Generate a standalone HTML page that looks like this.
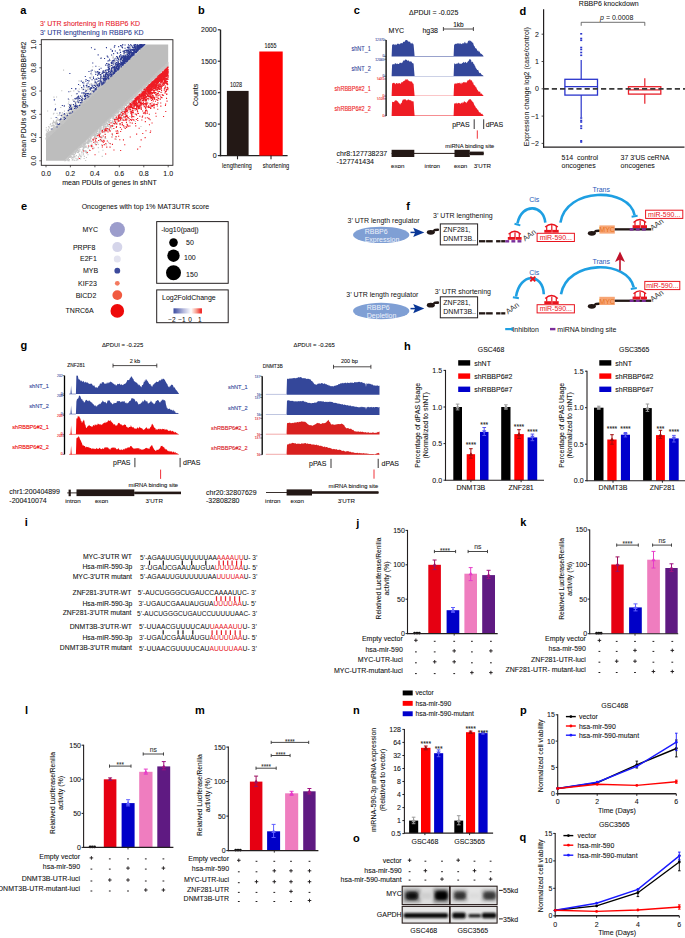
<!DOCTYPE html>
<html><head><meta charset="utf-8"><style>
html,body{margin:0;padding:0;background:#fff;width:685px;height:938px;overflow:hidden}
svg{display:block;font-family:"Liberation Sans", sans-serif}
</style></head><body>
<svg width="685" height="938" viewBox="0 0 685 938" font-family='"Liberation Sans", sans-serif' fill="#111">
<rect width="685" height="938" fill="#fff"/>
<text x="20.2" y="14.0" font-size="11" fill="#000" font-weight="bold">a</text>
<text x="40.0" y="26.3" font-size="7" fill="#e8202a" stroke="#e8202a" stroke-width="0.08">3' UTR shortening in RBBP6 KD</text>
<text x="40.0" y="34.8" font-size="7" fill="#2b3990" stroke="#2b3990" stroke-width="0.08">3' UTR lengthening in RBBP6 KD</text>
<path d="M46.0,160.8 L64.3,160.8 L168.2,65.4 L168.2,44.5 L146.2,44.5 L46.0,135.2Z" fill="#bdbdbd"/>
<path d="M85.0,142.7h1.1v1.1h-1.1zM98.4,128.7h1.1v1.1h-1.1zM112.8,122.8h1.1v1.1h-1.1zM116.7,114.4h1.1v1.1h-1.1zM93.9,131.8h1.1v1.1h-1.1zM111.5,72.1h1.1v1.1h-1.1zM128.8,102.9h1.1v1.1h-1.1zM123.5,64.5h1.1v1.1h-1.1zM132.5,99.9h1.1v1.1h-1.1zM106.1,73.7h1.1v1.1h-1.1zM102.3,82.8h1.1v1.1h-1.1zM75.8,155.1h1.1v1.1h-1.1zM75.3,107.0h1.1v1.1h-1.1zM165.2,67.5h1.1v1.1h-1.1zM65.6,119.3h1.1v1.1h-1.1zM105.2,137.9h1.1v1.1h-1.1zM54.9,128.1h1.1v1.1h-1.1zM88.2,94.1h1.1v1.1h-1.1zM101.2,139.8h1.1v1.1h-1.1zM103.4,122.9h1.1v1.1h-1.1zM131.2,56.0h1.1v1.1h-1.1zM92.6,94.3h1.1v1.1h-1.1zM101.9,128.9h1.1v1.1h-1.1zM105.8,127.9h1.1v1.1h-1.1zM100.3,75.8h1.1v1.1h-1.1zM125.9,104.6h1.1v1.1h-1.1zM117.4,69.1h1.1v1.1h-1.1zM63.3,117.4h1.1v1.1h-1.1zM84.4,146.8h1.1v1.1h-1.1zM108.4,120.9h1.1v1.1h-1.1zM93.6,88.2h1.1v1.1h-1.1zM99.3,128.6h1.1v1.1h-1.1zM111.0,71.9h1.1v1.1h-1.1zM63.6,105.8h1.1v1.1h-1.1zM119.0,68.6h1.1v1.1h-1.1zM83.6,142.0h1.1v1.1h-1.1zM87.3,96.1h1.1v1.1h-1.1zM130.0,98.4h1.1v1.1h-1.1zM111.8,122.0h1.1v1.1h-1.1zM81.9,149.3h1.1v1.1h-1.1zM77.4,96.4h1.1v1.1h-1.1zM88.9,140.3h1.1v1.1h-1.1zM120.4,115.0h1.1v1.1h-1.1zM145.5,83.7h1.1v1.1h-1.1zM105.7,144.3h1.1v1.1h-1.1zM142.0,45.9h1.1v1.1h-1.1zM130.1,55.7h1.1v1.1h-1.1zM90.0,135.9h1.1v1.1h-1.1zM102.9,83.4h1.1v1.1h-1.1zM121.7,108.5h1.1v1.1h-1.1zM125.2,111.2h1.1v1.1h-1.1zM60.1,117.4h1.1v1.1h-1.1zM98.5,88.4h1.1v1.1h-1.1zM136.3,98.0h1.1v1.1h-1.1zM66.2,158.1h1.1v1.1h-1.1zM117.6,62.0h1.1v1.1h-1.1zM63.3,116.7h1.1v1.1h-1.1zM88.3,137.1h1.1v1.1h-1.1zM143.1,88.6h1.1v1.1h-1.1zM69.3,155.2h1.1v1.1h-1.1zM85.3,92.0h1.1v1.1h-1.1zM52.9,120.3h1.1v1.1h-1.1zM126.4,53.1h1.1v1.1h-1.1zM152.8,79.5h1.1v1.1h-1.1zM109.4,127.6h1.1v1.1h-1.1zM140.3,95.2h1.1v1.1h-1.1zM134.1,95.4h1.1v1.1h-1.1zM108.8,71.0h1.1v1.1h-1.1zM79.3,149.2h1.1v1.1h-1.1zM114.1,115.4h1.1v1.1h-1.1zM120.3,112.6h1.1v1.1h-1.1zM100.7,83.0h1.1v1.1h-1.1zM75.7,97.1h1.1v1.1h-1.1zM154.5,83.5h1.1v1.1h-1.1zM84.1,143.9h1.1v1.1h-1.1zM71.4,106.6h1.1v1.1h-1.1zM155.1,88.1h1.1v1.1h-1.1zM124.1,63.7h1.1v1.1h-1.1zM65.3,159.7h1.1v1.1h-1.1zM98.2,87.0h1.1v1.1h-1.1zM69.4,116.0h1.1v1.1h-1.1zM90.2,92.5h1.1v1.1h-1.1zM99.3,129.0h1.1v1.1h-1.1zM108.7,75.4h1.1v1.1h-1.1zM58.3,125.5h1.1v1.1h-1.1zM156.2,74.0h1.1v1.1h-1.1zM61.3,114.3h1.1v1.1h-1.1zM128.1,58.0h1.1v1.1h-1.1zM111.0,70.6h1.1v1.1h-1.1zM67.9,158.0h1.1v1.1h-1.1zM78.2,146.8h1.1v1.1h-1.1zM132.2,113.4h1.1v1.1h-1.1zM77.5,148.4h1.1v1.1h-1.1zM83.6,99.1h1.1v1.1h-1.1zM70.6,111.7h1.1v1.1h-1.1zM67.2,110.1h1.1v1.1h-1.1zM167.0,62.1h1.1v1.1h-1.1zM135.0,96.2h1.1v1.1h-1.1zM75.5,110.2h1.1v1.1h-1.1zM112.2,57.4h1.1v1.1h-1.1zM87.3,140.6h1.1v1.1h-1.1zM87.9,146.8h1.1v1.1h-1.1zM47.2,134.7h1.1v1.1h-1.1zM52.2,122.2h1.1v1.1h-1.1zM127.4,56.6h1.1v1.1h-1.1zM130.1,100.4h1.1v1.1h-1.1zM64.7,121.0h1.1v1.1h-1.1zM89.9,78.1h1.1v1.1h-1.1zM112.3,114.3h1.1v1.1h-1.1zM153.3,77.4h1.1v1.1h-1.1zM45.6,138.7h1.1v1.1h-1.1zM79.5,146.7h1.1v1.1h-1.1zM140.3,89.0h1.1v1.1h-1.1zM56.4,124.3h1.1v1.1h-1.1zM93.6,91.6h1.1v1.1h-1.1zM73.9,156.2h1.1v1.1h-1.1zM132.9,48.5h1.1v1.1h-1.1zM133.5,54.7h1.1v1.1h-1.1zM133.9,93.7h1.1v1.1h-1.1zM144.7,95.8h1.1v1.1h-1.1zM137.5,99.3h1.1v1.1h-1.1zM116.8,110.2h1.1v1.1h-1.1zM50.6,117.7h1.1v1.1h-1.1zM91.5,91.2h1.1v1.1h-1.1zM122.2,108.2h1.1v1.1h-1.1zM106.9,124.8h1.1v1.1h-1.1zM53.5,130.1h1.1v1.1h-1.1zM54.5,129.3h1.1v1.1h-1.1zM137.9,96.8h1.1v1.1h-1.1zM54.8,122.8h1.1v1.1h-1.1zM120.8,106.4h1.1v1.1h-1.1zM63.5,116.7h1.1v1.1h-1.1zM130.1,97.2h1.1v1.1h-1.1zM52.9,113.5h1.1v1.1h-1.1zM81.0,102.2h1.1v1.1h-1.1zM102.4,149.7h1.1v1.1h-1.1zM112.5,55.5h1.1v1.1h-1.1zM159.9,70.6h1.1v1.1h-1.1zM54.8,103.7h1.1v1.1h-1.1zM92.7,133.1h1.1v1.1h-1.1zM56.5,112.8h1.1v1.1h-1.1zM61.7,112.5h1.1v1.1h-1.1zM131.4,99.5h1.1v1.1h-1.1zM45.9,132.9h1.1v1.1h-1.1zM95.0,133.4h1.1v1.1h-1.1zM91.4,143.6h1.1v1.1h-1.1zM45.7,129.6h1.1v1.1h-1.1zM53.4,96.6h1.1v1.1h-1.1zM117.4,57.2h1.1v1.1h-1.1zM137.8,91.5h1.1v1.1h-1.1zM51.8,128.0h1.1v1.1h-1.1zM63.6,119.0h1.1v1.1h-1.1zM84.0,94.6h1.1v1.1h-1.1zM97.7,136.7h1.1v1.1h-1.1zM122.5,111.0h1.1v1.1h-1.1zM51.5,130.4h1.1v1.1h-1.1zM137.4,48.3h1.1v1.1h-1.1zM156.9,72.6h1.1v1.1h-1.1zM96.1,89.2h1.1v1.1h-1.1zM135.8,50.6h1.1v1.1h-1.1zM74.6,107.3h1.1v1.1h-1.1zM93.6,137.2h1.1v1.1h-1.1zM54.6,126.4h1.1v1.1h-1.1zM100.8,57.1h1.1v1.1h-1.1zM100.4,129.5h1.1v1.1h-1.1zM75.3,151.5h1.1v1.1h-1.1zM144.4,95.0h1.1v1.1h-1.1zM137.1,49.6h1.1v1.1h-1.1zM136.6,93.4h1.1v1.1h-1.1zM86.8,142.0h1.1v1.1h-1.1zM115.6,71.8h1.1v1.1h-1.1zM107.0,119.7h1.1v1.1h-1.1zM99.9,77.6h1.1v1.1h-1.1zM152.1,76.9h1.1v1.1h-1.1zM97.4,71.8h1.1v1.1h-1.1zM105.3,123.3h1.1v1.1h-1.1zM75.8,150.1h1.1v1.1h-1.1zM133.6,54.9h1.1v1.1h-1.1zM140.4,95.3h1.1v1.1h-1.1zM73.9,156.1h1.1v1.1h-1.1zM82.6,147.5h1.1v1.1h-1.1zM110.0,71.6h1.1v1.1h-1.1zM160.8,70.5h1.1v1.1h-1.1zM72.8,151.7h1.1v1.1h-1.1zM82.3,102.5h1.1v1.1h-1.1zM84.1,144.3h1.1v1.1h-1.1zM74.1,150.5h1.1v1.1h-1.1zM95.8,91.1h1.1v1.1h-1.1zM69.2,116.3h1.1v1.1h-1.1zM73.3,99.3h1.1v1.1h-1.1zM73.2,157.5h1.1v1.1h-1.1zM133.2,49.8h1.1v1.1h-1.1zM69.7,109.2h1.1v1.1h-1.1zM107.1,122.6h1.1v1.1h-1.1zM69.9,155.8h1.1v1.1h-1.1zM72.5,113.0h1.1v1.1h-1.1zM121.7,117.0h1.1v1.1h-1.1zM104.7,136.8h1.1v1.1h-1.1zM63.3,122.0h1.1v1.1h-1.1zM132.2,97.8h1.1v1.1h-1.1zM167.3,63.8h1.1v1.1h-1.1zM68.1,117.6h1.1v1.1h-1.1zM126.6,52.5h1.1v1.1h-1.1zM45.8,138.5h1.1v1.1h-1.1zM96.8,133.1h1.1v1.1h-1.1zM138.2,48.8h1.1v1.1h-1.1zM131.6,98.1h1.1v1.1h-1.1zM157.8,72.8h1.1v1.1h-1.1zM135.6,53.4h1.1v1.1h-1.1zM95.6,91.3h1.1v1.1h-1.1zM86.4,140.3h1.1v1.1h-1.1zM81.8,143.2h1.1v1.1h-1.1zM74.0,105.5h1.1v1.1h-1.1zM102.4,77.0h1.1v1.1h-1.1zM106.1,128.4h1.1v1.1h-1.1zM135.7,96.7h1.1v1.1h-1.1zM85.5,98.0h1.1v1.1h-1.1zM141.2,90.3h1.1v1.1h-1.1zM93.3,133.6h1.1v1.1h-1.1zM112.0,134.9h1.1v1.1h-1.1zM153.4,76.6h1.1v1.1h-1.1zM61.7,118.8h1.1v1.1h-1.1zM127.8,107.2h1.1v1.1h-1.1zM81.4,100.8h1.1v1.1h-1.1zM91.0,94.8h1.1v1.1h-1.1zM75.7,150.3h1.1v1.1h-1.1zM79.8,147.0h1.1v1.1h-1.1zM93.8,135.3h1.1v1.1h-1.1zM73.7,156.3h1.1v1.1h-1.1zM166.5,62.5h1.1v1.1h-1.1zM153.3,84.6h1.1v1.1h-1.1zM157.2,82.3h1.1v1.1h-1.1zM73.9,151.7h1.1v1.1h-1.1zM164.3,78.5h1.1v1.1h-1.1zM90.9,137.5h1.1v1.1h-1.1zM77.2,148.0h1.1v1.1h-1.1zM118.3,68.7h1.1v1.1h-1.1zM90.5,135.1h1.1v1.1h-1.1zM167.6,66.2h1.1v1.1h-1.1zM125.1,110.7h1.1v1.1h-1.1zM68.1,117.4h1.1v1.1h-1.1zM49.3,131.5h1.1v1.1h-1.1zM126.6,105.8h1.1v1.1h-1.1zM78.6,102.0h1.1v1.1h-1.1zM96.5,131.1h1.1v1.1h-1.1zM114.7,70.6h1.1v1.1h-1.1zM47.7,131.8h1.1v1.1h-1.1zM93.2,92.7h1.1v1.1h-1.1zM90.0,136.0h1.1v1.1h-1.1zM156.6,76.3h1.1v1.1h-1.1zM158.8,70.7h1.1v1.1h-1.1zM80.1,158.3h1.1v1.1h-1.1zM58.7,119.3h1.1v1.1h-1.1zM142.3,87.4h1.1v1.1h-1.1zM147.8,99.7h1.1v1.1h-1.1zM104.4,126.4h1.1v1.1h-1.1zM123.2,116.0h1.1v1.1h-1.1zM121.3,110.9h1.1v1.1h-1.1zM69.4,115.5h1.1v1.1h-1.1zM72.1,99.3h1.1v1.1h-1.1zM64.6,120.4h1.1v1.1h-1.1zM75.6,149.2h1.1v1.1h-1.1zM114.2,118.1h1.1v1.1h-1.1zM85.1,96.8h1.1v1.1h-1.1zM112.7,69.9h1.1v1.1h-1.1zM83.1,144.8h1.1v1.1h-1.1zM126.0,59.0h1.1v1.1h-1.1zM105.3,123.9h1.1v1.1h-1.1zM121.0,57.9h1.1v1.1h-1.1zM144.5,44.5h1.1v1.1h-1.1zM61.1,122.0h1.1v1.1h-1.1zM143.5,84.6h1.1v1.1h-1.1zM61.4,116.3h1.1v1.1h-1.1zM108.0,125.5h1.1v1.1h-1.1zM154.8,73.8h1.1v1.1h-1.1zM144.6,89.4h1.1v1.1h-1.1zM133.6,94.2h1.1v1.1h-1.1zM88.3,97.6h1.1v1.1h-1.1zM101.2,82.6h1.1v1.1h-1.1zM157.9,75.4h1.1v1.1h-1.1zM120.7,108.1h1.1v1.1h-1.1zM123.2,59.3h1.1v1.1h-1.1zM154.9,81.8h1.1v1.1h-1.1zM77.8,152.2h1.1v1.1h-1.1zM89.4,93.2h1.1v1.1h-1.1zM116.3,111.8h1.1v1.1h-1.1zM110.9,70.0h1.1v1.1h-1.1zM90.8,71.7h1.1v1.1h-1.1zM116.0,70.1h1.1v1.1h-1.1zM136.3,93.1h1.1v1.1h-1.1zM108.5,74.0h1.1v1.1h-1.1zM136.7,91.7h1.1v1.1h-1.1zM120.7,64.8h1.1v1.1h-1.1zM89.9,136.1h1.1v1.1h-1.1zM73.2,151.4h1.1v1.1h-1.1zM45.8,137.1h1.1v1.1h-1.1zM109.4,119.6h1.1v1.1h-1.1zM82.3,143.9h1.1v1.1h-1.1zM121.7,65.8h1.1v1.1h-1.1zM100.5,130.6h1.1v1.1h-1.1zM77.7,147.3h1.1v1.1h-1.1zM116.1,70.5h1.1v1.1h-1.1zM155.9,72.9h1.1v1.1h-1.1zM112.8,114.4h1.1v1.1h-1.1zM69.8,107.3h1.1v1.1h-1.1zM66.8,118.7h1.1v1.1h-1.1zM121.9,59.9h1.1v1.1h-1.1zM46.2,131.4h1.1v1.1h-1.1zM102.3,84.2h1.1v1.1h-1.1zM50.2,123.2h1.1v1.1h-1.1zM78.0,102.3h1.1v1.1h-1.1zM158.9,70.2h1.1v1.1h-1.1zM107.5,120.3h1.1v1.1h-1.1zM136.6,51.4h1.1v1.1h-1.1zM93.0,135.0h1.1v1.1h-1.1zM110.3,126.2h1.1v1.1h-1.1zM98.9,131.3h1.1v1.1h-1.1zM83.1,144.5h1.1v1.1h-1.1zM117.0,110.4h1.1v1.1h-1.1zM122.9,111.0h1.1v1.1h-1.1zM53.5,130.5h1.1v1.1h-1.1zM162.1,77.8h1.1v1.1h-1.1zM137.8,50.8h1.1v1.1h-1.1zM70.6,153.9h1.1v1.1h-1.1zM161.4,76.4h1.1v1.1h-1.1zM122.6,62.5h1.1v1.1h-1.1zM86.6,100.1h1.1v1.1h-1.1zM76.8,109.2h1.1v1.1h-1.1zM119.0,59.3h1.1v1.1h-1.1zM121.0,113.9h1.1v1.1h-1.1zM131.6,102.3h1.1v1.1h-1.1zM137.2,90.4h1.1v1.1h-1.1zM105.4,76.0h1.1v1.1h-1.1zM73.7,151.4h1.1v1.1h-1.1zM123.2,107.2h1.1v1.1h-1.1zM166.6,67.6h1.1v1.1h-1.1zM88.9,84.2h1.1v1.1h-1.1zM154.4,76.8h1.1v1.1h-1.1zM124.4,63.0h1.1v1.1h-1.1zM77.6,149.6h1.1v1.1h-1.1zM153.5,90.0h1.1v1.1h-1.1zM85.4,150.3h1.1v1.1h-1.1zM100.5,86.0h1.1v1.1h-1.1zM99.1,83.8h1.1v1.1h-1.1zM60.9,119.3h1.1v1.1h-1.1zM130.6,98.3h1.1v1.1h-1.1zM137.7,96.6h1.1v1.1h-1.1zM88.1,139.2h1.1v1.1h-1.1zM68.6,156.6h1.1v1.1h-1.1zM125.8,103.7h1.1v1.1h-1.1zM98.6,127.7h1.1v1.1h-1.1zM92.9,132.6h1.1v1.1h-1.1zM106.6,77.9h1.1v1.1h-1.1zM62.8,122.8h1.1v1.1h-1.1zM75.1,104.8h1.1v1.1h-1.1zM117.2,61.2h1.1v1.1h-1.1zM127.1,106.0h1.1v1.1h-1.1zM123.8,61.7h1.1v1.1h-1.1zM77.2,159.3h1.1v1.1h-1.1zM75.1,104.6h1.1v1.1h-1.1zM122.4,56.2h1.1v1.1h-1.1zM104.4,126.6h1.1v1.1h-1.1zM95.5,141.9h1.1v1.1h-1.1zM85.5,142.1h1.1v1.1h-1.1zM105.3,120.9h1.1v1.1h-1.1zM111.8,121.1h1.1v1.1h-1.1zM161.7,70.9h1.1v1.1h-1.1zM57.8,123.5h1.1v1.1h-1.1zM133.1,99.6h1.1v1.1h-1.1zM161.3,91.7h1.1v1.1h-1.1zM120.5,107.8h1.1v1.1h-1.1zM92.1,133.4h1.1v1.1h-1.1zM96.6,85.5h1.1v1.1h-1.1zM127.9,60.2h1.1v1.1h-1.1zM82.5,89.3h1.1v1.1h-1.1zM109.9,143.4h1.1v1.1h-1.1zM123.0,60.2h1.1v1.1h-1.1zM133.5,96.2h1.1v1.1h-1.1zM123.5,61.7h1.1v1.1h-1.1zM81.4,151.4h1.1v1.1h-1.1zM102.8,124.7h1.1v1.1h-1.1zM91.4,74.3h1.1v1.1h-1.1zM128.4,60.4h1.1v1.1h-1.1zM133.7,53.1h1.1v1.1h-1.1zM125.4,59.8h1.1v1.1h-1.1zM97.8,133.5h1.1v1.1h-1.1zM89.7,87.1h1.1v1.1h-1.1zM52.4,124.7h1.1v1.1h-1.1zM62.6,117.7h1.1v1.1h-1.1zM54.2,129.4h1.1v1.1h-1.1zM68.1,115.5h1.1v1.1h-1.1zM64.1,113.4h1.1v1.1h-1.1zM130.1,104.2h1.1v1.1h-1.1zM99.0,130.9h1.1v1.1h-1.1zM77.8,156.1h1.1v1.1h-1.1zM103.3,126.1h1.1v1.1h-1.1zM65.6,159.5h1.1v1.1h-1.1zM84.6,96.3h1.1v1.1h-1.1zM167.6,62.4h1.1v1.1h-1.1zM89.5,135.9h1.1v1.1h-1.1zM51.1,125.3h1.1v1.1h-1.1zM56.9,124.9h1.1v1.1h-1.1zM155.1,74.6h1.1v1.1h-1.1zM96.2,131.5h1.1v1.1h-1.1zM140.6,88.9h1.1v1.1h-1.1zM87.2,95.3h1.1v1.1h-1.1zM105.8,78.2h1.1v1.1h-1.1zM78.7,88.4h1.1v1.1h-1.1zM125.4,103.7h1.1v1.1h-1.1zM84.2,101.7h1.1v1.1h-1.1zM164.3,72.6h1.1v1.1h-1.1zM50.3,130.5h1.1v1.1h-1.1zM51.5,132.9h1.1v1.1h-1.1zM51.1,129.0h1.1v1.1h-1.1zM125.9,57.8h1.1v1.1h-1.1zM122.0,106.0h1.1v1.1h-1.1zM127.0,56.6h1.1v1.1h-1.1zM97.0,141.5h1.1v1.1h-1.1zM125.6,52.3h1.1v1.1h-1.1zM62.4,118.9h1.1v1.1h-1.1zM77.0,108.2h1.1v1.1h-1.1zM123.9,106.7h1.1v1.1h-1.1zM109.3,124.7h1.1v1.1h-1.1zM96.9,87.3h1.1v1.1h-1.1zM47.2,133.0h1.1v1.1h-1.1zM166.8,65.6h1.1v1.1h-1.1zM95.8,130.2h1.1v1.1h-1.1zM103.2,127.9h1.1v1.1h-1.1zM97.6,134.1h1.1v1.1h-1.1zM60.3,125.1h1.1v1.1h-1.1zM133.4,97.2h1.1v1.1h-1.1zM136.4,93.5h1.1v1.1h-1.1zM136.8,97.6h1.1v1.1h-1.1zM55.8,126.3h1.1v1.1h-1.1zM83.6,157.9h1.1v1.1h-1.1zM147.5,82.6h1.1v1.1h-1.1zM124.3,60.9h1.1v1.1h-1.1zM141.3,46.3h1.1v1.1h-1.1zM52.9,121.6h1.1v1.1h-1.1zM134.1,102.6h1.1v1.1h-1.1zM118.9,64.8h1.1v1.1h-1.1zM164.8,66.6h1.1v1.1h-1.1zM129.1,106.7h1.1v1.1h-1.1zM80.1,146.8h1.1v1.1h-1.1zM78.2,151.1h1.1v1.1h-1.1zM145.2,84.6h1.1v1.1h-1.1zM55.8,121.1h1.1v1.1h-1.1zM69.9,156.3h1.1v1.1h-1.1zM52.5,129.3h1.1v1.1h-1.1zM70.7,110.7h1.1v1.1h-1.1zM46.6,135.0h1.1v1.1h-1.1zM56.2,121.4h1.1v1.1h-1.1zM73.9,100.9h1.1v1.1h-1.1zM109.2,74.9h1.1v1.1h-1.1zM70.1,155.3h1.1v1.1h-1.1zM67.5,115.9h1.1v1.1h-1.1zM114.4,65.8h1.1v1.1h-1.1zM150.2,78.3h1.1v1.1h-1.1zM90.9,88.0h1.1v1.1h-1.1zM108.9,117.8h1.1v1.1h-1.1zM70.5,110.9h1.1v1.1h-1.1zM71.5,111.6h1.1v1.1h-1.1zM161.1,69.2h1.1v1.1h-1.1zM91.7,134.0h1.1v1.1h-1.1zM113.6,71.0h1.1v1.1h-1.1zM148.8,89.8h1.1v1.1h-1.1zM123.6,109.7h1.1v1.1h-1.1zM56.4,124.5h1.1v1.1h-1.1zM123.7,63.8h1.1v1.1h-1.1zM166.6,63.3h1.1v1.1h-1.1zM113.0,122.9h1.1v1.1h-1.1zM51.2,133.5h1.1v1.1h-1.1zM128.2,55.9h1.1v1.1h-1.1zM99.4,129.7h1.1v1.1h-1.1zM90.9,95.4h1.1v1.1h-1.1zM104.3,124.8h1.1v1.1h-1.1zM144.1,87.1h1.1v1.1h-1.1zM157.0,72.5h1.1v1.1h-1.1zM147.2,95.1h1.1v1.1h-1.1zM151.4,84.8h1.1v1.1h-1.1zM122.2,47.5h1.1v1.1h-1.1zM84.9,143.6h1.1v1.1h-1.1zM122.2,106.7h1.1v1.1h-1.1zM135.4,98.6h1.1v1.1h-1.1zM113.1,116.4h1.1v1.1h-1.1zM63.7,119.2h1.1v1.1h-1.1zM64.5,116.8h1.1v1.1h-1.1zM81.7,144.8h1.1v1.1h-1.1zM58.8,114.4h1.1v1.1h-1.1zM141.7,90.4h1.1v1.1h-1.1zM147.5,82.1h1.1v1.1h-1.1zM70.1,112.9h1.1v1.1h-1.1zM57.4,125.2h1.1v1.1h-1.1zM65.3,119.6h1.1v1.1h-1.1zM123.6,56.3h1.1v1.1h-1.1zM87.1,141.1h1.1v1.1h-1.1zM141.9,46.4h1.1v1.1h-1.1zM98.6,87.4h1.1v1.1h-1.1zM115.3,121.0h1.1v1.1h-1.1zM109.2,123.5h1.1v1.1h-1.1zM131.9,100.0h1.1v1.1h-1.1zM108.9,121.1h1.1v1.1h-1.1zM87.9,89.2h1.1v1.1h-1.1zM95.5,90.9h1.1v1.1h-1.1zM126.8,101.4h1.1v1.1h-1.1zM131.3,98.3h1.1v1.1h-1.1zM159.4,70.0h1.1v1.1h-1.1zM132.8,48.3h1.1v1.1h-1.1zM151.5,78.5h1.1v1.1h-1.1zM58.6,123.7h1.1v1.1h-1.1zM163.7,70.2h1.1v1.1h-1.1zM66.0,118.3h1.1v1.1h-1.1zM145.3,82.8h1.1v1.1h-1.1zM158.6,71.6h1.1v1.1h-1.1zM131.3,98.2h1.1v1.1h-1.1zM60.5,120.4h1.1v1.1h-1.1zM138.5,89.8h1.1v1.1h-1.1zM95.0,134.6h1.1v1.1h-1.1zM73.2,152.1h1.1v1.1h-1.1zM115.5,71.8h1.1v1.1h-1.1zM118.4,110.9h1.1v1.1h-1.1zM74.8,104.8h1.1v1.1h-1.1zM149.0,81.2h1.1v1.1h-1.1zM63.4,120.8h1.1v1.1h-1.1zM97.0,131.0h1.1v1.1h-1.1zM110.3,118.0h1.1v1.1h-1.1zM70.0,155.7h1.1v1.1h-1.1zM96.9,82.5h1.1v1.1h-1.1zM159.9,77.4h1.1v1.1h-1.1zM153.5,75.0h1.1v1.1h-1.1zM123.9,51.6h1.1v1.1h-1.1zM121.6,110.3h1.1v1.1h-1.1zM76.1,151.5h1.1v1.1h-1.1zM87.9,137.9h1.1v1.1h-1.1zM118.1,69.7h1.1v1.1h-1.1zM117.6,112.1h1.1v1.1h-1.1zM108.0,66.9h1.1v1.1h-1.1zM116.0,70.7h1.1v1.1h-1.1zM56.2,119.5h1.1v1.1h-1.1zM120.0,112.3h1.1v1.1h-1.1zM70.0,112.7h1.1v1.1h-1.1zM112.4,72.3h1.1v1.1h-1.1zM83.4,143.7h1.1v1.1h-1.1zM68.5,99.1h1.1v1.1h-1.1zM93.9,92.3h1.1v1.1h-1.1zM105.5,71.1h1.1v1.1h-1.1zM88.0,141.0h1.1v1.1h-1.1zM128.3,101.7h1.1v1.1h-1.1zM127.1,105.9h1.1v1.1h-1.1zM120.8,58.6h1.1v1.1h-1.1zM108.7,77.5h1.1v1.1h-1.1zM122.5,107.1h1.1v1.1h-1.1zM58.1,119.7h1.1v1.1h-1.1zM117.0,68.5h1.1v1.1h-1.1zM166.8,65.0h1.1v1.1h-1.1zM141.2,89.1h1.1v1.1h-1.1zM100.7,84.9h1.1v1.1h-1.1zM88.5,95.7h1.1v1.1h-1.1zM113.3,69.3h1.1v1.1h-1.1zM46.3,136.0h1.1v1.1h-1.1zM82.1,95.9h1.1v1.1h-1.1zM98.7,84.1h1.1v1.1h-1.1zM56.2,127.0h1.1v1.1h-1.1zM148.5,96.3h1.1v1.1h-1.1zM70.4,103.9h1.1v1.1h-1.1zM162.3,66.8h1.1v1.1h-1.1zM114.5,71.7h1.1v1.1h-1.1zM111.0,72.9h1.1v1.1h-1.1zM89.2,94.6h1.1v1.1h-1.1zM57.5,124.2h1.1v1.1h-1.1zM124.7,113.4h1.1v1.1h-1.1zM136.7,91.9h1.1v1.1h-1.1zM84.3,149.9h1.1v1.1h-1.1zM108.1,123.7h1.1v1.1h-1.1zM81.5,96.0h1.1v1.1h-1.1zM109.5,120.4h1.1v1.1h-1.1zM68.4,156.1h1.1v1.1h-1.1zM114.5,114.3h1.1v1.1h-1.1zM166.9,68.3h1.1v1.1h-1.1zM129.9,110.4h1.1v1.1h-1.1zM94.0,136.1h1.1v1.1h-1.1zM127.1,101.0h1.1v1.1h-1.1zM154.9,78.0h1.1v1.1h-1.1zM95.7,130.7h1.1v1.1h-1.1zM108.8,117.6h1.1v1.1h-1.1zM54.8,121.4h1.1v1.1h-1.1zM120.4,111.9h1.1v1.1h-1.1zM129.1,58.9h1.1v1.1h-1.1zM74.6,110.6h1.1v1.1h-1.1zM78.0,157.0h1.1v1.1h-1.1zM161.3,69.7h1.1v1.1h-1.1zM100.4,86.9h1.1v1.1h-1.1zM72.3,109.2h1.1v1.1h-1.1zM74.6,150.2h1.1v1.1h-1.1zM159.2,71.4h1.1v1.1h-1.1zM119.1,48.9h1.1v1.1h-1.1zM53.7,125.6h1.1v1.1h-1.1zM116.9,69.4h1.1v1.1h-1.1zM151.5,77.7h1.1v1.1h-1.1zM89.2,136.1h1.1v1.1h-1.1zM59.5,123.8h1.1v1.1h-1.1zM125.0,104.8h1.1v1.1h-1.1zM157.0,74.1h1.1v1.1h-1.1zM102.5,83.6h1.1v1.1h-1.1zM64.5,160.1h1.1v1.1h-1.1zM78.4,150.6h1.1v1.1h-1.1zM102.5,124.3h1.1v1.1h-1.1zM88.6,95.8h1.1v1.1h-1.1zM162.6,68.1h1.1v1.1h-1.1zM103.6,123.7h1.1v1.1h-1.1zM100.8,140.0h1.1v1.1h-1.1zM90.4,137.6h1.1v1.1h-1.1zM107.8,129.1h1.1v1.1h-1.1zM78.5,107.7h1.1v1.1h-1.1zM133.2,96.1h1.1v1.1h-1.1zM93.1,138.6h1.1v1.1h-1.1zM140.3,89.5h1.1v1.1h-1.1zM126.4,101.0h1.1v1.1h-1.1zM133.3,95.5h1.1v1.1h-1.1zM60.9,122.9h1.1v1.1h-1.1zM94.7,84.6h1.1v1.1h-1.1zM153.3,89.5h1.1v1.1h-1.1zM67.0,112.8h1.1v1.1h-1.1zM126.5,50.2h1.1v1.1h-1.1zM48.5,134.9h1.1v1.1h-1.1zM57.4,127.3h1.1v1.1h-1.1zM157.0,78.1h1.1v1.1h-1.1zM98.1,88.3h1.1v1.1h-1.1zM135.7,48.3h1.1v1.1h-1.1zM160.5,72.6h1.1v1.1h-1.1zM127.3,47.0h1.1v1.1h-1.1zM59.1,114.2h1.1v1.1h-1.1zM152.4,95.0h1.1v1.1h-1.1zM128.7,106.7h1.1v1.1h-1.1zM71.1,107.6h1.1v1.1h-1.1zM56.0,96.5h1.1v1.1h-1.1zM120.6,107.9h1.1v1.1h-1.1zM56.4,125.8h1.1v1.1h-1.1zM87.0,96.0h1.1v1.1h-1.1zM128.1,101.9h1.1v1.1h-1.1zM108.0,121.7h1.1v1.1h-1.1zM68.6,116.3h1.1v1.1h-1.1zM76.0,149.6h1.1v1.1h-1.1zM87.9,138.5h1.1v1.1h-1.1zM83.4,147.6h1.1v1.1h-1.1zM104.9,81.3h1.1v1.1h-1.1zM75.0,110.5h1.1v1.1h-1.1zM123.8,64.0h1.1v1.1h-1.1zM131.9,97.5h1.1v1.1h-1.1zM101.8,76.4h1.1v1.1h-1.1zM59.4,125.9h1.1v1.1h-1.1zM104.9,121.4h1.1v1.1h-1.1zM79.8,145.6h1.1v1.1h-1.1zM83.2,142.7h1.1v1.1h-1.1zM99.8,85.8h1.1v1.1h-1.1zM113.6,112.9h1.1v1.1h-1.1zM133.1,55.3h1.1v1.1h-1.1zM105.2,79.0h1.1v1.1h-1.1zM141.2,48.1h1.1v1.1h-1.1zM93.8,133.6h1.1v1.1h-1.1zM68.1,156.7h1.1v1.1h-1.1zM133.3,48.6h1.1v1.1h-1.1zM85.4,145.2h1.1v1.1h-1.1zM89.0,138.7h1.1v1.1h-1.1zM112.8,65.7h1.1v1.1h-1.1zM76.4,148.4h1.1v1.1h-1.1zM114.7,61.1h1.1v1.1h-1.1zM134.7,49.5h1.1v1.1h-1.1zM122.0,110.9h1.1v1.1h-1.1zM65.4,115.0h1.1v1.1h-1.1zM94.5,141.0h1.1v1.1h-1.1zM104.0,128.7h1.1v1.1h-1.1zM45.8,138.2h1.1v1.1h-1.1zM96.9,90.0h1.1v1.1h-1.1zM65.5,120.2h1.1v1.1h-1.1zM102.7,81.0h1.1v1.1h-1.1zM97.8,147.1h1.1v1.1h-1.1zM163.0,74.6h1.1v1.1h-1.1zM52.8,127.4h1.1v1.1h-1.1zM81.7,88.8h1.1v1.1h-1.1zM104.2,123.6h1.1v1.1h-1.1zM87.4,147.6h1.1v1.1h-1.1zM72.6,107.3h1.1v1.1h-1.1zM63.4,118.0h1.1v1.1h-1.1zM114.5,72.0h1.1v1.1h-1.1zM73.2,155.4h1.1v1.1h-1.1zM59.2,120.8h1.1v1.1h-1.1zM68.4,111.0h1.1v1.1h-1.1zM73.2,111.6h1.1v1.1h-1.1zM115.4,118.1h1.1v1.1h-1.1zM156.6,81.9h1.1v1.1h-1.1zM128.5,59.5h1.1v1.1h-1.1zM106.9,124.3h1.1v1.1h-1.1zM162.8,69.2h1.1v1.1h-1.1zM129.3,115.9h1.1v1.1h-1.1zM68.9,109.2h1.1v1.1h-1.1zM118.1,111.8h1.1v1.1h-1.1zM154.0,78.7h1.1v1.1h-1.1zM136.5,44.1h1.1v1.1h-1.1zM135.4,101.2h1.1v1.1h-1.1zM60.4,121.3h1.1v1.1h-1.1zM109.6,71.6h1.1v1.1h-1.1zM50.8,133.7h1.1v1.1h-1.1zM112.5,114.0h1.1v1.1h-1.1zM156.7,73.4h1.1v1.1h-1.1zM69.1,116.7h1.1v1.1h-1.1zM77.0,151.9h1.1v1.1h-1.1zM80.9,96.1h1.1v1.1h-1.1zM117.3,66.8h1.1v1.1h-1.1zM47.1,110.5h1.1v1.1h-1.1zM105.0,71.9h1.1v1.1h-1.1zM143.3,85.0h1.1v1.1h-1.1zM121.3,57.5h1.1v1.1h-1.1zM152.1,78.5h1.1v1.1h-1.1zM110.0,66.1h1.1v1.1h-1.1zM117.5,110.4h1.1v1.1h-1.1zM102.7,82.9h1.1v1.1h-1.1zM86.4,98.2h1.1v1.1h-1.1zM48.0,126.0h1.1v1.1h-1.1zM119.8,113.7h1.1v1.1h-1.1zM63.0,120.9h1.1v1.1h-1.1zM106.6,78.9h1.1v1.1h-1.1zM115.5,136.4h1.1v1.1h-1.1zM140.1,90.0h1.1v1.1h-1.1zM79.9,155.7h1.1v1.1h-1.1zM160.2,70.4h1.1v1.1h-1.1zM138.7,46.8h1.1v1.1h-1.1zM123.1,54.6h1.1v1.1h-1.1zM132.9,55.8h1.1v1.1h-1.1zM86.7,88.8h1.1v1.1h-1.1zM144.3,44.3h1.1v1.1h-1.1zM70.5,112.7h1.1v1.1h-1.1zM93.9,79.4h1.1v1.1h-1.1zM117.2,111.3h1.1v1.1h-1.1zM83.1,103.0h1.1v1.1h-1.1zM68.7,160.2h1.1v1.1h-1.1zM82.6,81.0h1.1v1.1h-1.1zM89.1,91.1h1.1v1.1h-1.1zM66.9,114.8h1.1v1.1h-1.1zM138.1,49.7h1.1v1.1h-1.1zM69.9,105.6h1.1v1.1h-1.1zM124.6,103.8h1.1v1.1h-1.1zM55.1,123.4h1.1v1.1h-1.1zM46.1,134.7h1.1v1.1h-1.1zM71.4,104.0h1.1v1.1h-1.1zM48.8,133.4h1.1v1.1h-1.1zM128.4,59.3h1.1v1.1h-1.1zM150.9,77.8h1.1v1.1h-1.1zM120.3,45.0h1.1v1.1h-1.1zM94.3,82.0h1.1v1.1h-1.1zM48.6,132.0h1.1v1.1h-1.1zM166.1,65.7h1.1v1.1h-1.1zM132.2,55.8h1.1v1.1h-1.1zM139.2,90.8h1.1v1.1h-1.1zM89.7,93.2h1.1v1.1h-1.1zM117.4,114.9h1.1v1.1h-1.1zM119.0,68.0h1.1v1.1h-1.1zM121.1,59.8h1.1v1.1h-1.1zM112.6,71.1h1.1v1.1h-1.1zM89.6,96.6h1.1v1.1h-1.1zM46.6,137.7h1.1v1.1h-1.1zM144.3,44.4h1.1v1.1h-1.1zM122.3,58.8h1.1v1.1h-1.1zM67.7,111.2h1.1v1.1h-1.1zM155.8,76.6h1.1v1.1h-1.1zM88.3,139.9h1.1v1.1h-1.1zM150.5,83.0h1.1v1.1h-1.1zM87.5,96.1h1.1v1.1h-1.1zM85.0,140.6h1.1v1.1h-1.1zM135.1,101.0h1.1v1.1h-1.1zM114.4,61.3h1.1v1.1h-1.1zM91.3,134.2h1.1v1.1h-1.1zM48.0,135.5h1.1v1.1h-1.1zM88.7,90.7h1.1v1.1h-1.1zM124.0,53.5h1.1v1.1h-1.1zM106.4,123.1h1.1v1.1h-1.1zM62.1,121.7h1.1v1.1h-1.1zM86.0,90.0h1.1v1.1h-1.1zM76.0,104.3h1.1v1.1h-1.1zM118.5,68.6h1.1v1.1h-1.1zM135.3,100.1h1.1v1.1h-1.1zM151.0,80.3h1.1v1.1h-1.1zM62.5,117.0h1.1v1.1h-1.1zM143.8,103.2h1.1v1.1h-1.1zM46.6,137.4h1.1v1.1h-1.1zM135.4,99.4h1.1v1.1h-1.1zM102.2,84.8h1.1v1.1h-1.1zM86.9,88.6h1.1v1.1h-1.1zM165.2,68.4h1.1v1.1h-1.1zM70.1,154.5h1.1v1.1h-1.1zM107.1,123.5h1.1v1.1h-1.1zM130.8,96.7h1.1v1.1h-1.1zM154.7,84.8h1.1v1.1h-1.1zM60.2,106.9h1.1v1.1h-1.1zM109.7,117.6h1.1v1.1h-1.1zM129.2,103.2h1.1v1.1h-1.1zM112.1,118.2h1.1v1.1h-1.1zM148.0,82.3h1.1v1.1h-1.1zM71.7,159.6h1.1v1.1h-1.1zM78.8,146.0h1.1v1.1h-1.1zM78.3,147.6h1.1v1.1h-1.1zM51.3,132.1h1.1v1.1h-1.1zM85.3,145.4h1.1v1.1h-1.1zM111.9,69.9h1.1v1.1h-1.1zM84.3,99.8h1.1v1.1h-1.1zM63.9,110.6h1.1v1.1h-1.1zM143.7,85.6h1.1v1.1h-1.1zM106.7,74.9h1.1v1.1h-1.1zM134.7,101.9h1.1v1.1h-1.1zM126.5,110.2h1.1v1.1h-1.1zM141.3,89.2h1.1v1.1h-1.1zM113.7,70.2h1.1v1.1h-1.1zM84.0,144.3h1.1v1.1h-1.1zM124.6,60.3h1.1v1.1h-1.1zM117.8,69.0h1.1v1.1h-1.1zM122.4,63.8h1.1v1.1h-1.1zM53.3,126.9h1.1v1.1h-1.1zM128.2,60.2h1.1v1.1h-1.1zM142.9,98.5h1.1v1.1h-1.1zM103.3,80.4h1.1v1.1h-1.1zM53.5,127.8h1.1v1.1h-1.1zM109.9,76.5h1.1v1.1h-1.1zM66.5,118.2h1.1v1.1h-1.1zM161.2,69.6h1.1v1.1h-1.1zM89.7,96.6h1.1v1.1h-1.1zM64.2,119.0h1.1v1.1h-1.1zM90.0,93.7h1.1v1.1h-1.1zM56.2,127.3h1.1v1.1h-1.1zM100.0,128.9h1.1v1.1h-1.1zM103.9,129.5h1.1v1.1h-1.1zM109.1,122.2h1.1v1.1h-1.1zM109.4,76.9h1.1v1.1h-1.1zM113.4,117.4h1.1v1.1h-1.1zM112.0,74.4h1.1v1.1h-1.1zM77.9,107.9h1.1v1.1h-1.1zM123.2,104.9h1.1v1.1h-1.1zM97.2,85.1h1.1v1.1h-1.1zM90.9,141.1h1.1v1.1h-1.1zM91.4,140.5h1.1v1.1h-1.1zM81.5,102.0h1.1v1.1h-1.1zM119.7,66.4h1.1v1.1h-1.1zM92.5,146.4h1.1v1.1h-1.1zM68.9,116.7h1.1v1.1h-1.1zM70.3,154.5h1.1v1.1h-1.1zM99.9,83.6h1.1v1.1h-1.1zM106.1,120.5h1.1v1.1h-1.1zM114.3,67.5h1.1v1.1h-1.1zM98.7,87.6h1.1v1.1h-1.1zM53.4,128.2h1.1v1.1h-1.1zM108.0,124.0h1.1v1.1h-1.1zM135.9,49.1h1.1v1.1h-1.1zM139.4,49.2h1.1v1.1h-1.1zM72.4,156.5h1.1v1.1h-1.1zM47.3,137.0h1.1v1.1h-1.1zM137.5,51.4h1.1v1.1h-1.1zM128.7,56.7h1.1v1.1h-1.1zM52.1,123.2h1.1v1.1h-1.1zM62.6,114.1h1.1v1.1h-1.1zM152.0,78.3h1.1v1.1h-1.1zM68.7,156.6h1.1v1.1h-1.1zM111.3,76.2h1.1v1.1h-1.1zM92.3,90.4h1.1v1.1h-1.1zM107.9,73.9h1.1v1.1h-1.1zM82.9,152.6h1.1v1.1h-1.1zM143.5,44.1h1.1v1.1h-1.1zM91.1,90.3h1.1v1.1h-1.1zM132.2,97.5h1.1v1.1h-1.1zM143.4,87.7h1.1v1.1h-1.1zM131.8,102.3h1.1v1.1h-1.1zM114.5,73.4h1.1v1.1h-1.1zM72.3,112.0h1.1v1.1h-1.1zM132.3,54.0h1.1v1.1h-1.1zM134.4,104.1h1.1v1.1h-1.1zM52.5,122.4h1.1v1.1h-1.1zM54.2,129.9h1.1v1.1h-1.1zM158.2,74.0h1.1v1.1h-1.1zM127.8,52.5h1.1v1.1h-1.1zM110.8,116.4h1.1v1.1h-1.1zM157.6,74.7h1.1v1.1h-1.1zM102.4,131.6h1.1v1.1h-1.1zM81.3,154.4h1.1v1.1h-1.1zM142.9,86.9h1.1v1.1h-1.1zM77.0,148.5h1.1v1.1h-1.1zM143.1,87.3h1.1v1.1h-1.1zM49.5,134.6h1.1v1.1h-1.1zM81.0,145.0h1.1v1.1h-1.1zM128.4,98.9h1.1v1.1h-1.1zM160.2,70.2h1.1v1.1h-1.1zM88.0,87.3h1.1v1.1h-1.1zM157.0,75.0h1.1v1.1h-1.1zM151.0,78.4h1.1v1.1h-1.1zM102.9,127.5h1.1v1.1h-1.1zM87.5,143.2h1.1v1.1h-1.1zM51.6,131.2h1.1v1.1h-1.1zM104.2,76.3h1.1v1.1h-1.1zM67.3,109.9h1.1v1.1h-1.1zM133.9,54.6h1.1v1.1h-1.1zM112.9,118.3h1.1v1.1h-1.1zM101.8,124.2h1.1v1.1h-1.1zM116.2,66.5h1.1v1.1h-1.1zM61.6,123.6h1.1v1.1h-1.1zM134.4,95.4h1.1v1.1h-1.1zM126.4,102.7h1.1v1.1h-1.1zM77.4,158.4h1.1v1.1h-1.1zM59.8,124.1h1.1v1.1h-1.1zM111.6,73.1h1.1v1.1h-1.1zM90.3,136.8h1.1v1.1h-1.1zM113.3,125.6h1.1v1.1h-1.1zM134.2,104.8h1.1v1.1h-1.1zM142.1,91.8h1.1v1.1h-1.1zM73.5,151.9h1.1v1.1h-1.1zM77.7,149.9h1.1v1.1h-1.1zM121.7,106.9h1.1v1.1h-1.1zM154.3,79.8h1.1v1.1h-1.1zM72.0,157.1h1.1v1.1h-1.1zM141.3,95.5h1.1v1.1h-1.1zM54.4,109.5h1.1v1.1h-1.1zM87.3,94.8h1.1v1.1h-1.1zM67.8,103.3h1.1v1.1h-1.1zM95.8,91.2h1.1v1.1h-1.1zM141.8,92.9h1.1v1.1h-1.1zM128.4,107.1h1.1v1.1h-1.1zM139.6,89.3h1.1v1.1h-1.1zM72.3,107.3h1.1v1.1h-1.1zM104.1,79.6h1.1v1.1h-1.1zM85.8,146.6h1.1v1.1h-1.1zM123.2,114.2h1.1v1.1h-1.1zM51.6,125.4h1.1v1.1h-1.1zM56.7,124.0h1.1v1.1h-1.1zM136.6,92.6h1.1v1.1h-1.1zM130.2,46.3h1.1v1.1h-1.1zM136.5,94.0h1.1v1.1h-1.1zM118.0,109.0h1.1v1.1h-1.1zM149.0,80.3h1.1v1.1h-1.1zM101.4,135.4h1.1v1.1h-1.1zM115.7,113.4h1.1v1.1h-1.1zM95.1,131.8h1.1v1.1h-1.1zM127.6,55.5h1.1v1.1h-1.1zM46.0,133.9h1.1v1.1h-1.1zM119.4,68.2h1.1v1.1h-1.1zM112.1,116.5h1.1v1.1h-1.1zM148.7,81.3h1.1v1.1h-1.1zM56.2,128.0h1.1v1.1h-1.1zM144.1,85.1h1.1v1.1h-1.1zM122.1,57.3h1.1v1.1h-1.1zM67.9,115.8h1.1v1.1h-1.1zM84.4,150.8h1.1v1.1h-1.1zM75.5,103.7h1.1v1.1h-1.1zM128.1,59.9h1.1v1.1h-1.1zM137.5,46.0h1.1v1.1h-1.1zM54.7,127.4h1.1v1.1h-1.1zM144.3,96.1h1.1v1.1h-1.1zM106.3,75.2h1.1v1.1h-1.1zM100.2,132.5h1.1v1.1h-1.1zM137.1,106.0h1.1v1.1h-1.1zM104.4,137.6h1.1v1.1h-1.1zM154.4,75.1h1.1v1.1h-1.1zM157.6,102.7h1.1v1.1h-1.1zM66.7,114.0h1.1v1.1h-1.1zM75.0,152.4h1.1v1.1h-1.1zM165.0,72.5h1.1v1.1h-1.1zM128.1,57.1h1.1v1.1h-1.1zM79.4,154.8h1.1v1.1h-1.1zM106.0,128.3h1.1v1.1h-1.1zM87.9,138.5h1.1v1.1h-1.1zM144.1,84.7h1.1v1.1h-1.1zM135.7,97.8h1.1v1.1h-1.1zM68.3,105.9h1.1v1.1h-1.1zM103.5,70.3h1.1v1.1h-1.1zM94.7,90.1h1.1v1.1h-1.1zM84.5,100.5h1.1v1.1h-1.1zM70.4,112.0h1.1v1.1h-1.1zM95.3,138.1h1.1v1.1h-1.1zM83.9,142.8h1.1v1.1h-1.1zM110.9,69.7h1.1v1.1h-1.1zM79.1,100.7h1.1v1.1h-1.1zM93.8,83.3h1.1v1.1h-1.1zM60.2,117.5h1.1v1.1h-1.1zM50.5,132.2h1.1v1.1h-1.1zM153.7,82.0h1.1v1.1h-1.1zM128.3,51.0h1.1v1.1h-1.1zM132.4,55.6h1.1v1.1h-1.1zM93.7,90.8h1.1v1.1h-1.1zM106.5,78.9h1.1v1.1h-1.1zM68.1,160.1h1.1v1.1h-1.1zM109.1,78.0h1.1v1.1h-1.1zM86.8,151.8h1.1v1.1h-1.1zM127.1,58.9h1.1v1.1h-1.1zM115.6,64.5h1.1v1.1h-1.1zM128.5,99.5h1.1v1.1h-1.1zM127.5,103.2h1.1v1.1h-1.1zM155.2,80.3h1.1v1.1h-1.1zM61.5,119.1h1.1v1.1h-1.1zM79.1,153.4h1.1v1.1h-1.1zM119.4,64.1h1.1v1.1h-1.1zM128.1,101.4h1.1v1.1h-1.1zM130.9,97.0h1.1v1.1h-1.1zM162.0,66.8h1.1v1.1h-1.1zM122.3,107.6h1.1v1.1h-1.1zM107.0,76.1h1.1v1.1h-1.1zM118.2,108.6h1.1v1.1h-1.1zM146.6,84.9h1.1v1.1h-1.1zM81.4,87.6h1.1v1.1h-1.1zM110.3,117.3h1.1v1.1h-1.1zM142.4,87.1h1.1v1.1h-1.1zM164.5,65.8h1.1v1.1h-1.1zM66.6,116.3h1.1v1.1h-1.1zM53.2,125.2h1.1v1.1h-1.1zM116.9,68.7h1.1v1.1h-1.1zM151.5,85.3h1.1v1.1h-1.1zM76.2,105.6h1.1v1.1h-1.1zM98.2,88.0h1.1v1.1h-1.1zM120.7,108.8h1.1v1.1h-1.1zM80.0,145.2h1.1v1.1h-1.1zM155.1,76.3h1.1v1.1h-1.1zM70.0,108.7h1.1v1.1h-1.1zM161.3,67.7h1.1v1.1h-1.1zM123.9,60.4h1.1v1.1h-1.1zM82.8,149.2h1.1v1.1h-1.1zM129.9,46.9h1.1v1.1h-1.1zM87.4,140.2h1.1v1.1h-1.1zM145.9,92.0h1.1v1.1h-1.1zM110.0,74.2h1.1v1.1h-1.1zM71.0,109.4h1.1v1.1h-1.1zM160.0,75.1h1.1v1.1h-1.1zM134.1,102.0h1.1v1.1h-1.1zM148.3,80.6h1.1v1.1h-1.1zM59.0,126.2h1.1v1.1h-1.1zM144.8,86.4h1.1v1.1h-1.1zM86.8,96.5h1.1v1.1h-1.1zM123.6,103.4h1.1v1.1h-1.1zM70.4,113.0h1.1v1.1h-1.1zM99.2,80.6h1.1v1.1h-1.1zM115.1,121.7h1.1v1.1h-1.1zM102.8,79.8h1.1v1.1h-1.1zM59.9,120.8h1.1v1.1h-1.1zM154.1,76.9h1.1v1.1h-1.1zM141.8,91.3h1.1v1.1h-1.1zM136.1,92.9h1.1v1.1h-1.1zM156.4,80.6h1.1v1.1h-1.1zM160.5,76.1h1.1v1.1h-1.1zM50.9,132.6h1.1v1.1h-1.1zM162.3,67.5h1.1v1.1h-1.1zM144.1,88.8h1.1v1.1h-1.1zM85.0,88.7h1.1v1.1h-1.1zM145.8,88.6h1.1v1.1h-1.1zM126.3,59.2h1.1v1.1h-1.1zM127.4,99.8h1.1v1.1h-1.1zM132.0,101.2h1.1v1.1h-1.1zM165.6,67.5h1.1v1.1h-1.1zM88.5,137.2h1.1v1.1h-1.1zM74.6,150.4h1.1v1.1h-1.1zM78.9,99.9h1.1v1.1h-1.1zM63.5,114.5h1.1v1.1h-1.1zM128.9,102.1h1.1v1.1h-1.1zM101.1,72.9h1.1v1.1h-1.1zM115.7,123.9h1.1v1.1h-1.1zM135.0,105.3h1.1v1.1h-1.1zM147.8,86.1h1.1v1.1h-1.1zM62.0,115.2h1.1v1.1h-1.1zM52.1,129.9h1.1v1.1h-1.1zM131.8,49.0h1.1v1.1h-1.1zM148.9,81.3h1.1v1.1h-1.1zM57.0,127.4h1.1v1.1h-1.1zM76.0,106.2h1.1v1.1h-1.1zM87.1,86.4h1.1v1.1h-1.1zM85.6,151.0h1.1v1.1h-1.1zM142.6,85.9h1.1v1.1h-1.1zM86.6,142.5h1.1v1.1h-1.1zM163.5,66.6h1.1v1.1h-1.1zM95.2,135.8h1.1v1.1h-1.1zM72.1,158.9h1.1v1.1h-1.1zM98.2,151.5h1.1v1.1h-1.1zM67.0,113.8h1.1v1.1h-1.1zM65.8,112.6h1.1v1.1h-1.1zM75.8,93.5h1.1v1.1h-1.1zM121.0,111.4h1.1v1.1h-1.1zM118.5,67.9h1.1v1.1h-1.1zM59.2,120.7h1.1v1.1h-1.1zM107.8,66.7h1.1v1.1h-1.1zM100.4,126.9h1.1v1.1h-1.1zM93.7,134.9h1.1v1.1h-1.1zM134.4,103.3h1.1v1.1h-1.1zM101.7,76.4h1.1v1.1h-1.1zM71.0,109.2h1.1v1.1h-1.1zM79.4,155.2h1.1v1.1h-1.1zM126.0,57.0h1.1v1.1h-1.1zM67.5,160.1h1.1v1.1h-1.1zM147.7,82.9h1.1v1.1h-1.1zM125.2,102.2h1.1v1.1h-1.1zM81.6,94.9h1.1v1.1h-1.1zM61.3,121.8h1.1v1.1h-1.1zM133.8,96.1h1.1v1.1h-1.1zM135.5,51.2h1.1v1.1h-1.1zM109.4,127.6h1.1v1.1h-1.1zM156.6,73.7h1.1v1.1h-1.1zM92.0,134.7h1.1v1.1h-1.1zM149.7,83.8h1.1v1.1h-1.1zM103.1,123.1h1.1v1.1h-1.1zM126.5,60.7h1.1v1.1h-1.1zM49.0,132.4h1.1v1.1h-1.1zM58.9,126.0h1.1v1.1h-1.1zM59.8,112.2h1.1v1.1h-1.1zM99.7,140.5h1.1v1.1h-1.1zM113.2,116.9h1.1v1.1h-1.1zM104.6,125.7h1.1v1.1h-1.1zM160.8,69.4h1.1v1.1h-1.1zM66.3,118.2h1.1v1.1h-1.1zM55.6,126.3h1.1v1.1h-1.1zM161.1,68.1h1.1v1.1h-1.1zM100.8,86.1h1.1v1.1h-1.1zM79.7,106.3h1.1v1.1h-1.1zM131.4,54.1h1.1v1.1h-1.1zM144.6,88.7h1.1v1.1h-1.1zM129.4,101.8h1.1v1.1h-1.1zM74.1,106.4h1.1v1.1h-1.1zM62.5,122.3h1.1v1.1h-1.1zM125.0,102.1h1.1v1.1h-1.1zM101.5,127.5h1.1v1.1h-1.1zM83.8,155.8h1.1v1.1h-1.1zM94.6,131.0h1.1v1.1h-1.1zM161.3,67.8h1.1v1.1h-1.1zM91.1,90.0h1.1v1.1h-1.1zM71.4,154.1h1.1v1.1h-1.1zM101.2,143.9h1.1v1.1h-1.1zM137.8,92.5h1.1v1.1h-1.1zM87.4,142.2h1.1v1.1h-1.1zM139.5,97.4h1.1v1.1h-1.1zM45.5,134.4h1.1v1.1h-1.1zM103.5,83.3h1.1v1.1h-1.1zM74.8,151.4h1.1v1.1h-1.1zM62.0,112.2h1.1v1.1h-1.1zM55.3,121.8h1.1v1.1h-1.1zM76.4,158.5h1.1v1.1h-1.1zM132.5,95.2h1.1v1.1h-1.1zM157.2,89.2h1.1v1.1h-1.1zM155.9,74.3h1.1v1.1h-1.1zM163.6,68.1h1.1v1.1h-1.1zM110.1,69.1h1.1v1.1h-1.1zM125.3,104.8h1.1v1.1h-1.1zM106.5,69.2h1.1v1.1h-1.1zM163.1,68.8h1.1v1.1h-1.1zM117.8,66.0h1.1v1.1h-1.1zM67.6,112.8h1.1v1.1h-1.1zM95.8,85.5h1.1v1.1h-1.1zM103.1,76.0h1.1v1.1h-1.1zM46.6,136.0h1.1v1.1h-1.1zM138.4,92.5h1.1v1.1h-1.1zM85.1,160.0h1.1v1.1h-1.1zM94.5,143.1h1.1v1.1h-1.1zM73.9,109.8h1.1v1.1h-1.1zM105.9,81.1h1.1v1.1h-1.1zM120.7,109.4h1.1v1.1h-1.1zM100.9,82.0h1.1v1.1h-1.1zM88.9,96.0h1.1v1.1h-1.1zM144.6,89.2h1.1v1.1h-1.1zM140.9,46.1h1.1v1.1h-1.1zM123.9,109.4h1.1v1.1h-1.1zM163.5,67.7h1.1v1.1h-1.1zM53.4,121.9h1.1v1.1h-1.1zM152.4,77.1h1.1v1.1h-1.1zM47.3,130.8h1.1v1.1h-1.1zM78.7,154.4h1.1v1.1h-1.1zM147.7,86.6h1.1v1.1h-1.1zM155.5,73.1h1.1v1.1h-1.1zM63.6,121.6h1.1v1.1h-1.1zM88.1,95.9h1.1v1.1h-1.1zM104.0,81.5h1.1v1.1h-1.1zM77.6,106.5h1.1v1.1h-1.1zM105.5,125.4h1.1v1.1h-1.1zM166.4,69.9h1.1v1.1h-1.1zM133.1,96.3h1.1v1.1h-1.1zM54.3,130.4h1.1v1.1h-1.1zM117.1,117.8h1.1v1.1h-1.1zM100.7,78.5h1.1v1.1h-1.1zM73.7,159.9h1.1v1.1h-1.1zM103.1,83.7h1.1v1.1h-1.1zM69.0,155.9h1.1v1.1h-1.1zM122.9,111.2h1.1v1.1h-1.1zM106.7,74.3h1.1v1.1h-1.1zM81.0,100.5h1.1v1.1h-1.1zM155.7,95.2h1.1v1.1h-1.1zM53.0,124.4h1.1v1.1h-1.1zM109.3,78.2h1.1v1.1h-1.1zM119.9,108.7h1.1v1.1h-1.1zM85.2,140.8h1.1v1.1h-1.1zM159.3,72.6h1.1v1.1h-1.1zM133.2,49.7h1.1v1.1h-1.1zM103.7,76.1h1.1v1.1h-1.1zM98.9,128.4h1.1v1.1h-1.1zM127.1,103.1h1.1v1.1h-1.1zM90.9,88.2h1.1v1.1h-1.1zM134.0,50.0h1.1v1.1h-1.1zM58.3,126.6h1.1v1.1h-1.1zM158.2,70.6h1.1v1.1h-1.1zM165.3,63.9h1.1v1.1h-1.1zM129.0,100.0h1.1v1.1h-1.1zM53.8,128.3h1.1v1.1h-1.1zM55.9,123.1h1.1v1.1h-1.1zM132.9,94.6h1.1v1.1h-1.1zM156.6,75.8h1.1v1.1h-1.1zM131.0,57.0h1.1v1.1h-1.1zM110.4,76.5h1.1v1.1h-1.1zM66.7,112.7h1.1v1.1h-1.1zM89.7,138.8h1.1v1.1h-1.1zM112.9,115.1h1.1v1.1h-1.1zM136.0,49.8h1.1v1.1h-1.1zM93.5,138.9h1.1v1.1h-1.1zM105.5,73.7h1.1v1.1h-1.1zM48.8,127.3h1.1v1.1h-1.1zM130.4,56.5h1.1v1.1h-1.1zM134.6,48.5h1.1v1.1h-1.1zM126.1,110.0h1.1v1.1h-1.1zM138.7,100.9h1.1v1.1h-1.1zM84.3,86.7h1.1v1.1h-1.1zM82.3,101.6h1.1v1.1h-1.1zM80.1,144.7h1.1v1.1h-1.1zM128.0,108.0h1.1v1.1h-1.1zM124.2,127.2h1.1v1.1h-1.1zM134.4,101.8h1.1v1.1h-1.1zM76.4,107.4h1.1v1.1h-1.1zM148.1,81.5h1.1v1.1h-1.1zM132.6,97.0h1.1v1.1h-1.1zM102.9,76.7h1.1v1.1h-1.1zM151.7,83.4h1.1v1.1h-1.1zM89.6,136.3h1.1v1.1h-1.1zM85.4,151.9h1.1v1.1h-1.1zM48.6,136.0h1.1v1.1h-1.1zM101.9,83.6h1.1v1.1h-1.1zM103.7,81.9h1.1v1.1h-1.1zM122.7,63.8h1.1v1.1h-1.1zM87.6,92.2h1.1v1.1h-1.1zM88.5,141.5h1.1v1.1h-1.1zM167.4,65.1h1.1v1.1h-1.1zM96.3,130.5h1.1v1.1h-1.1zM89.7,83.4h1.1v1.1h-1.1zM126.0,106.6h1.1v1.1h-1.1zM114.9,68.5h1.1v1.1h-1.1zM98.3,130.3h1.1v1.1h-1.1zM56.7,119.6h1.1v1.1h-1.1zM141.8,47.0h1.1v1.1h-1.1zM142.5,86.7h1.1v1.1h-1.1zM123.3,117.5h1.1v1.1h-1.1zM70.1,90.8h1.1v1.1h-1.1zM108.4,121.3h1.1v1.1h-1.1zM137.4,96.0h1.1v1.1h-1.1zM63.0,69.6h1.1v1.1h-1.1zM114.0,113.5h1.1v1.1h-1.1zM156.7,82.5h1.1v1.1h-1.1zM89.7,136.8h1.1v1.1h-1.1zM159.4,70.0h1.1v1.1h-1.1zM122.6,107.2h1.1v1.1h-1.1zM119.0,64.4h1.1v1.1h-1.1zM74.0,154.3h1.1v1.1h-1.1zM102.7,131.0h1.1v1.1h-1.1zM143.5,91.6h1.1v1.1h-1.1zM74.4,110.4h1.1v1.1h-1.1zM145.9,86.9h1.1v1.1h-1.1zM155.9,92.1h1.1v1.1h-1.1zM133.6,101.0h1.1v1.1h-1.1zM132.5,96.5h1.1v1.1h-1.1zM147.9,83.7h1.1v1.1h-1.1zM101.7,155.8h1.1v1.1h-1.1zM73.3,110.5h1.1v1.1h-1.1zM98.7,87.7h1.1v1.1h-1.1zM72.2,153.1h1.1v1.1h-1.1zM117.5,112.8h1.1v1.1h-1.1zM67.9,108.4h1.1v1.1h-1.1zM139.4,46.6h1.1v1.1h-1.1zM79.3,148.8h1.1v1.1h-1.1zM107.6,119.9h1.1v1.1h-1.1zM88.4,80.6h1.1v1.1h-1.1zM94.7,85.5h1.1v1.1h-1.1zM86.5,94.9h1.1v1.1h-1.1zM102.3,123.8h1.1v1.1h-1.1zM141.3,45.8h1.1v1.1h-1.1zM122.4,50.2h1.1v1.1h-1.1zM121.2,109.8h1.1v1.1h-1.1zM126.4,116.2h1.1v1.1h-1.1zM63.2,116.5h1.1v1.1h-1.1zM94.2,88.3h1.1v1.1h-1.1zM128.2,52.1h1.1v1.1h-1.1zM64.6,115.6h1.1v1.1h-1.1zM80.4,156.4h1.1v1.1h-1.1zM143.3,89.6h1.1v1.1h-1.1zM89.9,137.7h1.1v1.1h-1.1zM110.5,72.1h1.1v1.1h-1.1zM103.7,82.3h1.1v1.1h-1.1zM120.0,68.3h1.1v1.1h-1.1zM143.2,87.0h1.1v1.1h-1.1zM157.0,73.2h1.1v1.1h-1.1zM86.1,99.7h1.1v1.1h-1.1zM129.8,97.9h1.1v1.1h-1.1zM71.1,154.1h1.1v1.1h-1.1zM73.3,154.2h1.1v1.1h-1.1zM112.8,121.4h1.1v1.1h-1.1zM106.2,78.7h1.1v1.1h-1.1zM122.4,109.2h1.1v1.1h-1.1zM164.8,64.6h1.1v1.1h-1.1zM65.1,159.2h1.1v1.1h-1.1zM132.0,95.9h1.1v1.1h-1.1zM65.2,160.0h1.1v1.1h-1.1zM89.2,138.4h1.1v1.1h-1.1zM95.4,90.4h1.1v1.1h-1.1zM164.5,65.3h1.1v1.1h-1.1zM125.5,59.2h1.1v1.1h-1.1zM128.6,106.5h1.1v1.1h-1.1zM112.3,117.2h1.1v1.1h-1.1zM107.9,128.5h1.1v1.1h-1.1zM157.2,74.9h1.1v1.1h-1.1zM129.6,103.8h1.1v1.1h-1.1zM89.7,140.0h1.1v1.1h-1.1zM134.5,52.5h1.1v1.1h-1.1zM104.1,123.9h1.1v1.1h-1.1zM91.5,69.2h1.1v1.1h-1.1zM129.5,53.9h1.1v1.1h-1.1zM113.9,73.3h1.1v1.1h-1.1zM150.4,81.4h1.1v1.1h-1.1zM146.7,82.2h1.1v1.1h-1.1zM117.1,64.7h1.1v1.1h-1.1zM79.3,150.4h1.1v1.1h-1.1zM98.7,88.2h1.1v1.1h-1.1zM100.3,86.6h1.1v1.1h-1.1zM105.8,80.6h1.1v1.1h-1.1zM125.4,55.2h1.1v1.1h-1.1zM70.6,107.7h1.1v1.1h-1.1zM130.1,55.6h1.1v1.1h-1.1zM130.7,96.8h1.1v1.1h-1.1zM166.2,65.0h1.1v1.1h-1.1zM149.5,80.3h1.1v1.1h-1.1zM107.3,77.0h1.1v1.1h-1.1zM118.9,114.7h1.1v1.1h-1.1zM87.4,154.2h1.1v1.1h-1.1zM124.3,108.1h1.1v1.1h-1.1zM141.5,46.3h1.1v1.1h-1.1zM120.3,111.6h1.1v1.1h-1.1zM110.6,76.1h1.1v1.1h-1.1zM96.3,82.3h1.1v1.1h-1.1zM128.8,58.6h1.1v1.1h-1.1zM102.1,137.2h1.1v1.1h-1.1zM95.0,143.5h1.1v1.1h-1.1zM78.2,107.6h1.1v1.1h-1.1zM106.2,80.5h1.1v1.1h-1.1zM80.0,103.9h1.1v1.1h-1.1zM112.4,67.9h1.1v1.1h-1.1zM84.3,101.7h1.1v1.1h-1.1zM80.2,101.9h1.1v1.1h-1.1zM159.0,73.7h1.1v1.1h-1.1zM150.9,79.7h1.1v1.1h-1.1zM119.4,67.2h1.1v1.1h-1.1zM132.2,98.0h1.1v1.1h-1.1zM71.1,154.5h1.1v1.1h-1.1zM107.5,126.0h1.1v1.1h-1.1zM74.4,156.1h1.1v1.1h-1.1zM158.7,75.9h1.1v1.1h-1.1zM132.6,96.4h1.1v1.1h-1.1zM164.6,82.5h1.1v1.1h-1.1zM83.7,145.1h1.1v1.1h-1.1zM88.2,137.1h1.1v1.1h-1.1zM78.1,102.3h1.1v1.1h-1.1zM92.4,133.4h1.1v1.1h-1.1zM136.6,48.7h1.1v1.1h-1.1zM97.7,144.0h1.1v1.1h-1.1zM125.3,104.1h1.1v1.1h-1.1zM90.1,137.5h1.1v1.1h-1.1zM65.3,159.6h1.1v1.1h-1.1zM117.4,110.2h1.1v1.1h-1.1zM106.9,123.5h1.1v1.1h-1.1zM95.9,136.5h1.1v1.1h-1.1zM74.3,151.6h1.1v1.1h-1.1zM137.9,101.5h1.1v1.1h-1.1zM89.1,145.6h1.1v1.1h-1.1zM117.4,68.7h1.1v1.1h-1.1zM138.9,108.1h1.1v1.1h-1.1zM166.7,65.4h1.1v1.1h-1.1zM106.9,124.0h1.1v1.1h-1.1zM67.6,158.2h1.1v1.1h-1.1zM140.0,89.8h1.1v1.1h-1.1zM55.1,129.7h1.1v1.1h-1.1zM140.6,47.3h1.1v1.1h-1.1zM64.4,118.4h1.1v1.1h-1.1zM159.3,75.8h1.1v1.1h-1.1zM97.9,132.4h1.1v1.1h-1.1zM106.3,128.7h1.1v1.1h-1.1zM86.4,142.5h1.1v1.1h-1.1zM136.9,94.4h1.1v1.1h-1.1zM126.3,102.2h1.1v1.1h-1.1zM102.5,129.0h1.1v1.1h-1.1zM57.8,127.1h1.1v1.1h-1.1zM129.5,57.2h1.1v1.1h-1.1zM78.0,107.0h1.1v1.1h-1.1zM94.4,92.3h1.1v1.1h-1.1zM166.5,65.0h1.1v1.1h-1.1zM128.6,59.1h1.1v1.1h-1.1zM127.3,57.1h1.1v1.1h-1.1zM100.2,139.8h1.1v1.1h-1.1zM53.7,130.8h1.1v1.1h-1.1zM129.2,102.5h1.1v1.1h-1.1zM164.8,72.3h1.1v1.1h-1.1zM142.0,86.4h1.1v1.1h-1.1zM84.8,141.5h1.1v1.1h-1.1zM130.4,55.7h1.1v1.1h-1.1zM146.6,101.5h1.1v1.1h-1.1zM99.0,127.5h1.1v1.1h-1.1zM111.9,65.6h1.1v1.1h-1.1zM123.3,109.3h1.1v1.1h-1.1zM77.3,148.0h1.1v1.1h-1.1zM92.0,133.5h1.1v1.1h-1.1zM50.6,133.9h1.1v1.1h-1.1zM82.8,93.9h1.1v1.1h-1.1zM124.2,104.7h1.1v1.1h-1.1zM70.4,114.9h1.1v1.1h-1.1zM88.8,141.5h1.1v1.1h-1.1zM126.0,104.7h1.1v1.1h-1.1zM96.6,129.2h1.1v1.1h-1.1zM81.3,151.3h1.1v1.1h-1.1zM131.4,53.7h1.1v1.1h-1.1zM75.9,106.3h1.1v1.1h-1.1zM81.3,152.5h1.1v1.1h-1.1zM104.4,128.4h1.1v1.1h-1.1zM56.0,122.4h1.1v1.1h-1.1zM98.3,83.8h1.1v1.1h-1.1zM130.2,54.5h1.1v1.1h-1.1zM87.2,99.4h1.1v1.1h-1.1zM73.5,109.3h1.1v1.1h-1.1zM133.4,97.5h1.1v1.1h-1.1zM90.6,84.5h1.1v1.1h-1.1zM67.9,158.6h1.1v1.1h-1.1zM149.5,81.6h1.1v1.1h-1.1zM68.9,113.2h1.1v1.1h-1.1zM59.1,123.3h1.1v1.1h-1.1zM94.0,70.4h1.1v1.1h-1.1zM93.3,134.6h1.1v1.1h-1.1zM46.8,137.4h1.1v1.1h-1.1zM84.7,146.3h1.1v1.1h-1.1zM121.8,106.3h1.1v1.1h-1.1zM116.3,112.1h1.1v1.1h-1.1zM69.9,155.8h1.1v1.1h-1.1zM117.1,70.5h1.1v1.1h-1.1zM115.3,114.9h1.1v1.1h-1.1zM73.3,90.3h1.1v1.1h-1.1zM74.8,109.9h1.1v1.1h-1.1zM117.2,65.8h1.1v1.1h-1.1zM109.0,77.2h1.1v1.1h-1.1zM140.3,45.7h1.1v1.1h-1.1zM47.1,134.5h1.1v1.1h-1.1zM118.7,115.9h1.1v1.1h-1.1zM136.8,92.7h1.1v1.1h-1.1zM151.9,76.7h1.1v1.1h-1.1zM156.0,74.9h1.1v1.1h-1.1zM98.3,87.2h1.1v1.1h-1.1zM66.1,119.0h1.1v1.1h-1.1zM80.9,145.2h1.1v1.1h-1.1zM92.8,89.4h1.1v1.1h-1.1zM113.8,72.5h1.1v1.1h-1.1zM55.8,119.8h1.1v1.1h-1.1zM90.2,96.0h1.1v1.1h-1.1zM127.8,101.5h1.1v1.1h-1.1zM96.5,89.5h1.1v1.1h-1.1zM100.0,85.8h1.1v1.1h-1.1zM66.5,118.3h1.1v1.1h-1.1zM157.5,71.2h1.1v1.1h-1.1zM72.3,107.8h1.1v1.1h-1.1zM128.0,56.6h1.1v1.1h-1.1zM143.3,84.9h1.1v1.1h-1.1zM66.8,159.0h1.1v1.1h-1.1zM124.2,109.1h1.1v1.1h-1.1zM139.6,47.9h1.1v1.1h-1.1zM110.7,70.3h1.1v1.1h-1.1zM59.0,124.4h1.1v1.1h-1.1zM128.4,104.6h1.1v1.1h-1.1zM136.2,48.5h1.1v1.1h-1.1zM137.5,48.2h1.1v1.1h-1.1zM112.6,122.8h1.1v1.1h-1.1zM125.2,102.2h1.1v1.1h-1.1zM121.8,106.7h1.1v1.1h-1.1zM148.8,91.7h1.1v1.1h-1.1zM161.5,67.3h1.1v1.1h-1.1zM150.8,79.4h1.1v1.1h-1.1zM123.0,104.7h1.1v1.1h-1.1zM91.0,134.5h1.1v1.1h-1.1zM133.4,94.9h1.1v1.1h-1.1zM81.2,103.4h1.1v1.1h-1.1zM135.2,103.0h1.1v1.1h-1.1zM164.1,73.5h1.1v1.1h-1.1zM134.9,94.5h1.1v1.1h-1.1zM150.8,80.0h1.1v1.1h-1.1zM111.8,68.1h1.1v1.1h-1.1zM101.2,139.3h1.1v1.1h-1.1zM72.4,106.5h1.1v1.1h-1.1zM147.0,81.8h1.1v1.1h-1.1zM82.8,143.5h1.1v1.1h-1.1zM72.0,110.8h1.1v1.1h-1.1zM88.0,98.7h1.1v1.1h-1.1zM137.5,49.0h1.1v1.1h-1.1zM65.0,113.8h1.1v1.1h-1.1zM125.9,61.9h1.1v1.1h-1.1zM103.1,130.9h1.1v1.1h-1.1zM69.6,157.0h1.1v1.1h-1.1zM144.7,84.8h1.1v1.1h-1.1zM88.0,140.6h1.1v1.1h-1.1zM91.5,135.8h1.1v1.1h-1.1zM147.0,87.4h1.1v1.1h-1.1zM128.3,57.4h1.1v1.1h-1.1zM127.7,59.9h1.1v1.1h-1.1zM57.8,126.6h1.1v1.1h-1.1zM117.1,112.5h1.1v1.1h-1.1zM107.0,119.2h1.1v1.1h-1.1zM159.1,72.6h1.1v1.1h-1.1zM154.2,78.3h1.1v1.1h-1.1zM72.0,108.8h1.1v1.1h-1.1zM118.1,114.0h1.1v1.1h-1.1zM90.9,87.5h1.1v1.1h-1.1zM165.3,69.8h1.1v1.1h-1.1zM64.2,160.2h1.1v1.1h-1.1zM115.4,112.3h1.1v1.1h-1.1zM70.6,113.9h1.1v1.1h-1.1zM56.0,128.2h1.1v1.1h-1.1zM45.5,138.0h1.1v1.1h-1.1zM75.1,110.5h1.1v1.1h-1.1zM72.8,152.3h1.1v1.1h-1.1zM137.1,45.9h1.1v1.1h-1.1zM140.8,88.2h1.1v1.1h-1.1zM49.9,132.3h1.1v1.1h-1.1zM96.5,84.8h1.1v1.1h-1.1zM116.9,69.6h1.1v1.1h-1.1zM115.7,138.8h1.1v1.1h-1.1zM107.6,119.0h1.1v1.1h-1.1zM90.5,76.4h1.1v1.1h-1.1zM47.1,132.5h1.1v1.1h-1.1zM134.5,93.8h1.1v1.1h-1.1zM93.5,137.6h1.1v1.1h-1.1zM48.1,130.1h1.1v1.1h-1.1zM109.0,119.4h1.1v1.1h-1.1zM129.6,98.3h1.1v1.1h-1.1zM134.8,121.0h1.1v1.1h-1.1zM82.0,98.2h1.1v1.1h-1.1zM120.7,55.9h1.1v1.1h-1.1zM59.8,123.7h1.1v1.1h-1.1zM84.8,99.3h1.1v1.1h-1.1zM117.1,69.5h1.1v1.1h-1.1zM158.4,73.2h1.1v1.1h-1.1zM138.7,48.3h1.1v1.1h-1.1zM119.2,110.4h1.1v1.1h-1.1zM160.1,69.2h1.1v1.1h-1.1zM99.7,75.0h1.1v1.1h-1.1zM99.2,127.1h1.1v1.1h-1.1zM143.2,44.4h1.1v1.1h-1.1zM132.9,103.1h1.1v1.1h-1.1zM89.9,96.5h1.1v1.1h-1.1zM145.1,87.8h1.1v1.1h-1.1zM54.1,122.1h1.1v1.1h-1.1zM96.4,86.2h1.1v1.1h-1.1zM83.7,145.7h1.1v1.1h-1.1zM133.6,49.5h1.1v1.1h-1.1zM80.8,105.5h1.1v1.1h-1.1zM101.2,84.4h1.1v1.1h-1.1zM79.0,146.3h1.1v1.1h-1.1zM108.5,77.9h1.1v1.1h-1.1zM59.5,119.3h1.1v1.1h-1.1zM91.1,83.0h1.1v1.1h-1.1zM108.1,142.2h1.1v1.1h-1.1zM150.1,78.9h1.1v1.1h-1.1zM112.4,122.7h1.1v1.1h-1.1zM113.6,114.4h1.1v1.1h-1.1zM131.4,55.9h1.1v1.1h-1.1zM120.8,108.7h1.1v1.1h-1.1zM66.7,159.3h1.1v1.1h-1.1zM143.3,87.9h1.1v1.1h-1.1zM124.8,63.6h1.1v1.1h-1.1zM68.8,114.5h1.1v1.1h-1.1zM97.4,84.2h1.1v1.1h-1.1zM114.1,71.3h1.1v1.1h-1.1zM115.0,72.0h1.1v1.1h-1.1zM102.3,125.0h1.1v1.1h-1.1zM136.2,100.7h1.1v1.1h-1.1zM101.6,83.9h1.1v1.1h-1.1zM90.5,144.6h1.1v1.1h-1.1zM127.3,100.3h1.1v1.1h-1.1zM154.5,77.3h1.1v1.1h-1.1zM151.1,77.9h1.1v1.1h-1.1zM112.8,56.8h1.1v1.1h-1.1zM80.7,145.8h1.1v1.1h-1.1zM93.7,147.4h1.1v1.1h-1.1zM72.3,113.7h1.1v1.1h-1.1zM74.8,153.0h1.1v1.1h-1.1zM96.7,130.4h1.1v1.1h-1.1zM80.5,146.8h1.1v1.1h-1.1zM166.4,70.2h1.1v1.1h-1.1zM117.7,66.4h1.1v1.1h-1.1zM144.8,95.0h1.1v1.1h-1.1zM102.0,82.8h1.1v1.1h-1.1zM68.8,112.3h1.1v1.1h-1.1zM85.3,97.7h1.1v1.1h-1.1zM50.1,128.5h1.1v1.1h-1.1zM102.5,71.8h1.1v1.1h-1.1zM129.6,106.3h1.1v1.1h-1.1zM75.8,150.1h1.1v1.1h-1.1zM71.0,113.9h1.1v1.1h-1.1zM86.2,97.1h1.1v1.1h-1.1zM52.5,132.2h1.1v1.1h-1.1zM100.8,136.3h1.1v1.1h-1.1zM136.3,94.0h1.1v1.1h-1.1zM149.3,83.5h1.1v1.1h-1.1zM74.5,106.5h1.1v1.1h-1.1zM96.3,134.8h1.1v1.1h-1.1zM107.2,80.3h1.1v1.1h-1.1zM141.7,46.5h1.1v1.1h-1.1zM86.5,138.8h1.1v1.1h-1.1zM105.3,64.6h1.1v1.1h-1.1zM47.0,132.7h1.1v1.1h-1.1zM95.5,133.7h1.1v1.1h-1.1zM109.8,119.9h1.1v1.1h-1.1zM94.9,134.3h1.1v1.1h-1.1zM98.3,128.1h1.1v1.1h-1.1zM118.7,69.4h1.1v1.1h-1.1zM45.8,127.2h1.1v1.1h-1.1zM75.7,108.0h1.1v1.1h-1.1zM81.6,145.4h1.1v1.1h-1.1zM111.8,63.4h1.1v1.1h-1.1zM114.6,114.8h1.1v1.1h-1.1zM153.3,80.1h1.1v1.1h-1.1zM103.9,128.5h1.1v1.1h-1.1zM161.2,68.4h1.1v1.1h-1.1zM132.2,102.7h1.1v1.1h-1.1zM75.3,157.7h1.1v1.1h-1.1zM74.5,102.1h1.1v1.1h-1.1zM136.6,47.6h1.1v1.1h-1.1zM108.5,63.4h1.1v1.1h-1.1zM64.2,120.5h1.1v1.1h-1.1zM113.7,60.0h1.1v1.1h-1.1zM47.7,128.8h1.1v1.1h-1.1zM128.7,100.5h1.1v1.1h-1.1zM54.1,130.3h1.1v1.1h-1.1zM82.6,146.9h1.1v1.1h-1.1zM60.3,121.4h1.1v1.1h-1.1zM45.6,138.7h1.1v1.1h-1.1zM139.1,44.9h1.1v1.1h-1.1zM129.0,108.1h1.1v1.1h-1.1zM114.7,64.8h1.1v1.1h-1.1zM119.4,108.1h1.1v1.1h-1.1zM150.5,79.2h1.1v1.1h-1.1zM130.7,97.8h1.1v1.1h-1.1zM82.9,144.0h1.1v1.1h-1.1zM57.4,114.7h1.1v1.1h-1.1zM128.3,101.9h1.1v1.1h-1.1zM56.8,117.4h1.1v1.1h-1.1zM46.3,138.1h1.1v1.1h-1.1zM75.6,159.8h1.1v1.1h-1.1zM95.5,91.1h1.1v1.1h-1.1zM93.9,133.0h1.1v1.1h-1.1zM110.4,126.8h1.1v1.1h-1.1zM53.6,129.8h1.1v1.1h-1.1zM135.8,94.7h1.1v1.1h-1.1zM99.7,136.5h1.1v1.1h-1.1zM123.5,63.2h1.1v1.1h-1.1zM121.5,120.0h1.1v1.1h-1.1zM100.4,76.6h1.1v1.1h-1.1zM76.8,106.9h1.1v1.1h-1.1zM73.8,154.5h1.1v1.1h-1.1zM68.8,158.9h1.1v1.1h-1.1zM92.2,92.4h1.1v1.1h-1.1zM126.1,59.8h1.1v1.1h-1.1zM61.1,121.3h1.1v1.1h-1.1zM102.7,79.9h1.1v1.1h-1.1zM121.4,118.7h1.1v1.1h-1.1zM123.7,106.0h1.1v1.1h-1.1zM166.5,64.1h1.1v1.1h-1.1zM111.0,74.5h1.1v1.1h-1.1zM146.7,84.2h1.1v1.1h-1.1zM47.9,130.1h1.1v1.1h-1.1zM130.7,97.0h1.1v1.1h-1.1zM165.0,65.9h1.1v1.1h-1.1zM70.2,111.2h1.1v1.1h-1.1zM90.1,136.5h1.1v1.1h-1.1zM83.1,146.4h1.1v1.1h-1.1zM100.1,81.6h1.1v1.1h-1.1zM115.2,112.8h1.1v1.1h-1.1zM122.0,64.3h1.1v1.1h-1.1zM92.6,87.6h1.1v1.1h-1.1zM50.0,130.7h1.1v1.1h-1.1zM52.3,124.8h1.1v1.1h-1.1zM154.1,77.9h1.1v1.1h-1.1zM81.9,100.6h1.1v1.1h-1.1zM70.8,156.1h1.1v1.1h-1.1zM62.8,117.3h1.1v1.1h-1.1zM72.9,152.0h1.1v1.1h-1.1zM85.2,96.4h1.1v1.1h-1.1zM79.6,85.0h1.1v1.1h-1.1zM78.1,107.2h1.1v1.1h-1.1zM155.5,77.7h1.1v1.1h-1.1zM125.4,55.7h1.1v1.1h-1.1zM53.4,112.7h1.1v1.1h-1.1zM127.6,104.8h1.1v1.1h-1.1zM57.7,125.1h1.1v1.1h-1.1zM121.1,67.2h1.1v1.1h-1.1zM99.8,79.6h1.1v1.1h-1.1zM133.3,52.1h1.1v1.1h-1.1zM115.4,112.9h1.1v1.1h-1.1zM133.8,50.9h1.1v1.1h-1.1zM103.8,74.9h1.1v1.1h-1.1zM151.2,81.7h1.1v1.1h-1.1zM130.1,55.2h1.1v1.1h-1.1zM98.6,130.6h1.1v1.1h-1.1zM140.5,47.1h1.1v1.1h-1.1zM129.6,102.9h1.1v1.1h-1.1zM99.6,127.9h1.1v1.1h-1.1zM105.5,127.3h1.1v1.1h-1.1zM69.6,113.7h1.1v1.1h-1.1zM48.2,134.5h1.1v1.1h-1.1zM134.6,93.8h1.1v1.1h-1.1zM134.9,95.1h1.1v1.1h-1.1zM117.4,111.1h1.1v1.1h-1.1zM138.3,49.3h1.1v1.1h-1.1zM128.4,58.8h1.1v1.1h-1.1zM161.5,68.6h1.1v1.1h-1.1zM73.5,159.4h1.1v1.1h-1.1zM77.6,108.6h1.1v1.1h-1.1zM108.1,78.9h1.1v1.1h-1.1zM90.1,94.6h1.1v1.1h-1.1zM107.5,78.7h1.1v1.1h-1.1zM116.1,68.4h1.1v1.1h-1.1zM90.2,137.3h1.1v1.1h-1.1zM103.6,71.3h1.1v1.1h-1.1zM75.3,106.0h1.1v1.1h-1.1zM128.6,57.9h1.1v1.1h-1.1zM106.3,120.9h1.1v1.1h-1.1zM122.0,62.6h1.1v1.1h-1.1zM103.6,128.8h1.1v1.1h-1.1zM50.5,132.3h1.1v1.1h-1.1zM104.8,137.3h1.1v1.1h-1.1zM122.6,114.6h1.1v1.1h-1.1zM86.3,152.9h1.1v1.1h-1.1zM86.7,98.8h1.1v1.1h-1.1zM140.0,105.5h1.1v1.1h-1.1zM154.3,75.2h1.1v1.1h-1.1zM106.9,125.4h1.1v1.1h-1.1zM101.7,129.0h1.1v1.1h-1.1zM141.2,45.8h1.1v1.1h-1.1zM50.7,125.7h1.1v1.1h-1.1zM102.0,76.7h1.1v1.1h-1.1zM82.3,143.8h1.1v1.1h-1.1zM128.2,59.5h1.1v1.1h-1.1zM134.3,109.6h1.1v1.1h-1.1zM47.4,134.5h1.1v1.1h-1.1zM118.2,68.4h1.1v1.1h-1.1zM49.0,132.0h1.1v1.1h-1.1zM78.5,80.3h1.1v1.1h-1.1zM135.8,93.1h1.1v1.1h-1.1zM48.9,135.3h1.1v1.1h-1.1zM96.0,132.6h1.1v1.1h-1.1zM130.7,100.2h1.1v1.1h-1.1zM116.9,112.4h1.1v1.1h-1.1zM62.1,122.5h1.1v1.1h-1.1zM61.5,122.3h1.1v1.1h-1.1zM124.6,113.9h1.1v1.1h-1.1zM108.0,141.8h1.1v1.1h-1.1zM71.7,153.2h1.1v1.1h-1.1zM73.7,151.5h1.1v1.1h-1.1zM96.5,129.6h1.1v1.1h-1.1zM103.8,129.6h1.1v1.1h-1.1zM82.3,143.4h1.1v1.1h-1.1zM128.7,52.3h1.1v1.1h-1.1zM66.0,115.6h1.1v1.1h-1.1zM71.0,95.1h1.1v1.1h-1.1zM59.8,120.2h1.1v1.1h-1.1zM140.7,100.3h1.1v1.1h-1.1zM124.7,59.3h1.1v1.1h-1.1zM105.8,77.4h1.1v1.1h-1.1zM61.2,119.1h1.1v1.1h-1.1zM89.7,96.4h1.1v1.1h-1.1zM77.4,90.2h1.1v1.1h-1.1zM59.4,122.9h1.1v1.1h-1.1zM117.8,70.3h1.1v1.1h-1.1zM114.5,122.8h1.1v1.1h-1.1zM127.8,111.9h1.1v1.1h-1.1zM74.2,153.5h1.1v1.1h-1.1zM118.0,57.4h1.1v1.1h-1.1zM53.8,125.6h1.1v1.1h-1.1zM103.3,123.2h1.1v1.1h-1.1zM117.4,68.1h1.1v1.1h-1.1zM107.0,123.8h1.1v1.1h-1.1zM99.2,131.0h1.1v1.1h-1.1zM85.1,96.6h1.1v1.1h-1.1zM134.2,95.3h1.1v1.1h-1.1zM119.5,108.7h1.1v1.1h-1.1zM159.9,74.1h1.1v1.1h-1.1zM87.3,141.0h1.1v1.1h-1.1zM84.8,141.2h1.1v1.1h-1.1zM82.9,154.2h1.1v1.1h-1.1zM108.4,66.7h1.1v1.1h-1.1zM129.0,51.8h1.1v1.1h-1.1zM64.5,114.8h1.1v1.1h-1.1zM71.4,157.6h1.1v1.1h-1.1zM99.7,132.8h1.1v1.1h-1.1zM66.6,116.4h1.1v1.1h-1.1zM103.5,83.2h1.1v1.1h-1.1zM90.1,138.1h1.1v1.1h-1.1zM92.0,85.8h1.1v1.1h-1.1zM61.2,90.2h1.1v1.1h-1.1zM145.5,83.2h1.1v1.1h-1.1zM124.1,64.4h1.1v1.1h-1.1zM132.3,55.6h1.1v1.1h-1.1zM163.0,67.1h1.1v1.1h-1.1zM75.8,101.3h1.1v1.1h-1.1zM141.7,92.4h1.1v1.1h-1.1zM153.6,79.2h1.1v1.1h-1.1zM48.2,126.1h1.1v1.1h-1.1zM55.0,129.1h1.1v1.1h-1.1zM105.2,79.3h1.1v1.1h-1.1zM149.0,81.8h1.1v1.1h-1.1zM136.7,50.8h1.1v1.1h-1.1zM78.7,147.4h1.1v1.1h-1.1zM140.6,92.1h1.1v1.1h-1.1zM88.2,142.6h1.1v1.1h-1.1zM87.0,98.3h1.1v1.1h-1.1zM65.6,119.1h1.1v1.1h-1.1zM152.3,80.2h1.1v1.1h-1.1zM49.2,132.0h1.1v1.1h-1.1zM103.7,72.2h1.1v1.1h-1.1zM102.7,125.7h1.1v1.1h-1.1zM56.0,119.8h1.1v1.1h-1.1zM61.2,115.4h1.1v1.1h-1.1zM151.4,80.5h1.1v1.1h-1.1zM64.7,115.5h1.1v1.1h-1.1zM111.7,74.2h1.1v1.1h-1.1zM67.5,115.8h1.1v1.1h-1.1zM112.8,116.3h1.1v1.1h-1.1zM143.2,88.6h1.1v1.1h-1.1zM119.5,58.4h1.1v1.1h-1.1zM158.0,75.0h1.1v1.1h-1.1zM119.9,117.7h1.1v1.1h-1.1zM84.8,101.8h1.1v1.1h-1.1zM142.7,44.8h1.1v1.1h-1.1zM63.2,116.2h1.1v1.1h-1.1zM90.9,90.6h1.1v1.1h-1.1zM132.1,102.4h1.1v1.1h-1.1zM110.3,70.1h1.1v1.1h-1.1zM113.3,71.6h1.1v1.1h-1.1zM82.7,148.4h1.1v1.1h-1.1zM125.7,62.7h1.1v1.1h-1.1zM111.4,63.8h1.1v1.1h-1.1zM111.3,128.3h1.1v1.1h-1.1zM99.5,140.2h1.1v1.1h-1.1zM137.6,92.5h1.1v1.1h-1.1zM153.0,76.2h1.1v1.1h-1.1zM109.9,59.9h1.1v1.1h-1.1zM144.3,100.5h1.1v1.1h-1.1zM141.1,46.4h1.1v1.1h-1.1zM49.7,124.1h1.1v1.1h-1.1zM129.1,59.0h1.1v1.1h-1.1zM118.7,52.7h1.1v1.1h-1.1zM46.3,134.3h1.1v1.1h-1.1zM112.7,115.9h1.1v1.1h-1.1zM132.7,53.8h1.1v1.1h-1.1zM94.4,132.7h1.1v1.1h-1.1zM100.1,128.7h1.1v1.1h-1.1zM111.3,72.1h1.1v1.1h-1.1zM110.3,74.2h1.1v1.1h-1.1zM149.1,88.2h1.1v1.1h-1.1zM126.9,116.9h1.1v1.1h-1.1zM72.5,154.1h1.1v1.1h-1.1zM94.5,92.3h1.1v1.1h-1.1zM110.0,64.7h1.1v1.1h-1.1zM82.1,146.2h1.1v1.1h-1.1zM102.1,82.7h1.1v1.1h-1.1zM57.4,126.9h1.1v1.1h-1.1zM150.5,87.7h1.1v1.1h-1.1zM73.7,105.5h1.1v1.1h-1.1zM165.8,65.3h1.1v1.1h-1.1zM116.6,69.1h1.1v1.1h-1.1zM137.3,49.8h1.1v1.1h-1.1zM133.1,55.1h1.1v1.1h-1.1zM142.1,90.4h1.1v1.1h-1.1zM146.3,84.9h1.1v1.1h-1.1zM159.9,68.8h1.1v1.1h-1.1zM71.8,110.2h1.1v1.1h-1.1zM54.6,124.4h1.1v1.1h-1.1zM123.8,107.7h1.1v1.1h-1.1zM76.8,150.1h1.1v1.1h-1.1zM48.4,134.9h1.1v1.1h-1.1zM90.3,136.4h1.1v1.1h-1.1zM132.0,56.4h1.1v1.1h-1.1zM157.9,74.7h1.1v1.1h-1.1zM76.6,148.9h1.1v1.1h-1.1zM55.0,127.1h1.1v1.1h-1.1zM110.5,63.0h1.1v1.1h-1.1zM87.0,94.0h1.1v1.1h-1.1zM115.6,111.4h1.1v1.1h-1.1zM165.1,64.6h1.1v1.1h-1.1zM95.3,88.9h1.1v1.1h-1.1zM112.0,115.9h1.1v1.1h-1.1zM144.1,90.3h1.1v1.1h-1.1zM165.8,68.0h1.1v1.1h-1.1zM90.0,135.6h1.1v1.1h-1.1zM77.6,151.7h1.1v1.1h-1.1zM165.3,77.7h1.1v1.1h-1.1zM123.6,103.9h1.1v1.1h-1.1zM72.7,108.8h1.1v1.1h-1.1zM59.3,124.2h1.1v1.1h-1.1zM103.5,130.7h1.1v1.1h-1.1zM103.0,125.0h1.1v1.1h-1.1zM142.8,89.1h1.1v1.1h-1.1zM128.5,101.8h1.1v1.1h-1.1zM157.6,71.3h1.1v1.1h-1.1zM74.8,101.3h1.1v1.1h-1.1zM55.7,126.2h1.1v1.1h-1.1zM103.2,127.7h1.1v1.1h-1.1zM97.2,142.4h1.1v1.1h-1.1zM80.6,156.1h1.1v1.1h-1.1zM167.0,64.1h1.1v1.1h-1.1zM72.7,153.3h1.1v1.1h-1.1zM129.8,55.4h1.1v1.1h-1.1zM105.9,121.4h1.1v1.1h-1.1zM87.7,98.8h1.1v1.1h-1.1zM82.9,102.7h1.1v1.1h-1.1zM101.9,85.5h1.1v1.1h-1.1zM68.4,157.0h1.1v1.1h-1.1zM71.0,157.4h1.1v1.1h-1.1zM162.2,66.7h1.1v1.1h-1.1zM82.0,143.0h1.1v1.1h-1.1zM89.0,149.3h1.1v1.1h-1.1zM135.4,53.0h1.1v1.1h-1.1zM49.8,133.3h1.1v1.1h-1.1zM78.1,108.1h1.1v1.1h-1.1zM87.1,99.6h1.1v1.1h-1.1zM139.7,100.2h1.1v1.1h-1.1zM145.0,86.8h1.1v1.1h-1.1zM141.9,87.5h1.1v1.1h-1.1zM93.0,135.0h1.1v1.1h-1.1zM72.5,108.6h1.1v1.1h-1.1zM129.6,53.1h1.1v1.1h-1.1zM163.6,88.0h1.1v1.1h-1.1zM140.1,88.1h1.1v1.1h-1.1zM137.2,91.4h1.1v1.1h-1.1zM52.8,126.6h1.1v1.1h-1.1zM106.6,80.0h1.1v1.1h-1.1zM82.6,150.0h1.1v1.1h-1.1zM86.6,99.0h1.1v1.1h-1.1zM100.5,127.2h1.1v1.1h-1.1zM95.3,91.4h1.1v1.1h-1.1zM57.3,123.9h1.1v1.1h-1.1zM104.9,128.0h1.1v1.1h-1.1zM120.7,106.3h1.1v1.1h-1.1zM96.9,130.4h1.1v1.1h-1.1zM63.6,116.8h1.1v1.1h-1.1zM159.4,72.3h1.1v1.1h-1.1zM82.4,146.0h1.1v1.1h-1.1zM135.1,92.8h1.1v1.1h-1.1zM166.7,72.0h1.1v1.1h-1.1zM65.1,159.0h1.1v1.1h-1.1zM77.1,100.3h1.1v1.1h-1.1zM104.6,77.0h1.1v1.1h-1.1zM150.1,80.9h1.1v1.1h-1.1zM89.4,96.6h1.1v1.1h-1.1zM107.2,73.5h1.1v1.1h-1.1zM105.7,125.9h1.1v1.1h-1.1zM55.3,126.8h1.1v1.1h-1.1zM70.5,103.8h1.1v1.1h-1.1zM60.4,120.8h1.1v1.1h-1.1zM59.8,124.6h1.1v1.1h-1.1zM111.6,119.9h1.1v1.1h-1.1zM121.2,63.2h1.1v1.1h-1.1zM125.8,110.7h1.1v1.1h-1.1zM139.5,91.3h1.1v1.1h-1.1zM59.6,124.1h1.1v1.1h-1.1zM69.6,111.9h1.1v1.1h-1.1zM127.7,100.9h1.1v1.1h-1.1zM95.7,83.2h1.1v1.1h-1.1zM149.8,82.0h1.1v1.1h-1.1zM161.9,68.3h1.1v1.1h-1.1zM130.3,53.0h1.1v1.1h-1.1zM159.0,69.8h1.1v1.1h-1.1zM90.7,92.3h1.1v1.1h-1.1zM87.0,95.4h1.1v1.1h-1.1zM113.9,120.2h1.1v1.1h-1.1zM111.3,133.5h1.1v1.1h-1.1zM138.3,90.2h1.1v1.1h-1.1zM94.1,134.3h1.1v1.1h-1.1zM102.8,126.6h1.1v1.1h-1.1zM97.6,82.9h1.1v1.1h-1.1zM77.7,102.4h1.1v1.1h-1.1zM50.7,132.0h1.1v1.1h-1.1zM48.6,135.4h1.1v1.1h-1.1zM104.6,132.6h1.1v1.1h-1.1zM99.1,84.8h1.1v1.1h-1.1zM79.3,104.5h1.1v1.1h-1.1zM56.0,127.6h1.1v1.1h-1.1zM88.4,96.4h1.1v1.1h-1.1zM95.8,130.6h1.1v1.1h-1.1zM85.9,156.9h1.1v1.1h-1.1zM99.1,132.0h1.1v1.1h-1.1zM118.1,110.7h1.1v1.1h-1.1zM116.6,122.0h1.1v1.1h-1.1zM83.1,98.1h1.1v1.1h-1.1zM80.1,105.1h1.1v1.1h-1.1zM108.6,118.9h1.1v1.1h-1.1zM78.6,100.7h1.1v1.1h-1.1zM112.4,117.3h1.1v1.1h-1.1zM129.8,50.8h1.1v1.1h-1.1zM144.9,44.2h1.1v1.1h-1.1zM63.9,121.1h1.1v1.1h-1.1zM146.9,85.6h1.1v1.1h-1.1zM150.9,78.6h1.1v1.1h-1.1zM78.0,147.3h1.1v1.1h-1.1zM77.6,150.8h1.1v1.1h-1.1zM119.9,122.9h1.1v1.1h-1.1zM118.1,110.0h1.1v1.1h-1.1zM123.2,109.1h1.1v1.1h-1.1zM120.7,66.9h1.1v1.1h-1.1zM111.1,75.0h1.1v1.1h-1.1zM159.2,82.8h1.1v1.1h-1.1zM165.8,64.5h1.1v1.1h-1.1zM76.5,149.7h1.1v1.1h-1.1zM136.3,92.0h1.1v1.1h-1.1zM107.3,130.3h1.1v1.1h-1.1zM100.5,127.2h1.1v1.1h-1.1zM85.0,93.6h1.1v1.1h-1.1zM68.2,101.5h1.1v1.1h-1.1zM94.7,91.9h1.1v1.1h-1.1zM139.8,48.9h1.1v1.1h-1.1zM130.7,100.6h1.1v1.1h-1.1zM57.4,118.4h1.1v1.1h-1.1zM56.9,122.3h1.1v1.1h-1.1zM151.1,82.3h1.1v1.1h-1.1zM75.2,110.4h1.1v1.1h-1.1zM71.8,152.6h1.1v1.1h-1.1zM77.7,147.5h1.1v1.1h-1.1zM86.5,142.9h1.1v1.1h-1.1zM119.8,108.0h1.1v1.1h-1.1zM69.3,108.9h1.1v1.1h-1.1zM108.7,118.1h1.1v1.1h-1.1zM67.3,157.4h1.1v1.1h-1.1zM58.5,120.0h1.1v1.1h-1.1zM91.7,93.0h1.1v1.1h-1.1zM163.2,66.0h1.1v1.1h-1.1zM100.6,127.6h1.1v1.1h-1.1zM98.5,66.0h1.1v1.1h-1.1zM123.5,103.7h1.1v1.1h-1.1zM63.8,119.9h1.1v1.1h-1.1zM118.7,56.9h1.1v1.1h-1.1zM107.8,120.9h1.1v1.1h-1.1zM144.8,85.4h1.1v1.1h-1.1zM76.4,97.7h1.1v1.1h-1.1zM160.1,70.5h1.1v1.1h-1.1zM117.1,109.6h1.1v1.1h-1.1zM99.4,87.1h1.1v1.1h-1.1zM90.1,141.2h1.1v1.1h-1.1zM117.0,110.3h1.1v1.1h-1.1zM108.5,119.6h1.1v1.1h-1.1zM124.4,50.6h1.1v1.1h-1.1zM113.2,71.5h1.1v1.1h-1.1zM108.7,79.0h1.1v1.1h-1.1zM52.0,130.5h1.1v1.1h-1.1zM84.8,140.8h1.1v1.1h-1.1zM47.8,134.7h1.1v1.1h-1.1zM76.0,149.1h1.1v1.1h-1.1zM49.2,131.0h1.1v1.1h-1.1zM125.2,102.0h1.1v1.1h-1.1zM100.6,130.0h1.1v1.1h-1.1zM148.1,81.7h1.1v1.1h-1.1zM63.0,122.5h1.1v1.1h-1.1zM53.2,121.0h1.1v1.1h-1.1zM58.3,126.0h1.1v1.1h-1.1zM86.0,151.1h1.1v1.1h-1.1zM132.3,107.3h1.1v1.1h-1.1zM139.3,96.4h1.1v1.1h-1.1zM116.5,57.3h1.1v1.1h-1.1zM105.6,122.5h1.1v1.1h-1.1zM156.2,75.8h1.1v1.1h-1.1zM85.3,94.9h1.1v1.1h-1.1zM101.7,72.7h1.1v1.1h-1.1zM83.0,142.9h1.1v1.1h-1.1zM81.7,99.2h1.1v1.1h-1.1zM53.6,128.2h1.1v1.1h-1.1zM52.7,131.8h1.1v1.1h-1.1zM140.4,125.9h1.1v1.1h-1.1zM126.7,100.8h1.1v1.1h-1.1zM103.0,82.7h1.1v1.1h-1.1zM59.5,122.4h1.1v1.1h-1.1zM92.4,138.9h1.1v1.1h-1.1zM92.2,66.2h1.1v1.1h-1.1zM136.1,51.3h1.1v1.1h-1.1zM144.7,84.7h1.1v1.1h-1.1zM95.6,87.3h1.1v1.1h-1.1zM138.8,47.0h1.1v1.1h-1.1zM112.1,75.5h1.1v1.1h-1.1zM89.2,140.1h1.1v1.1h-1.1zM106.2,71.9h1.1v1.1h-1.1zM143.6,86.5h1.1v1.1h-1.1zM108.3,118.4h1.1v1.1h-1.1z" fill="#c4c4c4"/>
<path d="M105.0,73.5h1.1v1.1h-1.1zM85.8,93.2h1.1v1.1h-1.1zM100.4,57.8h1.1v1.1h-1.1zM100.6,74.5h1.1v1.1h-1.1zM133.5,51.1h1.1v1.1h-1.1zM111.8,60.3h1.1v1.1h-1.1zM111.4,67.3h1.1v1.1h-1.1zM97.1,74.4h1.1v1.1h-1.1zM125.3,49.7h1.1v1.1h-1.1zM126.8,53.6h1.1v1.1h-1.1zM94.5,79.2h1.1v1.1h-1.1zM60.7,115.0h1.1v1.1h-1.1zM96.6,84.9h1.1v1.1h-1.1zM122.4,57.4h1.1v1.1h-1.1zM87.0,79.9h1.1v1.1h-1.1zM111.8,50.9h1.1v1.1h-1.1zM87.7,93.0h1.1v1.1h-1.1zM94.4,84.9h1.1v1.1h-1.1zM120.2,54.0h1.1v1.1h-1.1zM95.8,83.4h1.1v1.1h-1.1zM124.1,61.7h1.1v1.1h-1.1zM118.9,55.7h1.1v1.1h-1.1zM126.6,58.0h1.1v1.1h-1.1zM76.7,105.2h1.1v1.1h-1.1zM131.2,45.1h1.1v1.1h-1.1zM123.5,61.9h1.1v1.1h-1.1zM114.7,70.7h1.1v1.1h-1.1zM114.8,50.4h1.1v1.1h-1.1zM83.7,95.2h1.1v1.1h-1.1zM134.6,48.7h1.1v1.1h-1.1zM75.0,102.6h1.1v1.1h-1.1zM110.0,71.9h1.1v1.1h-1.1zM140.8,44.5h1.1v1.1h-1.1zM97.4,80.8h1.1v1.1h-1.1zM85.5,79.1h1.1v1.1h-1.1zM120.9,56.3h1.1v1.1h-1.1zM108.5,74.7h1.1v1.1h-1.1zM127.0,55.6h1.1v1.1h-1.1zM115.9,66.9h1.1v1.1h-1.1zM120.2,62.1h1.1v1.1h-1.1zM136.9,47.6h1.1v1.1h-1.1zM137.0,49.1h1.1v1.1h-1.1zM77.5,100.6h1.1v1.1h-1.1zM124.4,50.1h1.1v1.1h-1.1zM77.7,101.9h1.1v1.1h-1.1zM75.3,88.1h1.1v1.1h-1.1zM118.4,66.0h1.1v1.1h-1.1zM116.7,52.2h1.1v1.1h-1.1zM94.9,85.9h1.1v1.1h-1.1zM104.6,77.9h1.1v1.1h-1.1zM107.1,77.0h1.1v1.1h-1.1zM126.8,50.0h1.1v1.1h-1.1zM121.0,63.1h1.1v1.1h-1.1zM104.1,76.3h1.1v1.1h-1.1zM126.9,46.8h1.1v1.1h-1.1zM70.3,112.7h1.1v1.1h-1.1zM141.1,44.4h1.1v1.1h-1.1zM137.8,48.6h1.1v1.1h-1.1zM90.5,70.4h1.1v1.1h-1.1zM112.4,67.0h1.1v1.1h-1.1zM95.1,89.3h1.1v1.1h-1.1zM97.7,86.0h1.1v1.1h-1.1zM124.3,58.0h1.1v1.1h-1.1zM122.5,60.3h1.1v1.1h-1.1zM69.1,104.2h1.1v1.1h-1.1zM124.9,57.1h1.1v1.1h-1.1zM71.1,88.0h1.1v1.1h-1.1zM73.4,100.8h1.1v1.1h-1.1zM124.2,60.8h1.1v1.1h-1.1zM121.8,60.0h1.1v1.1h-1.1zM125.5,55.8h1.1v1.1h-1.1zM93.0,87.1h1.1v1.1h-1.1zM85.8,84.9h1.1v1.1h-1.1zM127.1,53.8h1.1v1.1h-1.1zM70.5,107.8h1.1v1.1h-1.1zM113.5,66.5h1.1v1.1h-1.1zM79.3,99.9h1.1v1.1h-1.1zM126.4,54.4h1.1v1.1h-1.1zM70.9,108.8h1.1v1.1h-1.1zM121.5,56.9h1.1v1.1h-1.1zM125.2,58.8h1.1v1.1h-1.1zM121.0,64.5h1.1v1.1h-1.1zM85.0,97.9h1.1v1.1h-1.1zM123.6,62.5h1.1v1.1h-1.1zM120.5,57.1h1.1v1.1h-1.1zM105.1,75.3h1.1v1.1h-1.1zM97.6,54.3h1.1v1.1h-1.1zM100.2,76.8h1.1v1.1h-1.1zM123.5,61.5h1.1v1.1h-1.1zM69.0,106.8h1.1v1.1h-1.1zM81.0,99.1h1.1v1.1h-1.1zM138.8,47.9h1.1v1.1h-1.1zM111.0,63.0h1.1v1.1h-1.1zM84.0,95.6h1.1v1.1h-1.1zM94.3,88.7h1.1v1.1h-1.1zM117.4,59.9h1.1v1.1h-1.1zM81.2,97.2h1.1v1.1h-1.1zM112.1,65.4h1.1v1.1h-1.1zM123.3,50.6h1.1v1.1h-1.1zM133.5,45.1h1.1v1.1h-1.1zM111.2,68.9h1.1v1.1h-1.1zM96.0,87.5h1.1v1.1h-1.1zM119.4,64.6h1.1v1.1h-1.1zM100.3,80.1h1.1v1.1h-1.1zM60.5,118.3h1.1v1.1h-1.1zM119.4,49.6h1.1v1.1h-1.1zM97.3,83.9h1.1v1.1h-1.1zM138.7,45.3h1.1v1.1h-1.1zM91.7,69.7h1.1v1.1h-1.1zM80.9,99.4h1.1v1.1h-1.1zM88.8,86.2h1.1v1.1h-1.1zM131.8,52.9h1.1v1.1h-1.1zM141.2,44.8h1.1v1.1h-1.1zM131.7,54.9h1.1v1.1h-1.1zM127.9,44.3h1.1v1.1h-1.1zM117.6,61.3h1.1v1.1h-1.1zM115.1,69.9h1.1v1.1h-1.1zM136.4,49.0h1.1v1.1h-1.1zM123.5,62.4h1.1v1.1h-1.1zM122.2,44.1h1.1v1.1h-1.1zM63.8,113.0h1.1v1.1h-1.1zM76.5,93.1h1.1v1.1h-1.1zM102.5,82.0h1.1v1.1h-1.1zM134.4,50.9h1.1v1.1h-1.1zM119.9,52.0h1.1v1.1h-1.1zM59.2,112.5h1.1v1.1h-1.1zM139.7,46.1h1.1v1.1h-1.1zM77.5,96.0h1.1v1.1h-1.1zM74.0,108.0h1.1v1.1h-1.1zM102.5,72.3h1.1v1.1h-1.1zM97.2,84.5h1.1v1.1h-1.1zM121.9,63.1h1.1v1.1h-1.1zM117.5,67.4h1.1v1.1h-1.1zM77.3,100.7h1.1v1.1h-1.1zM75.8,105.8h1.1v1.1h-1.1zM132.0,53.2h1.1v1.1h-1.1zM97.7,86.1h1.1v1.1h-1.1zM135.1,48.1h1.1v1.1h-1.1zM64.9,117.8h1.1v1.1h-1.1zM111.8,49.9h1.1v1.1h-1.1zM111.2,70.5h1.1v1.1h-1.1zM104.6,76.9h1.1v1.1h-1.1zM98.5,71.7h1.1v1.1h-1.1zM141.0,44.7h1.1v1.1h-1.1zM140.2,44.1h1.1v1.1h-1.1zM79.2,104.8h1.1v1.1h-1.1zM122.5,56.6h1.1v1.1h-1.1zM90.4,73.2h1.1v1.1h-1.1zM133.9,47.0h1.1v1.1h-1.1zM91.2,88.0h1.1v1.1h-1.1zM129.2,45.3h1.1v1.1h-1.1zM53.8,99.3h1.1v1.1h-1.1zM102.7,70.3h1.1v1.1h-1.1zM125.2,55.9h1.1v1.1h-1.1zM92.3,86.4h1.1v1.1h-1.1zM87.0,94.8h1.1v1.1h-1.1zM84.1,95.8h1.1v1.1h-1.1zM63.8,105.3h1.1v1.1h-1.1zM101.7,83.2h1.1v1.1h-1.1zM124.2,60.2h1.1v1.1h-1.1zM113.8,46.6h1.1v1.1h-1.1zM108.0,75.9h1.1v1.1h-1.1zM129.1,51.0h1.1v1.1h-1.1zM121.2,63.4h1.1v1.1h-1.1zM109.3,73.4h1.1v1.1h-1.1zM78.3,96.9h1.1v1.1h-1.1zM93.5,84.8h1.1v1.1h-1.1zM117.0,65.1h1.1v1.1h-1.1zM75.0,105.9h1.1v1.1h-1.1zM118.3,66.2h1.1v1.1h-1.1zM105.7,71.7h1.1v1.1h-1.1zM115.1,69.5h1.1v1.1h-1.1zM122.5,58.7h1.1v1.1h-1.1zM123.5,53.2h1.1v1.1h-1.1zM59.0,123.3h1.1v1.1h-1.1zM135.3,46.8h1.1v1.1h-1.1zM78.4,91.2h1.1v1.1h-1.1zM125.4,51.9h1.1v1.1h-1.1zM70.3,112.6h1.1v1.1h-1.1zM100.5,67.7h1.1v1.1h-1.1zM98.8,68.8h1.1v1.1h-1.1zM93.1,90.8h1.1v1.1h-1.1zM125.3,59.9h1.1v1.1h-1.1zM132.0,51.9h1.1v1.1h-1.1zM136.7,46.5h1.1v1.1h-1.1zM73.0,104.1h1.1v1.1h-1.1zM122.3,55.8h1.1v1.1h-1.1zM137.2,48.5h1.1v1.1h-1.1zM111.8,62.6h1.1v1.1h-1.1zM110.7,62.0h1.1v1.1h-1.1zM83.3,82.5h1.1v1.1h-1.1zM108.2,76.1h1.1v1.1h-1.1zM117.6,65.5h1.1v1.1h-1.1zM124.1,61.9h1.1v1.1h-1.1zM100.2,74.3h1.1v1.1h-1.1zM61.8,104.9h1.1v1.1h-1.1zM123.9,59.0h1.1v1.1h-1.1zM104.8,74.5h1.1v1.1h-1.1zM88.0,86.1h1.1v1.1h-1.1zM127.7,50.8h1.1v1.1h-1.1zM121.0,62.8h1.1v1.1h-1.1zM128.7,56.7h1.1v1.1h-1.1zM114.3,65.9h1.1v1.1h-1.1zM85.6,94.8h1.1v1.1h-1.1zM86.4,83.5h1.1v1.1h-1.1zM134.1,45.0h1.1v1.1h-1.1zM116.1,56.0h1.1v1.1h-1.1zM136.7,47.0h1.1v1.1h-1.1zM120.4,61.2h1.1v1.1h-1.1zM140.4,45.0h1.1v1.1h-1.1zM109.0,68.0h1.1v1.1h-1.1zM127.7,46.8h1.1v1.1h-1.1zM124.9,58.7h1.1v1.1h-1.1zM97.7,73.0h1.1v1.1h-1.1zM118.5,63.1h1.1v1.1h-1.1zM89.7,88.3h1.1v1.1h-1.1zM75.1,88.3h1.1v1.1h-1.1zM56.5,126.4h1.1v1.1h-1.1zM70.8,108.0h1.1v1.1h-1.1zM136.4,45.8h1.1v1.1h-1.1zM104.6,78.6h1.1v1.1h-1.1zM100.6,81.2h1.1v1.1h-1.1zM123.8,56.3h1.1v1.1h-1.1zM107.4,65.2h1.1v1.1h-1.1zM105.2,64.6h1.1v1.1h-1.1zM123.0,62.2h1.1v1.1h-1.1zM119.7,58.4h1.1v1.1h-1.1zM117.1,64.8h1.1v1.1h-1.1zM137.3,44.9h1.1v1.1h-1.1zM113.5,66.1h1.1v1.1h-1.1zM111.0,54.5h1.1v1.1h-1.1zM88.3,95.7h1.1v1.1h-1.1zM107.4,56.6h1.1v1.1h-1.1zM131.9,48.8h1.1v1.1h-1.1zM98.6,83.1h1.1v1.1h-1.1zM56.8,123.4h1.1v1.1h-1.1zM141.1,44.0h1.1v1.1h-1.1zM114.6,71.1h1.1v1.1h-1.1zM99.0,85.3h1.1v1.1h-1.1zM98.9,72.7h1.1v1.1h-1.1zM101.1,83.4h1.1v1.1h-1.1zM97.2,71.1h1.1v1.1h-1.1zM69.3,73.0h1.1v1.1h-1.1zM80.2,102.5h1.1v1.1h-1.1zM76.2,98.1h1.1v1.1h-1.1zM80.0,95.6h1.1v1.1h-1.1zM106.0,63.0h1.1v1.1h-1.1zM51.3,128.5h1.1v1.1h-1.1zM69.2,107.4h1.1v1.1h-1.1zM86.4,86.4h1.1v1.1h-1.1zM134.1,51.6h1.1v1.1h-1.1zM86.3,85.1h1.1v1.1h-1.1zM127.5,47.5h1.1v1.1h-1.1zM90.8,87.1h1.1v1.1h-1.1zM101.5,78.0h1.1v1.1h-1.1zM111.2,69.2h1.1v1.1h-1.1zM91.5,79.2h1.1v1.1h-1.1zM86.8,92.9h1.1v1.1h-1.1zM121.2,62.8h1.1v1.1h-1.1zM139.8,47.0h1.1v1.1h-1.1zM97.5,77.5h1.1v1.1h-1.1zM98.5,80.2h1.1v1.1h-1.1zM79.8,102.1h1.1v1.1h-1.1zM82.1,82.1h1.1v1.1h-1.1zM118.1,46.1h1.1v1.1h-1.1zM134.2,46.5h1.1v1.1h-1.1zM81.1,86.9h1.1v1.1h-1.1zM67.0,114.7h1.1v1.1h-1.1zM89.1,88.4h1.1v1.1h-1.1zM126.9,51.6h1.1v1.1h-1.1zM140.0,45.7h1.1v1.1h-1.1zM126.2,58.9h1.1v1.1h-1.1zM105.7,79.1h1.1v1.1h-1.1zM135.2,50.8h1.1v1.1h-1.1zM130.2,44.1h1.1v1.1h-1.1zM124.5,55.2h1.1v1.1h-1.1zM139.7,45.6h1.1v1.1h-1.1zM93.6,87.0h1.1v1.1h-1.1zM78.6,104.9h1.1v1.1h-1.1zM84.8,75.9h1.1v1.1h-1.1zM94.3,48.8h1.1v1.1h-1.1zM126.4,56.6h1.1v1.1h-1.1zM100.1,78.6h1.1v1.1h-1.1zM94.8,88.1h1.1v1.1h-1.1zM70.1,106.0h1.1v1.1h-1.1zM78.5,97.8h1.1v1.1h-1.1zM124.9,61.1h1.1v1.1h-1.1zM113.7,69.7h1.1v1.1h-1.1zM101.3,83.6h1.1v1.1h-1.1zM119.3,56.0h1.1v1.1h-1.1zM105.8,72.5h1.1v1.1h-1.1zM73.8,105.7h1.1v1.1h-1.1zM140.8,45.1h1.1v1.1h-1.1zM83.2,86.2h1.1v1.1h-1.1zM126.5,57.0h1.1v1.1h-1.1zM114.0,71.6h1.1v1.1h-1.1zM74.4,98.0h1.1v1.1h-1.1zM100.5,82.3h1.1v1.1h-1.1zM106.7,55.6h1.1v1.1h-1.1zM85.3,80.7h1.1v1.1h-1.1zM110.3,48.7h1.1v1.1h-1.1zM66.4,115.2h1.1v1.1h-1.1zM131.1,52.1h1.1v1.1h-1.1zM107.6,77.7h1.1v1.1h-1.1zM59.6,119.1h1.1v1.1h-1.1zM123.1,58.3h1.1v1.1h-1.1zM97.6,85.6h1.1v1.1h-1.1zM108.8,64.4h1.1v1.1h-1.1zM99.5,78.2h1.1v1.1h-1.1zM120.0,59.1h1.1v1.1h-1.1zM120.4,54.9h1.1v1.1h-1.1zM55.0,108.3h1.1v1.1h-1.1zM96.4,71.6h1.1v1.1h-1.1zM114.3,45.1h1.1v1.1h-1.1zM102.3,71.3h1.1v1.1h-1.1zM89.4,77.2h1.1v1.1h-1.1zM123.3,58.1h1.1v1.1h-1.1zM123.4,61.4h1.1v1.1h-1.1zM108.9,64.3h1.1v1.1h-1.1zM115.2,66.9h1.1v1.1h-1.1zM68.8,112.7h1.1v1.1h-1.1zM127.2,49.6h1.1v1.1h-1.1zM80.7,80.6h1.1v1.1h-1.1zM140.5,44.0h1.1v1.1h-1.1zM127.4,56.6h1.1v1.1h-1.1zM108.1,63.6h1.1v1.1h-1.1zM124.5,47.7h1.1v1.1h-1.1zM83.1,88.8h1.1v1.1h-1.1zM108.8,66.3h1.1v1.1h-1.1zM114.7,65.2h1.1v1.1h-1.1zM94.9,71.5h1.1v1.1h-1.1zM133.4,51.5h1.1v1.1h-1.1zM99.0,82.7h1.1v1.1h-1.1zM84.9,90.6h1.1v1.1h-1.1zM127.9,46.5h1.1v1.1h-1.1zM125.2,60.4h1.1v1.1h-1.1zM133.7,49.1h1.1v1.1h-1.1zM128.5,49.6h1.1v1.1h-1.1zM103.4,77.9h1.1v1.1h-1.1zM93.0,78.0h1.1v1.1h-1.1zM138.4,45.2h1.1v1.1h-1.1zM127.9,55.0h1.1v1.1h-1.1zM132.7,50.5h1.1v1.1h-1.1zM95.3,82.2h1.1v1.1h-1.1zM137.7,46.8h1.1v1.1h-1.1zM115.8,68.2h1.1v1.1h-1.1zM117.5,63.7h1.1v1.1h-1.1zM81.3,101.6h1.1v1.1h-1.1zM139.8,47.0h1.1v1.1h-1.1zM89.9,89.5h1.1v1.1h-1.1zM106.2,73.7h1.1v1.1h-1.1zM95.6,88.8h1.1v1.1h-1.1zM54.7,109.4h1.1v1.1h-1.1zM83.3,92.6h1.1v1.1h-1.1zM93.1,91.4h1.1v1.1h-1.1zM74.8,106.5h1.1v1.1h-1.1zM95.3,65.7h1.1v1.1h-1.1zM103.5,78.1h1.1v1.1h-1.1zM124.0,51.5h1.1v1.1h-1.1zM74.8,98.3h1.1v1.1h-1.1zM122.3,61.5h1.1v1.1h-1.1zM74.8,105.2h1.1v1.1h-1.1zM89.9,87.4h1.1v1.1h-1.1zM104.9,74.8h1.1v1.1h-1.1zM58.1,123.9h1.1v1.1h-1.1zM118.0,64.3h1.1v1.1h-1.1zM110.9,65.0h1.1v1.1h-1.1zM101.6,72.8h1.1v1.1h-1.1zM99.0,82.4h1.1v1.1h-1.1zM75.1,104.5h1.1v1.1h-1.1zM95.9,87.3h1.1v1.1h-1.1zM103.6,80.2h1.1v1.1h-1.1zM118.7,66.7h1.1v1.1h-1.1zM120.8,64.1h1.1v1.1h-1.1zM131.4,53.7h1.1v1.1h-1.1zM122.8,62.4h1.1v1.1h-1.1zM88.4,70.9h1.1v1.1h-1.1zM101.1,81.3h1.1v1.1h-1.1zM92.2,62.4h1.1v1.1h-1.1zM119.7,60.5h1.1v1.1h-1.1zM120.5,57.3h1.1v1.1h-1.1zM125.1,57.7h1.1v1.1h-1.1zM99.2,71.9h1.1v1.1h-1.1zM138.7,46.9h1.1v1.1h-1.1zM90.2,93.3h1.1v1.1h-1.1zM102.9,77.7h1.1v1.1h-1.1zM135.2,51.0h1.1v1.1h-1.1zM98.2,78.0h1.1v1.1h-1.1zM107.7,66.4h1.1v1.1h-1.1zM67.8,98.5h1.1v1.1h-1.1zM126.2,49.4h1.1v1.1h-1.1zM107.4,74.9h1.1v1.1h-1.1zM133.3,53.3h1.1v1.1h-1.1zM91.4,84.4h1.1v1.1h-1.1zM112.8,60.1h1.1v1.1h-1.1zM136.8,45.6h1.1v1.1h-1.1zM129.0,51.9h1.1v1.1h-1.1zM109.6,73.6h1.1v1.1h-1.1zM81.3,101.4h1.1v1.1h-1.1zM105.1,78.3h1.1v1.1h-1.1zM76.7,97.1h1.1v1.1h-1.1zM98.8,84.9h1.1v1.1h-1.1zM107.6,76.5h1.1v1.1h-1.1zM103.7,71.9h1.1v1.1h-1.1zM115.6,59.6h1.1v1.1h-1.1zM124.0,59.0h1.1v1.1h-1.1zM113.1,63.6h1.1v1.1h-1.1zM63.7,113.7h1.1v1.1h-1.1zM128.8,51.6h1.1v1.1h-1.1zM91.6,85.4h1.1v1.1h-1.1zM84.0,94.9h1.1v1.1h-1.1zM97.3,84.1h1.1v1.1h-1.1zM105.3,75.7h1.1v1.1h-1.1zM129.2,51.6h1.1v1.1h-1.1zM76.9,106.6h1.1v1.1h-1.1zM127.3,57.6h1.1v1.1h-1.1zM113.8,67.9h1.1v1.1h-1.1zM112.5,67.1h1.1v1.1h-1.1zM132.6,53.8h1.1v1.1h-1.1zM116.9,63.2h1.1v1.1h-1.1zM88.6,93.6h1.1v1.1h-1.1zM118.9,56.4h1.1v1.1h-1.1zM132.9,53.1h1.1v1.1h-1.1zM119.5,65.1h1.1v1.1h-1.1zM63.7,116.8h1.1v1.1h-1.1zM105.4,78.9h1.1v1.1h-1.1zM105.9,47.1h1.1v1.1h-1.1zM107.4,75.0h1.1v1.1h-1.1zM81.2,92.4h1.1v1.1h-1.1zM105.5,72.2h1.1v1.1h-1.1zM98.3,72.3h1.1v1.1h-1.1zM113.7,58.4h1.1v1.1h-1.1zM95.7,78.2h1.1v1.1h-1.1zM127.5,53.4h1.1v1.1h-1.1zM139.8,45.8h1.1v1.1h-1.1zM81.5,100.0h1.1v1.1h-1.1zM111.0,70.5h1.1v1.1h-1.1zM141.0,44.8h1.1v1.1h-1.1zM109.6,72.7h1.1v1.1h-1.1zM138.2,47.3h1.1v1.1h-1.1zM69.1,109.2h1.1v1.1h-1.1zM104.9,69.7h1.1v1.1h-1.1zM138.9,48.0h1.1v1.1h-1.1zM139.1,44.3h1.1v1.1h-1.1zM139.5,46.0h1.1v1.1h-1.1zM126.0,50.2h1.1v1.1h-1.1zM137.0,48.4h1.1v1.1h-1.1zM116.1,66.5h1.1v1.1h-1.1zM126.1,50.3h1.1v1.1h-1.1zM127.0,57.3h1.1v1.1h-1.1zM55.6,116.9h1.1v1.1h-1.1zM136.4,49.5h1.1v1.1h-1.1zM137.0,46.9h1.1v1.1h-1.1zM139.1,45.8h1.1v1.1h-1.1zM111.2,69.9h1.1v1.1h-1.1zM70.9,107.5h1.1v1.1h-1.1zM129.1,55.5h1.1v1.1h-1.1zM124.5,60.3h1.1v1.1h-1.1zM116.4,63.6h1.1v1.1h-1.1zM99.9,74.1h1.1v1.1h-1.1zM70.2,105.1h1.1v1.1h-1.1zM108.2,69.3h1.1v1.1h-1.1zM95.2,73.8h1.1v1.1h-1.1zM136.4,49.5h1.1v1.1h-1.1zM99.1,82.7h1.1v1.1h-1.1zM63.8,118.8h1.1v1.1h-1.1zM98.4,73.9h1.1v1.1h-1.1zM131.8,48.9h1.1v1.1h-1.1zM113.4,67.1h1.1v1.1h-1.1zM139.7,44.3h1.1v1.1h-1.1zM96.3,79.0h1.1v1.1h-1.1zM93.8,90.3h1.1v1.1h-1.1zM87.6,82.4h1.1v1.1h-1.1zM137.5,48.3h1.1v1.1h-1.1zM123.5,56.6h1.1v1.1h-1.1zM134.1,49.7h1.1v1.1h-1.1zM72.0,111.3h1.1v1.1h-1.1zM94.7,81.2h1.1v1.1h-1.1zM95.4,81.8h1.1v1.1h-1.1zM78.1,95.5h1.1v1.1h-1.1zM115.3,57.7h1.1v1.1h-1.1zM132.5,49.4h1.1v1.1h-1.1zM123.3,58.1h1.1v1.1h-1.1zM126.3,56.2h1.1v1.1h-1.1zM99.8,80.7h1.1v1.1h-1.1zM92.9,76.6h1.1v1.1h-1.1zM90.9,47.2h1.1v1.1h-1.1zM120.1,63.8h1.1v1.1h-1.1zM95.2,88.6h1.1v1.1h-1.1zM139.1,44.7h1.1v1.1h-1.1zM107.4,60.5h1.1v1.1h-1.1zM133.2,48.2h1.1v1.1h-1.1zM75.5,107.7h1.1v1.1h-1.1zM107.4,64.6h1.1v1.1h-1.1zM123.8,59.4h1.1v1.1h-1.1zM116.1,63.8h1.1v1.1h-1.1zM83.1,84.8h1.1v1.1h-1.1zM107.7,74.2h1.1v1.1h-1.1zM103.5,80.3h1.1v1.1h-1.1zM82.0,97.7h1.1v1.1h-1.1zM68.3,91.2h1.1v1.1h-1.1zM107.3,72.0h1.1v1.1h-1.1zM123.8,58.7h1.1v1.1h-1.1zM109.0,58.7h1.1v1.1h-1.1zM131.0,53.4h1.1v1.1h-1.1zM83.9,92.5h1.1v1.1h-1.1zM100.5,76.1h1.1v1.1h-1.1zM130.6,53.6h1.1v1.1h-1.1zM120.3,58.6h1.1v1.1h-1.1zM104.0,57.9h1.1v1.1h-1.1zM129.5,51.1h1.1v1.1h-1.1zM123.1,55.5h1.1v1.1h-1.1zM94.5,81.5h1.1v1.1h-1.1zM121.4,45.2h1.1v1.1h-1.1zM121.2,62.0h1.1v1.1h-1.1zM77.5,98.6h1.1v1.1h-1.1zM136.8,44.7h1.1v1.1h-1.1zM128.6,55.8h1.1v1.1h-1.1zM82.6,92.3h1.1v1.1h-1.1zM117.8,67.7h1.1v1.1h-1.1zM99.1,84.1h1.1v1.1h-1.1zM140.1,46.0h1.1v1.1h-1.1zM86.1,90.3h1.1v1.1h-1.1zM84.7,97.5h1.1v1.1h-1.1zM134.8,44.1h1.1v1.1h-1.1zM78.0,84.0h1.1v1.1h-1.1zM133.1,49.3h1.1v1.1h-1.1zM137.0,48.9h1.1v1.1h-1.1zM107.3,74.5h1.1v1.1h-1.1zM121.9,47.1h1.1v1.1h-1.1zM137.0,45.9h1.1v1.1h-1.1zM140.5,46.4h1.1v1.1h-1.1zM84.7,93.3h1.1v1.1h-1.1zM88.4,80.3h1.1v1.1h-1.1zM125.1,60.2h1.1v1.1h-1.1zM108.6,60.1h1.1v1.1h-1.1zM67.9,109.8h1.1v1.1h-1.1zM87.3,96.7h1.1v1.1h-1.1zM82.2,99.4h1.1v1.1h-1.1zM92.2,90.5h1.1v1.1h-1.1zM131.5,52.8h1.1v1.1h-1.1zM79.6,98.2h1.1v1.1h-1.1zM136.4,47.6h1.1v1.1h-1.1zM137.1,48.4h1.1v1.1h-1.1zM127.8,50.0h1.1v1.1h-1.1zM105.5,69.7h1.1v1.1h-1.1zM87.4,96.6h1.1v1.1h-1.1zM111.4,61.4h1.1v1.1h-1.1zM85.2,95.8h1.1v1.1h-1.1zM104.2,80.1h1.1v1.1h-1.1zM84.9,94.2h1.1v1.1h-1.1zM114.0,70.1h1.1v1.1h-1.1zM106.4,63.0h1.1v1.1h-1.1zM107.2,74.0h1.1v1.1h-1.1zM97.1,74.9h1.1v1.1h-1.1zM142.7,44.3h1.1v1.1h-1.1zM125.2,57.4h1.1v1.1h-1.1zM128.2,57.8h1.1v1.1h-1.1zM69.6,104.8h1.1v1.1h-1.1zM123.4,52.2h1.1v1.1h-1.1zM139.7,44.0h1.1v1.1h-1.1zM114.8,63.1h1.1v1.1h-1.1zM118.4,67.1h1.1v1.1h-1.1zM120.0,45.1h1.1v1.1h-1.1zM105.7,77.6h1.1v1.1h-1.1zM124.5,44.5h1.1v1.1h-1.1zM116.2,68.3h1.1v1.1h-1.1zM60.1,118.6h1.1v1.1h-1.1zM141.0,45.3h1.1v1.1h-1.1zM121.9,63.2h1.1v1.1h-1.1zM134.9,47.9h1.1v1.1h-1.1zM136.9,44.6h1.1v1.1h-1.1zM84.2,98.8h1.1v1.1h-1.1zM104.7,70.5h1.1v1.1h-1.1zM123.9,57.5h1.1v1.1h-1.1zM131.1,49.3h1.1v1.1h-1.1zM114.9,69.7h1.1v1.1h-1.1zM78.2,96.5h1.1v1.1h-1.1zM124.4,58.3h1.1v1.1h-1.1zM69.6,109.0h1.1v1.1h-1.1zM135.5,49.9h1.1v1.1h-1.1zM123.3,61.0h1.1v1.1h-1.1zM113.5,59.8h1.1v1.1h-1.1zM129.2,52.9h1.1v1.1h-1.1z" fill="#2b3990"/>
<path d="M161.3,77.3h1.1v1.1h-1.1zM163.1,78.8h1.1v1.1h-1.1zM149.4,103.5h1.1v1.1h-1.1zM167.3,89.2h1.1v1.1h-1.1zM153.8,92.8h1.1v1.1h-1.1zM157.6,80.9h1.1v1.1h-1.1zM147.8,90.5h1.1v1.1h-1.1zM164.1,74.7h1.1v1.1h-1.1zM137.9,108.2h1.1v1.1h-1.1zM122.2,112.9h1.1v1.1h-1.1zM139.6,146.2h1.1v1.1h-1.1zM149.4,86.4h1.1v1.1h-1.1zM137.9,105.9h1.1v1.1h-1.1zM160.7,81.1h1.1v1.1h-1.1zM157.2,82.6h1.1v1.1h-1.1zM142.3,102.8h1.1v1.1h-1.1zM153.3,92.4h1.1v1.1h-1.1zM134.6,100.3h1.1v1.1h-1.1zM148.6,88.3h1.1v1.1h-1.1zM94.5,137.4h1.1v1.1h-1.1zM143.8,93.2h1.1v1.1h-1.1zM138.6,95.7h1.1v1.1h-1.1zM165.0,82.6h1.1v1.1h-1.1zM133.1,101.4h1.1v1.1h-1.1zM166.7,88.6h1.1v1.1h-1.1zM157.4,80.7h1.1v1.1h-1.1zM152.3,82.9h1.1v1.1h-1.1zM165.1,103.5h1.1v1.1h-1.1zM163.5,75.7h1.1v1.1h-1.1zM144.0,96.7h1.1v1.1h-1.1zM146.4,103.7h1.1v1.1h-1.1zM159.5,94.5h1.1v1.1h-1.1zM156.4,79.4h1.1v1.1h-1.1zM153.1,81.5h1.1v1.1h-1.1zM158.4,77.3h1.1v1.1h-1.1zM163.8,81.7h1.1v1.1h-1.1zM159.8,83.9h1.1v1.1h-1.1zM163.0,72.4h1.1v1.1h-1.1zM158.5,84.3h1.1v1.1h-1.1zM155.7,81.0h1.1v1.1h-1.1zM138.4,97.5h1.1v1.1h-1.1zM164.8,71.1h1.1v1.1h-1.1zM126.6,110.8h1.1v1.1h-1.1zM163.0,116.0h1.1v1.1h-1.1zM126.0,107.0h1.1v1.1h-1.1zM161.0,88.3h1.1v1.1h-1.1zM147.5,94.8h1.1v1.1h-1.1zM155.9,87.7h1.1v1.1h-1.1zM163.3,76.5h1.1v1.1h-1.1zM165.8,81.1h1.1v1.1h-1.1zM150.8,86.8h1.1v1.1h-1.1zM117.8,115.9h1.1v1.1h-1.1zM139.4,99.5h1.1v1.1h-1.1zM164.2,71.2h1.1v1.1h-1.1zM151.4,84.5h1.1v1.1h-1.1zM139.9,99.0h1.1v1.1h-1.1zM141.5,104.2h1.1v1.1h-1.1zM166.6,74.5h1.1v1.1h-1.1zM137.1,98.7h1.1v1.1h-1.1zM152.8,82.3h1.1v1.1h-1.1zM92.3,148.1h1.1v1.1h-1.1zM153.6,107.3h1.1v1.1h-1.1zM145.3,89.3h1.1v1.1h-1.1zM161.9,79.7h1.1v1.1h-1.1zM166.1,72.1h1.1v1.1h-1.1zM136.6,98.1h1.1v1.1h-1.1zM110.5,122.3h1.1v1.1h-1.1zM161.6,75.1h1.1v1.1h-1.1zM129.7,136.5h1.1v1.1h-1.1zM123.2,116.4h1.1v1.1h-1.1zM129.6,122.2h1.1v1.1h-1.1zM160.0,79.7h1.1v1.1h-1.1zM125.6,114.4h1.1v1.1h-1.1zM126.5,114.9h1.1v1.1h-1.1zM144.9,99.0h1.1v1.1h-1.1zM159.4,77.5h1.1v1.1h-1.1zM157.4,78.6h1.1v1.1h-1.1zM126.1,126.8h1.1v1.1h-1.1zM106.8,140.5h1.1v1.1h-1.1zM146.6,87.5h1.1v1.1h-1.1zM119.4,123.1h1.1v1.1h-1.1zM123.8,111.4h1.1v1.1h-1.1zM131.3,115.2h1.1v1.1h-1.1zM166.3,70.3h1.1v1.1h-1.1zM161.4,75.0h1.1v1.1h-1.1zM158.9,88.8h1.1v1.1h-1.1zM137.5,96.6h1.1v1.1h-1.1zM167.5,76.1h1.1v1.1h-1.1zM139.7,98.9h1.1v1.1h-1.1zM151.3,93.3h1.1v1.1h-1.1zM131.7,104.4h1.1v1.1h-1.1zM142.8,100.0h1.1v1.1h-1.1zM158.2,84.9h1.1v1.1h-1.1zM148.6,90.3h1.1v1.1h-1.1zM161.8,83.6h1.1v1.1h-1.1zM146.9,87.5h1.1v1.1h-1.1zM147.8,90.5h1.1v1.1h-1.1zM149.4,88.7h1.1v1.1h-1.1zM147.2,91.2h1.1v1.1h-1.1zM156.3,81.4h1.1v1.1h-1.1zM126.0,115.9h1.1v1.1h-1.1zM145.0,93.6h1.1v1.1h-1.1zM163.0,94.7h1.1v1.1h-1.1zM99.5,136.3h1.1v1.1h-1.1zM137.1,148.6h1.1v1.1h-1.1zM163.3,77.0h1.1v1.1h-1.1zM151.1,85.9h1.1v1.1h-1.1zM151.4,87.3h1.1v1.1h-1.1zM104.7,128.5h1.1v1.1h-1.1zM117.3,132.9h1.1v1.1h-1.1zM149.1,96.0h1.1v1.1h-1.1zM162.6,76.7h1.1v1.1h-1.1zM145.1,103.1h1.1v1.1h-1.1zM159.5,75.1h1.1v1.1h-1.1zM144.1,112.5h1.1v1.1h-1.1zM92.5,138.8h1.1v1.1h-1.1zM158.8,94.5h1.1v1.1h-1.1zM139.4,95.0h1.1v1.1h-1.1zM115.6,130.6h1.1v1.1h-1.1zM150.2,84.4h1.1v1.1h-1.1zM141.4,103.0h1.1v1.1h-1.1zM116.6,118.3h1.1v1.1h-1.1zM129.2,105.9h1.1v1.1h-1.1zM135.2,109.5h1.1v1.1h-1.1zM158.3,76.9h1.1v1.1h-1.1zM161.9,73.8h1.1v1.1h-1.1zM157.8,78.5h1.1v1.1h-1.1zM155.8,81.7h1.1v1.1h-1.1zM105.3,130.0h1.1v1.1h-1.1zM156.2,82.4h1.1v1.1h-1.1zM140.9,94.9h1.1v1.1h-1.1zM153.8,97.0h1.1v1.1h-1.1zM145.2,90.0h1.1v1.1h-1.1zM148.4,91.6h1.1v1.1h-1.1zM158.3,85.2h1.1v1.1h-1.1zM155.4,83.5h1.1v1.1h-1.1zM145.4,130.2h1.1v1.1h-1.1zM159.8,80.5h1.1v1.1h-1.1zM124.8,111.8h1.1v1.1h-1.1zM128.4,105.3h1.1v1.1h-1.1zM161.7,75.0h1.1v1.1h-1.1zM130.3,106.8h1.1v1.1h-1.1zM121.2,112.2h1.1v1.1h-1.1zM154.9,87.8h1.1v1.1h-1.1zM106.2,130.3h1.1v1.1h-1.1zM131.2,111.9h1.1v1.1h-1.1zM141.0,98.3h1.1v1.1h-1.1zM164.7,71.0h1.1v1.1h-1.1zM160.0,74.9h1.1v1.1h-1.1zM138.4,95.2h1.1v1.1h-1.1zM143.2,99.7h1.1v1.1h-1.1zM152.8,84.2h1.1v1.1h-1.1zM140.9,94.5h1.1v1.1h-1.1zM139.5,102.1h1.1v1.1h-1.1zM144.2,90.7h1.1v1.1h-1.1zM146.8,117.2h1.1v1.1h-1.1zM144.7,96.9h1.1v1.1h-1.1zM136.1,106.3h1.1v1.1h-1.1zM143.0,90.7h1.1v1.1h-1.1zM120.5,116.9h1.1v1.1h-1.1zM147.0,94.9h1.1v1.1h-1.1zM135.8,118.9h1.1v1.1h-1.1zM157.8,81.9h1.1v1.1h-1.1zM159.3,80.6h1.1v1.1h-1.1zM157.2,77.6h1.1v1.1h-1.1zM149.0,96.0h1.1v1.1h-1.1zM136.3,99.3h1.1v1.1h-1.1zM144.6,137.1h1.1v1.1h-1.1zM158.8,80.3h1.1v1.1h-1.1zM131.2,116.4h1.1v1.1h-1.1zM156.1,80.9h1.1v1.1h-1.1zM167.6,72.5h1.1v1.1h-1.1zM125.1,119.2h1.1v1.1h-1.1zM155.8,79.0h1.1v1.1h-1.1zM146.3,110.1h1.1v1.1h-1.1zM149.0,85.8h1.1v1.1h-1.1zM113.9,119.0h1.1v1.1h-1.1zM138.2,107.3h1.1v1.1h-1.1zM152.8,100.5h1.1v1.1h-1.1zM114.1,123.3h1.1v1.1h-1.1zM101.7,131.6h1.1v1.1h-1.1zM143.5,95.2h1.1v1.1h-1.1zM162.2,77.4h1.1v1.1h-1.1zM161.6,77.6h1.1v1.1h-1.1zM123.1,125.1h1.1v1.1h-1.1zM126.5,123.7h1.1v1.1h-1.1zM105.5,129.2h1.1v1.1h-1.1zM154.2,85.7h1.1v1.1h-1.1zM103.5,131.5h1.1v1.1h-1.1zM166.8,84.0h1.1v1.1h-1.1zM150.3,85.2h1.1v1.1h-1.1zM115.8,118.7h1.1v1.1h-1.1zM161.8,85.6h1.1v1.1h-1.1zM119.0,114.4h1.1v1.1h-1.1zM161.6,83.6h1.1v1.1h-1.1zM140.5,103.3h1.1v1.1h-1.1zM130.2,105.3h1.1v1.1h-1.1zM160.2,79.0h1.1v1.1h-1.1zM127.4,106.5h1.1v1.1h-1.1zM157.1,86.9h1.1v1.1h-1.1zM159.5,75.6h1.1v1.1h-1.1zM130.2,103.9h1.1v1.1h-1.1zM154.3,81.2h1.1v1.1h-1.1zM134.0,103.8h1.1v1.1h-1.1zM109.6,126.5h1.1v1.1h-1.1zM165.7,90.3h1.1v1.1h-1.1zM132.1,107.8h1.1v1.1h-1.1zM145.8,99.5h1.1v1.1h-1.1zM159.1,84.7h1.1v1.1h-1.1zM118.1,117.8h1.1v1.1h-1.1zM166.7,68.5h1.1v1.1h-1.1zM160.3,105.6h1.1v1.1h-1.1zM157.8,79.5h1.1v1.1h-1.1zM150.4,89.5h1.1v1.1h-1.1zM155.0,80.8h1.1v1.1h-1.1zM160.7,96.9h1.1v1.1h-1.1zM135.5,102.5h1.1v1.1h-1.1zM164.3,72.3h1.1v1.1h-1.1zM144.0,97.8h1.1v1.1h-1.1zM137.0,117.9h1.1v1.1h-1.1zM148.6,89.0h1.1v1.1h-1.1zM166.8,71.2h1.1v1.1h-1.1zM156.7,81.4h1.1v1.1h-1.1zM135.9,102.1h1.1v1.1h-1.1zM155.8,84.5h1.1v1.1h-1.1zM165.8,82.5h1.1v1.1h-1.1zM149.6,86.7h1.1v1.1h-1.1zM164.5,76.6h1.1v1.1h-1.1zM131.7,122.6h1.1v1.1h-1.1zM143.5,93.7h1.1v1.1h-1.1zM165.2,110.9h1.1v1.1h-1.1zM146.6,113.0h1.1v1.1h-1.1zM167.2,75.2h1.1v1.1h-1.1zM133.9,100.7h1.1v1.1h-1.1zM148.4,91.4h1.1v1.1h-1.1zM159.4,76.2h1.1v1.1h-1.1zM166.5,100.6h1.1v1.1h-1.1zM117.7,120.8h1.1v1.1h-1.1zM103.2,139.8h1.1v1.1h-1.1zM121.2,115.0h1.1v1.1h-1.1zM138.7,105.1h1.1v1.1h-1.1zM141.7,102.9h1.1v1.1h-1.1zM151.9,98.7h1.1v1.1h-1.1zM127.6,108.4h1.1v1.1h-1.1zM145.4,98.4h1.1v1.1h-1.1zM146.1,92.8h1.1v1.1h-1.1zM166.3,70.3h1.1v1.1h-1.1zM98.1,140.0h1.1v1.1h-1.1zM151.4,88.9h1.1v1.1h-1.1zM158.3,80.9h1.1v1.1h-1.1zM144.4,92.4h1.1v1.1h-1.1zM127.2,110.2h1.1v1.1h-1.1zM149.7,88.0h1.1v1.1h-1.1zM129.8,111.2h1.1v1.1h-1.1zM149.0,85.1h1.1v1.1h-1.1zM140.6,96.6h1.1v1.1h-1.1zM150.0,107.9h1.1v1.1h-1.1zM131.1,107.0h1.1v1.1h-1.1zM166.1,83.1h1.1v1.1h-1.1zM155.3,85.0h1.1v1.1h-1.1zM158.1,85.5h1.1v1.1h-1.1zM163.8,82.5h1.1v1.1h-1.1zM131.3,110.5h1.1v1.1h-1.1zM163.5,73.8h1.1v1.1h-1.1zM149.6,95.9h1.1v1.1h-1.1zM98.9,134.9h1.1v1.1h-1.1zM152.9,84.3h1.1v1.1h-1.1zM161.8,74.5h1.1v1.1h-1.1zM148.5,89.7h1.1v1.1h-1.1zM125.9,121.8h1.1v1.1h-1.1zM139.7,94.6h1.1v1.1h-1.1zM136.0,108.6h1.1v1.1h-1.1zM156.6,79.3h1.1v1.1h-1.1zM144.3,91.5h1.1v1.1h-1.1zM136.4,108.9h1.1v1.1h-1.1zM131.8,101.5h1.1v1.1h-1.1zM150.8,84.7h1.1v1.1h-1.1zM148.3,91.0h1.1v1.1h-1.1zM131.0,104.0h1.1v1.1h-1.1zM163.1,72.4h1.1v1.1h-1.1zM163.4,77.9h1.1v1.1h-1.1zM155.5,89.0h1.1v1.1h-1.1zM160.5,77.2h1.1v1.1h-1.1zM117.7,116.9h1.1v1.1h-1.1zM149.3,90.2h1.1v1.1h-1.1zM149.7,85.9h1.1v1.1h-1.1zM145.2,91.4h1.1v1.1h-1.1zM101.2,140.3h1.1v1.1h-1.1zM144.6,91.1h1.1v1.1h-1.1zM167.2,71.8h1.1v1.1h-1.1zM142.8,96.2h1.1v1.1h-1.1zM122.3,111.2h1.1v1.1h-1.1zM138.0,107.2h1.1v1.1h-1.1zM166.5,72.8h1.1v1.1h-1.1zM142.8,92.9h1.1v1.1h-1.1zM111.8,133.6h1.1v1.1h-1.1zM156.8,80.2h1.1v1.1h-1.1zM143.8,112.2h1.1v1.1h-1.1zM127.6,107.4h1.1v1.1h-1.1zM142.8,102.0h1.1v1.1h-1.1zM149.7,86.4h1.1v1.1h-1.1zM100.7,137.2h1.1v1.1h-1.1zM145.6,88.6h1.1v1.1h-1.1zM154.5,81.2h1.1v1.1h-1.1zM155.4,80.4h1.1v1.1h-1.1zM150.4,104.4h1.1v1.1h-1.1zM109.3,130.1h1.1v1.1h-1.1zM137.8,100.6h1.1v1.1h-1.1zM101.5,130.5h1.1v1.1h-1.1zM162.8,76.2h1.1v1.1h-1.1zM119.5,117.5h1.1v1.1h-1.1zM154.9,79.6h1.1v1.1h-1.1zM162.2,75.9h1.1v1.1h-1.1zM132.3,116.0h1.1v1.1h-1.1zM146.5,88.4h1.1v1.1h-1.1zM127.0,116.2h1.1v1.1h-1.1zM150.6,88.1h1.1v1.1h-1.1zM158.7,79.0h1.1v1.1h-1.1zM125.3,115.8h1.1v1.1h-1.1zM129.8,105.9h1.1v1.1h-1.1zM109.6,130.6h1.1v1.1h-1.1zM156.2,94.4h1.1v1.1h-1.1zM126.3,118.2h1.1v1.1h-1.1zM134.0,104.9h1.1v1.1h-1.1zM148.9,95.6h1.1v1.1h-1.1zM117.3,119.5h1.1v1.1h-1.1zM160.9,76.0h1.1v1.1h-1.1zM108.7,128.5h1.1v1.1h-1.1zM138.7,107.3h1.1v1.1h-1.1zM147.7,96.1h1.1v1.1h-1.1zM156.8,78.3h1.1v1.1h-1.1zM155.8,82.6h1.1v1.1h-1.1zM146.2,96.1h1.1v1.1h-1.1zM143.7,90.7h1.1v1.1h-1.1zM153.3,89.5h1.1v1.1h-1.1zM166.3,93.6h1.1v1.1h-1.1zM104.8,136.3h1.1v1.1h-1.1zM115.8,126.8h1.1v1.1h-1.1zM167.2,71.5h1.1v1.1h-1.1zM162.7,82.2h1.1v1.1h-1.1zM148.0,105.5h1.1v1.1h-1.1zM135.8,100.7h1.1v1.1h-1.1zM160.8,78.0h1.1v1.1h-1.1zM119.1,120.4h1.1v1.1h-1.1zM153.1,85.2h1.1v1.1h-1.1zM133.6,102.6h1.1v1.1h-1.1zM160.2,81.8h1.1v1.1h-1.1zM118.1,135.7h1.1v1.1h-1.1zM143.9,96.9h1.1v1.1h-1.1zM166.8,71.5h1.1v1.1h-1.1zM156.7,84.4h1.1v1.1h-1.1zM153.7,84.9h1.1v1.1h-1.1zM161.3,79.0h1.1v1.1h-1.1zM144.6,96.9h1.1v1.1h-1.1zM156.4,79.6h1.1v1.1h-1.1zM138.3,98.3h1.1v1.1h-1.1zM150.1,130.5h1.1v1.1h-1.1zM163.8,75.2h1.1v1.1h-1.1zM143.9,92.1h1.1v1.1h-1.1zM159.2,79.2h1.1v1.1h-1.1zM126.3,119.2h1.1v1.1h-1.1zM157.8,80.0h1.1v1.1h-1.1zM160.4,82.5h1.1v1.1h-1.1zM152.5,104.7h1.1v1.1h-1.1zM140.2,100.4h1.1v1.1h-1.1zM152.4,85.4h1.1v1.1h-1.1zM164.9,75.3h1.1v1.1h-1.1zM146.7,87.4h1.1v1.1h-1.1zM145.2,108.2h1.1v1.1h-1.1zM95.6,144.1h1.1v1.1h-1.1zM115.6,122.9h1.1v1.1h-1.1zM158.4,76.5h1.1v1.1h-1.1zM158.7,76.7h1.1v1.1h-1.1zM138.8,97.3h1.1v1.1h-1.1zM148.4,95.6h1.1v1.1h-1.1zM154.4,85.1h1.1v1.1h-1.1zM111.4,136.4h1.1v1.1h-1.1zM146.6,106.3h1.1v1.1h-1.1zM156.2,83.0h1.1v1.1h-1.1zM149.5,88.3h1.1v1.1h-1.1zM132.6,107.9h1.1v1.1h-1.1zM119.0,114.7h1.1v1.1h-1.1zM153.6,105.0h1.1v1.1h-1.1zM167.3,72.5h1.1v1.1h-1.1zM160.6,77.4h1.1v1.1h-1.1zM167.4,70.8h1.1v1.1h-1.1zM134.2,102.8h1.1v1.1h-1.1zM152.6,84.2h1.1v1.1h-1.1zM125.9,122.0h1.1v1.1h-1.1zM112.1,124.7h1.1v1.1h-1.1zM137.8,101.9h1.1v1.1h-1.1zM152.9,86.2h1.1v1.1h-1.1zM135.6,97.9h1.1v1.1h-1.1zM152.1,99.2h1.1v1.1h-1.1zM149.2,93.9h1.1v1.1h-1.1zM135.8,109.0h1.1v1.1h-1.1zM136.2,107.2h1.1v1.1h-1.1zM139.0,95.3h1.1v1.1h-1.1zM157.3,102.2h1.1v1.1h-1.1zM142.9,112.6h1.1v1.1h-1.1zM164.8,85.6h1.1v1.1h-1.1zM150.3,97.0h1.1v1.1h-1.1zM153.5,98.4h1.1v1.1h-1.1zM126.6,110.7h1.1v1.1h-1.1zM127.6,108.6h1.1v1.1h-1.1zM95.4,141.2h1.1v1.1h-1.1zM147.8,91.1h1.1v1.1h-1.1zM124.7,108.5h1.1v1.1h-1.1zM167.3,72.7h1.1v1.1h-1.1zM113.9,120.4h1.1v1.1h-1.1zM159.3,75.9h1.1v1.1h-1.1zM156.4,81.0h1.1v1.1h-1.1zM165.2,71.2h1.1v1.1h-1.1zM163.2,74.7h1.1v1.1h-1.1zM166.7,80.9h1.1v1.1h-1.1zM157.1,89.3h1.1v1.1h-1.1zM129.4,125.5h1.1v1.1h-1.1zM134.0,105.5h1.1v1.1h-1.1zM141.5,93.4h1.1v1.1h-1.1zM165.9,73.2h1.1v1.1h-1.1zM161.0,76.7h1.1v1.1h-1.1zM140.4,97.7h1.1v1.1h-1.1zM127.4,106.1h1.1v1.1h-1.1zM144.1,93.4h1.1v1.1h-1.1zM149.0,85.5h1.1v1.1h-1.1zM104.8,130.3h1.1v1.1h-1.1zM134.8,99.0h1.1v1.1h-1.1zM149.8,96.3h1.1v1.1h-1.1zM148.2,117.8h1.1v1.1h-1.1zM151.3,82.9h1.1v1.1h-1.1zM147.3,95.4h1.1v1.1h-1.1zM155.1,86.7h1.1v1.1h-1.1zM116.0,126.0h1.1v1.1h-1.1zM121.1,112.1h1.1v1.1h-1.1zM102.7,135.4h1.1v1.1h-1.1zM114.6,138.5h1.1v1.1h-1.1zM131.9,106.9h1.1v1.1h-1.1zM135.7,97.8h1.1v1.1h-1.1zM166.0,71.7h1.1v1.1h-1.1zM153.9,97.8h1.1v1.1h-1.1zM160.0,75.7h1.1v1.1h-1.1zM142.1,110.5h1.1v1.1h-1.1zM140.7,101.8h1.1v1.1h-1.1zM145.5,99.7h1.1v1.1h-1.1zM155.7,82.5h1.1v1.1h-1.1zM162.7,74.9h1.1v1.1h-1.1zM137.6,105.5h1.1v1.1h-1.1zM132.6,106.0h1.1v1.1h-1.1zM159.1,77.4h1.1v1.1h-1.1zM138.3,101.3h1.1v1.1h-1.1zM153.9,81.6h1.1v1.1h-1.1zM124.2,110.9h1.1v1.1h-1.1zM139.4,107.4h1.1v1.1h-1.1zM143.6,96.8h1.1v1.1h-1.1zM124.8,118.4h1.1v1.1h-1.1zM161.4,80.4h1.1v1.1h-1.1zM161.2,80.6h1.1v1.1h-1.1zM153.3,83.6h1.1v1.1h-1.1zM99.8,139.0h1.1v1.1h-1.1zM139.3,106.1h1.1v1.1h-1.1zM147.5,88.4h1.1v1.1h-1.1zM115.3,119.4h1.1v1.1h-1.1zM154.5,86.3h1.1v1.1h-1.1zM111.7,125.8h1.1v1.1h-1.1zM140.6,139.3h1.1v1.1h-1.1zM162.8,84.8h1.1v1.1h-1.1zM131.4,119.2h1.1v1.1h-1.1zM140.3,101.8h1.1v1.1h-1.1zM161.7,75.0h1.1v1.1h-1.1zM165.8,71.8h1.1v1.1h-1.1zM154.9,100.7h1.1v1.1h-1.1zM125.6,108.3h1.1v1.1h-1.1zM160.6,80.6h1.1v1.1h-1.1zM160.5,85.9h1.1v1.1h-1.1zM159.6,75.3h1.1v1.1h-1.1zM125.4,107.8h1.1v1.1h-1.1zM148.3,85.8h1.1v1.1h-1.1zM111.9,143.8h1.1v1.1h-1.1zM121.7,124.3h1.1v1.1h-1.1zM151.3,86.3h1.1v1.1h-1.1zM151.6,92.2h1.1v1.1h-1.1zM139.0,100.5h1.1v1.1h-1.1zM156.7,85.0h1.1v1.1h-1.1zM138.8,98.0h1.1v1.1h-1.1zM130.5,107.1h1.1v1.1h-1.1zM87.9,145.4h1.1v1.1h-1.1zM133.6,101.1h1.1v1.1h-1.1zM113.3,123.0h1.1v1.1h-1.1zM149.8,86.4h1.1v1.1h-1.1zM143.0,104.5h1.1v1.1h-1.1zM164.1,74.0h1.1v1.1h-1.1zM105.6,127.8h1.1v1.1h-1.1zM141.3,93.9h1.1v1.1h-1.1zM130.4,111.2h1.1v1.1h-1.1zM162.5,83.8h1.1v1.1h-1.1zM150.0,89.9h1.1v1.1h-1.1zM155.7,80.2h1.1v1.1h-1.1zM131.4,111.6h1.1v1.1h-1.1zM153.7,84.0h1.1v1.1h-1.1zM124.2,111.9h1.1v1.1h-1.1zM154.9,81.7h1.1v1.1h-1.1zM156.8,105.5h1.1v1.1h-1.1zM92.7,139.6h1.1v1.1h-1.1zM157.9,88.5h1.1v1.1h-1.1zM118.5,117.0h1.1v1.1h-1.1zM162.9,73.5h1.1v1.1h-1.1zM142.1,115.5h1.1v1.1h-1.1zM144.9,107.2h1.1v1.1h-1.1zM148.7,91.9h1.1v1.1h-1.1zM148.5,91.1h1.1v1.1h-1.1zM160.6,75.0h1.1v1.1h-1.1zM134.7,113.5h1.1v1.1h-1.1zM148.7,107.0h1.1v1.1h-1.1zM167.5,69.3h1.1v1.1h-1.1zM160.0,75.0h1.1v1.1h-1.1zM155.0,82.0h1.1v1.1h-1.1zM148.8,88.2h1.1v1.1h-1.1zM125.5,115.6h1.1v1.1h-1.1zM162.5,77.7h1.1v1.1h-1.1zM148.8,88.8h1.1v1.1h-1.1zM166.6,69.3h1.1v1.1h-1.1zM163.7,74.0h1.1v1.1h-1.1zM124.7,112.7h1.1v1.1h-1.1zM152.2,82.6h1.1v1.1h-1.1zM126.4,112.5h1.1v1.1h-1.1zM129.9,119.0h1.1v1.1h-1.1zM118.3,114.7h1.1v1.1h-1.1zM166.8,78.7h1.1v1.1h-1.1zM164.2,76.3h1.1v1.1h-1.1zM143.0,98.7h1.1v1.1h-1.1zM150.4,86.2h1.1v1.1h-1.1zM126.8,125.5h1.1v1.1h-1.1zM130.2,103.2h1.1v1.1h-1.1zM143.9,92.7h1.1v1.1h-1.1zM149.0,86.0h1.1v1.1h-1.1zM146.9,90.0h1.1v1.1h-1.1zM130.8,119.8h1.1v1.1h-1.1zM128.5,118.1h1.1v1.1h-1.1zM165.6,76.1h1.1v1.1h-1.1zM157.1,93.1h1.1v1.1h-1.1zM164.7,81.3h1.1v1.1h-1.1zM138.4,97.3h1.1v1.1h-1.1zM144.7,100.1h1.1v1.1h-1.1zM156.4,81.5h1.1v1.1h-1.1zM144.2,103.0h1.1v1.1h-1.1zM160.8,79.9h1.1v1.1h-1.1zM119.0,116.4h1.1v1.1h-1.1zM135.1,103.1h1.1v1.1h-1.1zM149.2,89.5h1.1v1.1h-1.1zM167.2,83.7h1.1v1.1h-1.1zM121.6,122.1h1.1v1.1h-1.1zM149.1,85.7h1.1v1.1h-1.1zM135.4,104.0h1.1v1.1h-1.1zM142.7,103.4h1.1v1.1h-1.1zM160.0,76.7h1.1v1.1h-1.1zM83.0,150.5h1.1v1.1h-1.1zM154.2,98.5h1.1v1.1h-1.1zM164.9,73.1h1.1v1.1h-1.1zM99.3,133.6h1.1v1.1h-1.1zM149.6,106.6h1.1v1.1h-1.1zM97.2,135.1h1.1v1.1h-1.1zM137.3,112.7h1.1v1.1h-1.1zM141.3,93.7h1.1v1.1h-1.1zM121.0,128.7h1.1v1.1h-1.1zM150.4,96.0h1.1v1.1h-1.1zM146.6,89.2h1.1v1.1h-1.1zM118.6,114.7h1.1v1.1h-1.1zM119.7,117.2h1.1v1.1h-1.1zM117.0,130.2h1.1v1.1h-1.1zM164.9,78.4h1.1v1.1h-1.1zM167.6,75.4h1.1v1.1h-1.1zM163.5,82.9h1.1v1.1h-1.1zM143.8,106.1h1.1v1.1h-1.1zM155.2,86.2h1.1v1.1h-1.1zM146.4,90.2h1.1v1.1h-1.1zM126.2,108.8h1.1v1.1h-1.1zM153.2,90.4h1.1v1.1h-1.1zM132.8,104.5h1.1v1.1h-1.1zM153.1,89.8h1.1v1.1h-1.1zM144.8,92.3h1.1v1.1h-1.1zM163.7,73.0h1.1v1.1h-1.1zM156.0,83.3h1.1v1.1h-1.1zM130.1,108.8h1.1v1.1h-1.1zM167.3,68.5h1.1v1.1h-1.1zM150.7,89.1h1.1v1.1h-1.1zM133.4,100.6h1.1v1.1h-1.1zM153.6,83.8h1.1v1.1h-1.1zM153.5,85.5h1.1v1.1h-1.1zM165.3,72.9h1.1v1.1h-1.1zM154.2,87.3h1.1v1.1h-1.1zM143.3,95.1h1.1v1.1h-1.1zM144.2,98.4h1.1v1.1h-1.1zM150.3,92.7h1.1v1.1h-1.1zM166.3,73.6h1.1v1.1h-1.1zM153.4,85.0h1.1v1.1h-1.1zM145.4,88.5h1.1v1.1h-1.1zM142.6,97.9h1.1v1.1h-1.1zM113.3,128.0h1.1v1.1h-1.1zM148.9,124.2h1.1v1.1h-1.1zM147.0,94.6h1.1v1.1h-1.1zM160.2,102.5h1.1v1.1h-1.1zM130.7,112.8h1.1v1.1h-1.1zM166.5,74.6h1.1v1.1h-1.1zM140.4,98.2h1.1v1.1h-1.1zM132.2,101.5h1.1v1.1h-1.1zM139.2,94.7h1.1v1.1h-1.1zM142.8,95.5h1.1v1.1h-1.1zM91.3,146.2h1.1v1.1h-1.1zM154.0,82.9h1.1v1.1h-1.1zM137.8,99.5h1.1v1.1h-1.1zM165.4,72.8h1.1v1.1h-1.1zM138.2,96.0h1.1v1.1h-1.1zM161.0,80.0h1.1v1.1h-1.1zM142.4,94.1h1.1v1.1h-1.1zM148.5,86.2h1.1v1.1h-1.1zM136.6,98.7h1.1v1.1h-1.1zM158.8,88.2h1.1v1.1h-1.1zM152.9,82.4h1.1v1.1h-1.1zM119.6,113.7h1.1v1.1h-1.1zM149.2,96.5h1.1v1.1h-1.1zM140.9,96.2h1.1v1.1h-1.1zM165.4,72.3h1.1v1.1h-1.1zM136.0,105.5h1.1v1.1h-1.1zM106.2,146.6h1.1v1.1h-1.1zM153.4,106.5h1.1v1.1h-1.1zM149.2,92.6h1.1v1.1h-1.1zM145.3,96.2h1.1v1.1h-1.1zM123.5,119.8h1.1v1.1h-1.1zM89.4,149.9h1.1v1.1h-1.1zM122.5,119.3h1.1v1.1h-1.1zM161.4,73.7h1.1v1.1h-1.1zM110.5,125.1h1.1v1.1h-1.1zM138.9,101.9h1.1v1.1h-1.1zM163.5,72.4h1.1v1.1h-1.1zM120.1,149.9h1.1v1.1h-1.1zM155.6,115.7h1.1v1.1h-1.1zM144.9,93.4h1.1v1.1h-1.1zM107.5,131.5h1.1v1.1h-1.1zM166.6,72.5h1.1v1.1h-1.1zM157.9,78.7h1.1v1.1h-1.1zM166.2,69.8h1.1v1.1h-1.1zM135.9,105.0h1.1v1.1h-1.1zM155.5,83.6h1.1v1.1h-1.1zM136.6,103.0h1.1v1.1h-1.1zM155.5,94.7h1.1v1.1h-1.1zM158.2,80.6h1.1v1.1h-1.1zM167.1,73.4h1.1v1.1h-1.1zM155.6,81.4h1.1v1.1h-1.1zM125.3,109.8h1.1v1.1h-1.1zM163.1,78.4h1.1v1.1h-1.1zM134.3,101.7h1.1v1.1h-1.1zM161.5,76.2h1.1v1.1h-1.1zM129.0,108.5h1.1v1.1h-1.1zM164.4,92.5h1.1v1.1h-1.1zM161.0,89.9h1.1v1.1h-1.1zM141.9,94.2h1.1v1.1h-1.1zM149.1,84.9h1.1v1.1h-1.1zM165.2,71.7h1.1v1.1h-1.1zM120.0,119.5h1.1v1.1h-1.1zM119.8,126.9h1.1v1.1h-1.1zM144.6,95.0h1.1v1.1h-1.1zM163.9,75.2h1.1v1.1h-1.1zM165.7,75.0h1.1v1.1h-1.1zM142.1,92.7h1.1v1.1h-1.1zM145.5,98.5h1.1v1.1h-1.1zM113.4,149.5h1.1v1.1h-1.1zM131.9,109.8h1.1v1.1h-1.1zM162.8,72.6h1.1v1.1h-1.1zM131.5,118.8h1.1v1.1h-1.1zM165.4,69.8h1.1v1.1h-1.1zM152.7,91.8h1.1v1.1h-1.1zM139.2,107.8h1.1v1.1h-1.1zM153.2,85.4h1.1v1.1h-1.1zM125.5,126.2h1.1v1.1h-1.1zM167.1,70.8h1.1v1.1h-1.1zM157.3,84.3h1.1v1.1h-1.1zM157.6,78.3h1.1v1.1h-1.1zM131.2,114.4h1.1v1.1h-1.1zM108.8,124.0h1.1v1.1h-1.1zM164.8,70.7h1.1v1.1h-1.1zM139.7,102.9h1.1v1.1h-1.1zM120.1,130.9h1.1v1.1h-1.1zM157.0,87.6h1.1v1.1h-1.1zM134.5,103.9h1.1v1.1h-1.1zM165.9,69.7h1.1v1.1h-1.1zM143.1,97.2h1.1v1.1h-1.1zM156.3,86.3h1.1v1.1h-1.1zM155.6,80.1h1.1v1.1h-1.1zM151.7,95.2h1.1v1.1h-1.1zM159.3,75.6h1.1v1.1h-1.1zM157.9,81.6h1.1v1.1h-1.1zM130.6,104.8h1.1v1.1h-1.1zM139.4,94.9h1.1v1.1h-1.1zM122.0,114.3h1.1v1.1h-1.1zM122.9,113.2h1.1v1.1h-1.1zM155.3,82.0h1.1v1.1h-1.1zM120.7,116.5h1.1v1.1h-1.1zM132.3,103.0h1.1v1.1h-1.1zM165.5,71.4h1.1v1.1h-1.1zM144.3,97.3h1.1v1.1h-1.1zM153.8,82.4h1.1v1.1h-1.1zM125.7,110.9h1.1v1.1h-1.1zM129.6,109.5h1.1v1.1h-1.1zM158.3,78.2h1.1v1.1h-1.1zM152.7,84.3h1.1v1.1h-1.1zM126.9,116.4h1.1v1.1h-1.1zM159.7,75.8h1.1v1.1h-1.1zM105.3,143.1h1.1v1.1h-1.1zM152.2,88.9h1.1v1.1h-1.1zM151.8,83.9h1.1v1.1h-1.1zM93.3,141.8h1.1v1.1h-1.1zM163.7,79.3h1.1v1.1h-1.1zM166.3,69.2h1.1v1.1h-1.1zM160.5,91.8h1.1v1.1h-1.1zM167.0,87.0h1.1v1.1h-1.1zM156.7,103.8h1.1v1.1h-1.1zM135.9,103.8h1.1v1.1h-1.1zM166.7,86.8h1.1v1.1h-1.1zM147.5,89.3h1.1v1.1h-1.1zM146.9,88.7h1.1v1.1h-1.1zM146.4,102.7h1.1v1.1h-1.1zM119.5,124.1h1.1v1.1h-1.1zM146.1,95.8h1.1v1.1h-1.1zM162.0,78.9h1.1v1.1h-1.1zM161.0,75.7h1.1v1.1h-1.1zM154.8,80.0h1.1v1.1h-1.1zM160.4,79.6h1.1v1.1h-1.1zM142.5,93.2h1.1v1.1h-1.1zM95.8,137.9h1.1v1.1h-1.1zM144.8,121.1h1.1v1.1h-1.1zM163.9,80.6h1.1v1.1h-1.1zM132.9,111.7h1.1v1.1h-1.1zM167.6,75.1h1.1v1.1h-1.1zM140.6,97.7h1.1v1.1h-1.1zM156.9,82.7h1.1v1.1h-1.1zM138.5,97.0h1.1v1.1h-1.1zM146.0,93.5h1.1v1.1h-1.1zM154.4,81.3h1.1v1.1h-1.1zM146.4,90.4h1.1v1.1h-1.1zM138.8,101.6h1.1v1.1h-1.1zM130.0,103.1h1.1v1.1h-1.1zM141.4,96.1h1.1v1.1h-1.1zM156.7,85.1h1.1v1.1h-1.1zM148.0,86.6h1.1v1.1h-1.1zM165.1,72.7h1.1v1.1h-1.1zM143.5,93.8h1.1v1.1h-1.1zM154.4,103.9h1.1v1.1h-1.1zM127.6,107.4h1.1v1.1h-1.1zM124.7,128.0h1.1v1.1h-1.1zM132.2,101.5h1.1v1.1h-1.1zM117.5,118.4h1.1v1.1h-1.1zM158.9,76.3h1.1v1.1h-1.1zM155.6,96.6h1.1v1.1h-1.1zM137.9,106.8h1.1v1.1h-1.1zM149.3,93.1h1.1v1.1h-1.1zM161.4,74.0h1.1v1.1h-1.1zM109.5,146.6h1.1v1.1h-1.1zM134.9,123.0h1.1v1.1h-1.1zM142.3,92.7h1.1v1.1h-1.1zM161.9,74.4h1.1v1.1h-1.1zM118.3,119.7h1.1v1.1h-1.1zM158.3,77.9h1.1v1.1h-1.1zM155.9,103.9h1.1v1.1h-1.1zM148.6,118.3h1.1v1.1h-1.1zM157.3,98.5h1.1v1.1h-1.1zM78.8,157.9h1.1v1.1h-1.1zM150.2,89.6h1.1v1.1h-1.1zM159.5,86.9h1.1v1.1h-1.1zM167.0,68.9h1.1v1.1h-1.1zM124.7,115.9h1.1v1.1h-1.1zM101.9,129.9h1.1v1.1h-1.1zM137.2,120.0h1.1v1.1h-1.1zM166.0,69.1h1.1v1.1h-1.1zM160.8,74.7h1.1v1.1h-1.1zM164.8,70.7h1.1v1.1h-1.1zM150.7,105.4h1.1v1.1h-1.1zM105.1,153.4h1.1v1.1h-1.1zM131.1,105.8h1.1v1.1h-1.1zM133.8,100.1h1.1v1.1h-1.1zM154.8,84.2h1.1v1.1h-1.1zM145.6,104.0h1.1v1.1h-1.1zM119.6,116.5h1.1v1.1h-1.1zM152.3,86.4h1.1v1.1h-1.1zM143.6,97.4h1.1v1.1h-1.1zM150.9,84.1h1.1v1.1h-1.1zM145.6,106.3h1.1v1.1h-1.1zM151.9,92.8h1.1v1.1h-1.1zM134.6,98.8h1.1v1.1h-1.1zM161.1,75.5h1.1v1.1h-1.1zM149.2,86.1h1.1v1.1h-1.1zM158.9,91.0h1.1v1.1h-1.1zM94.5,154.2h1.1v1.1h-1.1zM153.0,91.7h1.1v1.1h-1.1zM128.7,120.2h1.1v1.1h-1.1zM127.7,116.9h1.1v1.1h-1.1zM147.3,92.2h1.1v1.1h-1.1zM139.3,115.7h1.1v1.1h-1.1zM124.4,112.3h1.1v1.1h-1.1zM150.4,84.9h1.1v1.1h-1.1zM126.4,114.8h1.1v1.1h-1.1zM138.2,96.1h1.1v1.1h-1.1zM109.5,143.0h1.1v1.1h-1.1zM162.5,84.8h1.1v1.1h-1.1zM159.5,78.2h1.1v1.1h-1.1zM133.4,103.4h1.1v1.1h-1.1zM140.8,93.3h1.1v1.1h-1.1zM157.6,95.0h1.1v1.1h-1.1zM147.1,90.9h1.1v1.1h-1.1zM157.0,89.0h1.1v1.1h-1.1zM138.9,105.9h1.1v1.1h-1.1zM163.9,72.9h1.1v1.1h-1.1zM144.5,91.4h1.1v1.1h-1.1zM164.7,92.4h1.1v1.1h-1.1zM165.4,75.9h1.1v1.1h-1.1zM159.9,76.7h1.1v1.1h-1.1zM151.3,85.4h1.1v1.1h-1.1zM163.4,80.0h1.1v1.1h-1.1zM149.0,89.8h1.1v1.1h-1.1zM156.9,77.7h1.1v1.1h-1.1zM164.9,69.9h1.1v1.1h-1.1zM126.8,124.3h1.1v1.1h-1.1zM143.7,106.2h1.1v1.1h-1.1zM135.2,125.3h1.1v1.1h-1.1zM121.3,117.9h1.1v1.1h-1.1zM124.7,110.4h1.1v1.1h-1.1zM139.9,102.4h1.1v1.1h-1.1zM124.6,113.7h1.1v1.1h-1.1zM140.6,108.7h1.1v1.1h-1.1zM149.8,91.0h1.1v1.1h-1.1zM152.8,83.8h1.1v1.1h-1.1zM130.8,113.2h1.1v1.1h-1.1zM104.6,133.9h1.1v1.1h-1.1zM164.9,104.8h1.1v1.1h-1.1zM158.0,86.7h1.1v1.1h-1.1zM139.2,99.4h1.1v1.1h-1.1zM143.6,94.2h1.1v1.1h-1.1zM156.7,82.2h1.1v1.1h-1.1zM147.8,87.0h1.1v1.1h-1.1zM163.8,71.3h1.1v1.1h-1.1zM166.0,75.3h1.1v1.1h-1.1zM138.6,127.7h1.1v1.1h-1.1zM164.7,70.3h1.1v1.1h-1.1zM157.7,81.0h1.1v1.1h-1.1zM147.9,106.8h1.1v1.1h-1.1zM155.3,80.1h1.1v1.1h-1.1zM162.8,78.2h1.1v1.1h-1.1zM160.6,74.4h1.1v1.1h-1.1zM167.3,74.1h1.1v1.1h-1.1zM124.2,144.2h1.1v1.1h-1.1zM147.2,88.0h1.1v1.1h-1.1zM164.0,71.3h1.1v1.1h-1.1zM159.0,77.0h1.1v1.1h-1.1zM98.4,134.3h1.1v1.1h-1.1zM160.3,81.8h1.1v1.1h-1.1zM117.4,131.4h1.1v1.1h-1.1zM157.3,96.6h1.1v1.1h-1.1zM151.8,89.6h1.1v1.1h-1.1zM152.2,97.8h1.1v1.1h-1.1zM115.5,136.1h1.1v1.1h-1.1zM158.8,86.2h1.1v1.1h-1.1zM151.4,102.5h1.1v1.1h-1.1zM156.1,81.5h1.1v1.1h-1.1zM145.0,91.7h1.1v1.1h-1.1zM86.7,152.0h1.1v1.1h-1.1zM152.0,95.3h1.1v1.1h-1.1zM160.3,75.5h1.1v1.1h-1.1zM119.2,114.4h1.1v1.1h-1.1zM159.3,75.8h1.1v1.1h-1.1zM167.2,70.3h1.1v1.1h-1.1zM152.6,97.0h1.1v1.1h-1.1zM165.8,72.2h1.1v1.1h-1.1zM153.1,87.7h1.1v1.1h-1.1zM151.2,89.7h1.1v1.1h-1.1zM167.4,72.1h1.1v1.1h-1.1zM136.9,110.3h1.1v1.1h-1.1zM154.4,82.5h1.1v1.1h-1.1zM164.3,70.4h1.1v1.1h-1.1zM146.6,89.9h1.1v1.1h-1.1zM161.4,81.7h1.1v1.1h-1.1zM148.1,93.0h1.1v1.1h-1.1zM140.2,104.8h1.1v1.1h-1.1zM154.2,80.5h1.1v1.1h-1.1zM104.3,129.4h1.1v1.1h-1.1zM159.4,75.7h1.1v1.1h-1.1zM129.6,104.2h1.1v1.1h-1.1zM104.5,130.3h1.1v1.1h-1.1zM167.3,69.8h1.1v1.1h-1.1zM165.9,70.5h1.1v1.1h-1.1zM153.7,83.8h1.1v1.1h-1.1zM107.0,128.1h1.1v1.1h-1.1zM145.7,96.9h1.1v1.1h-1.1zM156.9,79.1h1.1v1.1h-1.1zM167.1,74.2h1.1v1.1h-1.1zM149.8,103.0h1.1v1.1h-1.1zM158.3,76.4h1.1v1.1h-1.1zM135.2,103.8h1.1v1.1h-1.1zM132.9,119.2h1.1v1.1h-1.1zM149.0,91.1h1.1v1.1h-1.1zM137.5,103.4h1.1v1.1h-1.1zM162.6,74.1h1.1v1.1h-1.1zM148.3,90.6h1.1v1.1h-1.1zM145.1,111.4h1.1v1.1h-1.1zM157.8,86.4h1.1v1.1h-1.1zM142.3,94.3h1.1v1.1h-1.1zM141.7,116.6h1.1v1.1h-1.1zM125.7,116.0h1.1v1.1h-1.1zM120.0,118.6h1.1v1.1h-1.1zM122.9,139.3h1.1v1.1h-1.1zM160.2,74.5h1.1v1.1h-1.1zM161.7,79.8h1.1v1.1h-1.1zM149.5,98.4h1.1v1.1h-1.1zM136.5,97.4h1.1v1.1h-1.1zM165.6,70.9h1.1v1.1h-1.1zM152.7,83.5h1.1v1.1h-1.1zM158.4,77.0h1.1v1.1h-1.1zM166.3,70.0h1.1v1.1h-1.1zM115.6,116.8h1.1v1.1h-1.1zM161.9,74.9h1.1v1.1h-1.1zM95.0,139.6h1.1v1.1h-1.1zM164.4,80.4h1.1v1.1h-1.1zM167.1,72.6h1.1v1.1h-1.1zM123.5,126.5h1.1v1.1h-1.1zM133.7,101.0h1.1v1.1h-1.1zM162.6,82.7h1.1v1.1h-1.1zM132.8,102.7h1.1v1.1h-1.1zM99.0,135.8h1.1v1.1h-1.1zM153.7,84.7h1.1v1.1h-1.1zM115.9,116.5h1.1v1.1h-1.1zM162.4,73.4h1.1v1.1h-1.1zM126.6,109.9h1.1v1.1h-1.1zM136.0,99.2h1.1v1.1h-1.1zM165.5,79.5h1.1v1.1h-1.1zM134.4,102.1h1.1v1.1h-1.1zM132.9,107.9h1.1v1.1h-1.1zM133.3,116.2h1.1v1.1h-1.1zM146.6,88.9h1.1v1.1h-1.1zM164.8,91.1h1.1v1.1h-1.1zM165.0,87.2h1.1v1.1h-1.1zM150.5,107.4h1.1v1.1h-1.1zM101.7,144.9h1.1v1.1h-1.1zM155.3,85.7h1.1v1.1h-1.1zM118.0,115.6h1.1v1.1h-1.1zM167.5,87.7h1.1v1.1h-1.1zM144.6,90.6h1.1v1.1h-1.1zM164.3,77.1h1.1v1.1h-1.1zM145.2,88.6h1.1v1.1h-1.1zM157.6,76.8h1.1v1.1h-1.1zM91.2,145.1h1.1v1.1h-1.1zM102.1,141.2h1.1v1.1h-1.1zM142.2,92.2h1.1v1.1h-1.1zM163.9,70.8h1.1v1.1h-1.1zM154.3,98.9h1.1v1.1h-1.1zM149.7,94.4h1.1v1.1h-1.1zM121.4,122.0h1.1v1.1h-1.1zM151.8,104.8h1.1v1.1h-1.1zM114.8,121.6h1.1v1.1h-1.1zM132.2,109.8h1.1v1.1h-1.1zM103.7,144.1h1.1v1.1h-1.1zM146.9,90.2h1.1v1.1h-1.1zM167.0,68.5h1.1v1.1h-1.1zM132.4,112.4h1.1v1.1h-1.1zM162.3,73.5h1.1v1.1h-1.1zM132.6,103.0h1.1v1.1h-1.1zM143.6,96.6h1.1v1.1h-1.1zM161.4,97.1h1.1v1.1h-1.1zM161.7,76.0h1.1v1.1h-1.1zM119.3,117.9h1.1v1.1h-1.1zM156.2,82.8h1.1v1.1h-1.1zM165.5,91.0h1.1v1.1h-1.1zM147.2,94.1h1.1v1.1h-1.1zM167.4,76.8h1.1v1.1h-1.1zM140.6,105.5h1.1v1.1h-1.1zM135.1,103.1h1.1v1.1h-1.1zM156.4,80.3h1.1v1.1h-1.1zM160.3,81.8h1.1v1.1h-1.1zM124.6,116.8h1.1v1.1h-1.1zM108.8,129.1h1.1v1.1h-1.1zM147.6,98.5h1.1v1.1h-1.1zM162.6,84.9h1.1v1.1h-1.1zM164.0,73.3h1.1v1.1h-1.1zM145.8,100.0h1.1v1.1h-1.1zM114.5,119.0h1.1v1.1h-1.1zM149.6,91.2h1.1v1.1h-1.1zM116.0,132.8h1.1v1.1h-1.1zM161.7,94.1h1.1v1.1h-1.1zM167.0,70.9h1.1v1.1h-1.1zM155.2,79.3h1.1v1.1h-1.1zM139.2,103.7h1.1v1.1h-1.1zM160.7,74.9h1.1v1.1h-1.1zM164.2,76.7h1.1v1.1h-1.1zM160.7,75.7h1.1v1.1h-1.1zM142.5,94.8h1.1v1.1h-1.1zM160.1,76.7h1.1v1.1h-1.1zM164.0,72.6h1.1v1.1h-1.1zM166.5,77.9h1.1v1.1h-1.1zM149.7,132.0h1.1v1.1h-1.1zM166.3,74.9h1.1v1.1h-1.1zM154.4,82.1h1.1v1.1h-1.1zM164.5,70.5h1.1v1.1h-1.1zM145.2,90.0h1.1v1.1h-1.1zM147.1,91.3h1.1v1.1h-1.1zM130.0,106.5h1.1v1.1h-1.1zM137.9,100.8h1.1v1.1h-1.1zM129.4,106.0h1.1v1.1h-1.1zM137.0,98.2h1.1v1.1h-1.1zM159.4,86.1h1.1v1.1h-1.1zM160.8,80.1h1.1v1.1h-1.1zM152.6,87.6h1.1v1.1h-1.1zM139.5,95.6h1.1v1.1h-1.1zM149.3,89.0h1.1v1.1h-1.1zM142.2,132.9h1.1v1.1h-1.1zM124.9,108.7h1.1v1.1h-1.1zM147.2,98.0h1.1v1.1h-1.1zM156.2,85.2h1.1v1.1h-1.1zM134.4,102.0h1.1v1.1h-1.1zM134.2,100.5h1.1v1.1h-1.1zM140.5,103.1h1.1v1.1h-1.1zM133.4,101.6h1.1v1.1h-1.1zM152.8,83.6h1.1v1.1h-1.1zM131.3,102.2h1.1v1.1h-1.1zM145.1,90.3h1.1v1.1h-1.1zM125.4,120.0h1.1v1.1h-1.1zM103.0,141.7h1.1v1.1h-1.1zM165.5,71.8h1.1v1.1h-1.1zM115.0,121.8h1.1v1.1h-1.1zM165.4,78.0h1.1v1.1h-1.1zM135.0,107.9h1.1v1.1h-1.1zM142.0,93.5h1.1v1.1h-1.1zM150.0,91.7h1.1v1.1h-1.1zM121.9,123.7h1.1v1.1h-1.1zM156.1,82.5h1.1v1.1h-1.1zM160.8,81.2h1.1v1.1h-1.1zM132.2,111.9h1.1v1.1h-1.1zM166.6,82.5h1.1v1.1h-1.1zM145.1,90.4h1.1v1.1h-1.1zM147.4,92.9h1.1v1.1h-1.1zM159.3,86.3h1.1v1.1h-1.1zM150.4,85.2h1.1v1.1h-1.1zM146.1,98.4h1.1v1.1h-1.1zM158.2,78.2h1.1v1.1h-1.1zM130.5,106.2h1.1v1.1h-1.1zM141.2,95.3h1.1v1.1h-1.1zM157.8,80.5h1.1v1.1h-1.1zM147.6,92.0h1.1v1.1h-1.1zM153.9,90.3h1.1v1.1h-1.1zM141.5,94.4h1.1v1.1h-1.1zM157.5,91.0h1.1v1.1h-1.1zM164.5,79.7h1.1v1.1h-1.1zM142.1,95.4h1.1v1.1h-1.1zM128.8,106.8h1.1v1.1h-1.1zM150.3,86.2h1.1v1.1h-1.1zM159.8,88.6h1.1v1.1h-1.1zM133.4,119.6h1.1v1.1h-1.1zM130.0,106.9h1.1v1.1h-1.1zM143.0,91.3h1.1v1.1h-1.1zM145.3,106.4h1.1v1.1h-1.1zM136.6,107.4h1.1v1.1h-1.1zM156.3,82.2h1.1v1.1h-1.1zM151.1,105.6h1.1v1.1h-1.1zM136.1,133.6h1.1v1.1h-1.1zM90.6,145.4h1.1v1.1h-1.1zM151.3,94.3h1.1v1.1h-1.1zM135.9,98.7h1.1v1.1h-1.1zM165.4,74.8h1.1v1.1h-1.1zM151.5,122.5h1.1v1.1h-1.1zM162.3,94.9h1.1v1.1h-1.1zM103.7,140.6h1.1v1.1h-1.1zM167.3,76.5h1.1v1.1h-1.1zM156.1,93.4h1.1v1.1h-1.1zM167.6,71.1h1.1v1.1h-1.1zM165.9,69.8h1.1v1.1h-1.1zM138.8,97.1h1.1v1.1h-1.1zM136.0,114.4h1.1v1.1h-1.1zM130.3,112.6h1.1v1.1h-1.1zM158.4,76.2h1.1v1.1h-1.1zM165.6,76.5h1.1v1.1h-1.1zM160.7,76.5h1.1v1.1h-1.1zM164.3,74.6h1.1v1.1h-1.1zM155.9,89.5h1.1v1.1h-1.1zM151.4,89.0h1.1v1.1h-1.1zM149.8,95.7h1.1v1.1h-1.1zM125.8,115.0h1.1v1.1h-1.1zM161.1,75.7h1.1v1.1h-1.1zM119.2,139.2h1.1v1.1h-1.1zM150.3,85.7h1.1v1.1h-1.1zM136.9,96.7h1.1v1.1h-1.1zM158.8,77.2h1.1v1.1h-1.1zM116.5,123.5h1.1v1.1h-1.1zM128.1,125.6h1.1v1.1h-1.1zM149.3,87.6h1.1v1.1h-1.1zM159.6,78.2h1.1v1.1h-1.1zM165.8,89.1h1.1v1.1h-1.1zM164.3,77.5h1.1v1.1h-1.1zM152.6,83.0h1.1v1.1h-1.1zM135.4,98.7h1.1v1.1h-1.1zM101.8,146.5h1.1v1.1h-1.1zM153.0,87.8h1.1v1.1h-1.1z" fill="#ee1c24"/>
<path d="M130.4,56.2h1.1v1.1h-1.1zM130.1,49.9h1.1v1.1h-1.1zM120.0,51.8h1.1v1.1h-1.1zM115.2,70.9h1.1v1.1h-1.1zM140.7,46.9h1.1v1.1h-1.1zM127.4,56.9h1.1v1.1h-1.1zM132.2,52.9h1.1v1.1h-1.1zM136.0,49.0h1.1v1.1h-1.1zM121.6,65.0h1.1v1.1h-1.1zM123.5,62.5h1.1v1.1h-1.1zM131.4,54.9h1.1v1.1h-1.1zM141.6,44.1h1.1v1.1h-1.1zM111.4,70.7h1.1v1.1h-1.1zM126.2,50.3h1.1v1.1h-1.1zM130.4,51.5h1.1v1.1h-1.1zM121.3,46.3h1.1v1.1h-1.1zM137.0,50.6h1.1v1.1h-1.1zM135.9,51.9h1.1v1.1h-1.1zM122.2,61.5h1.1v1.1h-1.1zM129.1,58.1h1.1v1.1h-1.1zM140.5,46.1h1.1v1.1h-1.1zM102.7,79.4h1.1v1.1h-1.1zM131.2,55.6h1.1v1.1h-1.1zM120.4,66.4h1.1v1.1h-1.1zM121.7,64.7h1.1v1.1h-1.1zM142.6,44.8h1.1v1.1h-1.1zM128.3,51.4h1.1v1.1h-1.1zM128.5,58.7h1.1v1.1h-1.1zM139.4,48.3h1.1v1.1h-1.1zM117.1,68.4h1.1v1.1h-1.1zM127.4,59.3h1.1v1.1h-1.1zM139.3,48.2h1.1v1.1h-1.1zM117.7,61.5h1.1v1.1h-1.1zM139.5,47.5h1.1v1.1h-1.1zM123.7,58.2h1.1v1.1h-1.1zM119.4,63.0h1.1v1.1h-1.1zM108.4,78.2h1.1v1.1h-1.1zM137.1,45.9h1.1v1.1h-1.1zM130.4,48.8h1.1v1.1h-1.1zM134.8,51.1h1.1v1.1h-1.1zM114.4,70.4h1.1v1.1h-1.1zM142.9,45.3h1.1v1.1h-1.1zM124.4,55.4h1.1v1.1h-1.1zM123.1,60.5h1.1v1.1h-1.1zM130.7,53.9h1.1v1.1h-1.1zM133.3,46.8h1.1v1.1h-1.1zM115.7,70.6h1.1v1.1h-1.1zM137.6,46.1h1.1v1.1h-1.1zM105.2,74.2h1.1v1.1h-1.1zM108.9,69.2h1.1v1.1h-1.1zM111.2,75.0h1.1v1.1h-1.1zM114.8,70.9h1.1v1.1h-1.1zM108.1,71.7h1.1v1.1h-1.1zM122.9,55.4h1.1v1.1h-1.1zM124.3,56.1h1.1v1.1h-1.1zM117.0,57.6h1.1v1.1h-1.1zM132.8,52.5h1.1v1.1h-1.1zM117.8,62.5h1.1v1.1h-1.1zM115.7,66.6h1.1v1.1h-1.1zM141.8,46.2h1.1v1.1h-1.1zM133.3,54.2h1.1v1.1h-1.1zM131.5,53.8h1.1v1.1h-1.1zM132.1,46.8h1.1v1.1h-1.1zM119.1,65.3h1.1v1.1h-1.1zM110.9,68.4h1.1v1.1h-1.1zM136.0,49.9h1.1v1.1h-1.1zM128.9,53.1h1.1v1.1h-1.1zM132.6,54.2h1.1v1.1h-1.1zM126.8,60.5h1.1v1.1h-1.1zM131.5,49.7h1.1v1.1h-1.1zM117.4,67.9h1.1v1.1h-1.1zM131.4,53.5h1.1v1.1h-1.1zM124.7,61.0h1.1v1.1h-1.1zM127.8,53.4h1.1v1.1h-1.1zM128.6,55.3h1.1v1.1h-1.1zM117.5,58.1h1.1v1.1h-1.1zM136.6,49.6h1.1v1.1h-1.1zM122.5,64.7h1.1v1.1h-1.1zM140.6,45.3h1.1v1.1h-1.1zM111.0,67.6h1.1v1.1h-1.1zM138.0,48.8h1.1v1.1h-1.1zM124.5,62.9h1.1v1.1h-1.1zM128.3,57.2h1.1v1.1h-1.1zM120.8,66.1h1.1v1.1h-1.1zM116.3,65.9h1.1v1.1h-1.1zM108.0,68.6h1.1v1.1h-1.1zM134.7,46.6h1.1v1.1h-1.1zM117.8,67.7h1.1v1.1h-1.1zM124.1,60.8h1.1v1.1h-1.1zM119.2,65.4h1.1v1.1h-1.1zM137.6,48.4h1.1v1.1h-1.1zM104.8,78.0h1.1v1.1h-1.1zM131.3,53.9h1.1v1.1h-1.1zM138.4,45.6h1.1v1.1h-1.1zM116.4,69.6h1.1v1.1h-1.1zM139.9,46.6h1.1v1.1h-1.1zM130.1,48.5h1.1v1.1h-1.1zM137.9,45.2h1.1v1.1h-1.1zM138.2,48.6h1.1v1.1h-1.1zM142.0,46.2h1.1v1.1h-1.1zM140.8,46.7h1.1v1.1h-1.1zM128.8,56.6h1.1v1.1h-1.1zM118.3,63.0h1.1v1.1h-1.1zM112.6,74.0h1.1v1.1h-1.1zM136.7,47.8h1.1v1.1h-1.1zM102.5,83.3h1.1v1.1h-1.1zM141.3,46.3h1.1v1.1h-1.1zM136.7,50.4h1.1v1.1h-1.1zM114.7,68.9h1.1v1.1h-1.1zM135.4,52.0h1.1v1.1h-1.1zM116.9,56.5h1.1v1.1h-1.1zM132.0,49.4h1.1v1.1h-1.1zM133.8,44.3h1.1v1.1h-1.1zM126.2,59.7h1.1v1.1h-1.1zM125.5,59.0h1.1v1.1h-1.1zM113.6,69.0h1.1v1.1h-1.1zM124.3,61.0h1.1v1.1h-1.1zM129.1,55.7h1.1v1.1h-1.1zM117.9,58.8h1.1v1.1h-1.1zM106.6,75.5h1.1v1.1h-1.1zM115.5,68.0h1.1v1.1h-1.1zM117.9,66.2h1.1v1.1h-1.1zM110.2,76.2h1.1v1.1h-1.1zM126.2,59.3h1.1v1.1h-1.1zM131.9,55.2h1.1v1.1h-1.1zM122.5,62.8h1.1v1.1h-1.1zM110.7,73.2h1.1v1.1h-1.1zM120.6,57.9h1.1v1.1h-1.1zM125.5,61.7h1.1v1.1h-1.1zM124.5,62.9h1.1v1.1h-1.1zM126.3,60.6h1.1v1.1h-1.1zM116.1,65.3h1.1v1.1h-1.1zM133.6,50.1h1.1v1.1h-1.1zM133.9,45.9h1.1v1.1h-1.1zM125.3,59.0h1.1v1.1h-1.1zM140.1,45.8h1.1v1.1h-1.1zM134.7,51.3h1.1v1.1h-1.1zM119.6,63.9h1.1v1.1h-1.1zM144.1,44.0h1.1v1.1h-1.1zM109.8,73.9h1.1v1.1h-1.1zM111.3,74.1h1.1v1.1h-1.1zM110.9,67.5h1.1v1.1h-1.1zM107.4,69.7h1.1v1.1h-1.1zM136.9,49.9h1.1v1.1h-1.1zM105.1,78.7h1.1v1.1h-1.1zM110.4,75.2h1.1v1.1h-1.1zM116.7,68.0h1.1v1.1h-1.1zM123.3,60.1h1.1v1.1h-1.1zM128.6,47.1h1.1v1.1h-1.1zM138.6,47.6h1.1v1.1h-1.1zM136.6,48.8h1.1v1.1h-1.1zM132.2,53.4h1.1v1.1h-1.1zM126.0,60.7h1.1v1.1h-1.1zM138.1,48.4h1.1v1.1h-1.1zM103.5,78.8h1.1v1.1h-1.1zM128.3,58.9h1.1v1.1h-1.1zM104.5,81.4h1.1v1.1h-1.1zM115.2,63.7h1.1v1.1h-1.1zM122.3,55.2h1.1v1.1h-1.1zM133.5,54.3h1.1v1.1h-1.1zM102.7,81.6h1.1v1.1h-1.1zM127.1,58.0h1.1v1.1h-1.1zM102.0,83.6h1.1v1.1h-1.1zM135.5,45.3h1.1v1.1h-1.1zM128.9,58.5h1.1v1.1h-1.1zM125.0,61.1h1.1v1.1h-1.1zM137.2,49.8h1.1v1.1h-1.1zM139.1,45.1h1.1v1.1h-1.1zM137.4,46.5h1.1v1.1h-1.1zM135.7,51.0h1.1v1.1h-1.1zM129.3,53.2h1.1v1.1h-1.1zM102.9,75.6h1.1v1.1h-1.1zM107.7,78.4h1.1v1.1h-1.1zM128.7,58.3h1.1v1.1h-1.1zM136.1,48.5h1.1v1.1h-1.1zM129.8,52.0h1.1v1.1h-1.1zM129.2,58.4h1.1v1.1h-1.1zM125.0,58.7h1.1v1.1h-1.1zM109.0,71.2h1.1v1.1h-1.1zM130.2,51.5h1.1v1.1h-1.1zM103.3,74.3h1.1v1.1h-1.1zM138.5,48.7h1.1v1.1h-1.1zM117.3,66.2h1.1v1.1h-1.1zM134.2,52.4h1.1v1.1h-1.1zM119.8,63.6h1.1v1.1h-1.1zM117.6,66.6h1.1v1.1h-1.1zM116.2,61.9h1.1v1.1h-1.1zM137.0,49.4h1.1v1.1h-1.1zM137.7,49.7h1.1v1.1h-1.1zM140.3,45.6h1.1v1.1h-1.1zM140.1,45.7h1.1v1.1h-1.1zM139.5,46.4h1.1v1.1h-1.1zM108.0,70.7h1.1v1.1h-1.1zM125.1,56.2h1.1v1.1h-1.1zM110.7,71.2h1.1v1.1h-1.1zM114.0,67.3h1.1v1.1h-1.1zM111.3,75.3h1.1v1.1h-1.1zM131.8,46.3h1.1v1.1h-1.1zM119.0,55.4h1.1v1.1h-1.1zM116.0,62.2h1.1v1.1h-1.1zM110.8,74.1h1.1v1.1h-1.1zM123.2,59.1h1.1v1.1h-1.1zM129.0,54.0h1.1v1.1h-1.1zM134.3,49.6h1.1v1.1h-1.1zM110.2,75.6h1.1v1.1h-1.1zM139.5,48.5h1.1v1.1h-1.1zM129.0,55.8h1.1v1.1h-1.1zM117.9,69.1h1.1v1.1h-1.1zM128.0,58.3h1.1v1.1h-1.1zM128.6,49.3h1.1v1.1h-1.1zM137.5,48.4h1.1v1.1h-1.1zM121.7,64.6h1.1v1.1h-1.1zM112.7,71.4h1.1v1.1h-1.1zM140.6,45.7h1.1v1.1h-1.1zM137.0,48.7h1.1v1.1h-1.1zM113.5,67.5h1.1v1.1h-1.1zM114.9,69.2h1.1v1.1h-1.1zM102.6,82.4h1.1v1.1h-1.1zM122.9,59.3h1.1v1.1h-1.1zM114.3,71.4h1.1v1.1h-1.1zM137.4,48.1h1.1v1.1h-1.1zM138.4,44.4h1.1v1.1h-1.1zM129.9,49.7h1.1v1.1h-1.1zM117.0,52.7h1.1v1.1h-1.1zM111.5,71.5h1.1v1.1h-1.1zM137.0,46.0h1.1v1.1h-1.1zM112.8,72.5h1.1v1.1h-1.1zM134.5,48.7h1.1v1.1h-1.1zM103.8,82.4h1.1v1.1h-1.1zM117.0,63.9h1.1v1.1h-1.1zM139.0,47.5h1.1v1.1h-1.1zM134.4,50.8h1.1v1.1h-1.1zM106.5,73.3h1.1v1.1h-1.1zM115.1,67.7h1.1v1.1h-1.1zM113.2,62.2h1.1v1.1h-1.1zM130.7,52.0h1.1v1.1h-1.1zM135.8,49.1h1.1v1.1h-1.1zM110.6,73.6h1.1v1.1h-1.1zM110.5,70.9h1.1v1.1h-1.1zM126.6,58.0h1.1v1.1h-1.1zM141.6,44.2h1.1v1.1h-1.1zM133.2,51.9h1.1v1.1h-1.1zM125.2,58.2h1.1v1.1h-1.1zM131.7,54.6h1.1v1.1h-1.1zM102.8,82.7h1.1v1.1h-1.1zM118.4,68.3h1.1v1.1h-1.1zM114.1,72.1h1.1v1.1h-1.1zM126.5,60.8h1.1v1.1h-1.1zM134.3,52.5h1.1v1.1h-1.1zM134.9,46.2h1.1v1.1h-1.1zM134.7,51.6h1.1v1.1h-1.1zM130.4,55.7h1.1v1.1h-1.1zM133.2,53.5h1.1v1.1h-1.1zM143.0,44.6h1.1v1.1h-1.1zM122.6,50.9h1.1v1.1h-1.1zM121.5,62.6h1.1v1.1h-1.1zM107.8,67.1h1.1v1.1h-1.1zM124.9,60.7h1.1v1.1h-1.1zM138.0,46.0h1.1v1.1h-1.1zM108.6,74.7h1.1v1.1h-1.1zM138.7,47.5h1.1v1.1h-1.1zM128.7,56.1h1.1v1.1h-1.1zM110.4,70.3h1.1v1.1h-1.1zM125.3,54.5h1.1v1.1h-1.1zM130.7,51.0h1.1v1.1h-1.1zM132.9,53.4h1.1v1.1h-1.1zM120.5,63.7h1.1v1.1h-1.1zM143.6,44.6h1.1v1.1h-1.1zM105.9,73.0h1.1v1.1h-1.1zM115.8,65.6h1.1v1.1h-1.1zM136.6,44.3h1.1v1.1h-1.1zM101.2,84.4h1.1v1.1h-1.1zM116.2,66.0h1.1v1.1h-1.1zM120.7,66.3h1.1v1.1h-1.1zM113.1,53.1h1.1v1.1h-1.1zM106.6,69.2h1.1v1.1h-1.1zM142.1,45.0h1.1v1.1h-1.1zM137.9,47.4h1.1v1.1h-1.1zM121.5,63.4h1.1v1.1h-1.1zM103.1,71.6h1.1v1.1h-1.1zM134.1,50.9h1.1v1.1h-1.1zM112.7,73.0h1.1v1.1h-1.1zM106.2,76.3h1.1v1.1h-1.1zM131.2,54.8h1.1v1.1h-1.1zM130.2,55.9h1.1v1.1h-1.1zM120.9,58.7h1.1v1.1h-1.1zM134.7,44.2h1.1v1.1h-1.1zM115.0,63.7h1.1v1.1h-1.1zM122.1,63.7h1.1v1.1h-1.1zM124.7,56.2h1.1v1.1h-1.1zM125.6,57.3h1.1v1.1h-1.1zM128.4,48.2h1.1v1.1h-1.1zM139.5,46.4h1.1v1.1h-1.1zM140.7,47.2h1.1v1.1h-1.1zM128.5,47.2h1.1v1.1h-1.1zM113.8,72.9h1.1v1.1h-1.1zM108.1,78.0h1.1v1.1h-1.1zM125.1,58.3h1.1v1.1h-1.1zM134.5,47.9h1.1v1.1h-1.1zM130.2,56.8h1.1v1.1h-1.1zM127.4,59.6h1.1v1.1h-1.1zM138.3,47.6h1.1v1.1h-1.1zM126.8,60.6h1.1v1.1h-1.1zM128.1,57.6h1.1v1.1h-1.1zM128.2,52.6h1.1v1.1h-1.1zM118.4,66.2h1.1v1.1h-1.1zM106.3,78.1h1.1v1.1h-1.1zM136.6,46.3h1.1v1.1h-1.1zM121.8,62.8h1.1v1.1h-1.1zM121.5,64.3h1.1v1.1h-1.1zM113.8,72.6h1.1v1.1h-1.1zM141.8,46.0h1.1v1.1h-1.1zM115.7,61.9h1.1v1.1h-1.1zM129.8,57.5h1.1v1.1h-1.1zM122.5,63.2h1.1v1.1h-1.1zM136.2,50.1h1.1v1.1h-1.1zM123.2,63.0h1.1v1.1h-1.1zM113.9,66.9h1.1v1.1h-1.1zM132.4,54.8h1.1v1.1h-1.1zM128.7,55.6h1.1v1.1h-1.1zM136.2,50.0h1.1v1.1h-1.1zM124.8,55.8h1.1v1.1h-1.1zM113.4,60.6h1.1v1.1h-1.1zM121.1,58.0h1.1v1.1h-1.1zM141.4,44.8h1.1v1.1h-1.1zM102.9,78.3h1.1v1.1h-1.1zM123.0,63.6h1.1v1.1h-1.1zM127.9,52.6h1.1v1.1h-1.1zM115.6,70.8h1.1v1.1h-1.1zM123.1,62.3h1.1v1.1h-1.1zM141.8,45.2h1.1v1.1h-1.1zM120.0,64.1h1.1v1.1h-1.1zM126.8,60.3h1.1v1.1h-1.1zM130.1,55.1h1.1v1.1h-1.1zM140.1,45.4h1.1v1.1h-1.1zM118.5,66.5h1.1v1.1h-1.1zM128.4,56.9h1.1v1.1h-1.1zM103.3,75.8h1.1v1.1h-1.1zM143.6,44.3h1.1v1.1h-1.1zM121.7,64.6h1.1v1.1h-1.1zM130.3,51.5h1.1v1.1h-1.1zM136.0,51.2h1.1v1.1h-1.1zM112.4,72.9h1.1v1.1h-1.1zM127.1,58.7h1.1v1.1h-1.1zM118.4,68.4h1.1v1.1h-1.1zM131.4,52.1h1.1v1.1h-1.1zM117.5,69.4h1.1v1.1h-1.1zM140.7,46.6h1.1v1.1h-1.1zM117.9,64.1h1.1v1.1h-1.1zM118.6,67.7h1.1v1.1h-1.1zM124.3,59.4h1.1v1.1h-1.1zM131.5,55.0h1.1v1.1h-1.1zM122.1,62.5h1.1v1.1h-1.1zM104.6,78.4h1.1v1.1h-1.1zM132.8,50.0h1.1v1.1h-1.1zM104.8,80.2h1.1v1.1h-1.1zM118.0,69.0h1.1v1.1h-1.1zM133.3,53.0h1.1v1.1h-1.1zM133.4,44.4h1.1v1.1h-1.1zM126.4,59.6h1.1v1.1h-1.1zM127.2,58.5h1.1v1.1h-1.1zM130.0,56.7h1.1v1.1h-1.1zM127.7,55.6h1.1v1.1h-1.1zM107.9,78.2h1.1v1.1h-1.1zM126.1,60.9h1.1v1.1h-1.1zM125.4,58.4h1.1v1.1h-1.1zM104.9,76.0h1.1v1.1h-1.1zM108.0,77.5h1.1v1.1h-1.1zM132.6,49.5h1.1v1.1h-1.1zM122.7,62.3h1.1v1.1h-1.1zM134.3,52.4h1.1v1.1h-1.1zM133.0,52.1h1.1v1.1h-1.1zM108.4,73.0h1.1v1.1h-1.1zM138.3,46.8h1.1v1.1h-1.1z" fill="#2b3990"/>
<path d="M157.2,108.7h1.1v1.1h-1.1zM161.8,73.9h1.1v1.1h-1.1zM148.2,84.9h1.1v1.1h-1.1zM144.9,99.6h1.1v1.1h-1.1zM155.8,86.0h1.1v1.1h-1.1zM151.0,90.0h1.1v1.1h-1.1zM149.3,87.6h1.1v1.1h-1.1zM150.0,90.4h1.1v1.1h-1.1zM133.6,106.6h1.1v1.1h-1.1zM144.3,95.4h1.1v1.1h-1.1zM143.0,103.6h1.1v1.1h-1.1zM145.4,98.7h1.1v1.1h-1.1zM135.3,101.2h1.1v1.1h-1.1zM159.6,98.4h1.1v1.1h-1.1zM160.9,73.2h1.1v1.1h-1.1zM158.6,80.4h1.1v1.1h-1.1zM157.2,81.0h1.1v1.1h-1.1zM159.1,74.2h1.1v1.1h-1.1zM154.3,79.2h1.1v1.1h-1.1zM163.4,70.4h1.1v1.1h-1.1zM166.6,68.2h1.1v1.1h-1.1zM157.5,75.9h1.1v1.1h-1.1zM149.8,90.2h1.1v1.1h-1.1zM135.4,105.0h1.1v1.1h-1.1zM160.5,77.4h1.1v1.1h-1.1zM167.5,67.0h1.1v1.1h-1.1zM132.3,108.1h1.1v1.1h-1.1zM159.7,82.4h1.1v1.1h-1.1zM161.2,75.5h1.1v1.1h-1.1zM167.0,69.6h1.1v1.1h-1.1zM165.3,70.3h1.1v1.1h-1.1zM164.0,71.9h1.1v1.1h-1.1zM161.1,79.4h1.1v1.1h-1.1zM132.5,104.6h1.1v1.1h-1.1zM154.2,80.0h1.1v1.1h-1.1zM160.1,76.8h1.1v1.1h-1.1zM153.5,103.3h1.1v1.1h-1.1zM160.3,79.7h1.1v1.1h-1.1zM135.7,97.5h1.1v1.1h-1.1zM136.5,97.6h1.1v1.1h-1.1zM163.9,77.2h1.1v1.1h-1.1zM138.7,93.9h1.1v1.1h-1.1zM162.0,75.6h1.1v1.1h-1.1zM142.8,93.7h1.1v1.1h-1.1zM143.3,94.1h1.1v1.1h-1.1zM165.6,82.2h1.1v1.1h-1.1zM145.1,92.6h1.1v1.1h-1.1zM152.0,81.6h1.1v1.1h-1.1zM151.3,92.0h1.1v1.1h-1.1zM166.7,83.0h1.1v1.1h-1.1zM165.1,68.6h1.1v1.1h-1.1zM160.2,85.1h1.1v1.1h-1.1zM156.6,80.7h1.1v1.1h-1.1zM150.1,92.7h1.1v1.1h-1.1zM144.1,103.5h1.1v1.1h-1.1zM143.5,93.0h1.1v1.1h-1.1zM158.4,78.2h1.1v1.1h-1.1zM165.9,68.9h1.1v1.1h-1.1zM157.8,92.6h1.1v1.1h-1.1zM167.1,72.4h1.1v1.1h-1.1zM148.2,85.2h1.1v1.1h-1.1zM153.4,80.9h1.1v1.1h-1.1zM163.7,78.5h1.1v1.1h-1.1zM134.5,103.9h1.1v1.1h-1.1zM156.9,79.4h1.1v1.1h-1.1zM158.6,76.8h1.1v1.1h-1.1zM144.2,94.0h1.1v1.1h-1.1zM159.9,75.8h1.1v1.1h-1.1zM165.4,68.6h1.1v1.1h-1.1zM141.7,98.4h1.1v1.1h-1.1zM148.7,86.9h1.1v1.1h-1.1zM152.2,84.4h1.1v1.1h-1.1zM165.0,70.2h1.1v1.1h-1.1zM153.7,86.7h1.1v1.1h-1.1zM146.2,87.6h1.1v1.1h-1.1zM163.0,71.5h1.1v1.1h-1.1zM160.7,84.7h1.1v1.1h-1.1zM165.7,72.2h1.1v1.1h-1.1zM151.1,84.4h1.1v1.1h-1.1zM162.1,72.2h1.1v1.1h-1.1zM145.0,91.3h1.1v1.1h-1.1zM164.0,73.0h1.1v1.1h-1.1zM145.9,93.3h1.1v1.1h-1.1zM165.7,69.2h1.1v1.1h-1.1zM136.4,106.3h1.1v1.1h-1.1zM156.6,79.8h1.1v1.1h-1.1zM149.9,83.2h1.1v1.1h-1.1zM132.4,110.3h1.1v1.1h-1.1zM152.1,96.7h1.1v1.1h-1.1zM134.9,100.9h1.1v1.1h-1.1zM146.3,90.8h1.1v1.1h-1.1zM157.2,100.0h1.1v1.1h-1.1zM154.8,81.6h1.1v1.1h-1.1zM162.5,72.6h1.1v1.1h-1.1zM159.9,75.2h1.1v1.1h-1.1zM154.0,88.1h1.1v1.1h-1.1zM153.4,81.0h1.1v1.1h-1.1zM147.4,86.6h1.1v1.1h-1.1zM137.9,96.2h1.1v1.1h-1.1zM154.1,85.1h1.1v1.1h-1.1zM147.2,102.5h1.1v1.1h-1.1zM141.5,93.4h1.1v1.1h-1.1zM147.8,98.2h1.1v1.1h-1.1zM166.2,67.7h1.1v1.1h-1.1zM157.3,93.5h1.1v1.1h-1.1zM165.4,70.0h1.1v1.1h-1.1zM160.7,80.1h1.1v1.1h-1.1zM164.9,74.2h1.1v1.1h-1.1zM154.9,92.0h1.1v1.1h-1.1zM162.3,71.3h1.1v1.1h-1.1zM145.7,92.4h1.1v1.1h-1.1zM163.7,89.6h1.1v1.1h-1.1zM130.7,103.9h1.1v1.1h-1.1zM142.9,100.5h1.1v1.1h-1.1zM143.5,92.6h1.1v1.1h-1.1zM163.8,70.7h1.1v1.1h-1.1zM138.5,97.5h1.1v1.1h-1.1zM141.9,94.7h1.1v1.1h-1.1zM140.6,107.1h1.1v1.1h-1.1zM156.8,86.9h1.1v1.1h-1.1zM157.3,76.6h1.1v1.1h-1.1zM151.7,81.4h1.1v1.1h-1.1zM129.3,103.5h1.1v1.1h-1.1zM144.7,113.1h1.1v1.1h-1.1zM154.7,79.5h1.1v1.1h-1.1zM162.2,71.9h1.1v1.1h-1.1zM148.3,84.6h1.1v1.1h-1.1zM164.5,71.1h1.1v1.1h-1.1zM167.3,77.7h1.1v1.1h-1.1zM165.2,69.6h1.1v1.1h-1.1zM149.9,92.2h1.1v1.1h-1.1zM159.8,75.7h1.1v1.1h-1.1zM151.1,83.2h1.1v1.1h-1.1zM160.1,74.9h1.1v1.1h-1.1zM160.6,85.8h1.1v1.1h-1.1zM137.5,102.5h1.1v1.1h-1.1zM159.3,88.1h1.1v1.1h-1.1zM151.8,88.3h1.1v1.1h-1.1zM160.6,77.4h1.1v1.1h-1.1zM146.4,87.1h1.1v1.1h-1.1zM167.1,71.9h1.1v1.1h-1.1zM166.7,75.1h1.1v1.1h-1.1zM132.9,107.4h1.1v1.1h-1.1zM161.6,81.2h1.1v1.1h-1.1zM158.6,78.5h1.1v1.1h-1.1zM150.9,100.0h1.1v1.1h-1.1zM164.8,69.1h1.1v1.1h-1.1zM165.3,68.4h1.1v1.1h-1.1zM135.6,97.8h1.1v1.1h-1.1zM156.0,79.1h1.1v1.1h-1.1zM150.2,88.7h1.1v1.1h-1.1zM158.1,78.1h1.1v1.1h-1.1zM164.5,73.6h1.1v1.1h-1.1zM143.2,98.4h1.1v1.1h-1.1zM152.5,96.7h1.1v1.1h-1.1zM156.4,77.9h1.1v1.1h-1.1zM135.4,100.0h1.1v1.1h-1.1zM148.8,113.7h1.1v1.1h-1.1zM151.9,86.5h1.1v1.1h-1.1zM164.9,72.1h1.1v1.1h-1.1zM153.8,91.8h1.1v1.1h-1.1zM155.4,89.5h1.1v1.1h-1.1zM153.1,84.8h1.1v1.1h-1.1zM144.3,95.7h1.1v1.1h-1.1zM165.6,75.4h1.1v1.1h-1.1zM149.9,83.4h1.1v1.1h-1.1zM161.9,76.2h1.1v1.1h-1.1zM165.9,69.1h1.1v1.1h-1.1zM163.2,71.4h1.1v1.1h-1.1zM165.4,74.6h1.1v1.1h-1.1zM163.6,74.9h1.1v1.1h-1.1zM144.9,90.6h1.1v1.1h-1.1zM145.0,110.0h1.1v1.1h-1.1zM150.9,91.9h1.1v1.1h-1.1zM148.4,86.7h1.1v1.1h-1.1zM164.6,75.1h1.1v1.1h-1.1zM158.0,98.0h1.1v1.1h-1.1zM165.2,72.2h1.1v1.1h-1.1zM150.2,83.9h1.1v1.1h-1.1zM151.9,105.6h1.1v1.1h-1.1zM136.9,105.0h1.1v1.1h-1.1zM166.0,70.5h1.1v1.1h-1.1zM166.3,67.6h1.1v1.1h-1.1zM152.9,81.2h1.1v1.1h-1.1zM166.1,76.1h1.1v1.1h-1.1zM166.3,70.1h1.1v1.1h-1.1zM158.2,75.1h1.1v1.1h-1.1zM159.0,79.6h1.1v1.1h-1.1zM160.4,75.6h1.1v1.1h-1.1zM153.9,80.0h1.1v1.1h-1.1zM139.3,94.2h1.1v1.1h-1.1zM158.7,78.3h1.1v1.1h-1.1zM164.6,70.9h1.1v1.1h-1.1zM148.2,105.6h1.1v1.1h-1.1zM158.5,84.1h1.1v1.1h-1.1zM153.3,87.0h1.1v1.1h-1.1zM135.7,98.0h1.1v1.1h-1.1zM151.1,88.5h1.1v1.1h-1.1zM157.9,86.8h1.1v1.1h-1.1zM155.4,78.1h1.1v1.1h-1.1zM141.8,98.5h1.1v1.1h-1.1zM141.7,93.0h1.1v1.1h-1.1zM135.7,113.8h1.1v1.1h-1.1zM161.2,77.5h1.1v1.1h-1.1zM167.3,66.6h1.1v1.1h-1.1zM151.2,83.3h1.1v1.1h-1.1zM135.6,99.7h1.1v1.1h-1.1zM159.0,78.5h1.1v1.1h-1.1zM164.8,75.8h1.1v1.1h-1.1zM166.8,67.5h1.1v1.1h-1.1zM158.3,75.2h1.1v1.1h-1.1zM148.4,88.8h1.1v1.1h-1.1zM144.1,88.5h1.1v1.1h-1.1zM139.4,102.2h1.1v1.1h-1.1zM153.9,82.8h1.1v1.1h-1.1zM163.2,71.4h1.1v1.1h-1.1zM151.4,83.8h1.1v1.1h-1.1zM161.2,72.7h1.1v1.1h-1.1zM157.8,88.0h1.1v1.1h-1.1zM161.7,80.2h1.1v1.1h-1.1zM166.9,72.1h1.1v1.1h-1.1zM157.6,76.8h1.1v1.1h-1.1zM139.2,102.2h1.1v1.1h-1.1zM157.4,82.4h1.1v1.1h-1.1zM160.1,79.2h1.1v1.1h-1.1zM163.4,74.5h1.1v1.1h-1.1zM154.4,85.9h1.1v1.1h-1.1zM159.8,98.6h1.1v1.1h-1.1zM134.8,98.1h1.1v1.1h-1.1zM153.1,85.2h1.1v1.1h-1.1zM155.4,79.9h1.1v1.1h-1.1zM160.6,73.3h1.1v1.1h-1.1zM164.0,83.4h1.1v1.1h-1.1zM153.0,81.2h1.1v1.1h-1.1zM161.2,76.6h1.1v1.1h-1.1zM166.2,71.3h1.1v1.1h-1.1zM138.5,94.3h1.1v1.1h-1.1zM164.0,73.1h1.1v1.1h-1.1zM152.0,82.7h1.1v1.1h-1.1zM147.8,91.3h1.1v1.1h-1.1zM157.3,81.2h1.1v1.1h-1.1zM146.6,88.3h1.1v1.1h-1.1zM153.1,104.3h1.1v1.1h-1.1zM148.3,84.6h1.1v1.1h-1.1zM155.5,85.4h1.1v1.1h-1.1zM143.0,96.2h1.1v1.1h-1.1zM144.8,94.9h1.1v1.1h-1.1zM163.6,73.7h1.1v1.1h-1.1zM142.0,92.0h1.1v1.1h-1.1zM148.3,84.9h1.1v1.1h-1.1zM138.6,95.9h1.1v1.1h-1.1zM149.7,94.6h1.1v1.1h-1.1zM157.3,79.7h1.1v1.1h-1.1zM153.8,84.6h1.1v1.1h-1.1zM160.8,73.1h1.1v1.1h-1.1zM155.4,84.1h1.1v1.1h-1.1zM165.7,73.4h1.1v1.1h-1.1zM163.6,70.7h1.1v1.1h-1.1zM165.2,69.9h1.1v1.1h-1.1zM160.2,96.2h1.1v1.1h-1.1zM152.8,82.0h1.1v1.1h-1.1zM166.4,69.4h1.1v1.1h-1.1zM152.7,83.3h1.1v1.1h-1.1zM135.8,97.2h1.1v1.1h-1.1zM147.8,94.3h1.1v1.1h-1.1zM141.3,119.5h1.1v1.1h-1.1zM141.5,97.4h1.1v1.1h-1.1zM159.7,74.0h1.1v1.1h-1.1zM159.1,78.4h1.1v1.1h-1.1zM149.1,86.8h1.1v1.1h-1.1zM163.3,71.4h1.1v1.1h-1.1zM166.1,68.7h1.1v1.1h-1.1zM150.2,83.7h1.1v1.1h-1.1zM156.7,83.1h1.1v1.1h-1.1zM165.5,69.9h1.1v1.1h-1.1zM145.1,95.6h1.1v1.1h-1.1zM166.9,81.1h1.1v1.1h-1.1zM163.9,78.7h1.1v1.1h-1.1zM160.0,76.5h1.1v1.1h-1.1zM162.4,74.5h1.1v1.1h-1.1zM152.4,95.1h1.1v1.1h-1.1zM166.8,84.2h1.1v1.1h-1.1zM158.1,77.7h1.1v1.1h-1.1zM142.7,95.1h1.1v1.1h-1.1zM164.1,69.9h1.1v1.1h-1.1zM164.2,77.6h1.1v1.1h-1.1zM151.0,82.5h1.1v1.1h-1.1zM142.7,94.7h1.1v1.1h-1.1zM157.2,79.9h1.1v1.1h-1.1zM149.6,119.2h1.1v1.1h-1.1zM164.5,69.2h1.1v1.1h-1.1zM140.9,95.4h1.1v1.1h-1.1zM146.4,90.4h1.1v1.1h-1.1zM152.1,82.7h1.1v1.1h-1.1zM150.1,83.5h1.1v1.1h-1.1zM134.3,99.9h1.1v1.1h-1.1zM158.3,75.0h1.1v1.1h-1.1zM133.6,100.6h1.1v1.1h-1.1zM164.3,69.3h1.1v1.1h-1.1zM153.3,80.3h1.1v1.1h-1.1zM157.8,80.1h1.1v1.1h-1.1zM157.8,77.2h1.1v1.1h-1.1zM146.0,99.2h1.1v1.1h-1.1zM163.5,84.4h1.1v1.1h-1.1zM157.8,81.9h1.1v1.1h-1.1zM150.6,89.9h1.1v1.1h-1.1zM156.9,76.4h1.1v1.1h-1.1zM150.8,98.1h1.1v1.1h-1.1zM165.8,70.4h1.1v1.1h-1.1zM141.1,95.1h1.1v1.1h-1.1zM155.4,77.9h1.1v1.1h-1.1zM156.6,80.5h1.1v1.1h-1.1zM141.9,100.1h1.1v1.1h-1.1zM150.0,84.2h1.1v1.1h-1.1zM147.1,87.5h1.1v1.1h-1.1zM161.6,81.0h1.1v1.1h-1.1zM135.1,105.0h1.1v1.1h-1.1zM130.3,104.8h1.1v1.1h-1.1zM163.5,72.4h1.1v1.1h-1.1zM160.1,75.6h1.1v1.1h-1.1zM153.2,96.2h1.1v1.1h-1.1zM159.6,77.0h1.1v1.1h-1.1zM151.0,97.1h1.1v1.1h-1.1zM154.4,84.0h1.1v1.1h-1.1zM162.0,71.5h1.1v1.1h-1.1zM136.1,97.3h1.1v1.1h-1.1zM150.0,97.2h1.1v1.1h-1.1zM142.5,96.5h1.1v1.1h-1.1zM136.2,99.6h1.1v1.1h-1.1zM147.8,91.2h1.1v1.1h-1.1zM158.2,80.7h1.1v1.1h-1.1zM162.5,73.6h1.1v1.1h-1.1zM163.0,71.4h1.1v1.1h-1.1zM154.6,81.2h1.1v1.1h-1.1zM166.0,68.5h1.1v1.1h-1.1zM148.4,88.8h1.1v1.1h-1.1zM138.9,98.5h1.1v1.1h-1.1zM135.4,97.5h1.1v1.1h-1.1zM155.2,78.9h1.1v1.1h-1.1zM147.6,85.4h1.1v1.1h-1.1zM136.9,97.2h1.1v1.1h-1.1zM166.6,73.4h1.1v1.1h-1.1zM144.6,94.5h1.1v1.1h-1.1zM165.6,74.1h1.1v1.1h-1.1zM149.4,93.1h1.1v1.1h-1.1zM162.4,73.3h1.1v1.1h-1.1zM134.8,98.8h1.1v1.1h-1.1zM150.9,88.7h1.1v1.1h-1.1zM161.7,73.0h1.1v1.1h-1.1zM149.1,86.2h1.1v1.1h-1.1zM157.2,80.5h1.1v1.1h-1.1zM137.3,103.9h1.1v1.1h-1.1zM159.2,77.4h1.1v1.1h-1.1zM149.0,89.0h1.1v1.1h-1.1zM154.1,87.7h1.1v1.1h-1.1zM155.3,88.4h1.1v1.1h-1.1zM155.8,84.5h1.1v1.1h-1.1zM150.2,85.5h1.1v1.1h-1.1zM142.8,91.6h1.1v1.1h-1.1zM156.6,78.6h1.1v1.1h-1.1zM140.9,93.8h1.1v1.1h-1.1zM166.1,73.4h1.1v1.1h-1.1zM145.7,104.9h1.1v1.1h-1.1zM150.1,83.2h1.1v1.1h-1.1zM140.0,96.0h1.1v1.1h-1.1zM149.8,84.2h1.1v1.1h-1.1zM143.1,94.0h1.1v1.1h-1.1zM145.0,103.7h1.1v1.1h-1.1zM158.5,83.5h1.1v1.1h-1.1zM152.2,81.1h1.1v1.1h-1.1zM163.2,75.9h1.1v1.1h-1.1zM161.8,78.2h1.1v1.1h-1.1zM161.9,75.0h1.1v1.1h-1.1zM160.1,73.7h1.1v1.1h-1.1zM162.7,81.4h1.1v1.1h-1.1zM166.9,67.1h1.1v1.1h-1.1zM131.1,114.2h1.1v1.1h-1.1zM154.2,83.5h1.1v1.1h-1.1zM145.4,102.3h1.1v1.1h-1.1zM133.2,101.7h1.1v1.1h-1.1zM162.8,72.7h1.1v1.1h-1.1zM158.1,78.1h1.1v1.1h-1.1zM138.9,94.6h1.1v1.1h-1.1zM140.6,104.0h1.1v1.1h-1.1zM134.5,97.9h1.1v1.1h-1.1zM147.5,87.9h1.1v1.1h-1.1zM164.7,69.3h1.1v1.1h-1.1zM148.6,85.7h1.1v1.1h-1.1zM150.8,87.5h1.1v1.1h-1.1zM159.1,76.5h1.1v1.1h-1.1zM152.2,85.5h1.1v1.1h-1.1zM144.7,89.6h1.1v1.1h-1.1zM138.2,105.3h1.1v1.1h-1.1zM156.1,79.2h1.1v1.1h-1.1zM163.3,73.5h1.1v1.1h-1.1zM150.7,90.1h1.1v1.1h-1.1zM151.4,81.7h1.1v1.1h-1.1zM147.1,90.5h1.1v1.1h-1.1zM159.3,76.4h1.1v1.1h-1.1zM161.0,74.1h1.1v1.1h-1.1zM151.8,81.5h1.1v1.1h-1.1zM160.9,75.3h1.1v1.1h-1.1zM165.1,71.7h1.1v1.1h-1.1zM156.0,80.4h1.1v1.1h-1.1zM137.9,112.9h1.1v1.1h-1.1zM138.3,98.2h1.1v1.1h-1.1zM161.0,72.7h1.1v1.1h-1.1zM145.4,103.3h1.1v1.1h-1.1zM137.1,111.1h1.1v1.1h-1.1zM133.6,105.5h1.1v1.1h-1.1zM158.7,78.0h1.1v1.1h-1.1zM157.6,80.8h1.1v1.1h-1.1zM157.4,77.2h1.1v1.1h-1.1zM151.1,84.0h1.1v1.1h-1.1zM151.7,86.2h1.1v1.1h-1.1zM143.8,90.9h1.1v1.1h-1.1zM143.4,91.0h1.1v1.1h-1.1zM161.5,73.1h1.1v1.1h-1.1zM136.2,108.2h1.1v1.1h-1.1zM148.6,87.2h1.1v1.1h-1.1zM150.2,89.7h1.1v1.1h-1.1zM145.9,87.3h1.1v1.1h-1.1zM133.5,102.2h1.1v1.1h-1.1zM166.9,70.1h1.1v1.1h-1.1zM145.8,109.6h1.1v1.1h-1.1zM153.3,89.9h1.1v1.1h-1.1zM136.9,106.1h1.1v1.1h-1.1zM162.7,75.9h1.1v1.1h-1.1zM155.2,112.7h1.1v1.1h-1.1zM149.0,84.1h1.1v1.1h-1.1zM148.2,84.6h1.1v1.1h-1.1zM141.3,94.1h1.1v1.1h-1.1zM167.0,71.0h1.1v1.1h-1.1zM151.2,96.2h1.1v1.1h-1.1zM157.5,75.8h1.1v1.1h-1.1zM137.1,97.4h1.1v1.1h-1.1zM149.2,86.5h1.1v1.1h-1.1zM161.1,73.3h1.1v1.1h-1.1zM159.8,74.4h1.1v1.1h-1.1zM150.0,83.5h1.1v1.1h-1.1zM146.9,111.5h1.1v1.1h-1.1zM166.0,93.7h1.1v1.1h-1.1zM150.5,84.4h1.1v1.1h-1.1zM167.2,69.0h1.1v1.1h-1.1zM156.2,99.1h1.1v1.1h-1.1zM160.7,74.8h1.1v1.1h-1.1zM155.1,82.2h1.1v1.1h-1.1zM143.4,97.8h1.1v1.1h-1.1zM139.6,93.6h1.1v1.1h-1.1zM146.7,86.2h1.1v1.1h-1.1zM144.6,89.4h1.1v1.1h-1.1zM154.2,89.9h1.1v1.1h-1.1zM166.2,80.4h1.1v1.1h-1.1zM157.9,88.0h1.1v1.1h-1.1zM145.8,102.5h1.1v1.1h-1.1zM135.1,104.0h1.1v1.1h-1.1zM142.9,99.4h1.1v1.1h-1.1zM165.9,68.6h1.1v1.1h-1.1zM165.1,69.3h1.1v1.1h-1.1zM139.2,95.1h1.1v1.1h-1.1zM165.2,78.3h1.1v1.1h-1.1zM151.5,88.6h1.1v1.1h-1.1zM150.9,87.0h1.1v1.1h-1.1zM163.8,83.3h1.1v1.1h-1.1zM142.1,97.4h1.1v1.1h-1.1zM150.4,91.4h1.1v1.1h-1.1zM140.5,95.5h1.1v1.1h-1.1zM160.8,87.1h1.1v1.1h-1.1zM166.3,71.8h1.1v1.1h-1.1zM160.4,80.2h1.1v1.1h-1.1zM158.8,75.2h1.1v1.1h-1.1zM164.7,69.8h1.1v1.1h-1.1zM159.0,75.8h1.1v1.1h-1.1zM137.3,98.1h1.1v1.1h-1.1zM164.9,80.1h1.1v1.1h-1.1zM146.8,89.3h1.1v1.1h-1.1zM140.2,96.6h1.1v1.1h-1.1zM150.1,91.5h1.1v1.1h-1.1zM151.0,86.5h1.1v1.1h-1.1zM162.0,72.7h1.1v1.1h-1.1zM156.2,86.7h1.1v1.1h-1.1zM153.6,82.9h1.1v1.1h-1.1zM152.0,81.4h1.1v1.1h-1.1zM160.8,76.4h1.1v1.1h-1.1zM167.4,79.0h1.1v1.1h-1.1zM142.8,92.2h1.1v1.1h-1.1zM140.9,108.6h1.1v1.1h-1.1zM147.9,89.9h1.1v1.1h-1.1zM143.5,89.2h1.1v1.1h-1.1zM164.2,79.8h1.1v1.1h-1.1zM157.4,77.2h1.1v1.1h-1.1zM164.2,87.2h1.1v1.1h-1.1zM156.9,89.2h1.1v1.1h-1.1zM135.8,99.5h1.1v1.1h-1.1zM166.1,78.8h1.1v1.1h-1.1zM151.8,82.9h1.1v1.1h-1.1zM152.8,82.9h1.1v1.1h-1.1zM160.7,78.7h1.1v1.1h-1.1zM139.4,104.7h1.1v1.1h-1.1zM161.0,76.8h1.1v1.1h-1.1zM164.1,88.2h1.1v1.1h-1.1zM132.9,101.0h1.1v1.1h-1.1zM158.1,79.5h1.1v1.1h-1.1zM165.0,73.7h1.1v1.1h-1.1zM133.8,108.1h1.1v1.1h-1.1zM136.5,102.7h1.1v1.1h-1.1zM144.3,105.4h1.1v1.1h-1.1zM144.7,111.3h1.1v1.1h-1.1zM136.7,95.8h1.1v1.1h-1.1zM155.7,80.4h1.1v1.1h-1.1zM162.8,78.8h1.1v1.1h-1.1zM159.7,77.3h1.1v1.1h-1.1zM161.4,75.4h1.1v1.1h-1.1zM131.3,103.6h1.1v1.1h-1.1zM156.5,79.1h1.1v1.1h-1.1zM150.9,82.7h1.1v1.1h-1.1zM136.2,96.8h1.1v1.1h-1.1zM163.9,72.2h1.1v1.1h-1.1zM165.1,73.7h1.1v1.1h-1.1zM144.1,91.4h1.1v1.1h-1.1zM160.1,75.2h1.1v1.1h-1.1zM155.9,77.7h1.1v1.1h-1.1zM151.2,86.6h1.1v1.1h-1.1zM164.9,80.8h1.1v1.1h-1.1zM139.9,98.7h1.1v1.1h-1.1zM159.5,74.2h1.1v1.1h-1.1zM149.9,84.1h1.1v1.1h-1.1zM166.9,69.8h1.1v1.1h-1.1zM131.2,116.5h1.1v1.1h-1.1zM157.0,79.6h1.1v1.1h-1.1zM163.6,73.5h1.1v1.1h-1.1zM158.8,80.8h1.1v1.1h-1.1zM164.8,71.1h1.1v1.1h-1.1zM144.4,98.5h1.1v1.1h-1.1zM159.4,74.5h1.1v1.1h-1.1zM166.0,97.8h1.1v1.1h-1.1zM154.2,80.2h1.1v1.1h-1.1zM147.0,94.8h1.1v1.1h-1.1zM159.7,74.0h1.1v1.1h-1.1zM155.0,93.6h1.1v1.1h-1.1zM164.2,70.1h1.1v1.1h-1.1zM141.5,91.3h1.1v1.1h-1.1zM148.0,87.4h1.1v1.1h-1.1zM145.5,100.7h1.1v1.1h-1.1zM157.4,82.3h1.1v1.1h-1.1zM155.0,81.2h1.1v1.1h-1.1zM156.8,83.2h1.1v1.1h-1.1zM156.2,83.3h1.1v1.1h-1.1zM144.8,117.4h1.1v1.1h-1.1zM157.7,78.3h1.1v1.1h-1.1z" fill="#ee1c24"/>
<rect x="41.3" y="39.7" width="131.6" height="125.6" fill="none" stroke="#231f20" stroke-width="0.9"/>
<line x1="46.0" y1="165.3" x2="46.0" y2="167.3" stroke="#231f20" stroke-width="0.7"/>
<text x="46.0" y="176.3" font-size="7" text-anchor="middle" stroke="#111" stroke-width="0.08">0.0</text>
<line x1="39.3" y1="160.8" x2="41.3" y2="160.8" stroke="#231f20" stroke-width="0.7"/>
<text x="36.0" y="160.8" font-size="7" text-anchor="middle" stroke="#111" stroke-width="0.08" transform="rotate(-90 36.0 160.8)">0.0</text>
<line x1="70.4" y1="165.3" x2="70.4" y2="167.3" stroke="#231f20" stroke-width="0.7"/>
<text x="70.4" y="176.3" font-size="7" text-anchor="middle" stroke="#111" stroke-width="0.08">0.2</text>
<line x1="39.3" y1="137.5" x2="41.3" y2="137.5" stroke="#231f20" stroke-width="0.7"/>
<text x="36.0" y="137.5" font-size="7" text-anchor="middle" stroke="#111" stroke-width="0.08" transform="rotate(-90 36.0 137.5)">0.2</text>
<line x1="94.9" y1="165.3" x2="94.9" y2="167.3" stroke="#231f20" stroke-width="0.7"/>
<text x="94.9" y="176.3" font-size="7" text-anchor="middle" stroke="#111" stroke-width="0.08">0.4</text>
<line x1="39.3" y1="114.3" x2="41.3" y2="114.3" stroke="#231f20" stroke-width="0.7"/>
<text x="36.0" y="114.3" font-size="7" text-anchor="middle" stroke="#111" stroke-width="0.08" transform="rotate(-90 36.0 114.3)">0.4</text>
<line x1="119.3" y1="165.3" x2="119.3" y2="167.3" stroke="#231f20" stroke-width="0.7"/>
<text x="119.3" y="176.3" font-size="7" text-anchor="middle" stroke="#111" stroke-width="0.08">0.6</text>
<line x1="39.3" y1="91.0" x2="41.3" y2="91.0" stroke="#231f20" stroke-width="0.7"/>
<text x="36.0" y="91.0" font-size="7" text-anchor="middle" stroke="#111" stroke-width="0.08" transform="rotate(-90 36.0 91.0)">0.6</text>
<line x1="143.8" y1="165.3" x2="143.8" y2="167.3" stroke="#231f20" stroke-width="0.7"/>
<text x="143.8" y="176.3" font-size="7" text-anchor="middle" stroke="#111" stroke-width="0.08">0.8</text>
<line x1="39.3" y1="67.8" x2="41.3" y2="67.8" stroke="#231f20" stroke-width="0.7"/>
<text x="36.0" y="67.8" font-size="7" text-anchor="middle" stroke="#111" stroke-width="0.08" transform="rotate(-90 36.0 67.8)">0.8</text>
<line x1="168.2" y1="165.3" x2="168.2" y2="167.3" stroke="#231f20" stroke-width="0.7"/>
<text x="168.2" y="176.3" font-size="7" text-anchor="middle" stroke="#111" stroke-width="0.08">1.0</text>
<line x1="39.3" y1="44.5" x2="41.3" y2="44.5" stroke="#231f20" stroke-width="0.7"/>
<text x="36.0" y="44.5" font-size="7" text-anchor="middle" stroke="#111" stroke-width="0.08" transform="rotate(-90 36.0 44.5)">1.0</text>
<text x="109.5" y="184.8" font-size="7" text-anchor="middle" stroke="#111" stroke-width="0.08">mean PDUIs of genes in shNT</text>
<text x="25.6" y="99.5" font-size="7" text-anchor="middle" stroke="#111" stroke-width="0.08" transform="rotate(-90 25.6 99.5)">mean PDUIs of genes in shRBBP6#2</text>
<text x="197.9" y="14.0" font-size="11" fill="#000" font-weight="bold">b</text>
<line x1="220.5" y1="29.8" x2="220.5" y2="156.2" stroke="#222" stroke-width="1.4"/>
<line x1="219.8" y1="155.6" x2="287.6" y2="155.6" stroke="#222" stroke-width="1.3"/>
<line x1="217.8" y1="29.8" x2="220.5" y2="29.8" stroke="#231f20" stroke-width="1.1"/>
<text x="216.6" y="32.3" font-size="7" text-anchor="end" stroke="#111" stroke-width="0.08">2000</text>
<line x1="217.8" y1="61.2" x2="220.5" y2="61.2" stroke="#231f20" stroke-width="1.1"/>
<text x="216.6" y="63.8" font-size="7" text-anchor="end" stroke="#111" stroke-width="0.08">1500</text>
<line x1="217.8" y1="92.7" x2="220.5" y2="92.7" stroke="#231f20" stroke-width="1.1"/>
<text x="216.6" y="95.2" font-size="7" text-anchor="end" stroke="#111" stroke-width="0.08">1000</text>
<line x1="217.8" y1="124.1" x2="220.5" y2="124.1" stroke="#231f20" stroke-width="1.1"/>
<text x="216.6" y="126.6" font-size="7" text-anchor="end" stroke="#111" stroke-width="0.08">500</text>
<line x1="217.8" y1="155.6" x2="220.5" y2="155.6" stroke="#231f20" stroke-width="1.1"/>
<text x="216.6" y="158.1" font-size="7" text-anchor="end" stroke="#111" stroke-width="0.08">0</text>
<rect x="226.9" y="90.9" width="21.7" height="64.7" fill="#231815"/>
<rect x="259.3" y="51.5" width="23.4" height="104.1" fill="#ff0000"/>
<line x1="237.5" y1="155.6" x2="237.5" y2="159.3" stroke="#231f20" stroke-width="1.1"/>
<line x1="271.0" y1="155.6" x2="271.0" y2="159.3" stroke="#231f20" stroke-width="1.1"/>
<text x="236.0" y="86.9" font-size="7.3" text-anchor="middle" stroke="#111" stroke-width="0.08" textLength="12.1" lengthAdjust="spacingAndGlyphs">1028</text>
<text x="270.5" y="47.5" font-size="7.3" text-anchor="middle" stroke="#111" stroke-width="0.08" textLength="12.1" lengthAdjust="spacingAndGlyphs">1655</text>
<text x="236.9" y="168.2" font-size="7.2" text-anchor="middle" stroke="#111" stroke-width="0.08" textLength="29.8" lengthAdjust="spacingAndGlyphs">lengthening</text>
<text x="276.0" y="168.2" font-size="7.2" text-anchor="middle" stroke="#111" stroke-width="0.08" textLength="26.5" lengthAdjust="spacingAndGlyphs">shortening</text>
<text x="197.8" y="94.9" font-size="7" text-anchor="middle" stroke="#111" stroke-width="0.08" transform="rotate(-90 197.8 94.9)">Counts</text>
<text x="353.8" y="14.4" font-size="11" fill="#000" font-weight="bold">c</text>
<text x="433.7" y="15.0" font-size="7" text-anchor="middle" stroke="#111" stroke-width="0.08">ΔPDUI = -0.025</text>
<text x="388.6" y="32.5" font-size="7" stroke="#111" stroke-width="0.08">MYC</text>
<text x="422.4" y="32.5" font-size="7" stroke="#111" stroke-width="0.08">hg38</text>
<line x1="443.4" y1="29.0" x2="473.4" y2="29.0" stroke="#231f20" stroke-width="0.8"/>
<line x1="443.4" y1="27.0" x2="443.4" y2="31.0" stroke="#231f20" stroke-width="0.8"/>
<line x1="473.4" y1="27.0" x2="473.4" y2="31.0" stroke="#231f20" stroke-width="0.8"/>
<text x="458.4" y="27.0" font-size="6.5" text-anchor="middle" stroke="#111" stroke-width="0.08">1kb</text>
<path d="M391.6,56.4 L391.6,56.4 L392.1,45.0 L392.6,44.4 L393.1,44.6 L393.6,44.2 L394.1,44.1 L394.6,45.1 L395.1,45.2 L395.6,44.0 L396.1,45.0 L396.6,44.8 L397.1,43.4 L397.6,44.1 L398.1,43.4 L398.6,44.0 L399.1,43.8 L399.6,44.6 L400.1,43.8 L400.6,43.3 L401.1,43.6 L401.6,43.0 L402.1,42.9 L402.6,43.5 L403.1,41.9 L403.6,41.7 L404.1,41.8 L404.6,41.9 L405.1,40.2 L405.6,40.5 L406.1,40.0 L406.6,40.0 L407.1,40.3 L407.6,40.5 L408.1,41.8 L408.6,41.3 L409.1,42.1 L409.6,41.5 L410.1,41.7 L410.6,43.3 L411.1,43.4 L411.6,43.5 L412.1,42.6 L412.6,43.8 L413.1,43.8 L413.6,44.7 L414.1,50.3 L414.6,56.0 L415.1,56.0 L415.6,56.0 L416.1,56.0 L416.6,56.0 L417.1,56.0 L417.6,56.0 L418.1,56.0 L418.6,56.0 L419.1,56.0 L419.6,56.0 L420.1,56.0 L420.6,56.0 L421.1,56.0 L421.6,56.0 L422.1,56.0 L422.6,56.0 L423.1,56.0 L423.6,56.0 L424.1,56.0 L424.6,56.0 L425.1,56.0 L425.6,56.0 L426.1,56.0 L426.6,56.0 L427.1,56.0 L427.6,56.0 L428.1,56.0 L428.6,56.0 L429.1,56.0 L429.6,56.0 L430.1,56.0 L430.6,56.0 L431.1,56.0 L431.6,56.0 L432.1,56.0 L432.6,56.0 L433.1,56.0 L433.6,56.0 L434.1,56.0 L434.6,56.0 L435.1,56.0 L435.6,56.0 L436.1,56.0 L436.6,56.0 L437.1,56.0 L437.6,56.0 L438.1,56.0 L438.6,56.0 L439.1,56.0 L439.6,56.0 L440.1,56.0 L440.6,56.0 L441.1,56.0 L441.6,56.0 L442.1,56.0 L442.6,56.0 L443.1,56.0 L443.6,56.0 L444.1,56.0 L444.6,56.0 L445.1,56.0 L445.6,56.0 L446.1,56.0 L446.6,56.0 L447.1,56.0 L447.6,56.0 L448.1,56.0 L448.6,56.0 L449.1,56.0 L449.6,56.0 L450.1,56.0 L450.6,56.0 L451.1,56.0 L451.6,56.0 L452.1,56.0 L452.6,56.0 L453.1,56.0 L453.6,56.0 L454.1,44.9 L454.6,44.5 L455.1,43.8 L455.6,43.9 L456.1,43.5 L456.6,43.9 L457.1,43.5 L457.6,43.5 L458.1,43.1 L458.6,43.5 L459.1,44.2 L459.6,43.3 L460.1,43.3 L460.6,43.6 L461.1,44.3 L461.6,43.7 L462.1,44.3 L462.6,43.0 L463.1,43.1 L463.6,43.4 L464.1,43.5 L464.6,42.0 L465.1,41.7 L465.6,43.6 L466.1,42.8 L466.6,43.6 L467.1,43.4 L467.6,42.5 L468.1,41.1 L468.6,40.5 L469.1,41.5 L469.6,40.1 L470.1,40.9 L470.6,40.4 L471.1,41.7 L471.6,41.4 L472.1,41.7 L472.6,42.9 L473.1,42.7 L473.6,44.8 L474.1,46.1 L474.6,46.2 L475.1,47.8 L475.6,48.2 L476.1,48.5 L476.6,48.8 L477.1,50.2 L477.6,51.0 L478.1,50.2 L478.6,51.7 L479.1,51.2 L479.6,51.7 L480.1,53.1 L480.6,53.4 L481.1,53.8 L481.6,54.0 L482.1,54.5 L482.6,55.1 L483.1,55.6 L483.6,56.4 L483.6,56.4Z" fill="#34479a"/>
<line x1="384.2" y1="40.0" x2="386.1" y2="40.0" stroke="#231f20" stroke-width="0.6"/>
<line x1="384.2" y1="56.4" x2="386.1" y2="56.4" stroke="#231f20" stroke-width="0.6"/>
<text x="384.4" y="41.3" font-size="3.3" text-anchor="end" fill="#34479a" stroke="#34479a" stroke-width="0.08">12370</text>
<text x="384.4" y="57.4" font-size="3.3" text-anchor="end" fill="#34479a" stroke="#34479a" stroke-width="0.08">0</text>
<text x="370.8" y="51.4" font-size="6.4" text-anchor="end" fill="#34479a" stroke="#34479a" textLength="19.3" lengthAdjust="spacingAndGlyphs" stroke-width="0.12">shNT_1</text>
<path d="M391.6,76.3 L391.6,76.3 L392.1,64.4 L392.6,64.6 L393.1,64.0 L393.6,64.3 L394.1,64.4 L394.6,63.9 L395.1,63.1 L395.6,63.4 L396.1,63.5 L396.6,64.3 L397.1,63.5 L397.6,63.8 L398.1,63.9 L398.6,64.0 L399.1,63.9 L399.6,62.7 L400.1,62.9 L400.6,62.7 L401.1,62.5 L401.6,63.3 L402.1,62.9 L402.6,61.9 L403.1,61.2 L403.6,60.6 L404.1,60.1 L404.6,61.1 L405.1,59.8 L405.6,59.4 L406.1,59.4 L406.6,59.9 L407.1,59.9 L407.6,61.2 L408.1,60.2 L408.6,60.5 L409.1,61.2 L409.6,61.8 L410.1,60.9 L410.6,61.8 L411.1,61.5 L411.6,61.8 L412.1,62.7 L412.6,63.2 L413.1,63.2 L413.6,63.8 L414.1,70.5 L414.6,75.9 L415.1,75.9 L415.6,75.9 L416.1,75.9 L416.6,75.9 L417.1,75.9 L417.6,75.9 L418.1,75.9 L418.6,75.9 L419.1,75.9 L419.6,75.9 L420.1,75.9 L420.6,75.9 L421.1,75.9 L421.6,75.9 L422.1,75.9 L422.6,75.9 L423.1,75.9 L423.6,75.9 L424.1,75.9 L424.6,75.9 L425.1,75.9 L425.6,75.9 L426.1,75.9 L426.6,75.9 L427.1,75.9 L427.6,75.9 L428.1,75.9 L428.6,75.9 L429.1,75.9 L429.6,75.9 L430.1,75.9 L430.6,75.9 L431.1,75.9 L431.6,75.9 L432.1,75.9 L432.6,75.9 L433.1,75.9 L433.6,75.9 L434.1,75.9 L434.6,75.9 L435.1,75.9 L435.6,75.9 L436.1,75.9 L436.6,75.9 L437.1,75.9 L437.6,75.9 L438.1,75.9 L438.6,75.9 L439.1,75.9 L439.6,75.9 L440.1,75.9 L440.6,75.9 L441.1,75.9 L441.6,75.9 L442.1,75.9 L442.6,75.9 L443.1,75.9 L443.6,75.9 L444.1,75.9 L444.6,75.9 L445.1,75.9 L445.6,75.9 L446.1,75.9 L446.6,75.9 L447.1,75.9 L447.6,75.9 L448.1,75.9 L448.6,75.9 L449.1,75.9 L449.6,75.9 L450.1,75.9 L450.6,75.9 L451.1,75.9 L451.6,75.9 L452.1,75.9 L452.6,75.9 L453.1,75.9 L453.6,75.9 L454.1,64.4 L454.6,63.1 L455.1,64.1 L455.6,64.2 L456.1,63.3 L456.6,64.0 L457.1,63.6 L457.6,63.5 L458.1,63.5 L458.6,62.2 L459.1,63.5 L459.6,63.4 L460.1,63.9 L460.6,63.4 L461.1,64.1 L461.6,63.7 L462.1,62.7 L462.6,63.2 L463.1,62.5 L463.6,61.7 L464.1,62.8 L464.6,62.7 L465.1,62.3 L465.6,61.8 L466.1,62.4 L466.6,63.3 L467.1,62.4 L467.6,62.0 L468.1,60.9 L468.6,61.2 L469.1,59.6 L469.6,59.2 L470.1,59.2 L470.6,59.6 L471.1,59.9 L471.6,62.2 L472.1,62.2 L472.6,61.5 L473.1,62.4 L473.6,64.0 L474.1,64.1 L474.6,65.6 L475.1,66.0 L475.6,67.6 L476.1,68.4 L476.6,68.7 L477.1,69.9 L477.6,70.1 L478.1,69.7 L478.6,71.3 L479.1,72.5 L479.6,72.9 L480.1,73.2 L480.6,72.7 L481.1,73.9 L481.6,74.4 L482.1,75.2 L482.6,74.9 L483.1,75.4 L483.6,76.3 L483.6,76.3Z" fill="#34479a"/>
<line x1="384.2" y1="59.2" x2="386.1" y2="59.2" stroke="#231f20" stroke-width="0.6"/>
<line x1="384.2" y1="76.3" x2="386.1" y2="76.3" stroke="#231f20" stroke-width="0.6"/>
<text x="384.4" y="60.5" font-size="3.3" text-anchor="end" fill="#34479a" stroke="#34479a" stroke-width="0.08">12065</text>
<text x="384.4" y="77.3" font-size="3.3" text-anchor="end" fill="#34479a" stroke="#34479a" stroke-width="0.08">0</text>
<text x="370.8" y="71.0" font-size="6.4" text-anchor="end" fill="#34479a" stroke="#34479a" textLength="19.3" lengthAdjust="spacingAndGlyphs" stroke-width="0.12">shNT_2</text>
<path d="M391.6,96.1 L391.6,96.1 L392.1,83.6 L392.6,83.3 L393.1,83.1 L393.6,82.8 L394.1,83.1 L394.6,82.8 L395.1,84.4 L395.6,83.8 L396.1,83.0 L396.6,83.3 L397.1,82.7 L397.6,83.9 L398.1,83.2 L398.6,83.6 L399.1,83.1 L399.6,83.1 L400.1,84.1 L400.6,83.5 L401.1,83.2 L401.6,81.9 L402.1,81.9 L402.6,82.5 L403.1,80.9 L403.6,81.6 L404.1,80.4 L404.6,80.8 L405.1,80.6 L405.6,79.0 L406.1,79.7 L406.6,79.6 L407.1,79.0 L407.6,79.6 L408.1,81.1 L408.6,80.1 L409.1,81.0 L409.6,81.0 L410.1,82.0 L410.6,80.9 L411.1,81.6 L411.6,81.4 L412.1,81.8 L412.6,83.2 L413.1,83.4 L413.6,84.1 L414.1,90.3 L414.6,95.7 L415.1,95.7 L415.6,95.7 L416.1,95.7 L416.6,95.7 L417.1,95.7 L417.6,95.7 L418.1,95.7 L418.6,95.7 L419.1,95.7 L419.6,95.7 L420.1,95.7 L420.6,95.7 L421.1,95.7 L421.6,95.7 L422.1,95.7 L422.6,95.7 L423.1,95.7 L423.6,95.7 L424.1,95.7 L424.6,95.7 L425.1,95.7 L425.6,95.7 L426.1,95.7 L426.6,95.7 L427.1,95.7 L427.6,95.7 L428.1,95.7 L428.6,95.7 L429.1,95.7 L429.6,95.7 L430.1,95.7 L430.6,95.7 L431.1,95.7 L431.6,95.7 L432.1,95.7 L432.6,95.7 L433.1,95.7 L433.6,95.7 L434.1,95.7 L434.6,95.7 L435.1,95.7 L435.6,95.7 L436.1,95.7 L436.6,95.7 L437.1,95.7 L437.6,95.7 L438.1,95.7 L438.6,95.7 L439.1,95.7 L439.6,95.7 L440.1,95.7 L440.6,95.7 L441.1,95.7 L441.6,95.7 L442.1,95.7 L442.6,95.7 L443.1,95.7 L443.6,95.7 L444.1,95.7 L444.6,95.7 L445.1,95.7 L445.6,95.7 L446.1,95.7 L446.6,95.7 L447.1,95.7 L447.6,95.7 L448.1,95.7 L448.6,95.7 L449.1,95.7 L449.6,95.7 L450.1,95.7 L450.6,95.7 L451.1,95.7 L451.6,95.7 L452.1,95.7 L452.6,95.7 L453.1,95.7 L453.6,95.7 L454.1,84.6 L454.6,83.8 L455.1,82.9 L455.6,84.1 L456.1,83.0 L456.6,83.7 L457.1,83.7 L457.6,82.7 L458.1,83.1 L458.6,83.2 L459.1,82.8 L459.6,82.7 L460.1,84.0 L460.6,82.6 L461.1,84.4 L461.6,82.8 L462.1,82.4 L462.6,83.5 L463.1,81.9 L463.6,82.4 L464.1,81.8 L464.6,82.6 L465.1,82.4 L465.6,82.6 L466.1,81.7 L466.6,83.1 L467.1,81.5 L467.6,80.5 L468.1,79.9 L468.6,80.5 L469.1,80.0 L469.6,79.3 L470.1,79.0 L470.6,80.5 L471.1,80.1 L471.6,80.6 L472.1,81.0 L472.6,82.8 L473.1,81.9 L473.6,84.4 L474.1,84.9 L474.6,85.4 L475.1,85.6 L475.6,87.3 L476.1,87.0 L476.6,88.3 L477.1,89.4 L477.6,90.0 L478.1,90.8 L478.6,91.6 L479.1,92.0 L479.6,91.6 L480.1,91.6 L480.6,93.5 L481.1,94.2 L481.6,93.0 L482.1,94.2 L482.6,94.7 L483.1,95.2 L483.6,96.1 L483.6,96.1Z" fill="#ee1c24"/>
<line x1="384.2" y1="79.0" x2="386.1" y2="79.0" stroke="#231f20" stroke-width="0.6"/>
<line x1="384.2" y1="96.1" x2="386.1" y2="96.1" stroke="#231f20" stroke-width="0.6"/>
<text x="384.4" y="80.3" font-size="3.3" text-anchor="end" fill="#ee1c24" stroke="#ee1c24" stroke-width="0.08">5431</text>
<text x="384.4" y="97.1" font-size="3.3" text-anchor="end" fill="#ee1c24" stroke="#ee1c24" stroke-width="0.08">0</text>
<text x="370.8" y="90.8" font-size="6.4" text-anchor="end" fill="#ee1c24" stroke="#ee1c24" textLength="36.2" lengthAdjust="spacingAndGlyphs" stroke-width="0.12">shRBBP6#2_1</text>
<path d="M391.6,116.0 L391.6,116.0 L392.1,102.1 L392.6,101.8 L393.1,102.0 L393.6,102.1 L394.1,102.3 L394.6,100.8 L395.1,100.9 L395.6,100.1 L396.1,100.6 L396.6,100.3 L397.1,101.6 L397.6,101.1 L398.1,101.7 L398.6,102.8 L399.1,103.2 L399.6,103.6 L400.1,104.8 L400.6,103.8 L401.1,103.0 L401.6,103.3 L402.1,101.3 L402.6,100.3 L403.1,99.1 L403.6,99.8 L404.1,100.0 L404.6,98.9 L405.1,98.9 L405.6,99.4 L406.1,100.3 L406.6,100.4 L407.1,99.8 L407.6,100.4 L408.1,99.1 L408.6,99.7 L409.1,100.3 L409.6,99.8 L410.1,100.7 L410.6,100.0 L411.1,100.3 L411.6,101.2 L412.1,101.2 L412.6,101.3 L413.1,101.4 L413.6,101.3 L414.1,109.8 L414.6,115.6 L415.1,115.6 L415.6,115.6 L416.1,115.6 L416.6,115.6 L417.1,115.6 L417.6,115.6 L418.1,115.6 L418.6,115.6 L419.1,115.6 L419.6,115.6 L420.1,115.6 L420.6,115.6 L421.1,115.6 L421.6,115.6 L422.1,115.6 L422.6,115.6 L423.1,115.6 L423.6,115.6 L424.1,115.6 L424.6,115.6 L425.1,115.6 L425.6,115.6 L426.1,115.6 L426.6,115.6 L427.1,115.6 L427.6,115.6 L428.1,115.6 L428.6,115.6 L429.1,115.6 L429.6,115.6 L430.1,115.6 L430.6,115.6 L431.1,115.6 L431.6,115.6 L432.1,115.6 L432.6,115.6 L433.1,115.6 L433.6,115.6 L434.1,115.6 L434.6,115.6 L435.1,115.6 L435.6,115.6 L436.1,115.6 L436.6,115.6 L437.1,115.6 L437.6,115.6 L438.1,115.6 L438.6,115.6 L439.1,115.6 L439.6,115.6 L440.1,115.6 L440.6,115.6 L441.1,115.6 L441.6,115.6 L442.1,115.6 L442.6,115.6 L443.1,115.6 L443.6,115.6 L444.1,115.6 L444.6,115.6 L445.1,115.6 L445.6,115.6 L446.1,115.6 L446.6,115.6 L447.1,115.6 L447.6,115.6 L448.1,115.6 L448.6,115.6 L449.1,115.6 L449.6,115.6 L450.1,115.6 L450.6,115.6 L451.1,115.6 L451.6,115.6 L452.1,115.6 L452.6,115.6 L453.1,115.6 L453.6,115.6 L454.1,104.0 L454.6,103.2 L455.1,103.4 L455.6,103.0 L456.1,103.9 L456.6,102.6 L457.1,103.3 L457.6,103.8 L458.1,102.7 L458.6,103.1 L459.1,103.2 L459.6,102.9 L460.1,103.8 L460.6,103.8 L461.1,102.8 L461.6,102.8 L462.1,103.7 L462.6,102.1 L463.1,103.1 L463.6,102.3 L464.1,101.2 L464.6,101.4 L465.1,101.9 L465.6,102.2 L466.1,102.5 L466.6,103.2 L467.1,101.0 L467.6,101.9 L468.1,100.7 L468.6,99.7 L469.1,99.8 L469.6,98.9 L470.1,99.5 L470.6,98.9 L471.1,99.7 L471.6,100.8 L472.1,100.8 L472.6,102.0 L473.1,102.0 L473.6,103.0 L474.1,104.5 L474.6,105.6 L475.1,105.9 L475.6,107.1 L476.1,108.3 L476.6,107.8 L477.1,109.4 L477.6,109.6 L478.1,109.7 L478.6,111.3 L479.1,112.1 L479.6,112.5 L480.1,112.2 L480.6,113.1 L481.1,113.8 L481.6,113.9 L482.1,113.5 L482.6,114.6 L483.1,115.1 L483.6,116.0 L483.6,116.0Z" fill="#ee1c24"/>
<line x1="384.2" y1="98.9" x2="386.1" y2="98.9" stroke="#231f20" stroke-width="0.6"/>
<line x1="384.2" y1="116.0" x2="386.1" y2="116.0" stroke="#231f20" stroke-width="0.6"/>
<text x="384.4" y="100.2" font-size="3.3" text-anchor="end" fill="#ee1c24" stroke="#ee1c24" stroke-width="0.08">5109</text>
<text x="384.4" y="117.0" font-size="3.3" text-anchor="end" fill="#ee1c24" stroke="#ee1c24" stroke-width="0.08">0</text>
<text x="370.8" y="110.7" font-size="6.4" text-anchor="end" fill="#ee1c24" stroke="#ee1c24" textLength="36.2" lengthAdjust="spacingAndGlyphs" stroke-width="0.12">shRBBP6#2_2</text>
<line x1="386.1" y1="40.0" x2="386.1" y2="116.0" stroke="#000" stroke-width="1.3"/>
<text x="469.6" y="127.0" font-size="7" text-anchor="end" stroke="#111" stroke-width="0.08">pPAS</text>
<line x1="474.2" y1="119.3" x2="474.2" y2="129.0" stroke="#231f20" stroke-width="0.9"/>
<line x1="483.7" y1="119.3" x2="483.7" y2="129.0" stroke="#231f20" stroke-width="0.9"/>
<text x="485.7" y="127.0" font-size="7" stroke="#111" stroke-width="0.08">dPAS</text>
<line x1="477.3" y1="130.4" x2="477.3" y2="138.7" stroke="#ee1c24" stroke-width="0.9"/>
<text x="469.8" y="148.0" font-size="6.2" text-anchor="middle" stroke="#111" stroke-width="0.08" textLength="49" lengthAdjust="spacingAndGlyphs">miRNA binding site</text>
<line x1="391.6" y1="153.4" x2="483.7" y2="153.4" stroke="#231815" stroke-width="1"/>
<rect x="391.6" y="149.8" width="22.7" height="7.2" fill="#231815"/>
<rect x="454.5" y="149.8" width="15.3" height="7.2" fill="#231815"/>
<rect x="469.8" y="151.6" width="13.9" height="3.6" fill="#231815"/>
<text x="336.6" y="156.0" font-size="7" stroke="#111" stroke-width="0.08">chr8:127738237</text>
<text x="336.6" y="163.5" font-size="7" stroke="#111" stroke-width="0.08">-127741434</text>
<text x="397.7" y="167.5" font-size="6.2" text-anchor="middle" stroke="#111" stroke-width="0.08">exon</text>
<text x="432.3" y="167.5" font-size="6.2" text-anchor="middle" stroke="#111" stroke-width="0.08">intron</text>
<text x="460.6" y="167.5" font-size="6.2" text-anchor="middle" stroke="#111" stroke-width="0.08">exon</text>
<text x="482.3" y="167.5" font-size="6.2" text-anchor="middle" stroke="#111" stroke-width="0.08">3'UTR</text>
<text x="519.5" y="14.5" font-size="11" fill="#000" font-weight="bold">d</text>
<text x="608.8" y="5.9" font-size="7" text-anchor="middle" stroke="#111" stroke-width="0.05">RBBP6 knockdown</text>
<line x1="543.6" y1="9.2" x2="543.6" y2="147.7" stroke="#231f20" stroke-width="1.2"/>
<line x1="543.0" y1="147.1" x2="684.5" y2="147.1" stroke="#231f20" stroke-width="1.2"/>
<line x1="541.6" y1="34.2" x2="543.6" y2="34.2" stroke="#231f20" stroke-width="0.8"/>
<text x="538.8" y="36.7" font-size="7" text-anchor="end" stroke="#111" stroke-width="0.05">2</text>
<line x1="541.6" y1="61.5" x2="543.6" y2="61.5" stroke="#231f20" stroke-width="0.8"/>
<text x="538.8" y="64.0" font-size="7" text-anchor="end" stroke="#111" stroke-width="0.05">1</text>
<line x1="541.6" y1="88.8" x2="543.6" y2="88.8" stroke="#231f20" stroke-width="0.8"/>
<text x="538.8" y="91.3" font-size="7" text-anchor="end" stroke="#111" stroke-width="0.05">0</text>
<line x1="541.6" y1="116.1" x2="543.6" y2="116.1" stroke="#231f20" stroke-width="0.8"/>
<text x="538.8" y="118.6" font-size="7" text-anchor="end" stroke="#111" stroke-width="0.05">−1</text>
<line x1="541.6" y1="143.4" x2="543.6" y2="143.4" stroke="#231f20" stroke-width="0.8"/>
<text x="538.8" y="145.9" font-size="7" text-anchor="end" stroke="#111" stroke-width="0.05">−2</text>
<text x="528.6" y="86.7" font-size="7" text-anchor="middle" stroke="#111" stroke-width="0.05" transform="rotate(-90 528.6 86.7)">Expression change log2 (case/control)</text>
<line x1="581.2" y1="60.0" x2="581.2" y2="79.3" stroke="#2a35cc" stroke-width="1.2"/>
<line x1="581.2" y1="95.1" x2="581.2" y2="117.0" stroke="#2a35cc" stroke-width="1.2"/>
<rect x="564.9" y="79.3" width="32.6" height="15.8" fill="none" stroke="#2a35cc" stroke-width="1.3"/>
<line x1="564.9" y1="86.7" x2="597.5" y2="86.7" stroke="#2a35cc" stroke-width="1.3"/>
<rect x="580.2" y="33.0" width="2.0" height="1.6" fill="#2a35cc"/>
<rect x="580.2" y="37.7" width="2.0" height="1.6" fill="#2a35cc"/>
<rect x="580.2" y="39.5" width="2.0" height="1.6" fill="#2a35cc"/>
<rect x="580.2" y="46.7" width="2.0" height="1.6" fill="#2a35cc"/>
<rect x="580.2" y="48.7" width="2.0" height="1.6" fill="#2a35cc"/>
<rect x="580.2" y="51.7" width="2.0" height="1.6" fill="#2a35cc"/>
<rect x="580.2" y="54.5" width="2.0" height="1.6" fill="#2a35cc"/>
<rect x="580.2" y="117.2" width="2.0" height="1.6" fill="#2a35cc"/>
<rect x="580.2" y="119.7" width="2.0" height="1.6" fill="#2a35cc"/>
<rect x="580.2" y="121.2" width="2.0" height="1.6" fill="#2a35cc"/>
<rect x="580.2" y="125.2" width="2.0" height="1.6" fill="#2a35cc"/>
<rect x="580.2" y="127.5" width="2.0" height="1.6" fill="#2a35cc"/>
<rect x="580.2" y="140.0" width="2.0" height="1.6" fill="#2a35cc"/>
<rect x="580.2" y="141.2" width="2.0" height="1.6" fill="#2a35cc"/>
<line x1="644.8" y1="78.3" x2="644.8" y2="86.7" stroke="#e8202a" stroke-width="1.2"/>
<line x1="644.8" y1="94.1" x2="644.8" y2="103.8" stroke="#e8202a" stroke-width="1.2"/>
<rect x="628.5" y="86.7" width="32.3" height="7.4" fill="none" stroke="#e8202a" stroke-width="1.3"/>
<line x1="628.5" y1="89.9" x2="660.8" y2="89.9" stroke="#e8202a" stroke-width="1.3"/>
<line x1="543.6" y1="88.8" x2="685.0" y2="88.8" stroke="#3a3a3a" stroke-width="1.7" stroke-dasharray="5.2,3"/>
<path d="M581.2,25.8 V22.3 H644.8 V25.8" fill="none" stroke="#4d4d4d" stroke-width="0.8"/>
<text x="616.7" y="20.3" font-size="7" text-anchor="middle"><tspan font-style="italic">p</tspan> = 0.0008</text>
<text x="561.5" y="159.6" font-size="7" stroke="#111" stroke-width="0.05">514  control</text>
<text x="561.5" y="168.0" font-size="7" stroke="#111" stroke-width="0.05">oncogenes</text>
<text x="620.6" y="159.6" font-size="7" stroke="#111" stroke-width="0.05">37 3'US ceRNA</text>
<text x="620.6" y="168.0" font-size="7" stroke="#111" stroke-width="0.05">oncogenes</text>
<text x="21.0" y="210.2" font-size="11" fill="#000" font-weight="bold">e</text>
<text x="145.4" y="209.0" font-size="7" text-anchor="middle" stroke="#111" stroke-width="0.05">Oncogenes with top 1% MAT3UTR score</text>
<circle cx="117.3" cy="229.5" r="7.6" fill="#9c9dcc"/>
<text x="98.1" y="232.0" font-size="7" text-anchor="end" stroke="#111" stroke-width="0.05">MYC</text>
<circle cx="117.3" cy="247.1" r="5.0" fill="#d5d5ea"/>
<text x="95.5" y="249.6" font-size="7" text-anchor="end" stroke="#111" stroke-width="0.05">PRPF8</text>
<circle cx="117.3" cy="258.9" r="3.5" fill="#e3e3f0"/>
<text x="96.8" y="261.4" font-size="7" text-anchor="end" stroke="#111" stroke-width="0.05">E2F1</text>
<circle cx="117.3" cy="270.7" r="2.9" fill="#3c4a9c"/>
<text x="98.1" y="273.2" font-size="7" text-anchor="end" stroke="#111" stroke-width="0.05">MYB</text>
<circle cx="117.3" cy="283.3" r="2.4" fill="#f47a5f"/>
<text x="96.8" y="285.8" font-size="7" text-anchor="end" stroke="#111" stroke-width="0.05">KIF23</text>
<circle cx="117.3" cy="295.1" r="4.9" fill="#f15a40"/>
<text x="96.3" y="297.6" font-size="7" text-anchor="end" stroke="#111" stroke-width="0.05">BICD2</text>
<circle cx="117.3" cy="310.9" r="6.8" fill="#ee0a0a"/>
<text x="93.6" y="313.4" font-size="7" text-anchor="end" stroke="#111" stroke-width="0.05">TNRC6A</text>
<rect x="156.7" y="221.6" width="71.5" height="61.7" fill="none" stroke="#231f20" stroke-width="1"/>
<text x="161.2" y="231.5" font-size="7" stroke="#111" stroke-width="0.05">-log10(padj)</text>
<circle cx="173.5" cy="242.6" r="4.3" fill="#000"/>
<circle cx="173.5" cy="255.7" r="6.2" fill="#000"/>
<circle cx="173.5" cy="272.8" r="7.5" fill="#000"/>
<text x="186.1" y="245.1" font-size="7" stroke="#111" stroke-width="0.05">50</text>
<text x="184.0" y="259.5" font-size="7" stroke="#111" stroke-width="0.05">100</text>
<text x="186.1" y="277.4" font-size="7" stroke="#111" stroke-width="0.05">150</text>
<rect x="156.7" y="289.9" width="71.5" height="32.8" fill="none" stroke="#231f20" stroke-width="1"/>
<text x="162.0" y="299.5" font-size="7" stroke="#111" stroke-width="0.05">Log2FoldChange</text>
<defs><linearGradient id="lfc" x1="0" x2="1" y1="0" y2="0"><stop offset="0" stop-color="#3b4ba0"/><stop offset="0.35" stop-color="#b4b8dc"/><stop offset="0.62" stop-color="#ffffff"/><stop offset="0.8" stop-color="#f7a090"/><stop offset="1" stop-color="#ee1111"/></linearGradient></defs>
<rect x="173.5" y="308.3" width="28.4" height="5.2" fill="url(#lfc)"/>
<text x="171.9" y="321.6" font-size="6.5" text-anchor="middle" stroke="#111" stroke-width="0.05">−2</text>
<text x="181.9" y="321.6" font-size="6.5" text-anchor="middle" stroke="#111" stroke-width="0.05">−1</text>
<text x="190.0" y="321.6" font-size="6.5" text-anchor="middle" stroke="#111" stroke-width="0.05">0</text>
<text x="199.9" y="321.6" font-size="6.5" text-anchor="middle" stroke="#111" stroke-width="0.05">1</text>
<text x="406.2" y="210.0" font-size="11" fill="#000" font-weight="bold">f</text>
<text x="347.6" y="222.9" font-size="7">3’ UTR length regulator</text>
<ellipse cx="381.2" cy="234.9" rx="28.2" ry="8.2" fill="#7f9fd4"/>
<text x="364.7" y="234.1" font-size="7" fill="#eef2fb">RBBP6</text>
<text x="364.7" y="242.0" font-size="7" fill="#eef2fb">Expression</text>
<path d="M413.2,227.8 L424.3,232.4 L413.2,237.0 L415.2,232.4Z" fill="#0a3796"/>
<line x1="410.5" y1="232.4" x2="416.0" y2="232.4" stroke="#0a3796" stroke-width="1.5"/>
<ellipse cx="430.8" cy="232.3" rx="4" ry="2.4" fill="#231815"/>
<path d="M431.6,231.9 C433.1,230.5 433.6,228.8 435.1,228.7 L437.8,228.4 A1.35,1.35 0 0 1 437.8,231.1 L435.1,231.2 C434.1,231.3 433.6,232.8 432.6,233.3Z" fill="#231815"/>
<rect x="440.3" y="223.9" width="37.3" height="21.0" fill="#fff" stroke="#231f20" stroke-width="1"/>
<text x="443.3" y="232.2" font-size="7">ZNF281,</text>
<text x="443.3" y="241.2" font-size="7">DNMT3B..</text>
<text x="433.0" y="217.6" font-size="7">3’ UTR lengthening</text>
<text x="346.3" y="296.8" font-size="7">3’ UTR length regulator</text>
<ellipse cx="381.2" cy="311.0" rx="28.2" ry="8.2" fill="#7f9fd4"/>
<text x="366.8" y="310.2" font-size="7" fill="#eef2fb">RBBP6</text>
<text x="366.8" y="318.1" font-size="7" fill="#eef2fb">Depletion</text>
<path d="M413.2,304.0 L424.3,308.6 L413.2,313.2 L415.2,308.6Z" fill="#0a3796"/>
<line x1="410.5" y1="308.6" x2="416.0" y2="308.6" stroke="#0a3796" stroke-width="1.5"/>
<ellipse cx="430.8" cy="305.2" rx="4" ry="2.4" fill="#231815"/>
<path d="M431.6,304.8 C433.1,303.4 433.6,301.7 435.1,301.6 L437.8,301.3 A1.35,1.35 0 0 1 437.8,304.0 L435.1,304.1 C434.1,304.2 433.6,305.7 432.6,306.2Z" fill="#231815"/>
<rect x="440.3" y="296.8" width="37.3" height="21.0" fill="#fff" stroke="#231f20" stroke-width="1"/>
<text x="443.3" y="305.1" font-size="7">ZNF281,</text>
<text x="443.3" y="314.1" font-size="7">DNMT3B..</text>
<text x="434.8" y="293.6" font-size="7">3’ UTR shortening</text>
<rect x="479.0" y="240.1" width="6.3" height="2.3" fill="#231815"/>
<rect x="486.1" y="240.1" width="6.6" height="2.3" fill="#231815"/>
<rect x="496.1" y="240.1" width="4.4" height="2.3" fill="#231815"/>
<rect x="501.2" y="240.1" width="4.1" height="2.3" fill="#231815"/>
<rect x="505.3" y="240.1" width="3.9" height="2.4" fill="#7b2d9a"/>
<rect x="511.4" y="240.1" width="3.9" height="2.4" fill="#7b2d9a"/>
<rect x="517.5" y="240.1" width="3.9" height="2.4" fill="#7b2d9a"/>
<rect x="507.8" y="237.0" width="7.2" height="2.8" fill="#e8141e"/>
<rect x="515.4" y="237.0" width="6.2" height="2.8" fill="#e8141e"/>
<path d="M508.6,234.2 Q514.7,228.4 520.8,234.2" fill="none" stroke="#e8141e" stroke-width="1.3"/>
<line x1="510.1" y1="233.2" x2="510.1" y2="237.3" stroke="#e8141e" stroke-width="1.2"/>
<line x1="515.0" y1="232.2" x2="515.0" y2="237.3" stroke="#e8141e" stroke-width="1.2"/>
<line x1="519.3" y1="233.2" x2="519.3" y2="237.3" stroke="#e8141e" stroke-width="1.2"/>
<text x="525.0" y="241.5" font-size="7.6" fill="#3a3a3a" transform="rotate(-36 525.0 241.5)">AAn</text>
<rect x="537.1" y="233.3" width="37.3" height="8.2" fill="#fff" stroke="#e8141e" stroke-width="1"/>
<text x="555.8" y="239.9" font-size="7" text-anchor="middle" fill="#e8141e">miR-590...</text>
<rect x="544.3" y="229.9" width="7.5" height="2.8" fill="#e8141e"/>
<rect x="552.2" y="229.9" width="6.5" height="2.8" fill="#e8141e"/>
<path d="M545.2,227.1 Q551.5,221.3 557.8,227.1" fill="none" stroke="#e8141e" stroke-width="1.3"/>
<line x1="546.7" y1="226.1" x2="546.7" y2="230.2" stroke="#e8141e" stroke-width="1.2"/>
<line x1="551.8" y1="225.1" x2="551.8" y2="230.2" stroke="#e8141e" stroke-width="1.2"/>
<line x1="556.3" y1="226.1" x2="556.3" y2="230.2" stroke="#e8141e" stroke-width="1.2"/>
<rect x="479.0" y="312.2" width="6.3" height="2.3" fill="#231815"/>
<rect x="486.1" y="312.2" width="6.6" height="2.3" fill="#231815"/>
<rect x="496.1" y="312.2" width="4.4" height="2.3" fill="#231815"/>
<rect x="501.2" y="312.2" width="4.1" height="2.3" fill="#231815"/>
<text x="508.0" y="314.5" font-size="7.6" fill="#3a3a3a" transform="rotate(-36 508.0 314.5)">AAn</text>
<rect x="537.1" y="304.7" width="37.3" height="8.2" fill="#fff" stroke="#e8141e" stroke-width="1"/>
<text x="555.8" y="311.3" font-size="7" text-anchor="middle" fill="#e8141e">miR-590...</text>
<rect x="544.3" y="301.2" width="7.5" height="2.8" fill="#e8141e"/>
<rect x="552.2" y="301.2" width="6.5" height="2.8" fill="#e8141e"/>
<path d="M545.2,298.4 Q551.5,292.6 557.8,298.4" fill="none" stroke="#e8141e" stroke-width="1.3"/>
<line x1="546.7" y1="297.4" x2="546.7" y2="301.5" stroke="#e8141e" stroke-width="1.2"/>
<line x1="551.8" y1="296.4" x2="551.8" y2="301.5" stroke="#e8141e" stroke-width="1.2"/>
<line x1="556.3" y1="297.4" x2="556.3" y2="301.5" stroke="#e8141e" stroke-width="1.2"/>
<ellipse cx="591.8" cy="233.3" rx="4" ry="2.4" fill="#231815"/>
<path d="M592.6,232.9 C594.1,231.5 594.6,229.8 596.1,229.7 L598.8,229.4 A1.35,1.35 0 0 1 598.8,232.1 L596.1,232.2 C595.1,232.3 594.6,233.8 593.6,234.3Z" fill="#231815"/>
<rect x="599.4" y="225.4" width="15.4" height="8.2" fill="#f7a574"/>
<text x="607.1" y="232.2" font-size="7" text-anchor="middle" fill="#e8731e">MYC</text>
<rect x="614.8" y="228.2" width="36.5" height="2.3" fill="#231815"/>
<rect x="629.7" y="228.2" width="3.9" height="2.4" fill="#7b2d9a"/>
<rect x="635.8" y="228.2" width="3.9" height="2.4" fill="#7b2d9a"/>
<rect x="641.9" y="228.2" width="3.9" height="2.4" fill="#7b2d9a"/>
<rect x="632.6" y="225.2" width="7.5" height="2.8" fill="#e8141e"/>
<rect x="640.5" y="225.2" width="6.5" height="2.8" fill="#e8141e"/>
<path d="M633.5,222.4 Q639.8,216.6 646.1,222.4" fill="none" stroke="#e8141e" stroke-width="1.3"/>
<line x1="635.0" y1="221.4" x2="635.0" y2="225.5" stroke="#e8141e" stroke-width="1.2"/>
<line x1="640.1" y1="220.4" x2="640.1" y2="225.5" stroke="#e8141e" stroke-width="1.2"/>
<line x1="644.6" y1="221.4" x2="644.6" y2="225.5" stroke="#e8141e" stroke-width="1.2"/>
<text x="652.5" y="230.7" font-size="7.6" fill="#3a3a3a" transform="rotate(-36 652.5 230.7)">AAn</text>
<rect x="645.6" y="210.2" width="37.2" height="8.2" fill="#fff" stroke="#e8141e" stroke-width="1"/>
<text x="664.2" y="216.8" font-size="7" text-anchor="middle" fill="#e8141e">miR-590...</text>
<ellipse cx="591.8" cy="306.3" rx="4" ry="2.4" fill="#231815"/>
<path d="M592.6,305.9 C594.1,304.5 594.6,302.8 596.1,302.7 L598.8,302.4 A1.35,1.35 0 0 1 598.8,305.1 L596.1,305.2 C595.1,305.3 594.6,306.8 593.6,307.3Z" fill="#231815"/>
<rect x="599.4" y="296.8" width="15.4" height="8.2" fill="#f7a574"/>
<text x="607.1" y="303.6" font-size="7" text-anchor="middle" fill="#e8731e">MYC</text>
<rect x="614.8" y="299.6" width="36.5" height="2.3" fill="#231815"/>
<rect x="629.7" y="299.6" width="3.9" height="2.4" fill="#7b2d9a"/>
<rect x="635.8" y="299.6" width="3.9" height="2.4" fill="#7b2d9a"/>
<rect x="641.9" y="299.6" width="3.9" height="2.4" fill="#7b2d9a"/>
<rect x="632.6" y="296.6" width="7.5" height="2.8" fill="#e8141e"/>
<rect x="640.5" y="296.6" width="6.5" height="2.8" fill="#e8141e"/>
<path d="M633.5,293.8 Q639.8,288.0 646.1,293.8" fill="none" stroke="#e8141e" stroke-width="1.3"/>
<line x1="635.0" y1="292.8" x2="635.0" y2="296.9" stroke="#e8141e" stroke-width="1.2"/>
<line x1="640.1" y1="291.8" x2="640.1" y2="296.9" stroke="#e8141e" stroke-width="1.2"/>
<line x1="644.6" y1="292.8" x2="644.6" y2="296.9" stroke="#e8141e" stroke-width="1.2"/>
<text x="652.5" y="302.1" font-size="7.6" fill="#3a3a3a" transform="rotate(-36 652.5 302.1)">AAn</text>
<rect x="644.8" y="281.4" width="35.0" height="8.2" fill="#fff" stroke="#e8141e" stroke-width="1"/>
<text x="662.3" y="288.0" font-size="7" text-anchor="middle" fill="#e8141e">miR-590...</text>
<path d="M545.3,222.6 C544,205 522,202 517.4,223.5" fill="none" stroke="#1e9fe2" stroke-width="2.6"/>
<line x1="520.3" y1="225.4" x2="514.5" y2="223.8" stroke="#1e9fe2" stroke-width="2"/>
<text x="534.3" y="202.4" font-size="7" text-anchor="middle" fill="#2b59b8">Cis</text>
<path d="M560.4,222.6 C566,187 629,187 634.6,215.2" fill="none" stroke="#1e9fe2" stroke-width="2.6"/>
<line x1="637.6" y1="215.7" x2="631.6" y2="216.7" stroke="#1e9fe2" stroke-width="2"/>
<text x="601.2" y="192.0" font-size="7" text-anchor="middle" fill="#2b59b8">Trans</text>
<path d="M543.8,294.3 C543,273 520,272 516,296.6" fill="none" stroke="#1e9fe2" stroke-width="2.6"/>
<line x1="518.9" y1="298.2" x2="512.9" y2="297.2" stroke="#1e9fe2" stroke-width="2"/>
<text x="534.3" y="274.8" font-size="7" text-anchor="middle" fill="#2b59b8">Cis</text>
<line x1="530.3" y1="276.6" x2="535.3" y2="281.4" stroke="#e8141e" stroke-width="2"/>
<line x1="535.3" y1="276.6" x2="530.3" y2="281.4" stroke="#e8141e" stroke-width="2"/>
<path d="M561,294.3 C567,259.5 628,259.5 633.8,287.6" fill="none" stroke="#1e9fe2" stroke-width="2.6"/>
<line x1="636.8" y1="288.1" x2="630.8" y2="289.1" stroke="#1e9fe2" stroke-width="2"/>
<text x="601.2" y="264.4" font-size="7" text-anchor="middle" fill="#2b59b8">Trans</text>
<line x1="620.0" y1="270.5" x2="620.0" y2="258.0" stroke="#c0122a" stroke-width="1.6"/>
<path d="M615,262 L620,251.6 L625,262 L620,259.5Z" fill="#c0122a"/>
<line x1="505.2" y1="329.1" x2="512.4" y2="329.1" stroke="#1e9fe2" stroke-width="2.2"/>
<line x1="512.2" y1="327.3" x2="512.2" y2="330.9" stroke="#1e9fe2" stroke-width="1.4"/>
<text x="512.4" y="331.5" font-size="7">Inhibiton</text>
<rect x="550.0" y="327.9" width="5.4" height="2.4" fill="#7b2d9a"/>
<text x="557.3" y="331.5" font-size="7">miRNA binding site</text>
<text x="20.4" y="349.3" font-size="11" fill="#000" font-weight="bold">g</text>
<text x="122.6" y="346.7" font-size="5.9" text-anchor="middle" stroke="#111" stroke-width="0.08">ΔPDUI = -0.225</text>
<text x="67.2" y="367.4" font-size="4.9" stroke="#111" stroke-width="0.08">ZNF281</text>
<line x1="113.0" y1="365.6" x2="156.8" y2="365.6" stroke="#231f20" stroke-width="0.8"/>
<line x1="113.0" y1="363.6" x2="113.0" y2="367.6" stroke="#231f20" stroke-width="0.8"/>
<line x1="156.8" y1="363.6" x2="156.8" y2="367.6" stroke="#231f20" stroke-width="0.8"/>
<text x="134.9" y="363.2" font-size="5.5" text-anchor="middle" stroke="#111" stroke-width="0.08">2 kb</text>
<path d="M75.9,394.0 L75.9,394.0 L76.4,375.6 L76.9,375.7 L77.4,375.6 L77.9,376.1 L78.4,378.8 L78.9,379.6 L79.4,379.6 L79.9,379.8 L80.4,380.5 L80.9,381.4 L81.4,381.1 L81.9,380.2 L82.4,382.0 L82.9,381.8 L83.4,380.8 L83.9,381.8 L84.4,382.4 L84.9,382.4 L85.4,381.4 L85.9,382.6 L86.4,382.6 L86.9,382.4 L87.4,382.2 L87.9,382.9 L88.4,383.8 L88.9,383.0 L89.4,384.1 L89.9,384.1 L90.4,384.1 L90.9,383.3 L91.4,384.1 L91.9,383.5 L92.4,384.9 L92.9,385.4 L93.4,386.0 L93.9,385.2 L94.4,385.4 L94.9,387.1 L95.4,387.3 L95.9,387.8 L96.4,386.9 L96.9,387.7 L97.4,388.1 L97.9,387.0 L98.4,386.3 L98.9,385.7 L99.4,385.5 L99.9,383.8 L100.4,383.6 L100.9,383.6 L101.4,383.9 L101.9,382.3 L102.4,382.2 L102.9,382.3 L103.4,381.9 L103.9,382.8 L104.4,383.5 L104.9,384.1 L105.4,383.4 L105.9,383.8 L106.4,383.8 L106.9,382.6 L107.4,382.6 L107.9,383.7 L108.4,382.1 L108.9,383.5 L109.4,382.0 L109.9,382.4 L110.4,381.7 L110.9,381.5 L111.4,382.4 L111.9,382.1 L112.4,383.6 L112.9,382.6 L113.4,384.0 L113.9,383.7 L114.4,384.3 L114.9,385.1 L115.4,384.3 L115.9,385.8 L116.4,385.3 L116.9,385.3 L117.4,383.8 L117.9,384.1 L118.4,384.2 L118.9,383.9 L119.4,383.7 L119.9,383.5 L120.4,384.7 L120.9,385.0 L121.4,384.1 L121.9,384.7 L122.4,385.3 L122.9,384.7 L123.4,384.8 L123.9,384.3 L124.4,383.8 L124.9,383.9 L125.4,383.5 L125.9,382.9 L126.4,382.2 L126.9,381.2 L127.4,380.1 L127.9,380.0 L128.4,379.9 L128.9,380.3 L129.4,379.5 L129.9,378.2 L130.4,378.1 L130.9,376.8 L131.4,376.2 L131.9,376.9 L132.4,377.7 L132.9,378.7 L133.4,378.9 L133.9,380.8 L134.4,381.4 L134.9,381.2 L135.4,382.5 L135.9,381.7 L136.4,383.1 L136.9,382.6 L137.4,383.6 L137.9,384.6 L138.4,384.2 L138.9,385.4 L139.4,384.6 L139.9,385.6 L140.4,386.4 L140.9,386.2 L141.4,387.5 L141.9,385.6 L142.4,385.0 L142.9,385.0 L143.4,383.7 L143.9,381.6 L144.4,382.2 L144.9,379.9 L145.4,381.0 L145.9,379.0 L146.4,379.6 L146.9,380.6 L147.4,380.8 L147.9,381.5 L148.4,382.5 L148.9,383.2 L149.4,384.3 L149.9,383.9 L150.4,384.1 L150.9,385.7 L151.4,385.5 L151.9,386.7 L152.4,386.4 L152.9,384.8 L153.4,384.0 L153.9,385.0 L154.4,383.0 L154.9,383.4 L155.4,382.2 L155.9,382.8 L156.4,381.2 L156.9,382.1 L157.4,382.0 L157.9,382.0 L158.4,381.5 L158.9,381.3 L159.4,379.7 L159.9,380.8 L160.4,380.4 L160.9,379.8 L161.4,379.8 L161.9,378.5 L162.4,379.8 L162.9,378.4 L163.4,378.8 L163.9,379.1 L164.4,379.4 L164.9,379.9 L165.4,381.3 L165.9,382.0 L166.4,383.0 L166.9,383.7 L167.4,384.3 L167.9,386.0 L168.4,386.4 L168.9,387.2 L169.4,387.3 L169.9,385.8 L170.4,386.4 L170.9,384.9 L171.4,384.5 L171.9,384.9 L172.4,384.7 L172.9,385.2 L173.4,386.6 L173.9,387.7 L174.4,387.3 L174.9,387.8 L175.4,389.0 L175.9,389.8 L176.4,390.2 L176.9,390.7 L177.4,391.4 L177.9,392.2 L178.4,392.9 L178.9,393.5 L178.9,394.0Z" fill="#34479a"/>
<path d="M70.5,394.0 L71.1,385.7 L71.7,394.0Z" fill="#34479a"/>
<line x1="69.0" y1="394.0" x2="75.9" y2="394.0" stroke="#34479a" stroke-width="0.5"/>
<line x1="62.6" y1="375.6" x2="64.5" y2="375.6" stroke="#231f20" stroke-width="0.6"/>
<line x1="62.6" y1="394.0" x2="64.5" y2="394.0" stroke="#231f20" stroke-width="0.6"/>
<text x="62.6" y="376.9" font-size="3.3" text-anchor="end" fill="#34479a" stroke="#34479a" stroke-width="0.08">202</text>
<text x="62.6" y="395.0" font-size="3.3" text-anchor="end" fill="#34479a" stroke="#34479a" stroke-width="0.08">0</text>
<text x="48.8" y="388.4" font-size="6.1" text-anchor="end" fill="#34479a" stroke="#34479a" textLength="19.5" lengthAdjust="spacingAndGlyphs" stroke-width="0.12">shNT_1</text>
<path d="M75.9,414.1 L75.9,414.1 L76.4,401.4 L76.9,399.6 L77.4,399.0 L77.9,398.5 L78.4,398.2 L78.9,396.3 L79.4,395.5 L79.9,395.8 L80.4,396.6 L80.9,397.9 L81.4,399.2 L81.9,399.3 L82.4,399.6 L82.9,401.3 L83.4,400.6 L83.9,402.4 L84.4,402.3 L84.9,402.3 L85.4,400.2 L85.9,400.4 L86.4,399.8 L86.9,400.0 L87.4,401.1 L87.9,400.7 L88.4,400.6 L88.9,401.5 L89.4,400.1 L89.9,401.3 L90.4,402.1 L90.9,401.3 L91.4,403.1 L91.9,402.1 L92.4,403.4 L92.9,403.7 L93.4,404.5 L93.9,404.6 L94.4,405.5 L94.9,406.1 L95.4,405.0 L95.9,406.5 L96.4,405.8 L96.9,407.1 L97.4,405.3 L97.9,405.0 L98.4,404.8 L98.9,404.3 L99.4,404.2 L99.9,403.5 L100.4,404.2 L100.9,403.1 L101.4,402.0 L101.9,402.7 L102.4,400.9 L102.9,400.5 L103.4,401.5 L103.9,401.9 L104.4,402.0 L104.9,402.5 L105.4,401.6 L105.9,403.1 L106.4,403.4 L106.9,402.9 L107.4,401.2 L107.9,400.3 L108.4,400.7 L108.9,400.3 L109.4,400.6 L109.9,400.8 L110.4,402.4 L110.9,402.3 L111.4,403.0 L111.9,403.5 L112.4,404.3 L112.9,404.2 L113.4,403.7 L113.9,402.5 L114.4,403.4 L114.9,402.8 L115.4,403.1 L115.9,403.1 L116.4,402.9 L116.9,401.2 L117.4,400.9 L117.9,401.4 L118.4,400.9 L118.9,401.2 L119.4,401.0 L119.9,401.2 L120.4,402.4 L120.9,401.6 L121.4,401.5 L121.9,402.0 L122.4,401.2 L122.9,401.6 L123.4,401.6 L123.9,401.6 L124.4,400.8 L124.9,402.5 L125.4,403.2 L125.9,402.3 L126.4,402.8 L126.9,403.8 L127.4,402.7 L127.9,403.6 L128.4,402.6 L128.9,401.9 L129.4,401.0 L129.9,400.9 L130.4,400.7 L130.9,399.9 L131.4,398.5 L131.9,398.1 L132.4,398.2 L132.9,398.4 L133.4,399.1 L133.9,398.3 L134.4,399.5 L134.9,399.6 L135.4,401.4 L135.9,401.5 L136.4,400.9 L136.9,401.6 L137.4,402.1 L137.9,403.2 L138.4,404.2 L138.9,404.5 L139.4,403.8 L139.9,404.3 L140.4,403.4 L140.9,403.4 L141.4,402.1 L141.9,403.0 L142.4,401.4 L142.9,400.6 L143.4,402.0 L143.9,400.7 L144.4,400.3 L144.9,399.6 L145.4,400.4 L145.9,401.4 L146.4,401.6 L146.9,401.1 L147.4,401.6 L147.9,403.5 L148.4,403.4 L148.9,403.1 L149.4,403.0 L149.9,401.9 L150.4,402.1 L150.9,400.5 L151.4,401.2 L151.9,402.6 L152.4,402.3 L152.9,403.2 L153.4,403.3 L153.9,404.3 L154.4,404.0 L154.9,403.3 L155.4,402.4 L155.9,401.1 L156.4,400.8 L156.9,401.1 L157.4,400.0 L157.9,400.0 L158.4,400.5 L158.9,400.8 L159.4,402.6 L159.9,402.0 L160.4,402.4 L160.9,400.7 L161.4,401.3 L161.9,399.8 L162.4,400.2 L162.9,398.9 L163.4,399.8 L163.9,400.5 L164.4,400.1 L164.9,400.5 L165.4,401.1 L165.9,404.3 L166.4,406.0 L166.9,408.0 L167.4,407.8 L167.9,409.5 L168.4,408.8 L168.9,409.1 L169.4,408.8 L169.9,408.6 L170.4,409.9 L170.9,409.4 L171.4,409.8 L171.9,409.9 L172.4,411.0 L172.9,409.8 L173.4,409.7 L173.9,411.2 L174.4,411.6 L174.9,410.6 L175.4,412.6 L175.9,413.0 L176.4,413.3 L176.9,412.7 L177.4,413.0 L177.9,413.3 L178.4,413.6 L178.9,413.9 L178.9,414.1Z" fill="#34479a"/>
<path d="M70.5,414.1 L71.1,405.7 L71.7,414.1Z" fill="#34479a"/>
<line x1="69.0" y1="414.1" x2="75.9" y2="414.1" stroke="#34479a" stroke-width="0.5"/>
<line x1="62.6" y1="395.5" x2="64.5" y2="395.5" stroke="#231f20" stroke-width="0.6"/>
<line x1="62.6" y1="414.1" x2="64.5" y2="414.1" stroke="#231f20" stroke-width="0.6"/>
<text x="62.6" y="396.8" font-size="3.3" text-anchor="end" fill="#34479a" stroke="#34479a" stroke-width="0.08">208</text>
<text x="62.6" y="415.1" font-size="3.3" text-anchor="end" fill="#34479a" stroke="#34479a" stroke-width="0.08">0</text>
<text x="48.8" y="408.4" font-size="6.1" text-anchor="end" fill="#34479a" stroke="#34479a" textLength="19.5" lengthAdjust="spacingAndGlyphs" stroke-width="0.12">shNT_2</text>
<path d="M75.9,434.4 L75.9,434.4 L76.4,418.0 L76.9,418.8 L77.4,418.3 L77.9,415.7 L78.4,416.5 L78.9,416.6 L79.4,416.6 L79.9,418.3 L80.4,418.5 L80.9,420.9 L81.4,420.7 L81.9,423.1 L82.4,422.2 L82.9,420.9 L83.4,420.7 L83.9,419.5 L84.4,421.3 L84.9,424.4 L85.4,424.7 L85.9,427.2 L86.4,427.9 L86.9,427.8 L87.4,426.2 L87.9,426.4 L88.4,425.4 L88.9,425.4 L89.4,425.1 L89.9,426.0 L90.4,425.9 L90.9,426.2 L91.4,427.1 L91.9,425.9 L92.4,426.9 L92.9,425.7 L93.4,425.0 L93.9,425.3 L94.4,426.0 L94.9,424.3 L95.4,424.5 L95.9,425.2 L96.4,425.3 L96.9,424.2 L97.4,425.0 L97.9,423.2 L98.4,424.1 L98.9,424.2 L99.4,424.6 L99.9,424.2 L100.4,423.9 L100.9,425.2 L101.4,424.9 L101.9,424.2 L102.4,424.4 L102.9,423.5 L103.4,423.3 L103.9,423.2 L104.4,422.5 L104.9,422.7 L105.4,423.3 L105.9,421.5 L106.4,422.5 L106.9,422.2 L107.4,422.0 L107.9,420.7 L108.4,420.3 L108.9,420.8 L109.4,420.7 L109.9,421.0 L110.4,419.8 L110.9,421.6 L111.4,421.4 L111.9,422.2 L112.4,422.8 L112.9,423.2 L113.4,424.0 L113.9,424.7 L114.4,424.3 L114.9,424.2 L115.4,425.0 L115.9,426.3 L116.4,425.1 L116.9,425.8 L117.4,424.7 L117.9,423.4 L118.4,422.8 L118.9,423.2 L119.4,422.7 L119.9,423.9 L120.4,424.3 L120.9,424.6 L121.4,424.3 L121.9,425.3 L122.4,425.8 L122.9,425.1 L123.4,425.1 L123.9,425.5 L124.4,424.6 L124.9,424.3 L125.4,425.1 L125.9,424.9 L126.4,427.1 L126.9,426.7 L127.4,426.9 L127.9,428.0 L128.4,428.1 L128.9,426.8 L129.4,427.0 L129.9,427.0 L130.4,427.1 L130.9,425.0 L131.4,426.4 L131.9,427.1 L132.4,427.3 L132.9,427.5 L133.4,426.7 L133.9,428.3 L134.4,428.3 L134.9,428.8 L135.4,428.3 L135.9,428.9 L136.4,428.8 L136.9,428.2 L137.4,427.6 L137.9,427.5 L138.4,428.7 L138.9,427.7 L139.4,426.5 L139.9,427.8 L140.4,427.7 L140.9,427.7 L141.4,428.4 L141.9,428.1 L142.4,428.7 L142.9,429.6 L143.4,429.9 L143.9,429.6 L144.4,429.2 L144.9,429.3 L145.4,427.8 L145.9,428.5 L146.4,427.1 L146.9,427.8 L147.4,429.0 L147.9,428.4 L148.4,428.3 L148.9,429.5 L149.4,428.2 L149.9,428.4 L150.4,426.4 L150.9,427.2 L151.4,425.4 L151.9,424.1 L152.4,423.7 L152.9,424.9 L153.4,425.3 L153.9,427.1 L154.4,427.8 L154.9,427.8 L155.4,428.2 L155.9,429.9 L156.4,429.4 L156.9,429.0 L157.4,430.1 L157.9,429.0 L158.4,428.8 L158.9,429.3 L159.4,429.5 L159.9,428.4 L160.4,428.9 L160.9,429.3 L161.4,429.2 L161.9,429.6 L162.4,428.5 L162.9,429.3 L163.4,429.1 L163.9,429.0 L164.4,428.7 L164.9,430.2 L165.4,429.8 L165.9,428.9 L166.4,429.2 L166.9,429.9 L167.4,429.5 L167.9,430.5 L168.4,430.7 L168.9,431.1 L169.4,430.6 L169.9,431.1 L170.4,430.7 L170.9,430.0 L171.4,431.7 L171.9,431.1 L172.4,430.7 L172.9,431.3 L173.4,431.7 L173.9,431.4 L174.4,433.1 L174.9,431.5 L175.4,432.3 L175.9,432.3 L176.4,433.1 L176.9,433.3 L177.4,433.5 L177.9,433.8 L178.4,434.0 L178.9,434.2 L178.9,434.4Z" fill="#ee0a0a"/>
<path d="M70.5,434.4 L71.1,425.8 L71.7,434.4Z" fill="#ee0a0a"/>
<line x1="69.0" y1="434.4" x2="75.9" y2="434.4" stroke="#ee0a0a" stroke-width="0.5"/>
<line x1="62.6" y1="415.4" x2="64.5" y2="415.4" stroke="#231f20" stroke-width="0.6"/>
<line x1="62.6" y1="434.4" x2="64.5" y2="434.4" stroke="#231f20" stroke-width="0.6"/>
<text x="62.6" y="416.7" font-size="3.3" text-anchor="end" fill="#ee0a0a" stroke="#ee0a0a" stroke-width="0.08">205</text>
<text x="62.6" y="435.4" font-size="3.3" text-anchor="end" fill="#ee0a0a" stroke="#ee0a0a" stroke-width="0.08">0</text>
<text x="48.8" y="428.5" font-size="6.1" text-anchor="end" fill="#ee0a0a" stroke="#ee0a0a" textLength="36.5" lengthAdjust="spacingAndGlyphs" stroke-width="0.12">shRBBP6#2_1</text>
<path d="M75.9,454.4 L75.9,454.4 L76.4,438.6 L76.9,437.8 L77.4,437.2 L77.9,437.9 L78.4,436.3 L78.9,436.5 L79.4,437.4 L79.9,439.1 L80.4,440.0 L80.9,440.7 L81.4,442.2 L81.9,442.9 L82.4,444.7 L82.9,445.7 L83.4,445.1 L83.9,445.9 L84.4,446.0 L84.9,445.9 L85.4,446.9 L85.9,447.8 L86.4,446.6 L86.9,447.1 L87.4,447.1 L87.9,447.3 L88.4,446.7 L88.9,448.0 L89.4,447.3 L89.9,448.2 L90.4,447.9 L90.9,447.9 L91.4,448.6 L91.9,449.2 L92.4,448.6 L92.9,448.2 L93.4,448.6 L93.9,449.0 L94.4,448.5 L94.9,449.3 L95.4,449.1 L95.9,448.8 L96.4,447.7 L96.9,448.8 L97.4,448.8 L97.9,448.7 L98.4,448.9 L98.9,448.6 L99.4,448.1 L99.9,447.8 L100.4,448.8 L100.9,448.9 L101.4,449.1 L101.9,449.2 L102.4,448.2 L102.9,448.5 L103.4,448.8 L103.9,448.9 L104.4,447.5 L104.9,447.4 L105.4,447.0 L105.9,447.9 L106.4,447.5 L106.9,447.0 L107.4,447.8 L107.9,447.3 L108.4,448.9 L108.9,447.6 L109.4,449.5 L109.9,449.0 L110.4,449.7 L110.9,448.1 L111.4,448.2 L111.9,447.6 L112.4,447.8 L112.9,447.4 L113.4,448.0 L113.9,447.1 L114.4,447.6 L114.9,448.5 L115.4,447.4 L115.9,448.6 L116.4,449.1 L116.9,449.4 L117.4,448.8 L117.9,449.4 L118.4,448.2 L118.9,448.3 L119.4,449.7 L119.9,450.0 L120.4,449.4 L120.9,450.2 L121.4,449.6 L121.9,449.2 L122.4,450.2 L122.9,449.7 L123.4,448.7 L123.9,449.5 L124.4,449.5 L124.9,448.4 L125.4,448.4 L125.9,448.2 L126.4,448.3 L126.9,448.5 L127.4,447.8 L127.9,447.2 L128.4,447.3 L128.9,447.8 L129.4,447.4 L129.9,446.9 L130.4,446.0 L130.9,446.1 L131.4,446.4 L131.9,446.3 L132.4,448.1 L132.9,447.6 L133.4,448.6 L133.9,448.7 L134.4,448.2 L134.9,449.1 L135.4,447.7 L135.9,449.2 L136.4,448.2 L136.9,448.1 L137.4,448.6 L137.9,447.9 L138.4,448.2 L138.9,448.5 L139.4,448.2 L139.9,449.7 L140.4,449.3 L140.9,448.8 L141.4,450.2 L141.9,449.1 L142.4,450.2 L142.9,449.1 L143.4,449.8 L143.9,449.0 L144.4,448.8 L144.9,449.2 L145.4,447.9 L145.9,448.0 L146.4,447.7 L146.9,448.2 L147.4,448.3 L147.9,448.5 L148.4,449.1 L148.9,448.1 L149.4,449.2 L149.9,447.1 L150.4,446.5 L150.9,446.6 L151.4,445.4 L151.9,445.0 L152.4,445.7 L152.9,447.2 L153.4,448.1 L153.9,449.0 L154.4,450.0 L154.9,449.7 L155.4,450.9 L155.9,450.7 L156.4,450.4 L156.9,449.6 L157.4,450.0 L157.9,449.7 L158.4,449.8 L158.9,449.2 L159.4,448.9 L159.9,448.1 L160.4,447.5 L160.9,445.8 L161.4,445.9 L161.9,446.0 L162.4,445.8 L162.9,447.0 L163.4,446.8 L163.9,447.6 L164.4,447.5 L164.9,449.2 L165.4,448.5 L165.9,449.9 L166.4,448.9 L166.9,449.8 L167.4,451.2 L167.9,450.1 L168.4,451.2 L168.9,451.2 L169.4,451.7 L169.9,450.5 L170.4,452.0 L170.9,450.9 L171.4,451.7 L171.9,451.3 L172.4,452.1 L172.9,452.7 L173.4,451.3 L173.9,452.0 L174.4,453.0 L174.9,451.7 L175.4,452.0 L175.9,453.5 L176.4,453.1 L176.9,453.3 L177.4,453.6 L177.9,453.8 L178.4,454.0 L178.9,454.2 L178.9,454.4Z" fill="#ee0a0a"/>
<path d="M70.5,454.4 L71.1,446.1 L71.7,454.4Z" fill="#ee0a0a"/>
<line x1="69.0" y1="454.4" x2="75.9" y2="454.4" stroke="#ee0a0a" stroke-width="0.5"/>
<line x1="62.6" y1="436.0" x2="64.5" y2="436.0" stroke="#231f20" stroke-width="0.6"/>
<line x1="62.6" y1="454.4" x2="64.5" y2="454.4" stroke="#231f20" stroke-width="0.6"/>
<text x="62.6" y="437.3" font-size="3.3" text-anchor="end" fill="#ee0a0a" stroke="#ee0a0a" stroke-width="0.08">203</text>
<text x="62.6" y="455.4" font-size="3.3" text-anchor="end" fill="#ee0a0a" stroke="#ee0a0a" stroke-width="0.08">0</text>
<text x="48.8" y="448.8" font-size="6.1" text-anchor="end" fill="#ee0a0a" stroke="#ee0a0a" textLength="36.5" lengthAdjust="spacingAndGlyphs" stroke-width="0.12">shRBBP6#2_2</text>
<line x1="64.5" y1="375.6" x2="64.5" y2="454.4" stroke="#000" stroke-width="1.3"/>
<text x="130.5" y="464.8" font-size="7" text-anchor="end" stroke="#111" stroke-width="0.08">pPAS</text>
<line x1="134.9" y1="457.9" x2="134.9" y2="467.2" stroke="#231f20" stroke-width="0.9"/>
<line x1="180.1" y1="457.9" x2="180.1" y2="467.2" stroke="#231f20" stroke-width="0.9"/>
<text x="183.0" y="464.8" font-size="7" stroke="#111" stroke-width="0.08">dPAS</text>
<line x1="160.6" y1="469.6" x2="160.6" y2="478.9" stroke="#ee1c24" stroke-width="0.9"/>
<text x="153.3" y="487.4" font-size="6.2" text-anchor="middle" stroke="#111" stroke-width="0.08" textLength="49.6" lengthAdjust="spacingAndGlyphs">miRNA binding site</text>
<line x1="67.2" y1="492.9" x2="181.0" y2="492.9" stroke="#231815" stroke-width="0.9"/>
<rect x="68.6" y="489.6" width="2.2" height="6.6" fill="#231815"/>
<rect x="76.5" y="489.4" width="57.8" height="6.7" fill="#231815"/>
<rect x="134.3" y="491.6" width="46.7" height="2.6" fill="#231815"/>
<text x="9.3" y="494.3" font-size="7" stroke="#111" stroke-width="0.08">chr1:200404899</text>
<text x="9.3" y="502.7" font-size="7" stroke="#111" stroke-width="0.08">-200410074</text>
<text x="73.0" y="503.4" font-size="6.2" text-anchor="middle" stroke="#111" stroke-width="0.08">intron</text>
<text x="101.6" y="503.4" font-size="6.2" text-anchor="middle" stroke="#111" stroke-width="0.08">exon</text>
<text x="154.2" y="503.4" font-size="6.2" text-anchor="middle" stroke="#111" stroke-width="0.08">3'UTR</text>
<text x="314.2" y="346.7" font-size="5.9" text-anchor="middle" stroke="#111" stroke-width="0.08">ΔPDUI = -0.265</text>
<text x="262.7" y="368.0" font-size="4.9" stroke="#111" stroke-width="0.08">DNMT3B</text>
<line x1="333.5" y1="366.8" x2="370.9" y2="366.8" stroke="#231f20" stroke-width="0.8"/>
<line x1="333.5" y1="364.8" x2="333.5" y2="368.8" stroke="#231f20" stroke-width="0.8"/>
<line x1="370.9" y1="364.8" x2="370.9" y2="368.8" stroke="#231f20" stroke-width="0.8"/>
<text x="349.4" y="363.2" font-size="5.5" text-anchor="middle" stroke="#111" stroke-width="0.08">200 bp</text>
<path d="M286.5,394.8 L286.5,394.8 L287.0,379.1 L287.5,378.6 L288.0,379.3 L288.5,379.0 L289.0,378.3 L289.5,378.5 L290.0,378.9 L290.5,378.6 L291.0,378.1 L291.5,378.5 L292.0,378.8 L292.5,378.0 L293.0,378.6 L293.5,378.1 L294.0,378.1 L294.5,378.2 L295.0,377.7 L295.5,378.4 L296.0,377.9 L296.5,378.2 L297.0,377.4 L297.5,378.0 L298.0,377.6 L298.5,377.2 L299.0,377.1 L299.5,377.7 L300.0,376.9 L300.5,377.0 L301.0,377.6 L301.5,377.3 L302.0,377.9 L302.5,378.2 L303.0,378.3 L303.5,378.3 L304.0,377.9 L304.5,378.4 L305.0,378.1 L305.5,378.2 L306.0,378.9 L306.5,378.7 L307.0,379.1 L307.5,378.7 L308.0,378.8 L308.5,378.8 L309.0,379.3 L309.5,378.9 L310.0,379.4 L310.5,379.3 L311.0,380.2 L311.5,381.1 L312.0,380.9 L312.5,381.4 L313.0,382.6 L313.5,382.6 L314.0,383.7 L314.5,384.0 L315.0,384.6 L315.5,384.2 L316.0,384.8 L316.5,384.7 L317.0,384.4 L317.5,384.1 L318.0,383.6 L318.5,383.5 L319.0,384.0 L319.5,383.2 L320.0,383.6 L320.5,383.8 L321.0,383.4 L321.5,383.1 L322.0,383.1 L322.5,383.6 L323.0,383.3 L323.5,383.9 L324.0,383.9 L324.5,383.2 L325.0,383.5 L325.5,384.2 L326.0,384.3 L326.5,384.1 L327.0,384.9 L327.5,385.0 L328.0,384.6 L328.5,385.4 L329.0,385.4 L329.5,385.6 L330.0,385.8 L330.5,386.1 L331.0,386.4 L331.5,386.1 L332.0,386.2 L332.5,385.9 L333.0,386.6 L333.5,386.4 L334.0,385.7 L334.5,386.1 L335.0,385.5 L335.5,385.8 L336.0,385.6 L336.5,385.2 L337.0,385.2 L337.5,384.9 L338.0,385.1 L338.5,384.1 L339.0,384.1 L339.5,384.2 L340.0,383.8 L340.5,383.4 L341.0,382.9 L341.5,383.7 L342.0,382.8 L342.5,383.1 L343.0,383.5 L343.5,383.2 L344.0,382.8 L344.5,383.3 L345.0,382.8 L345.5,382.8 L346.0,382.7 L346.5,383.2 L347.0,383.2 L347.5,382.3 L348.0,383.1 L348.5,383.1 L349.0,382.7 L349.5,383.2 L350.0,382.6 L350.5,382.5 L351.0,382.9 L351.5,382.6 L352.0,382.7 L352.5,382.4 L353.0,382.9 L353.5,382.9 L354.0,382.8 L354.5,382.0 L355.0,381.9 L355.5,382.5 L356.0,382.0 L356.5,382.5 L357.0,382.1 L357.5,382.3 L358.0,382.2 L358.5,381.8 L359.0,381.9 L359.5,381.8 L360.0,381.9 L360.5,382.2 L361.0,382.5 L361.5,381.9 L362.0,382.1 L362.5,382.8 L363.0,382.7 L363.5,383.3 L364.0,382.8 L364.5,382.9 L365.0,383.9 L365.5,383.6 L366.0,387.0 L366.5,383.3 L367.0,383.5 L367.5,384.1 L368.0,383.6 L368.5,383.8 L369.0,383.6 L369.5,383.8 L370.0,384.0 L370.5,383.8 L371.0,384.4 L371.5,384.6 L372.0,384.3 L372.5,384.4 L373.0,385.2 L373.5,385.4 L374.0,385.2 L374.5,385.7 L375.0,385.1 L375.5,385.7 L376.0,386.0 L376.5,385.6 L377.0,385.5 L377.5,385.6 L378.0,385.5 L378.5,385.9 L379.0,385.9 L379.5,385.5 L379.5,394.8Z" fill="#34479a"/>
<line x1="265.8" y1="394.4" x2="286.5" y2="394.4" stroke="#b8c0dc" stroke-width="0.9"/>
<line x1="260.3" y1="376.3" x2="262.2" y2="376.3" stroke="#231f20" stroke-width="0.6"/>
<line x1="260.3" y1="394.8" x2="262.2" y2="394.8" stroke="#231f20" stroke-width="0.6"/>
<text x="260.3" y="377.6" font-size="3.3" text-anchor="end" fill="#34479a" stroke="#34479a" stroke-width="0.08">137</text>
<text x="260.3" y="395.8" font-size="3.3" text-anchor="end" fill="#34479a" stroke="#34479a" stroke-width="0.08">16</text>
<text x="247.6" y="389.2" font-size="6.1" text-anchor="end" fill="#34479a" stroke="#34479a" textLength="19.5" lengthAdjust="spacingAndGlyphs" stroke-width="0.12">shNT_1</text>
<path d="M286.5,414.9 L286.5,414.9 L287.0,400.3 L287.5,400.5 L288.0,400.7 L288.5,400.1 L289.0,400.5 L289.5,400.5 L290.0,400.7 L290.5,400.9 L291.0,400.7 L291.5,400.9 L292.0,400.8 L292.5,400.9 L293.0,400.8 L293.5,401.2 L294.0,401.5 L294.5,401.5 L295.0,401.0 L295.5,401.5 L296.0,401.2 L296.5,401.2 L297.0,401.7 L297.5,401.1 L298.0,401.8 L298.5,401.1 L299.0,401.0 L299.5,401.5 L300.0,401.1 L300.5,401.0 L301.0,401.5 L301.5,401.0 L302.0,401.5 L302.5,400.7 L303.0,400.9 L303.5,400.8 L304.0,401.8 L304.5,401.7 L305.0,401.6 L305.5,401.8 L306.0,402.4 L306.5,401.9 L307.0,402.1 L307.5,402.8 L308.0,403.1 L308.5,402.7 L309.0,402.9 L309.5,402.7 L310.0,402.9 L310.5,403.0 L311.0,403.4 L311.5,403.3 L312.0,403.1 L312.5,402.9 L313.0,403.1 L313.5,402.9 L314.0,403.1 L314.5,402.6 L315.0,402.6 L315.5,402.7 L316.0,402.6 L316.5,402.5 L317.0,402.3 L317.5,401.4 L318.0,401.2 L318.5,401.1 L319.0,401.4 L319.5,401.0 L320.0,401.5 L320.5,400.9 L321.0,401.2 L321.5,401.2 L322.0,401.4 L322.5,401.6 L323.0,401.3 L323.5,401.3 L324.0,402.0 L324.5,401.9 L325.0,401.7 L325.5,401.8 L326.0,402.0 L326.5,402.0 L327.0,401.5 L327.5,402.1 L328.0,402.2 L328.5,401.8 L329.0,402.1 L329.5,401.6 L330.0,402.1 L330.5,401.6 L331.0,402.2 L331.5,401.8 L332.0,402.0 L332.5,402.1 L333.0,402.6 L333.5,402.7 L334.0,402.9 L334.5,402.9 L335.0,402.5 L335.5,403.1 L336.0,403.0 L336.5,402.9 L337.0,403.4 L337.5,403.4 L338.0,403.6 L338.5,403.4 L339.0,404.0 L339.5,403.4 L340.0,403.9 L340.5,403.9 L341.0,404.2 L341.5,404.4 L342.0,404.1 L342.5,404.3 L343.0,404.4 L343.5,405.1 L344.0,404.7 L344.5,404.5 L345.0,404.8 L345.5,405.0 L346.0,405.0 L346.5,405.4 L347.0,405.0 L347.5,405.1 L348.0,405.8 L348.5,405.5 L349.0,405.5 L349.5,405.8 L350.0,405.7 L350.5,405.6 L351.0,405.7 L351.5,406.3 L352.0,406.6 L352.5,406.0 L353.0,406.3 L353.5,406.2 L354.0,406.2 L354.5,406.8 L355.0,406.6 L355.5,406.9 L356.0,406.6 L356.5,406.7 L357.0,407.2 L357.5,407.0 L358.0,407.0 L358.5,407.3 L359.0,407.4 L359.5,407.1 L360.0,407.5 L360.5,407.1 L361.0,406.7 L361.5,406.8 L362.0,407.5 L362.5,406.8 L363.0,406.9 L363.5,406.9 L364.0,407.5 L364.5,406.9 L365.0,407.4 L365.5,406.9 L366.0,409.7 L366.5,407.2 L367.0,407.4 L367.5,406.8 L368.0,407.4 L368.5,406.8 L369.0,407.1 L369.5,407.4 L370.0,407.0 L370.5,407.1 L371.0,407.5 L371.5,406.8 L372.0,407.3 L372.5,407.5 L373.0,406.9 L373.5,406.9 L374.0,407.2 L374.5,407.4 L375.0,407.1 L375.5,407.0 L376.0,407.0 L376.5,407.1 L377.0,407.1 L377.5,406.9 L378.0,407.4 L378.5,407.4 L379.0,407.1 L379.5,406.9 L379.5,414.9Z" fill="#34479a"/>
<line x1="265.8" y1="414.5" x2="286.5" y2="414.5" stroke="#b8c0dc" stroke-width="0.9"/>
<line x1="260.3" y1="397.6" x2="262.2" y2="397.6" stroke="#231f20" stroke-width="0.6"/>
<line x1="260.3" y1="414.9" x2="262.2" y2="414.9" stroke="#231f20" stroke-width="0.6"/>
<text x="260.3" y="398.9" font-size="3.3" text-anchor="end" fill="#34479a" stroke="#34479a" stroke-width="0.08">137</text>
<text x="260.3" y="415.9" font-size="3.3" text-anchor="end" fill="#34479a" stroke="#34479a" stroke-width="0.08">16</text>
<text x="247.6" y="409.9" font-size="6.1" text-anchor="end" fill="#34479a" stroke="#34479a" textLength="19.5" lengthAdjust="spacingAndGlyphs" stroke-width="0.12">shNT_2</text>
<path d="M286.5,434.6 L286.5,434.6 L287.0,422.8 L287.5,423.3 L288.0,423.0 L288.5,423.1 L289.0,422.7 L289.5,422.7 L290.0,422.5 L290.5,423.2 L291.0,422.9 L291.5,423.2 L292.0,423.1 L292.5,422.8 L293.0,423.2 L293.5,423.0 L294.0,422.5 L294.5,422.6 L295.0,422.8 L295.5,422.4 L296.0,422.2 L296.5,422.8 L297.0,422.1 L297.5,422.1 L298.0,422.3 L298.5,422.4 L299.0,421.6 L299.5,422.0 L300.0,422.1 L300.5,422.0 L301.0,421.3 L301.5,421.5 L302.0,421.4 L302.5,421.5 L303.0,421.7 L303.5,421.4 L304.0,421.9 L304.5,421.8 L305.0,421.6 L305.5,422.2 L306.0,422.3 L306.5,422.9 L307.0,423.2 L307.5,424.1 L308.0,424.3 L308.5,424.6 L309.0,425.2 L309.5,425.1 L310.0,425.3 L310.5,425.3 L311.0,425.1 L311.5,425.4 L312.0,425.5 L312.5,425.8 L313.0,425.8 L313.5,425.0 L314.0,424.9 L314.5,424.6 L315.0,424.7 L315.5,423.9 L316.0,424.1 L316.5,423.6 L317.0,422.8 L317.5,423.1 L318.0,423.2 L318.5,423.2 L319.0,423.1 L319.5,423.2 L320.0,423.7 L320.5,423.9 L321.0,423.7 L321.5,423.7 L322.0,423.7 L322.5,423.0 L323.0,423.0 L323.5,423.5 L324.0,423.1 L324.5,423.3 L325.0,422.9 L325.5,422.7 L326.0,422.4 L326.5,422.0 L327.0,421.2 L327.5,421.0 L328.0,420.2 L328.5,419.8 L329.0,421.0 L329.5,421.9 L330.0,422.0 L330.5,423.2 L331.0,424.3 L331.5,424.5 L332.0,424.5 L332.5,424.2 L333.0,424.2 L333.5,424.6 L334.0,425.0 L334.5,424.8 L335.0,424.4 L335.5,424.7 L336.0,424.2 L336.5,424.2 L337.0,424.8 L337.5,424.1 L338.0,424.1 L338.5,424.1 L339.0,424.2 L339.5,423.9 L340.0,424.3 L340.5,424.1 L341.0,424.0 L341.5,423.6 L342.0,423.7 L342.5,424.2 L343.0,424.0 L343.5,424.9 L344.0,425.0 L344.5,425.7 L345.0,426.9 L345.5,427.3 L346.0,428.0 L346.5,428.4 L347.0,428.0 L347.5,428.2 L348.0,428.1 L348.5,428.3 L349.0,428.8 L349.5,428.7 L350.0,429.2 L350.5,428.6 L351.0,428.8 L351.5,429.1 L352.0,429.7 L352.5,430.1 L353.0,429.7 L353.5,430.0 L354.0,431.0 L354.5,431.0 L355.0,431.7 L355.5,431.2 L356.0,431.2 L356.5,431.7 L357.0,431.5 L357.5,431.5 L358.0,431.7 L358.5,431.3 L359.0,431.7 L359.5,431.9 L360.0,431.6 L360.5,431.5 L361.0,432.0 L361.5,432.0 L362.0,431.5 L362.5,431.8 L363.0,432.0 L363.5,432.0 L364.0,432.4 L364.5,432.3 L365.0,432.3 L365.5,432.1 L366.0,432.5 L366.5,432.5 L367.0,432.7 L367.5,432.3 L368.0,432.7 L368.5,432.2 L369.0,432.3 L369.5,432.9 L370.0,432.9 L370.5,432.5 L371.0,432.9 L371.5,432.9 L372.0,432.3 L372.5,432.6 L373.0,432.7 L373.5,432.4 L374.0,432.4 L374.5,432.9 L375.0,433.0 L375.5,432.7 L376.0,432.7 L376.5,432.7 L377.0,432.5 L377.5,432.2 L378.0,431.7 L378.5,432.2 L379.0,431.7 L379.5,431.5 L379.5,434.6Z" fill="#d8201f"/>
<line x1="265.8" y1="434.2" x2="286.5" y2="434.2" stroke="#f0a0a0" stroke-width="0.9"/>
<line x1="260.3" y1="418.3" x2="262.2" y2="418.3" stroke="#231f20" stroke-width="0.6"/>
<line x1="260.3" y1="434.6" x2="262.2" y2="434.6" stroke="#231f20" stroke-width="0.6"/>
<text x="260.3" y="419.6" font-size="3.3" text-anchor="end" fill="#d8201f" stroke="#d8201f" stroke-width="0.08">137</text>
<text x="260.3" y="435.6" font-size="3.3" text-anchor="end" fill="#d8201f" stroke="#d8201f" stroke-width="0.08">16</text>
<text x="247.6" y="430.1" font-size="6.1" text-anchor="end" fill="#d8201f" stroke="#d8201f" textLength="36.5" lengthAdjust="spacingAndGlyphs" stroke-width="0.12">shRBBP6#2_1</text>
<path d="M286.5,454.7 L286.5,454.7 L287.0,445.0 L287.5,444.3 L288.0,444.6 L288.5,444.2 L289.0,443.8 L289.5,443.6 L290.0,443.7 L290.5,443.5 L291.0,443.7 L291.5,443.2 L292.0,443.1 L292.5,442.8 L293.0,443.1 L293.5,443.0 L294.0,443.3 L294.5,443.6 L295.0,443.1 L295.5,443.2 L296.0,443.7 L296.5,444.0 L297.0,443.7 L297.5,443.8 L298.0,443.6 L298.5,443.7 L299.0,443.8 L299.5,443.7 L300.0,443.8 L300.5,444.0 L301.0,444.0 L301.5,443.2 L302.0,443.3 L302.5,443.7 L303.0,443.2 L303.5,443.4 L304.0,443.7 L304.5,443.1 L305.0,443.3 L305.5,443.1 L306.0,443.3 L306.5,443.9 L307.0,443.5 L307.5,443.5 L308.0,443.4 L308.5,444.0 L309.0,443.9 L309.5,443.8 L310.0,444.3 L310.5,443.8 L311.0,444.0 L311.5,444.7 L312.0,444.3 L312.5,444.5 L313.0,444.8 L313.5,444.5 L314.0,444.2 L314.5,444.7 L315.0,445.1 L315.5,444.9 L316.0,444.7 L316.5,444.6 L317.0,444.9 L317.5,445.5 L318.0,444.8 L318.5,445.2 L319.0,445.7 L319.5,445.8 L320.0,445.9 L320.5,445.5 L321.0,446.1 L321.5,445.7 L322.0,446.4 L322.5,446.2 L323.0,446.4 L323.5,446.9 L324.0,447.0 L324.5,446.4 L325.0,446.5 L325.5,447.4 L326.0,447.0 L326.5,446.9 L327.0,447.1 L327.5,447.3 L328.0,447.9 L328.5,447.7 L329.0,448.0 L329.5,447.8 L330.0,448.1 L330.5,448.2 L331.0,448.3 L331.5,448.8 L332.0,448.7 L332.5,449.3 L333.0,449.2 L333.5,448.7 L334.0,449.2 L334.5,449.0 L335.0,449.2 L335.5,449.5 L336.0,449.3 L336.5,449.1 L337.0,449.7 L337.5,449.7 L338.0,450.0 L338.5,450.1 L339.0,449.6 L339.5,449.8 L340.0,449.7 L340.5,450.1 L341.0,449.9 L341.5,450.7 L342.0,450.8 L342.5,450.9 L343.0,450.8 L343.5,450.4 L344.0,451.2 L344.5,451.1 L345.0,451.5 L345.5,451.7 L346.0,451.3 L346.5,451.3 L347.0,451.4 L347.5,451.1 L348.0,451.2 L348.5,451.2 L349.0,451.5 L349.5,451.8 L350.0,452.0 L350.5,451.6 L351.0,452.2 L351.5,452.4 L352.0,451.9 L352.5,452.5 L353.0,452.2 L353.5,452.6 L354.0,452.6 L354.5,453.0 L355.0,452.8 L355.5,452.9 L356.0,453.0 L356.5,453.1 L357.0,452.8 L357.5,452.7 L358.0,453.1 L358.5,453.3 L359.0,453.2 L359.5,452.8 L360.0,453.2 L360.5,452.9 L361.0,453.5 L361.5,453.0 L362.0,453.5 L362.5,453.4 L363.0,453.0 L363.5,453.3 L364.0,453.2 L364.5,453.5 L365.0,453.4 L365.5,453.4 L366.0,453.5 L366.5,453.6 L367.0,453.6 L367.5,453.7 L368.0,453.8 L368.5,453.8 L369.0,453.9 L369.5,454.0 L370.0,454.0 L370.5,454.0 L371.0,454.1 L371.5,454.1 L372.0,454.1 L372.5,454.1 L373.0,454.1 L373.5,454.1 L374.0,454.2 L374.5,454.2 L375.0,454.2 L375.5,454.0 L376.0,453.8 L376.5,453.6 L377.0,453.4 L377.5,453.1 L378.0,453.2 L378.5,452.9 L379.0,452.7 L379.5,454.4 L379.5,454.7Z" fill="#d8201f"/>
<line x1="265.8" y1="454.3" x2="286.5" y2="454.3" stroke="#f0a0a0" stroke-width="0.9"/>
<line x1="260.3" y1="438.0" x2="262.2" y2="438.0" stroke="#231f20" stroke-width="0.6"/>
<line x1="260.3" y1="454.7" x2="262.2" y2="454.7" stroke="#231f20" stroke-width="0.6"/>
<text x="260.3" y="439.3" font-size="3.3" text-anchor="end" fill="#d8201f" stroke="#d8201f" stroke-width="0.08">137</text>
<text x="260.3" y="455.7" font-size="3.3" text-anchor="end" fill="#d8201f" stroke="#d8201f" stroke-width="0.08">16</text>
<text x="247.6" y="450.0" font-size="6.1" text-anchor="end" fill="#d8201f" stroke="#d8201f" textLength="36.5" lengthAdjust="spacingAndGlyphs" stroke-width="0.12">shRBBP6#2_2</text>
<line x1="262.2" y1="376.3" x2="262.2" y2="454.7" stroke="#000" stroke-width="1.3"/>
<text x="326.4" y="465.6" font-size="7" text-anchor="end" stroke="#111" stroke-width="0.08">pPAS</text>
<line x1="331.0" y1="458.8" x2="331.0" y2="468.0" stroke="#231f20" stroke-width="0.9"/>
<line x1="378.2" y1="458.8" x2="378.2" y2="468.0" stroke="#231f20" stroke-width="0.9"/>
<text x="381.6" y="465.6" font-size="7" stroke="#111" stroke-width="0.08">dPAS</text>
<line x1="374.0" y1="469.5" x2="374.0" y2="478.7" stroke="#ee1c24" stroke-width="0.9"/>
<text x="353.4" y="488.2" font-size="6.2" text-anchor="middle" stroke="#111" stroke-width="0.08" textLength="49.6" lengthAdjust="spacingAndGlyphs">miRNA binding site</text>
<line x1="266.0" y1="492.5" x2="378.5" y2="492.5" stroke="#231815" stroke-width="0.9"/>
<rect x="286.6" y="489.4" width="25.4" height="6.1" fill="#231815"/>
<rect x="312.0" y="491.2" width="66.5" height="2.6" fill="#231815"/>
<text x="206.0" y="495.0" font-size="7" stroke="#111" stroke-width="0.08">chr20:32807629</text>
<text x="206.0" y="502.6" font-size="7" stroke="#111" stroke-width="0.08">-32808280</text>
<text x="272.8" y="503.2" font-size="6.2" text-anchor="middle" stroke="#111" stroke-width="0.08">intron</text>
<text x="297.3" y="503.2" font-size="6.2" text-anchor="middle" stroke="#111" stroke-width="0.08">exon</text>
<text x="346.3" y="503.2" font-size="6.2" text-anchor="middle" stroke="#111" stroke-width="0.08">3'UTR</text>
<text x="404.0" y="349.7" font-size="11" fill="#000" font-weight="bold">h</text>
<text x="491.0" y="351.5" font-size="6.9" text-anchor="middle" stroke="#111" stroke-width="0.08">GSC468</text>
<rect x="453.3" y="407.0" width="8.7" height="73.2" fill="#000"/>
<line x1="457.6" y1="404.1" x2="457.6" y2="409.9" stroke="#9a9a9a" stroke-width="1"/>
<line x1="455.8" y1="404.1" x2="459.4" y2="404.1" stroke="#9a9a9a" stroke-width="1"/>
<line x1="455.8" y1="409.9" x2="459.4" y2="409.9" stroke="#9a9a9a" stroke-width="1"/>
<path d="M455.4,408.6 L457.6,405.0 L459.8,408.6Z" fill="#9a9a9a"/>
<rect x="466.7" y="454.2" width="8.4" height="26.0" fill="#ff0000"/>
<line x1="470.9" y1="448.7" x2="470.9" y2="458.2" stroke="#a00d0d" stroke-width="1"/>
<line x1="469.1" y1="448.7" x2="472.7" y2="448.7" stroke="#a00d0d" stroke-width="1"/>
<line x1="469.1" y1="458.2" x2="472.7" y2="458.2" stroke="#a00d0d" stroke-width="1"/>
<path d="M468.7,455.8 L470.9,452.2 L473.1,455.8Z" fill="#a00d0d"/>
<rect x="480.0" y="431.9" width="8.5" height="48.3" fill="#0000cc"/>
<line x1="484.2" y1="427.5" x2="484.2" y2="435.5" stroke="#5858f0" stroke-width="1"/>
<line x1="482.4" y1="427.5" x2="486.1" y2="427.5" stroke="#5858f0" stroke-width="1"/>
<line x1="482.4" y1="435.5" x2="486.1" y2="435.5" stroke="#5858f0" stroke-width="1"/>
<path d="M482.1,430.3 L484.2,433.9 L486.4,430.3Z" fill="#5858f0"/>
<rect x="501.2" y="407.0" width="9.3" height="73.2" fill="#000"/>
<line x1="505.9" y1="404.8" x2="505.9" y2="409.2" stroke="#9a9a9a" stroke-width="1"/>
<line x1="504.1" y1="404.8" x2="507.7" y2="404.8" stroke="#9a9a9a" stroke-width="1"/>
<line x1="504.1" y1="409.2" x2="507.7" y2="409.2" stroke="#9a9a9a" stroke-width="1"/>
<path d="M503.7,408.6 L505.9,405.0 L508.1,408.6Z" fill="#9a9a9a"/>
<rect x="514.3" y="434.1" width="9.5" height="46.1" fill="#ff0000"/>
<line x1="519.0" y1="429.7" x2="519.0" y2="438.5" stroke="#a00d0d" stroke-width="1"/>
<line x1="517.2" y1="429.7" x2="520.8" y2="429.7" stroke="#a00d0d" stroke-width="1"/>
<line x1="517.2" y1="438.5" x2="520.8" y2="438.5" stroke="#a00d0d" stroke-width="1"/>
<path d="M516.8,435.7 L519.0,432.1 L521.2,435.7Z" fill="#a00d0d"/>
<rect x="527.6" y="437.4" width="9.6" height="42.8" fill="#0000cc"/>
<line x1="532.4" y1="434.1" x2="532.4" y2="440.7" stroke="#5858f0" stroke-width="1"/>
<line x1="530.6" y1="434.1" x2="534.2" y2="434.1" stroke="#5858f0" stroke-width="1"/>
<line x1="530.6" y1="440.7" x2="534.2" y2="440.7" stroke="#5858f0" stroke-width="1"/>
<path d="M530.2,435.8 L532.4,439.4 L534.6,435.8Z" fill="#5858f0"/>
<text x="470.9" y="447.1" font-size="6.7" text-anchor="middle" fill="#222" stroke="#222" stroke-width="0.08">****</text>
<text x="484.2" y="427.0" font-size="6.7" text-anchor="middle" fill="#222" stroke="#222" stroke-width="0.08">***</text>
<text x="519.0" y="428.5" font-size="6.7" text-anchor="middle" fill="#222" stroke="#222" stroke-width="0.08">****</text>
<text x="532.4" y="434.0" font-size="6.7" text-anchor="middle" fill="#222" stroke="#222" stroke-width="0.08">****</text>
<line x1="445.5" y1="369.9" x2="445.5" y2="480.8" stroke="#231f20" stroke-width="1.1"/>
<line x1="445.5" y1="480.2" x2="544.0" y2="480.2" stroke="#231f20" stroke-width="1.1"/>
<line x1="443.5" y1="370.4" x2="445.5" y2="370.4" stroke="#231f20" stroke-width="1"/>
<text x="442.1" y="372.9" font-size="7" text-anchor="end" stroke="#111" stroke-width="0.08">1.5</text>
<line x1="443.5" y1="407.0" x2="445.5" y2="407.0" stroke="#231f20" stroke-width="1"/>
<text x="442.1" y="409.5" font-size="7" text-anchor="end" stroke="#111" stroke-width="0.08">1.0</text>
<line x1="443.5" y1="443.6" x2="445.5" y2="443.6" stroke="#231f20" stroke-width="1"/>
<text x="442.1" y="446.1" font-size="7" text-anchor="end" stroke="#111" stroke-width="0.08">0.5</text>
<line x1="443.5" y1="480.2" x2="445.5" y2="480.2" stroke="#231f20" stroke-width="1"/>
<text x="442.1" y="482.7" font-size="7" text-anchor="end" stroke="#111" stroke-width="0.08">0.0</text>
<rect x="458.2" y="360.2" width="12.0" height="5.4" fill="#000"/>
<text x="474.2" y="365.9" font-size="7" stroke="#111" stroke-width="0.08">shNT</text>
<rect x="458.2" y="373.4" width="12.0" height="5.4" fill="#ff0000"/>
<text x="474.2" y="378.8" font-size="7" stroke="#111" stroke-width="0.08">shRBBP6#2</text>
<rect x="458.2" y="386.6" width="12.0" height="5.4" fill="#0000cc"/>
<text x="474.2" y="391.7" font-size="7" stroke="#111" stroke-width="0.08">shRBBP6#7</text>
<text x="470.9" y="490.1" font-size="7" text-anchor="middle" stroke="#111" stroke-width="0.08">DNMT3B</text>
<text x="521.1" y="490.1" font-size="7" text-anchor="middle" stroke="#111" stroke-width="0.08">ZNF281</text>
<line x1="470.9" y1="480.2" x2="470.9" y2="482.2" stroke="#231f20" stroke-width="1"/>
<line x1="521.1" y1="480.2" x2="521.1" y2="482.2" stroke="#231f20" stroke-width="1"/>
<text x="419.8" y="425.3" font-size="7" text-anchor="middle" stroke="#111" stroke-width="0.08" transform="rotate(-90 419.8 425.3)">Percentage of dPAS Usage</text>
<text x="428.3" y="425.3" font-size="7" text-anchor="middle" stroke="#111" stroke-width="0.08" transform="rotate(-90 428.3 425.3)">(Normalized to shNT)</text>
<text x="634.2" y="351.5" font-size="6.9" text-anchor="middle" stroke="#111" stroke-width="0.08">GSC3565</text>
<rect x="594.0" y="407.7" width="9.5" height="73.0" fill="#000"/>
<line x1="598.8" y1="406.2" x2="598.8" y2="409.2" stroke="#9a9a9a" stroke-width="1"/>
<line x1="597.0" y1="406.2" x2="600.5" y2="406.2" stroke="#9a9a9a" stroke-width="1"/>
<line x1="597.0" y1="409.2" x2="600.5" y2="409.2" stroke="#9a9a9a" stroke-width="1"/>
<path d="M596.5,409.3 L598.8,405.7 L601.0,409.3Z" fill="#9a9a9a"/>
<rect x="607.3" y="439.5" width="9.3" height="41.2" fill="#ff0000"/>
<line x1="612.0" y1="434.7" x2="612.0" y2="444.2" stroke="#a00d0d" stroke-width="1"/>
<line x1="610.2" y1="434.7" x2="613.8" y2="434.7" stroke="#a00d0d" stroke-width="1"/>
<line x1="610.2" y1="444.2" x2="613.8" y2="444.2" stroke="#a00d0d" stroke-width="1"/>
<path d="M609.8,441.1 L612.0,437.5 L614.2,441.1Z" fill="#a00d0d"/>
<rect x="620.9" y="434.7" width="9.1" height="46.0" fill="#0000cc"/>
<line x1="625.5" y1="432.5" x2="625.5" y2="436.9" stroke="#5858f0" stroke-width="1"/>
<line x1="623.7" y1="432.5" x2="627.2" y2="432.5" stroke="#5858f0" stroke-width="1"/>
<line x1="623.7" y1="436.9" x2="627.2" y2="436.9" stroke="#5858f0" stroke-width="1"/>
<path d="M623.2,433.1 L625.5,436.7 L627.7,433.1Z" fill="#5858f0"/>
<rect x="643.1" y="408.1" width="8.7" height="72.6" fill="#000"/>
<line x1="647.5" y1="404.0" x2="647.5" y2="411.4" stroke="#9a9a9a" stroke-width="1"/>
<line x1="645.7" y1="404.0" x2="649.2" y2="404.0" stroke="#9a9a9a" stroke-width="1"/>
<line x1="645.7" y1="411.4" x2="649.2" y2="411.4" stroke="#9a9a9a" stroke-width="1"/>
<path d="M645.2,409.7 L647.5,406.1 L649.7,409.7Z" fill="#9a9a9a"/>
<rect x="656.0" y="435.1" width="8.9" height="45.6" fill="#ff0000"/>
<line x1="660.5" y1="430.3" x2="660.5" y2="438.4" stroke="#a00d0d" stroke-width="1"/>
<line x1="658.7" y1="430.3" x2="662.2" y2="430.3" stroke="#a00d0d" stroke-width="1"/>
<line x1="658.7" y1="438.4" x2="662.2" y2="438.4" stroke="#a00d0d" stroke-width="1"/>
<path d="M658.2,436.7 L660.5,433.1 L662.7,436.7Z" fill="#a00d0d"/>
<rect x="669.1" y="438.4" width="9.6" height="42.3" fill="#0000cc"/>
<line x1="673.9" y1="435.4" x2="673.9" y2="442.0" stroke="#5858f0" stroke-width="1"/>
<line x1="672.1" y1="435.4" x2="675.7" y2="435.4" stroke="#5858f0" stroke-width="1"/>
<line x1="672.1" y1="442.0" x2="675.7" y2="442.0" stroke="#5858f0" stroke-width="1"/>
<path d="M671.7,436.8 L673.9,440.4 L676.1,436.8Z" fill="#5858f0"/>
<text x="612.0" y="430.6" font-size="6.7" text-anchor="middle" fill="#222" stroke="#222" stroke-width="0.08">****</text>
<text x="625.5" y="430.6" font-size="6.7" text-anchor="middle" fill="#222" stroke="#222" stroke-width="0.08">****</text>
<text x="660.5" y="430.6" font-size="6.7" text-anchor="middle" fill="#222" stroke="#222" stroke-width="0.08">***</text>
<text x="674.0" y="434.4" font-size="6.7" text-anchor="middle" fill="#222" stroke="#222" stroke-width="0.08">****</text>
<line x1="587.0" y1="370.7" x2="587.0" y2="481.3" stroke="#231f20" stroke-width="1.1"/>
<line x1="587.0" y1="480.7" x2="685.0" y2="480.7" stroke="#231f20" stroke-width="1.1"/>
<line x1="585.0" y1="371.2" x2="587.0" y2="371.2" stroke="#231f20" stroke-width="1"/>
<text x="583.6" y="373.7" font-size="7" text-anchor="end" stroke="#111" stroke-width="0.08">1.5</text>
<line x1="585.0" y1="407.7" x2="587.0" y2="407.7" stroke="#231f20" stroke-width="1"/>
<text x="583.6" y="410.2" font-size="7" text-anchor="end" stroke="#111" stroke-width="0.08">1.0</text>
<line x1="585.0" y1="444.2" x2="587.0" y2="444.2" stroke="#231f20" stroke-width="1"/>
<text x="583.6" y="446.7" font-size="7" text-anchor="end" stroke="#111" stroke-width="0.08">0.5</text>
<line x1="585.0" y1="480.7" x2="587.0" y2="480.7" stroke="#231f20" stroke-width="1"/>
<text x="583.6" y="483.2" font-size="7" text-anchor="end" stroke="#111" stroke-width="0.08">0.0</text>
<rect x="599.3" y="360.2" width="12.0" height="5.4" fill="#000"/>
<text x="615.3" y="365.9" font-size="7" stroke="#111" stroke-width="0.08">shNT</text>
<rect x="599.3" y="373.4" width="12.0" height="5.4" fill="#ff0000"/>
<text x="615.3" y="378.8" font-size="7" stroke="#111" stroke-width="0.08">shRBBP6#2</text>
<rect x="599.3" y="386.6" width="12.0" height="5.4" fill="#0000cc"/>
<text x="615.3" y="391.7" font-size="7" stroke="#111" stroke-width="0.08">shRBBP6#7</text>
<text x="613.0" y="490.1" font-size="7" text-anchor="middle" stroke="#111" stroke-width="0.08">DNMT3B</text>
<text x="662.4" y="490.1" font-size="7" text-anchor="middle" stroke="#111" stroke-width="0.08">ZNF281</text>
<line x1="613.0" y1="480.7" x2="613.0" y2="482.7" stroke="#231f20" stroke-width="1"/>
<line x1="662.4" y1="480.7" x2="662.4" y2="482.7" stroke="#231f20" stroke-width="1"/>
<text x="563.8" y="425.3" font-size="7" text-anchor="middle" stroke="#111" stroke-width="0.08" transform="rotate(-90 563.8 425.3)">Percentage of dPAS Usage</text>
<text x="572.3" y="425.3" font-size="7" text-anchor="middle" stroke="#111" stroke-width="0.08" transform="rotate(-90 572.3 425.3)">(Normalized to shNT)</text>
<text x="24.8" y="525.9" font-size="11" fill="#000" font-weight="bold">i</text>
<text x="132.0" y="559.1" font-size="6.8" text-anchor="end" stroke="#111" stroke-width="0.08">MYC-3’UTR WT</text>
<text x="132.3" y="569.3" font-size="6.8" text-anchor="end" stroke="#111" stroke-width="0.08">Hsa-miR-590-3p</text>
<text x="132.0" y="579.0" font-size="6.8" text-anchor="end" stroke="#111" stroke-width="0.08">MYC-3’UTR mutant</text>
<text x="131.4" y="595.0" font-size="6.8" text-anchor="end" stroke="#111" stroke-width="0.08">ZNF281-3’UTR-WT</text>
<text x="132.3" y="605.8" font-size="6.8" text-anchor="end" stroke="#111" stroke-width="0.08">Hsa-miR-590-3p</text>
<text x="131.4" y="615.2" font-size="6.8" text-anchor="end" stroke="#111" stroke-width="0.08">ZNF281-3’UTR mutant</text>
<text x="132.0" y="628.6" font-size="6.8" text-anchor="end" stroke="#111" stroke-width="0.08">DNMT3B-3’UTR-WT</text>
<text x="132.3" y="640.0" font-size="6.8" text-anchor="end" stroke="#111" stroke-width="0.08">Hsa-miR-590-3p</text>
<text x="132.0" y="650.2" font-size="6.8" text-anchor="end" stroke="#111" stroke-width="0.08">DNMT3B-3’UTR mutant</text>
<text x="140.1" y="559.8" font-size="6.5" textLength="117.3" lengthAdjust="spacingAndGlyphs"><tspan>5’-AGAAUUGUUUUUUAA</tspan><tspan fill="#e8202a">AAAAUU</tspan><tspan>U- 3’</tspan></text>
<text x="140.1" y="570.4" font-size="6.5" textLength="117.3" lengthAdjust="spacingAndGlyphs"><tspan>3’-UGAUCGAAUAUGUA</tspan><tspan fill="#e8202a">UUUUAA</tspan><tspan>U- 5’</tspan></text>
<text x="140.1" y="579.3" font-size="6.5" textLength="117.3" lengthAdjust="spacingAndGlyphs"><tspan>5’-AGAAUUGUUUUUUAA</tspan><tspan fill="#e8202a">UUUUAA</tspan><tspan>U- 3’</tspan></text>
<line x1="149.5" y1="560.6" x2="149.5" y2="565.2" stroke="#231f20" stroke-width="1.2"/>
<line x1="163.3" y1="560.6" x2="163.3" y2="565.2" stroke="#231f20" stroke-width="1.2"/>
<line x1="182.3" y1="560.6" x2="182.3" y2="565.2" stroke="#231f20" stroke-width="1.2"/>
<line x1="191.7" y1="560.6" x2="191.7" y2="565.2" stroke="#231f20" stroke-width="1.2"/>
<line x1="205.8" y1="560.6" x2="205.8" y2="565.2" stroke="#231f20" stroke-width="1.2"/>
<line x1="219.0" y1="560.6" x2="219.0" y2="565.6" stroke="#e8202a" stroke-width="1.2"/>
<line x1="223.4" y1="560.6" x2="223.4" y2="565.6" stroke="#e8202a" stroke-width="1.2"/>
<line x1="227.7" y1="560.6" x2="227.7" y2="565.6" stroke="#e8202a" stroke-width="1.2"/>
<line x1="232.1" y1="560.6" x2="232.1" y2="565.6" stroke="#e8202a" stroke-width="1.2"/>
<line x1="236.6" y1="560.6" x2="236.6" y2="565.6" stroke="#e8202a" stroke-width="1.2"/>
<line x1="241.3" y1="560.6" x2="241.3" y2="565.6" stroke="#e8202a" stroke-width="1.2"/>
<text x="137.8" y="595.1" font-size="6.5" textLength="118.4" lengthAdjust="spacingAndGlyphs"><tspan>5’-AUCUGGGCUGAUCCAAAAUUC- 3’</tspan></text>
<text x="138.6" y="605.6" font-size="6.5" textLength="117.6" lengthAdjust="spacingAndGlyphs"><tspan>3’-UGAUCGAAUAUGUA</tspan><tspan fill="#e8202a">UUUUAA</tspan><tspan>U- 5’</tspan></text>
<text x="137.1" y="615.7" font-size="6.5" textLength="120.1" lengthAdjust="spacingAndGlyphs"><tspan>5’-AUCUGGGCUGAUCCUUUUUAAC- 3’</tspan></text>
<line x1="216.5" y1="596.2" x2="216.5" y2="601.2" stroke="#e8202a" stroke-width="1.2"/>
<line x1="221.0" y1="596.2" x2="221.0" y2="601.2" stroke="#e8202a" stroke-width="1.2"/>
<line x1="225.5" y1="596.2" x2="225.5" y2="601.2" stroke="#e8202a" stroke-width="1.2"/>
<line x1="230.0" y1="596.2" x2="230.0" y2="601.2" stroke="#e8202a" stroke-width="1.2"/>
<line x1="234.7" y1="596.2" x2="234.7" y2="601.2" stroke="#e8202a" stroke-width="1.2"/>
<line x1="239.5" y1="596.2" x2="239.5" y2="601.2" stroke="#e8202a" stroke-width="1.2"/>
<text x="139.0" y="629.4" font-size="6.5" textLength="117.9" lengthAdjust="spacingAndGlyphs"><tspan>5’-UUAACGUUUUCAU</tspan><tspan fill="#e8202a">UAAAAUU</tspan><tspan>U- 3’</tspan></text>
<text x="139.0" y="640.3" font-size="6.5" textLength="117.9" lengthAdjust="spacingAndGlyphs"><tspan>3’-UGAUCGAAUAUGU</tspan><tspan fill="#e8202a">AUUUUAA</tspan><tspan>U- 5’</tspan></text>
<text x="139.0" y="650.9" font-size="6.5" textLength="117.9" lengthAdjust="spacingAndGlyphs"><tspan>5’-UUAACGUUUUCAU</tspan><tspan fill="#e8202a">AUUUUAA</tspan><tspan>U- 3’</tspan></text>
<line x1="163.2" y1="630.2" x2="163.2" y2="634.6" stroke="#231f20" stroke-width="1.2"/>
<line x1="178.1" y1="630.2" x2="178.1" y2="634.6" stroke="#231f20" stroke-width="1.2"/>
<line x1="183.0" y1="630.2" x2="183.0" y2="634.6" stroke="#231f20" stroke-width="1.2"/>
<line x1="192.8" y1="630.2" x2="192.8" y2="634.6" stroke="#231f20" stroke-width="1.2"/>
<line x1="212.1" y1="630.2" x2="212.1" y2="635.0" stroke="#e8202a" stroke-width="1.2"/>
<line x1="216.8" y1="630.2" x2="216.8" y2="635.0" stroke="#e8202a" stroke-width="1.2"/>
<line x1="221.4" y1="630.2" x2="221.4" y2="635.0" stroke="#e8202a" stroke-width="1.2"/>
<line x1="225.9" y1="630.2" x2="225.9" y2="635.0" stroke="#e8202a" stroke-width="1.2"/>
<line x1="230.4" y1="630.2" x2="230.4" y2="635.0" stroke="#e8202a" stroke-width="1.2"/>
<line x1="235.2" y1="630.2" x2="235.2" y2="635.0" stroke="#e8202a" stroke-width="1.2"/>
<line x1="240.1" y1="630.2" x2="240.1" y2="635.0" stroke="#e8202a" stroke-width="1.2"/>
<text x="356.2" y="526.6" font-size="11" fill="#000" font-weight="bold">j</text>
<rect x="428.3" y="564.8" width="12.6" height="68.8" fill="#e60012"/>
<line x1="434.6" y1="560.0" x2="434.6" y2="569.6" stroke="#9c1060" stroke-width="1"/>
<line x1="432.6" y1="560.0" x2="436.6" y2="560.0" stroke="#9c1060" stroke-width="1"/>
<line x1="432.6" y1="569.6" x2="436.6" y2="569.6" stroke="#9c1060" stroke-width="1"/>
<path d="M432.4,566.4 L434.6,562.8 L436.8,566.4Z" fill="#9c1060"/>
<rect x="446.6" y="610.2" width="12.7" height="23.4" fill="#0000c8"/>
<line x1="453.0" y1="607.5" x2="453.0" y2="612.3" stroke="#6060ff" stroke-width="1"/>
<line x1="451.0" y1="607.5" x2="455.0" y2="607.5" stroke="#6060ff" stroke-width="1"/>
<line x1="451.0" y1="612.3" x2="455.0" y2="612.3" stroke="#6060ff" stroke-width="1"/>
<path d="M450.8,611.8 L453.0,608.2 L455.2,611.8Z" fill="#6060ff"/>
<rect x="464.4" y="573.7" width="12.6" height="59.9" fill="#ef7dbf"/>
<line x1="470.7" y1="567.6" x2="470.7" y2="580.6" stroke="#e63cc8" stroke-width="1"/>
<line x1="468.7" y1="567.6" x2="472.7" y2="567.6" stroke="#e63cc8" stroke-width="1"/>
<line x1="468.7" y1="580.6" x2="472.7" y2="580.6" stroke="#e63cc8" stroke-width="1"/>
<path d="M468.5,575.3 L470.7,571.7 L472.9,575.3Z" fill="#e63cc8"/>
<rect x="482.2" y="575.1" width="12.8" height="58.5" fill="#5f1a82"/>
<line x1="488.6" y1="570.3" x2="488.6" y2="578.6" stroke="#a01080" stroke-width="1"/>
<line x1="486.6" y1="570.3" x2="490.6" y2="570.3" stroke="#a01080" stroke-width="1"/>
<line x1="486.6" y1="578.6" x2="490.6" y2="578.6" stroke="#a01080" stroke-width="1"/>
<path d="M486.4,576.7 L488.6,573.1 L490.8,576.7Z" fill="#a01080"/>
<circle cx="414.6" cy="633.1" r="1.4" fill="#111"/>
<circle cx="417.0" cy="633.1" r="1.4" fill="#111"/>
<circle cx="419.3" cy="633.1" r="1.4" fill="#111"/>
<line x1="434.4" y1="551.5" x2="455.6" y2="551.5" stroke="#333" stroke-width="0.9"/>
<line x1="434.4" y1="549.9" x2="434.4" y2="553.1" stroke="#333" stroke-width="0.9"/>
<line x1="455.6" y1="549.9" x2="455.6" y2="553.1" stroke="#333" stroke-width="0.9"/>
<text x="445.0" y="552.7" font-size="6.3" text-anchor="middle" fill="#333" stroke="#333" stroke-width="0.08">****</text>
<line x1="468.1" y1="551.5" x2="487.5" y2="551.5" stroke="#333" stroke-width="0.9"/>
<line x1="468.1" y1="549.9" x2="468.1" y2="553.1" stroke="#333" stroke-width="0.9"/>
<line x1="487.5" y1="549.9" x2="487.5" y2="553.1" stroke="#333" stroke-width="0.9"/>
<text x="477.8" y="549.1" font-size="6.8" text-anchor="middle" fill="#333" stroke="#333" stroke-width="0.08">ns</text>
<line x1="407.5" y1="529.9" x2="407.5" y2="634.2" stroke="#231f20" stroke-width="1.1"/>
<line x1="407.5" y1="633.6" x2="497.7" y2="633.6" stroke="#231f20" stroke-width="1.1"/>
<line x1="405.5" y1="633.6" x2="407.5" y2="633.6" stroke="#231f20" stroke-width="1"/>
<text x="404.9" y="636.1" font-size="7" text-anchor="end" stroke="#111" stroke-width="0.08">0</text>
<line x1="405.5" y1="599.2" x2="407.5" y2="599.2" stroke="#231f20" stroke-width="1"/>
<text x="404.9" y="601.7" font-size="7" text-anchor="end" stroke="#111" stroke-width="0.08">50</text>
<line x1="405.5" y1="564.8" x2="407.5" y2="564.8" stroke="#231f20" stroke-width="1"/>
<text x="404.9" y="567.3" font-size="7" text-anchor="end" stroke="#111" stroke-width="0.08">100</text>
<line x1="405.5" y1="530.4" x2="407.5" y2="530.4" stroke="#231f20" stroke-width="1"/>
<text x="404.9" y="532.9" font-size="7" text-anchor="end" stroke="#111" stroke-width="0.08">150</text>
<text x="380.5" y="578.5" font-size="6.6" text-anchor="middle" stroke="#111" stroke-width="0.08" transform="rotate(-90 380.5 578.5)">Relatived Luciferase/Renilla</text>
<text x="388.7" y="578.5" font-size="7" text-anchor="middle" stroke="#111" stroke-width="0.08" transform="rotate(-90 388.7 578.5)">activity (%)</text>
<text x="402.8" y="640.9" font-size="7" text-anchor="end" stroke="#111" stroke-width="0.08">Empty vector</text>
<line x1="414.1" y1="640.3" x2="417.7" y2="640.3" stroke="#231f20" stroke-width="0.95"/>
<line x1="415.9" y1="638.5" x2="415.9" y2="642.1" stroke="#231f20" stroke-width="0.95"/>
<line x1="433.8" y1="641.3" x2="435.6" y2="641.3" stroke="#231f20" stroke-width="1"/>
<line x1="453.3" y1="641.3" x2="455.1" y2="641.3" stroke="#231f20" stroke-width="1"/>
<line x1="471.0" y1="641.3" x2="472.8" y2="641.3" stroke="#231f20" stroke-width="1"/>
<line x1="490.0" y1="641.3" x2="491.8" y2="641.3" stroke="#231f20" stroke-width="1"/>
<text x="402.8" y="651.5" font-size="7" text-anchor="end" stroke="#111" stroke-width="0.08">hsa-mir-590</text>
<line x1="415.0" y1="651.9" x2="416.8" y2="651.9" stroke="#231f20" stroke-width="1"/>
<line x1="433.8" y1="651.9" x2="435.6" y2="651.9" stroke="#231f20" stroke-width="1"/>
<line x1="452.4" y1="650.9" x2="456.0" y2="650.9" stroke="#231f20" stroke-width="0.95"/>
<line x1="454.2" y1="649.1" x2="454.2" y2="652.7" stroke="#231f20" stroke-width="0.95"/>
<line x1="471.0" y1="651.9" x2="472.8" y2="651.9" stroke="#231f20" stroke-width="1"/>
<line x1="489.1" y1="650.9" x2="492.7" y2="650.9" stroke="#231f20" stroke-width="0.95"/>
<line x1="490.9" y1="649.1" x2="490.9" y2="652.7" stroke="#231f20" stroke-width="0.95"/>
<text x="402.8" y="662.4" font-size="7" text-anchor="end" stroke="#111" stroke-width="0.08">MYC-UTR-luci</text>
<line x1="415.0" y1="662.8" x2="416.8" y2="662.8" stroke="#231f20" stroke-width="1"/>
<line x1="432.9" y1="661.8" x2="436.5" y2="661.8" stroke="#231f20" stroke-width="0.95"/>
<line x1="434.7" y1="660.0" x2="434.7" y2="663.6" stroke="#231f20" stroke-width="0.95"/>
<line x1="452.4" y1="661.8" x2="456.0" y2="661.8" stroke="#231f20" stroke-width="0.95"/>
<line x1="454.2" y1="660.0" x2="454.2" y2="663.6" stroke="#231f20" stroke-width="0.95"/>
<line x1="471.0" y1="662.8" x2="472.8" y2="662.8" stroke="#231f20" stroke-width="1"/>
<line x1="490.0" y1="662.8" x2="491.8" y2="662.8" stroke="#231f20" stroke-width="1"/>
<text x="402.8" y="673.2" font-size="7" text-anchor="end" stroke="#111" stroke-width="0.08">MYC-UTR-mutant-luci</text>
<line x1="415.0" y1="673.6" x2="416.8" y2="673.6" stroke="#231f20" stroke-width="1"/>
<line x1="433.8" y1="673.6" x2="435.6" y2="673.6" stroke="#231f20" stroke-width="1"/>
<line x1="453.3" y1="673.6" x2="455.1" y2="673.6" stroke="#231f20" stroke-width="1"/>
<line x1="470.1" y1="672.6" x2="473.7" y2="672.6" stroke="#231f20" stroke-width="0.95"/>
<line x1="471.9" y1="670.8" x2="471.9" y2="674.4" stroke="#231f20" stroke-width="0.95"/>
<line x1="489.1" y1="672.6" x2="492.7" y2="672.6" stroke="#231f20" stroke-width="0.95"/>
<line x1="490.9" y1="670.8" x2="490.9" y2="674.4" stroke="#231f20" stroke-width="0.95"/>
<line x1="454.2" y1="633.6" x2="454.2" y2="635.6" stroke="#231f20" stroke-width="0.9"/>
<text x="520.3" y="526.4" font-size="11" fill="#000" font-weight="bold">k</text>
<rect x="611.3" y="564.5" width="12.4" height="69.2" fill="#e60012"/>
<line x1="617.5" y1="556.9" x2="617.5" y2="571.4" stroke="#9c1060" stroke-width="1"/>
<line x1="615.5" y1="556.9" x2="619.5" y2="556.9" stroke="#9c1060" stroke-width="1"/>
<line x1="615.5" y1="571.4" x2="619.5" y2="571.4" stroke="#9c1060" stroke-width="1"/>
<path d="M615.3,566.1 L617.5,562.5 L619.7,566.1Z" fill="#9c1060"/>
<rect x="629.1" y="607.4" width="12.7" height="26.3" fill="#0000c8"/>
<line x1="635.5" y1="603.9" x2="635.5" y2="610.9" stroke="#6060ff" stroke-width="1"/>
<line x1="633.5" y1="603.9" x2="637.5" y2="603.9" stroke="#6060ff" stroke-width="1"/>
<line x1="633.5" y1="610.9" x2="637.5" y2="610.9" stroke="#6060ff" stroke-width="1"/>
<path d="M633.2,609.0 L635.5,605.4 L637.7,609.0Z" fill="#6060ff"/>
<rect x="647.2" y="559.7" width="12.7" height="74.0" fill="#ef7dbf"/>
<line x1="653.5" y1="551.4" x2="653.5" y2="568.0" stroke="#e63cc8" stroke-width="1"/>
<line x1="651.5" y1="551.4" x2="655.5" y2="551.4" stroke="#e63cc8" stroke-width="1"/>
<line x1="651.5" y1="568.0" x2="655.5" y2="568.0" stroke="#e63cc8" stroke-width="1"/>
<path d="M651.3,561.3 L653.5,557.7 L655.8,561.3Z" fill="#e63cc8"/>
<rect x="665.3" y="568.0" width="12.4" height="65.7" fill="#5f1a82"/>
<line x1="671.5" y1="563.8" x2="671.5" y2="571.4" stroke="#a01080" stroke-width="1"/>
<line x1="669.5" y1="563.8" x2="673.5" y2="563.8" stroke="#a01080" stroke-width="1"/>
<line x1="669.5" y1="571.4" x2="673.5" y2="571.4" stroke="#a01080" stroke-width="1"/>
<path d="M669.3,569.6 L671.5,566.0 L673.7,569.6Z" fill="#a01080"/>
<circle cx="596.6" cy="633.2" r="1.4" fill="#111"/>
<circle cx="598.8" cy="633.2" r="1.4" fill="#111"/>
<circle cx="601.1" cy="633.2" r="1.4" fill="#111"/>
<line x1="616.7" y1="545.1" x2="638.3" y2="545.1" stroke="#333" stroke-width="0.9"/>
<line x1="616.7" y1="543.5" x2="616.7" y2="546.7" stroke="#333" stroke-width="0.9"/>
<line x1="638.3" y1="543.5" x2="638.3" y2="546.7" stroke="#333" stroke-width="0.9"/>
<text x="627.5" y="546.3" font-size="6.3" text-anchor="middle" fill="#333" stroke="#333" stroke-width="0.08">****</text>
<line x1="652.6" y1="545.1" x2="671.5" y2="545.1" stroke="#333" stroke-width="0.9"/>
<line x1="652.6" y1="543.5" x2="652.6" y2="546.7" stroke="#333" stroke-width="0.9"/>
<line x1="671.5" y1="543.5" x2="671.5" y2="546.7" stroke="#333" stroke-width="0.9"/>
<text x="662.0" y="542.7" font-size="6.8" text-anchor="middle" fill="#333" stroke="#333" stroke-width="0.08">ns</text>
<line x1="589.7" y1="529.4" x2="589.7" y2="634.3" stroke="#231f20" stroke-width="1.1"/>
<line x1="589.7" y1="633.7" x2="678.2" y2="633.7" stroke="#231f20" stroke-width="1.1"/>
<line x1="587.7" y1="633.7" x2="589.7" y2="633.7" stroke="#231f20" stroke-width="1"/>
<text x="587.1" y="636.2" font-size="7" text-anchor="end" stroke="#111" stroke-width="0.08">0</text>
<line x1="587.7" y1="599.1" x2="589.7" y2="599.1" stroke="#231f20" stroke-width="1"/>
<text x="587.1" y="601.6" font-size="7" text-anchor="end" stroke="#111" stroke-width="0.08">50</text>
<line x1="587.7" y1="564.5" x2="589.7" y2="564.5" stroke="#231f20" stroke-width="1"/>
<text x="587.1" y="567.0" font-size="7" text-anchor="end" stroke="#111" stroke-width="0.08">100</text>
<line x1="587.7" y1="529.9" x2="589.7" y2="529.9" stroke="#231f20" stroke-width="1"/>
<text x="587.1" y="532.4" font-size="7" text-anchor="end" stroke="#111" stroke-width="0.08">150</text>
<text x="564.1" y="578.9" font-size="6.6" text-anchor="middle" stroke="#111" stroke-width="0.08" transform="rotate(-90 564.1 578.9)">Relatived Luciferase/Renilla</text>
<text x="572.3" y="578.9" font-size="7" text-anchor="middle" stroke="#111" stroke-width="0.08" transform="rotate(-90 572.3 578.9)">activity (%)</text>
<text x="585.9" y="641.0" font-size="7" text-anchor="end" stroke="#111" stroke-width="0.08">Empty vector</text>
<line x1="597.6" y1="640.4" x2="601.2" y2="640.4" stroke="#231f20" stroke-width="0.95"/>
<line x1="599.4" y1="638.6" x2="599.4" y2="642.2" stroke="#231f20" stroke-width="0.95"/>
<line x1="615.8" y1="641.4" x2="617.6" y2="641.4" stroke="#231f20" stroke-width="1"/>
<line x1="634.1" y1="641.4" x2="635.9" y2="641.4" stroke="#231f20" stroke-width="1"/>
<line x1="652.5" y1="641.4" x2="654.3" y2="641.4" stroke="#231f20" stroke-width="1"/>
<line x1="671.4" y1="641.4" x2="673.2" y2="641.4" stroke="#231f20" stroke-width="1"/>
<text x="585.9" y="651.0" font-size="7" text-anchor="end" stroke="#111" stroke-width="0.08">hsa-mir-590</text>
<line x1="598.5" y1="651.4" x2="600.3" y2="651.4" stroke="#231f20" stroke-width="1"/>
<line x1="615.8" y1="651.4" x2="617.6" y2="651.4" stroke="#231f20" stroke-width="1"/>
<line x1="633.2" y1="650.4" x2="636.8" y2="650.4" stroke="#231f20" stroke-width="0.95"/>
<line x1="635.0" y1="648.6" x2="635.0" y2="652.2" stroke="#231f20" stroke-width="0.95"/>
<line x1="652.5" y1="651.4" x2="654.3" y2="651.4" stroke="#231f20" stroke-width="1"/>
<line x1="670.5" y1="650.4" x2="674.1" y2="650.4" stroke="#231f20" stroke-width="0.95"/>
<line x1="672.3" y1="648.6" x2="672.3" y2="652.2" stroke="#231f20" stroke-width="0.95"/>
<text x="585.9" y="661.8" font-size="7" text-anchor="end" stroke="#111" stroke-width="0.08">ZNF281-UTR-luci</text>
<line x1="598.5" y1="662.2" x2="600.3" y2="662.2" stroke="#231f20" stroke-width="1"/>
<line x1="614.9" y1="661.2" x2="618.5" y2="661.2" stroke="#231f20" stroke-width="0.95"/>
<line x1="616.7" y1="659.4" x2="616.7" y2="663.0" stroke="#231f20" stroke-width="0.95"/>
<line x1="633.2" y1="661.2" x2="636.8" y2="661.2" stroke="#231f20" stroke-width="0.95"/>
<line x1="635.0" y1="659.4" x2="635.0" y2="663.0" stroke="#231f20" stroke-width="0.95"/>
<line x1="652.5" y1="662.2" x2="654.3" y2="662.2" stroke="#231f20" stroke-width="1"/>
<line x1="671.4" y1="662.2" x2="673.2" y2="662.2" stroke="#231f20" stroke-width="1"/>
<text x="585.9" y="672.1" font-size="7" text-anchor="end" stroke="#111" stroke-width="0.08">ZNF281-UTR- mutant-luci</text>
<line x1="598.5" y1="672.5" x2="600.3" y2="672.5" stroke="#231f20" stroke-width="1"/>
<line x1="615.8" y1="672.5" x2="617.6" y2="672.5" stroke="#231f20" stroke-width="1"/>
<line x1="634.1" y1="672.5" x2="635.9" y2="672.5" stroke="#231f20" stroke-width="1"/>
<line x1="651.6" y1="671.5" x2="655.2" y2="671.5" stroke="#231f20" stroke-width="0.95"/>
<line x1="653.4" y1="669.7" x2="653.4" y2="673.3" stroke="#231f20" stroke-width="0.95"/>
<line x1="670.5" y1="671.5" x2="674.1" y2="671.5" stroke="#231f20" stroke-width="0.95"/>
<line x1="672.3" y1="669.7" x2="672.3" y2="673.3" stroke="#231f20" stroke-width="0.95"/>
<line x1="635.0" y1="633.7" x2="635.0" y2="635.7" stroke="#231f20" stroke-width="0.9"/>
<text x="25.0" y="714.2" font-size="11" fill="#000" font-weight="bold">l</text>
<rect x="103.8" y="779.3" width="12.6" height="68.1" fill="#e60012"/>
<line x1="110.1" y1="777.9" x2="110.1" y2="780.3" stroke="#9c1060" stroke-width="1"/>
<line x1="108.1" y1="777.9" x2="112.1" y2="777.9" stroke="#9c1060" stroke-width="1"/>
<line x1="108.1" y1="780.3" x2="112.1" y2="780.3" stroke="#9c1060" stroke-width="1"/>
<path d="M107.9,780.9 L110.1,777.3 L112.3,780.9Z" fill="#9c1060"/>
<rect x="121.6" y="803.1" width="13.0" height="44.3" fill="#0000c8"/>
<line x1="128.1" y1="799.7" x2="128.1" y2="805.9" stroke="#6060ff" stroke-width="1"/>
<line x1="126.1" y1="799.7" x2="130.1" y2="799.7" stroke="#6060ff" stroke-width="1"/>
<line x1="126.1" y1="805.9" x2="130.1" y2="805.9" stroke="#6060ff" stroke-width="1"/>
<path d="M125.9,804.7 L128.1,801.1 L130.3,804.7Z" fill="#6060ff"/>
<rect x="139.2" y="771.8" width="13.3" height="75.6" fill="#ef7dbf"/>
<line x1="145.8" y1="769.1" x2="145.8" y2="774.2" stroke="#e63cc8" stroke-width="1"/>
<line x1="143.8" y1="769.1" x2="147.8" y2="769.1" stroke="#e63cc8" stroke-width="1"/>
<line x1="143.8" y1="774.2" x2="147.8" y2="774.2" stroke="#e63cc8" stroke-width="1"/>
<path d="M143.7,773.4 L145.8,769.8 L148.0,773.4Z" fill="#e63cc8"/>
<rect x="157.3" y="766.4" width="12.9" height="81.0" fill="#5f1a82"/>
<line x1="163.8" y1="761.6" x2="163.8" y2="769.8" stroke="#a01080" stroke-width="1"/>
<line x1="161.8" y1="761.6" x2="165.8" y2="761.6" stroke="#a01080" stroke-width="1"/>
<line x1="161.8" y1="769.8" x2="165.8" y2="769.8" stroke="#a01080" stroke-width="1"/>
<path d="M161.6,768.0 L163.8,764.4 L165.9,768.0Z" fill="#a01080"/>
<circle cx="90.1" cy="846.9" r="1.4" fill="#111"/>
<circle cx="92.3" cy="846.9" r="1.4" fill="#111"/>
<circle cx="94.6" cy="846.9" r="1.4" fill="#111"/>
<line x1="109.5" y1="766.1" x2="131.0" y2="766.1" stroke="#333" stroke-width="0.9"/>
<line x1="109.5" y1="764.5" x2="109.5" y2="767.7" stroke="#333" stroke-width="0.9"/>
<line x1="131.0" y1="764.5" x2="131.0" y2="767.7" stroke="#333" stroke-width="0.9"/>
<text x="120.2" y="767.3" font-size="6.3" text-anchor="middle" fill="#333" stroke="#333" stroke-width="0.08">***</text>
<line x1="143.2" y1="754.0" x2="163.5" y2="754.0" stroke="#333" stroke-width="0.9"/>
<line x1="143.2" y1="752.4" x2="143.2" y2="755.6" stroke="#333" stroke-width="0.9"/>
<line x1="163.5" y1="752.4" x2="163.5" y2="755.6" stroke="#333" stroke-width="0.9"/>
<text x="153.3" y="751.6" font-size="6.8" text-anchor="middle" fill="#333" stroke="#333" stroke-width="0.08">ns</text>
<line x1="83.6" y1="744.8" x2="83.6" y2="848.0" stroke="#231f20" stroke-width="1.1"/>
<line x1="83.6" y1="847.4" x2="173.4" y2="847.4" stroke="#231f20" stroke-width="1.1"/>
<line x1="81.6" y1="847.4" x2="83.6" y2="847.4" stroke="#231f20" stroke-width="1"/>
<text x="81.0" y="849.9" font-size="7" text-anchor="end" stroke="#111" stroke-width="0.08">0</text>
<line x1="81.6" y1="813.4" x2="83.6" y2="813.4" stroke="#231f20" stroke-width="1"/>
<text x="81.0" y="815.9" font-size="7" text-anchor="end" stroke="#111" stroke-width="0.08">50</text>
<line x1="81.6" y1="779.3" x2="83.6" y2="779.3" stroke="#231f20" stroke-width="1"/>
<text x="81.0" y="781.8" font-size="7" text-anchor="end" stroke="#111" stroke-width="0.08">100</text>
<line x1="81.6" y1="745.2" x2="83.6" y2="745.2" stroke="#231f20" stroke-width="1"/>
<text x="81.0" y="747.8" font-size="7" text-anchor="end" stroke="#111" stroke-width="0.08">150</text>
<text x="55.0" y="793.0" font-size="6.6" text-anchor="middle" stroke="#111" stroke-width="0.08" transform="rotate(-90 55.0 793.0)">Relatived Luciferase/Renilla</text>
<text x="63.2" y="793.0" font-size="7" text-anchor="middle" stroke="#111" stroke-width="0.08" transform="rotate(-90 63.2 793.0)">activity (%)</text>
<text x="80.1" y="858.5" font-size="7" text-anchor="end" stroke="#111" stroke-width="0.08">Empty vector</text>
<line x1="89.6" y1="857.9" x2="93.2" y2="857.9" stroke="#231f20" stroke-width="0.95"/>
<line x1="91.4" y1="856.1" x2="91.4" y2="859.7" stroke="#231f20" stroke-width="0.95"/>
<line x1="108.9" y1="858.9" x2="110.7" y2="858.9" stroke="#231f20" stroke-width="1"/>
<line x1="127.1" y1="858.9" x2="128.9" y2="858.9" stroke="#231f20" stroke-width="1"/>
<line x1="144.9" y1="858.9" x2="146.7" y2="858.9" stroke="#231f20" stroke-width="1"/>
<line x1="162.5" y1="858.9" x2="164.3" y2="858.9" stroke="#231f20" stroke-width="1"/>
<text x="80.1" y="868.7" font-size="7" text-anchor="end" stroke="#111" stroke-width="0.08">hsa-mir-590</text>
<line x1="90.5" y1="869.1" x2="92.3" y2="869.1" stroke="#231f20" stroke-width="1"/>
<line x1="108.9" y1="869.1" x2="110.7" y2="869.1" stroke="#231f20" stroke-width="1"/>
<line x1="126.2" y1="868.1" x2="129.8" y2="868.1" stroke="#231f20" stroke-width="0.95"/>
<line x1="128.0" y1="866.3" x2="128.0" y2="869.9" stroke="#231f20" stroke-width="0.95"/>
<line x1="144.9" y1="869.1" x2="146.7" y2="869.1" stroke="#231f20" stroke-width="1"/>
<line x1="161.6" y1="868.1" x2="165.2" y2="868.1" stroke="#231f20" stroke-width="0.95"/>
<line x1="163.4" y1="866.3" x2="163.4" y2="869.9" stroke="#231f20" stroke-width="0.95"/>
<text x="80.1" y="880.6" font-size="7" text-anchor="end" stroke="#111" stroke-width="0.08">DNMT3B-UTR-luci</text>
<line x1="90.5" y1="881.0" x2="92.3" y2="881.0" stroke="#231f20" stroke-width="1"/>
<line x1="108.0" y1="880.0" x2="111.6" y2="880.0" stroke="#231f20" stroke-width="0.95"/>
<line x1="109.8" y1="878.2" x2="109.8" y2="881.8" stroke="#231f20" stroke-width="0.95"/>
<line x1="126.2" y1="880.0" x2="129.8" y2="880.0" stroke="#231f20" stroke-width="0.95"/>
<line x1="128.0" y1="878.2" x2="128.0" y2="881.8" stroke="#231f20" stroke-width="0.95"/>
<line x1="144.9" y1="881.0" x2="146.7" y2="881.0" stroke="#231f20" stroke-width="1"/>
<line x1="162.5" y1="881.0" x2="164.3" y2="881.0" stroke="#231f20" stroke-width="1"/>
<text x="80.1" y="890.6" font-size="7" text-anchor="end" stroke="#111" stroke-width="0.08">DNMT3B-UTR-mutant-luci</text>
<line x1="90.5" y1="891.0" x2="92.3" y2="891.0" stroke="#231f20" stroke-width="1"/>
<line x1="108.9" y1="891.0" x2="110.7" y2="891.0" stroke="#231f20" stroke-width="1"/>
<line x1="127.1" y1="891.0" x2="128.9" y2="891.0" stroke="#231f20" stroke-width="1"/>
<line x1="144.0" y1="890.0" x2="147.6" y2="890.0" stroke="#231f20" stroke-width="0.95"/>
<line x1="145.8" y1="888.2" x2="145.8" y2="891.8" stroke="#231f20" stroke-width="0.95"/>
<line x1="161.6" y1="890.0" x2="165.2" y2="890.0" stroke="#231f20" stroke-width="0.95"/>
<line x1="163.4" y1="888.2" x2="163.4" y2="891.8" stroke="#231f20" stroke-width="0.95"/>
<line x1="128.0" y1="847.4" x2="128.0" y2="849.4" stroke="#231f20" stroke-width="0.9"/>
<text x="195.0" y="713.8" font-size="11" fill="#000" font-weight="bold">m</text>
<rect x="249.9" y="781.6" width="12.5" height="69.0" fill="#e60012"/>
<line x1="256.1" y1="776.1" x2="256.1" y2="786.4" stroke="#9c1060" stroke-width="1"/>
<line x1="254.1" y1="776.1" x2="258.1" y2="776.1" stroke="#9c1060" stroke-width="1"/>
<line x1="254.1" y1="786.4" x2="258.1" y2="786.4" stroke="#9c1060" stroke-width="1"/>
<path d="M253.9,783.2 L256.1,779.6 L258.3,783.2Z" fill="#9c1060"/>
<rect x="267.1" y="831.3" width="13.0" height="19.3" fill="#0000c8"/>
<line x1="273.6" y1="824.4" x2="273.6" y2="837.5" stroke="#6060ff" stroke-width="1"/>
<line x1="271.6" y1="824.4" x2="275.6" y2="824.4" stroke="#6060ff" stroke-width="1"/>
<line x1="271.6" y1="837.5" x2="275.6" y2="837.5" stroke="#6060ff" stroke-width="1"/>
<path d="M271.4,832.9 L273.6,829.3 L275.8,832.9Z" fill="#6060ff"/>
<rect x="285.1" y="793.3" width="13.1" height="57.3" fill="#ef7dbf"/>
<line x1="291.6" y1="791.3" x2="291.6" y2="795.4" stroke="#e63cc8" stroke-width="1"/>
<line x1="289.6" y1="791.3" x2="293.6" y2="791.3" stroke="#e63cc8" stroke-width="1"/>
<line x1="289.6" y1="795.4" x2="293.6" y2="795.4" stroke="#e63cc8" stroke-width="1"/>
<path d="M289.4,794.9 L291.6,791.3 L293.8,794.9Z" fill="#e63cc8"/>
<rect x="303.2" y="791.3" width="12.4" height="59.3" fill="#5f1a82"/>
<line x1="309.4" y1="788.5" x2="309.4" y2="794.0" stroke="#a01080" stroke-width="1"/>
<line x1="307.4" y1="788.5" x2="311.4" y2="788.5" stroke="#a01080" stroke-width="1"/>
<line x1="307.4" y1="794.0" x2="311.4" y2="794.0" stroke="#a01080" stroke-width="1"/>
<path d="M307.2,792.9 L309.4,789.3 L311.6,792.9Z" fill="#a01080"/>
<circle cx="235.7" cy="850.1" r="1.4" fill="#111"/>
<circle cx="238.0" cy="850.1" r="1.4" fill="#111"/>
<circle cx="240.3" cy="850.1" r="1.4" fill="#111"/>
<line x1="256.0" y1="768.2" x2="276.2" y2="768.2" stroke="#333" stroke-width="0.9"/>
<line x1="256.0" y1="766.6" x2="256.0" y2="769.8" stroke="#333" stroke-width="0.9"/>
<line x1="276.2" y1="766.6" x2="276.2" y2="769.8" stroke="#333" stroke-width="0.9"/>
<text x="266.1" y="769.4" font-size="6.3" text-anchor="middle" fill="#333" stroke="#333" stroke-width="0.08">****</text>
<line x1="271.2" y1="755.5" x2="290.1" y2="755.5" stroke="#333" stroke-width="0.9"/>
<line x1="271.2" y1="753.9" x2="271.2" y2="757.1" stroke="#333" stroke-width="0.9"/>
<line x1="290.1" y1="753.9" x2="290.1" y2="757.1" stroke="#333" stroke-width="0.9"/>
<text x="280.6" y="756.7" font-size="6.3" text-anchor="middle" fill="#333" stroke="#333" stroke-width="0.08">****</text>
<line x1="271.2" y1="742.4" x2="308.7" y2="742.4" stroke="#333" stroke-width="0.9"/>
<line x1="271.2" y1="740.8" x2="271.2" y2="744.0" stroke="#333" stroke-width="0.9"/>
<line x1="308.7" y1="740.8" x2="308.7" y2="744.0" stroke="#333" stroke-width="0.9"/>
<text x="289.9" y="743.6" font-size="6.3" text-anchor="middle" fill="#333" stroke="#333" stroke-width="0.08">****</text>
<line x1="228.3" y1="746.6" x2="228.3" y2="851.2" stroke="#231f20" stroke-width="1.1"/>
<line x1="228.3" y1="850.6" x2="318.4" y2="850.6" stroke="#231f20" stroke-width="1.1"/>
<line x1="226.3" y1="850.6" x2="228.3" y2="850.6" stroke="#231f20" stroke-width="1"/>
<text x="225.7" y="853.1" font-size="7" text-anchor="end" stroke="#111" stroke-width="0.08">0</text>
<line x1="226.3" y1="816.1" x2="228.3" y2="816.1" stroke="#231f20" stroke-width="1"/>
<text x="225.7" y="818.6" font-size="7" text-anchor="end" stroke="#111" stroke-width="0.08">50</text>
<line x1="226.3" y1="781.6" x2="228.3" y2="781.6" stroke="#231f20" stroke-width="1"/>
<text x="225.7" y="784.1" font-size="7" text-anchor="end" stroke="#111" stroke-width="0.08">100</text>
<line x1="226.3" y1="747.1" x2="228.3" y2="747.1" stroke="#231f20" stroke-width="1"/>
<text x="225.7" y="749.6" font-size="7" text-anchor="end" stroke="#111" stroke-width="0.08">150</text>
<text x="201.6" y="795.1" font-size="6.6" text-anchor="middle" stroke="#111" stroke-width="0.08" transform="rotate(-90 201.6 795.1)">Relatived Luciferase/Renilla</text>
<text x="209.8" y="795.1" font-size="7" text-anchor="middle" stroke="#111" stroke-width="0.08" transform="rotate(-90 209.8 795.1)">activity (%)</text>
<text x="229.1" y="860.9" font-size="7" text-anchor="end" stroke="#111" stroke-width="0.08">Empty vector</text>
<line x1="237.0" y1="860.3" x2="240.6" y2="860.3" stroke="#231f20" stroke-width="0.95"/>
<line x1="238.8" y1="858.5" x2="238.8" y2="862.1" stroke="#231f20" stroke-width="0.95"/>
<line x1="255.6" y1="861.3" x2="257.4" y2="861.3" stroke="#231f20" stroke-width="1"/>
<line x1="273.4" y1="861.3" x2="275.2" y2="861.3" stroke="#231f20" stroke-width="1"/>
<line x1="290.1" y1="861.3" x2="291.9" y2="861.3" stroke="#231f20" stroke-width="1"/>
<line x1="308.6" y1="861.3" x2="310.4" y2="861.3" stroke="#231f20" stroke-width="1"/>
<text x="229.1" y="871.4" font-size="7" text-anchor="end" stroke="#111" stroke-width="0.08">hsa-mir-590</text>
<line x1="237.9" y1="871.8" x2="239.7" y2="871.8" stroke="#231f20" stroke-width="1"/>
<line x1="255.6" y1="871.8" x2="257.4" y2="871.8" stroke="#231f20" stroke-width="1"/>
<line x1="272.5" y1="870.8" x2="276.1" y2="870.8" stroke="#231f20" stroke-width="0.95"/>
<line x1="274.3" y1="869.0" x2="274.3" y2="872.6" stroke="#231f20" stroke-width="0.95"/>
<line x1="289.2" y1="870.8" x2="292.8" y2="870.8" stroke="#231f20" stroke-width="0.95"/>
<line x1="291.0" y1="869.0" x2="291.0" y2="872.6" stroke="#231f20" stroke-width="0.95"/>
<line x1="307.7" y1="870.8" x2="311.3" y2="870.8" stroke="#231f20" stroke-width="0.95"/>
<line x1="309.5" y1="869.0" x2="309.5" y2="872.6" stroke="#231f20" stroke-width="0.95"/>
<text x="229.1" y="882.3" font-size="7" text-anchor="end" stroke="#111" stroke-width="0.08">MYC-UTR-luci</text>
<line x1="237.9" y1="882.7" x2="239.7" y2="882.7" stroke="#231f20" stroke-width="1"/>
<line x1="254.7" y1="881.7" x2="258.3" y2="881.7" stroke="#231f20" stroke-width="0.95"/>
<line x1="256.5" y1="879.9" x2="256.5" y2="883.5" stroke="#231f20" stroke-width="0.95"/>
<line x1="272.5" y1="881.7" x2="276.1" y2="881.7" stroke="#231f20" stroke-width="0.95"/>
<line x1="274.3" y1="879.9" x2="274.3" y2="883.5" stroke="#231f20" stroke-width="0.95"/>
<line x1="289.2" y1="881.7" x2="292.8" y2="881.7" stroke="#231f20" stroke-width="0.95"/>
<line x1="291.0" y1="879.9" x2="291.0" y2="883.5" stroke="#231f20" stroke-width="0.95"/>
<line x1="307.7" y1="881.7" x2="311.3" y2="881.7" stroke="#231f20" stroke-width="0.95"/>
<line x1="309.5" y1="879.9" x2="309.5" y2="883.5" stroke="#231f20" stroke-width="0.95"/>
<text x="229.1" y="892.0" font-size="7" text-anchor="end" stroke="#111" stroke-width="0.08">ZNF281-UTR</text>
<line x1="237.9" y1="892.4" x2="239.7" y2="892.4" stroke="#231f20" stroke-width="1"/>
<line x1="255.6" y1="892.4" x2="257.4" y2="892.4" stroke="#231f20" stroke-width="1"/>
<line x1="273.4" y1="892.4" x2="275.2" y2="892.4" stroke="#231f20" stroke-width="1"/>
<line x1="289.2" y1="891.4" x2="292.8" y2="891.4" stroke="#231f20" stroke-width="0.95"/>
<line x1="291.0" y1="889.6" x2="291.0" y2="893.2" stroke="#231f20" stroke-width="0.95"/>
<line x1="308.6" y1="892.4" x2="310.4" y2="892.4" stroke="#231f20" stroke-width="1"/>
<text x="229.1" y="901.1" font-size="7" text-anchor="end" stroke="#111" stroke-width="0.08">DNMT3B-UTR</text>
<line x1="237.9" y1="901.5" x2="239.7" y2="901.5" stroke="#231f20" stroke-width="1"/>
<line x1="255.6" y1="901.5" x2="257.4" y2="901.5" stroke="#231f20" stroke-width="1"/>
<line x1="273.4" y1="901.5" x2="275.2" y2="901.5" stroke="#231f20" stroke-width="1"/>
<line x1="290.1" y1="901.5" x2="291.9" y2="901.5" stroke="#231f20" stroke-width="1"/>
<line x1="307.7" y1="900.5" x2="311.3" y2="900.5" stroke="#231f20" stroke-width="0.95"/>
<line x1="309.5" y1="898.7" x2="309.5" y2="902.3" stroke="#231f20" stroke-width="0.95"/>
<line x1="274.3" y1="850.6" x2="274.3" y2="852.6" stroke="#231f20" stroke-width="0.9"/>
<text x="353.0" y="713.8" font-size="11" fill="#000" font-weight="bold">n</text>
<rect x="402.7" y="690.5" width="10.0" height="4.9" fill="#000"/>
<text x="415.5" y="695.4" font-size="6.7" stroke="#111" stroke-width="0.08">vector</text>
<rect x="402.7" y="700.9" width="10.0" height="4.9" fill="#ff0000"/>
<text x="415.5" y="705.8" font-size="6.7" stroke="#111" stroke-width="0.08">hsa-mir-590</text>
<rect x="402.7" y="711.3" width="10.0" height="4.9" fill="#0000cc"/>
<text x="415.5" y="716.2" font-size="6.7" stroke="#111" stroke-width="0.08">hsa-mir-590-mutant</text>
<rect x="409.1" y="820.6" width="9.1" height="12.5" fill="#000"/>
<line x1="413.6" y1="817.2" x2="413.6" y2="823.7" stroke="#9a9a9a" stroke-width="1"/>
<line x1="411.8" y1="817.2" x2="415.4" y2="817.2" stroke="#9a9a9a" stroke-width="1"/>
<line x1="411.8" y1="823.7" x2="415.4" y2="823.7" stroke="#9a9a9a" stroke-width="1"/>
<path d="M411.4,822.2 L413.6,818.6 L415.8,822.2Z" fill="#9a9a9a"/>
<rect x="421.0" y="747.8" width="9.5" height="85.3" fill="#ff0000"/>
<line x1="425.8" y1="746.0" x2="425.8" y2="749.9" stroke="#a00d0d" stroke-width="1"/>
<line x1="423.9" y1="746.0" x2="427.6" y2="746.0" stroke="#a00d0d" stroke-width="1"/>
<line x1="423.9" y1="749.9" x2="427.6" y2="749.9" stroke="#a00d0d" stroke-width="1"/>
<path d="M423.6,749.4 L425.8,745.8 L427.9,749.4Z" fill="#a00d0d"/>
<rect x="434.1" y="753.2" width="9.1" height="79.9" fill="#0000cc"/>
<line x1="438.6" y1="749.9" x2="438.6" y2="756.7" stroke="#5858f0" stroke-width="1"/>
<line x1="436.8" y1="749.9" x2="440.4" y2="749.9" stroke="#5858f0" stroke-width="1"/>
<line x1="436.8" y1="756.7" x2="440.4" y2="756.7" stroke="#5858f0" stroke-width="1"/>
<path d="M436.4,751.6 L438.6,755.2 L440.8,751.6Z" fill="#5858f0"/>
<rect x="454.3" y="820.6" width="8.9" height="12.5" fill="#000"/>
<line x1="458.8" y1="815.7" x2="458.8" y2="824.8" stroke="#9a9a9a" stroke-width="1"/>
<line x1="456.9" y1="815.7" x2="460.6" y2="815.7" stroke="#9a9a9a" stroke-width="1"/>
<line x1="456.9" y1="824.8" x2="460.6" y2="824.8" stroke="#9a9a9a" stroke-width="1"/>
<path d="M456.6,822.2 L458.8,818.6 L460.9,822.2Z" fill="#9a9a9a"/>
<rect x="466.0" y="732.2" width="9.1" height="100.9" fill="#ff0000"/>
<line x1="470.6" y1="731.1" x2="470.6" y2="733.5" stroke="#a00d0d" stroke-width="1"/>
<line x1="468.8" y1="731.1" x2="472.4" y2="731.1" stroke="#a00d0d" stroke-width="1"/>
<line x1="468.8" y1="733.5" x2="472.4" y2="733.5" stroke="#a00d0d" stroke-width="1"/>
<path d="M468.4,733.8 L470.6,730.2 L472.8,733.8Z" fill="#a00d0d"/>
<rect x="478.4" y="733.1" width="9.2" height="100.0" fill="#0000cc"/>
<line x1="483.0" y1="732.2" x2="483.0" y2="734.0" stroke="#5858f0" stroke-width="1"/>
<line x1="481.2" y1="732.2" x2="484.8" y2="732.2" stroke="#5858f0" stroke-width="1"/>
<line x1="481.2" y1="734.0" x2="484.8" y2="734.0" stroke="#5858f0" stroke-width="1"/>
<path d="M480.8,731.5 L483.0,735.1 L485.2,731.5Z" fill="#5858f0"/>
<text x="425.8" y="745.6" font-size="6.7" text-anchor="middle" fill="#222" stroke="#222" stroke-width="0.08">****</text>
<text x="438.6" y="751.4" font-size="6.7" text-anchor="middle" fill="#222" stroke="#222" stroke-width="0.08">***</text>
<text x="470.6" y="730.6" font-size="6.7" text-anchor="middle" fill="#222" stroke="#222" stroke-width="0.08">****</text>
<text x="483.0" y="734.5" font-size="6.7" text-anchor="middle" fill="#222" stroke="#222" stroke-width="0.08">****</text>
<line x1="404.4" y1="728.9" x2="404.4" y2="833.7" stroke="#231f20" stroke-width="1.1"/>
<line x1="404.4" y1="833.1" x2="493.1" y2="833.1" stroke="#231f20" stroke-width="1.1"/>
<line x1="402.4" y1="729.4" x2="404.4" y2="729.4" stroke="#231f20" stroke-width="1"/>
<text x="401.0" y="731.9" font-size="7" text-anchor="end" stroke="#111" stroke-width="0.08">128</text>
<line x1="402.4" y1="742.4" x2="404.4" y2="742.4" stroke="#231f20" stroke-width="1"/>
<text x="401.0" y="744.9" font-size="7" text-anchor="end" stroke="#111" stroke-width="0.08">64</text>
<line x1="402.4" y1="755.5" x2="404.4" y2="755.5" stroke="#231f20" stroke-width="1"/>
<text x="401.0" y="758.0" font-size="7" text-anchor="end" stroke="#111" stroke-width="0.08">32</text>
<line x1="402.4" y1="768.5" x2="404.4" y2="768.5" stroke="#231f20" stroke-width="1"/>
<text x="401.0" y="771.0" font-size="7" text-anchor="end" stroke="#111" stroke-width="0.08">16</text>
<line x1="402.4" y1="781.5" x2="404.4" y2="781.5" stroke="#231f20" stroke-width="1"/>
<text x="401.0" y="784.0" font-size="7" text-anchor="end" stroke="#111" stroke-width="0.08">8</text>
<line x1="402.4" y1="794.5" x2="404.4" y2="794.5" stroke="#231f20" stroke-width="1"/>
<text x="401.0" y="797.0" font-size="7" text-anchor="end" stroke="#111" stroke-width="0.08">4</text>
<line x1="402.4" y1="807.6" x2="404.4" y2="807.6" stroke="#231f20" stroke-width="1"/>
<text x="401.0" y="810.1" font-size="7" text-anchor="end" stroke="#111" stroke-width="0.08">2</text>
<line x1="402.4" y1="820.6" x2="404.4" y2="820.6" stroke="#231f20" stroke-width="1"/>
<text x="401.0" y="823.1" font-size="7" text-anchor="end" stroke="#111" stroke-width="0.08">1</text>
<line x1="402.4" y1="833.6" x2="404.4" y2="833.6" stroke="#231f20" stroke-width="1"/>
<text x="401.0" y="836.1" font-size="7" text-anchor="end" stroke="#111" stroke-width="0.08">0.5</text>
<text x="424.9" y="843.9" font-size="7" text-anchor="middle" stroke="#111" stroke-width="0.08">GSC468</text>
<text x="469.6" y="843.9" font-size="7" text-anchor="middle" stroke="#111" stroke-width="0.08">GSC3565</text>
<line x1="424.9" y1="833.1" x2="424.9" y2="835.1" stroke="#231f20" stroke-width="1"/>
<line x1="469.6" y1="833.1" x2="469.6" y2="835.1" stroke="#231f20" stroke-width="1"/>
<text x="376.4" y="779.9" font-size="7" text-anchor="middle" stroke="#111" stroke-width="0.08" transform="rotate(-90 376.4 779.9)">miRNA-590-3p mRNA expression</text>
<text x="385.2" y="779.9" font-size="7" text-anchor="middle" stroke="#111" stroke-width="0.08" transform="rotate(-90 385.2 779.9)">(Relatived to vector)</text>
<text x="353.1" y="841.8" font-size="11" fill="#000" font-weight="bold">o</text>
<text x="401.7" y="862.6" font-size="7" text-anchor="end" stroke="#111" stroke-width="0.08">vector</text>
<line x1="407.8" y1="860.2" x2="411.4" y2="860.2" stroke="#231f20" stroke-width="0.95"/>
<line x1="409.6" y1="858.4" x2="409.6" y2="862.0" stroke="#231f20" stroke-width="0.95"/>
<line x1="424.5" y1="861.2" x2="426.3" y2="861.2" stroke="#231f20" stroke-width="1"/>
<line x1="441.1" y1="861.2" x2="442.9" y2="861.2" stroke="#231f20" stroke-width="1"/>
<line x1="456.4" y1="860.2" x2="460.0" y2="860.2" stroke="#231f20" stroke-width="0.95"/>
<line x1="458.2" y1="858.4" x2="458.2" y2="862.0" stroke="#231f20" stroke-width="0.95"/>
<line x1="473.6" y1="861.2" x2="475.4" y2="861.2" stroke="#231f20" stroke-width="1"/>
<line x1="489.7" y1="861.2" x2="491.5" y2="861.2" stroke="#231f20" stroke-width="1"/>
<text x="401.7" y="873.1" font-size="7" text-anchor="end" stroke="#111" stroke-width="0.08">hsa-mir-590</text>
<line x1="408.7" y1="871.7" x2="410.5" y2="871.7" stroke="#231f20" stroke-width="1"/>
<line x1="423.6" y1="870.7" x2="427.2" y2="870.7" stroke="#231f20" stroke-width="0.95"/>
<line x1="425.4" y1="868.9" x2="425.4" y2="872.5" stroke="#231f20" stroke-width="0.95"/>
<line x1="441.1" y1="871.7" x2="442.9" y2="871.7" stroke="#231f20" stroke-width="1"/>
<line x1="457.3" y1="871.7" x2="459.1" y2="871.7" stroke="#231f20" stroke-width="1"/>
<line x1="472.7" y1="870.7" x2="476.3" y2="870.7" stroke="#231f20" stroke-width="0.95"/>
<line x1="474.5" y1="868.9" x2="474.5" y2="872.5" stroke="#231f20" stroke-width="0.95"/>
<line x1="489.7" y1="871.7" x2="491.5" y2="871.7" stroke="#231f20" stroke-width="1"/>
<text x="401.7" y="881.5" font-size="7" text-anchor="end" stroke="#111" stroke-width="0.08">hsa-mir-590-mutant</text>
<line x1="408.7" y1="880.1" x2="410.5" y2="880.1" stroke="#231f20" stroke-width="1"/>
<line x1="424.5" y1="880.1" x2="426.3" y2="880.1" stroke="#231f20" stroke-width="1"/>
<line x1="440.2" y1="879.1" x2="443.8" y2="879.1" stroke="#231f20" stroke-width="0.95"/>
<line x1="442.0" y1="877.3" x2="442.0" y2="880.9" stroke="#231f20" stroke-width="0.95"/>
<line x1="457.3" y1="880.1" x2="459.1" y2="880.1" stroke="#231f20" stroke-width="1"/>
<line x1="473.6" y1="880.1" x2="475.4" y2="880.1" stroke="#231f20" stroke-width="1"/>
<line x1="488.8" y1="879.1" x2="492.4" y2="879.1" stroke="#231f20" stroke-width="0.95"/>
<line x1="490.6" y1="877.3" x2="490.6" y2="880.9" stroke="#231f20" stroke-width="0.95"/>
<defs><filter id="bl" x="-50%" y="-100%" width="200%" height="300%"><feGaussianBlur stdDeviation="1.5"/></filter><filter id="bl2" x="-50%" y="-100%" width="200%" height="300%"><feGaussianBlur stdDeviation="0.95"/></filter></defs>
<rect x="402.2" y="886.2" width="47.4" height="18.4" fill="#dedede"/>
<rect x="450.1" y="886.2" width="47.0" height="18.4" fill="#e4e4e4"/>
<rect x="402.2" y="906.4" width="47.4" height="16.7" fill="#e6e6e6"/>
<rect x="450.1" y="906.4" width="47.0" height="16.7" fill="#e6e6e6"/>
<rect x="403.0" y="888.5" width="18.0" height="14.5" rx="2.5" fill="#a8a8a8" filter="url(#bl)"/>
<rect x="433.0" y="888.0" width="16.0" height="15.5" rx="2.5" fill="#989898" filter="url(#bl)"/>
<rect x="452.0" y="889.0" width="16.0" height="13.0" rx="2.5" fill="#bdbdbd" filter="url(#bl)"/>
<rect x="481.0" y="889.0" width="16.0" height="13.0" rx="2.5" fill="#c2c2c2" filter="url(#bl)"/>
<rect x="405.1" y="891.8" width="13.1" height="8.0" rx="2.5" fill="#333" filter="url(#bl)"/>
<rect x="407.5" y="892.8" width="9.5" height="6.2" rx="2" fill="#0a0a0a" filter="url(#bl)"/>
<rect x="420.4" y="892.5" width="12.4" height="6.5" rx="2.5" fill="#cfcfcf" filter="url(#bl)"/>
<rect x="435.0" y="891.0" width="12.4" height="8.8" rx="2.5" fill="#1a1a1a" filter="url(#bl)"/>
<rect x="436.0" y="892.0" width="11.0" height="7.3" rx="2" fill="#000" filter="url(#bl)"/>
<rect x="454.0" y="891.5" width="11.7" height="8.0" rx="2.5" fill="#555" filter="url(#bl)"/>
<rect x="455.5" y="892.8" width="9.5" height="5.7" rx="2" fill="#333" filter="url(#bl)"/>
<rect x="468.6" y="893.0" width="11.7" height="5.5" rx="2.5" fill="#dcdcdc" filter="url(#bl)"/>
<rect x="483.2" y="891.5" width="12.4" height="8.0" rx="2.5" fill="#5a5a5a" filter="url(#bl)"/>
<rect x="484.5" y="892.8" width="10.5" height="5.7" rx="2" fill="#383838" filter="url(#bl)"/>
<rect x="403.6" y="912.9" width="44.6" height="5.1" rx="2" fill="#101010" filter="url(#bl2)"/>
<rect x="452.3" y="912.5" width="13.4" height="6.0" rx="2" fill="#101010" filter="url(#bl2)"/>
<rect x="468.3" y="914.0" width="12.7" height="3.5" rx="1.5" fill="#202020" filter="url(#bl2)"/>
<rect x="481.8" y="912.7" width="14.6" height="5.6" rx="2" fill="#101010" filter="url(#bl2)"/>
<rect x="402.2" y="886.2" width="47.4" height="18.4" fill="none" stroke="#2a1f1e" stroke-width="1.1"/>
<rect x="450.1" y="886.2" width="47.0" height="18.4" fill="none" stroke="#2a1f1e" stroke-width="1.1"/>
<rect x="402.2" y="906.4" width="47.4" height="16.7" fill="none" stroke="#2a1f1e" stroke-width="1.1"/>
<rect x="450.1" y="906.4" width="47.0" height="16.7" fill="none" stroke="#2a1f1e" stroke-width="1.1"/>
<text x="401.7" y="896.1" font-size="7" text-anchor="end" stroke="#111" stroke-width="0.08">MYC</text>
<text x="401.7" y="917.1" font-size="7" text-anchor="end" stroke="#111" stroke-width="0.08">GAPDH</text>
<line x1="499.0" y1="890.4" x2="502.8" y2="890.4" stroke="#231f20" stroke-width="1"/>
<text x="503.0" y="893.0" font-size="7" stroke="#111" stroke-width="0.08">55kd</text>
<line x1="499.0" y1="918.9" x2="502.8" y2="918.9" stroke="#231f20" stroke-width="1"/>
<text x="503.0" y="921.5" font-size="7" stroke="#111" stroke-width="0.08">35kd</text>
<text x="423.8" y="932.8" font-size="7" text-anchor="middle" stroke="#111" stroke-width="0.08">GSC468</text>
<text x="472.8" y="932.8" font-size="7" text-anchor="middle" stroke="#111" stroke-width="0.08">GSC3565</text>
<text x="520.0" y="713.6" font-size="11" fill="#000" font-weight="bold">p</text>
<text x="614.8" y="707.9" font-size="7" text-anchor="middle" stroke="#111" stroke-width="0.08">GSC468</text>
<line x1="557.7" y1="714.2" x2="557.7" y2="794.4" stroke="#231f20" stroke-width="1.1"/>
<line x1="557.7" y1="793.8" x2="676.3" y2="793.8" stroke="#231f20" stroke-width="1.6"/>
<line x1="555.7" y1="793.8" x2="557.7" y2="793.8" stroke="#231f20" stroke-width="1"/>
<text x="554.9" y="796.3" font-size="7" text-anchor="end" stroke="#111" stroke-width="0.08">0</text>
<line x1="555.7" y1="767.4" x2="557.7" y2="767.4" stroke="#231f20" stroke-width="1"/>
<text x="554.9" y="769.9" font-size="7" text-anchor="end" stroke="#111" stroke-width="0.08">5</text>
<line x1="555.7" y1="741.1" x2="557.7" y2="741.1" stroke="#231f20" stroke-width="1"/>
<text x="554.9" y="743.6" font-size="7" text-anchor="end" stroke="#111" stroke-width="0.08">10</text>
<line x1="555.7" y1="714.8" x2="557.7" y2="714.8" stroke="#231f20" stroke-width="1"/>
<text x="554.9" y="717.2" font-size="7" text-anchor="end" stroke="#111" stroke-width="0.08">15</text>
<line x1="557.7" y1="793.8" x2="557.7" y2="795.8" stroke="#231f20" stroke-width="1"/>
<text x="557.7" y="803.7" font-size="7" text-anchor="middle" stroke="#111" stroke-width="0.08">0</text>
<line x1="597.2" y1="793.8" x2="597.2" y2="795.8" stroke="#231f20" stroke-width="1"/>
<text x="597.2" y="803.7" font-size="7" text-anchor="middle" stroke="#111" stroke-width="0.08">2</text>
<line x1="636.8" y1="793.8" x2="636.8" y2="795.8" stroke="#231f20" stroke-width="1"/>
<text x="636.8" y="803.7" font-size="7" text-anchor="middle" stroke="#111" stroke-width="0.08">4</text>
<line x1="676.3" y1="793.8" x2="676.3" y2="795.8" stroke="#231f20" stroke-width="1"/>
<text x="676.3" y="803.7" font-size="7" text-anchor="middle" stroke="#111" stroke-width="0.08">6</text>
<text x="617.0" y="812.9" font-size="7" text-anchor="middle" stroke="#111" stroke-width="0.08">Time (Days)</text>
<text x="543.5" y="755.8" font-size="7" text-anchor="middle" stroke="#111" stroke-width="0.08" transform="rotate(-90 543.5 755.8)">Normalized cell viability</text>
<path d="M557.7,788.5 L597.2,782.7 L636.8,764.8 L676.3,748.5" fill="none" stroke="#000" stroke-width="1.4"/>
<line x1="636.8" y1="768.0" x2="636.8" y2="761.1" stroke="#000" stroke-width="0.9"/>
<line x1="635.5" y1="768.0" x2="638.1" y2="768.0" stroke="#000" stroke-width="0.9"/>
<line x1="635.5" y1="761.1" x2="638.1" y2="761.1" stroke="#000" stroke-width="0.9"/>
<line x1="676.3" y1="756.9" x2="676.3" y2="740.0" stroke="#000" stroke-width="0.9"/>
<line x1="675.0" y1="756.9" x2="677.6" y2="756.9" stroke="#000" stroke-width="0.9"/>
<line x1="675.0" y1="740.0" x2="677.6" y2="740.0" stroke="#000" stroke-width="0.9"/>
<circle cx="557.7" cy="788.5" r="1.4" fill="#000"/>
<circle cx="597.2" cy="782.7" r="1.4" fill="#000"/>
<circle cx="636.8" cy="764.8" r="1.4" fill="#000"/>
<circle cx="676.3" cy="748.5" r="1.4" fill="#000"/>
<path d="M557.7,788.5 L597.2,782.2 L636.8,766.4 L676.3,742.2" fill="none" stroke="#1a1aff" stroke-width="1.4"/>
<line x1="676.3" y1="750.6" x2="676.3" y2="733.2" stroke="#1a1aff" stroke-width="0.9"/>
<line x1="675.0" y1="750.6" x2="677.6" y2="750.6" stroke="#1a1aff" stroke-width="0.9"/>
<line x1="675.0" y1="733.2" x2="677.6" y2="733.2" stroke="#1a1aff" stroke-width="0.9"/>
<circle cx="557.7" cy="788.5" r="1.4" fill="#1a1aff"/>
<circle cx="597.2" cy="782.2" r="1.4" fill="#1a1aff"/>
<circle cx="636.8" cy="766.4" r="1.4" fill="#1a1aff"/>
<circle cx="676.3" cy="742.2" r="1.4" fill="#1a1aff"/>
<path d="M557.7,788.5 L597.2,784.3 L636.8,785.4 L676.3,781.7" fill="none" stroke="#ff0000" stroke-width="1.4"/>
<line x1="676.3" y1="783.3" x2="676.3" y2="780.1" stroke="#ff0000" stroke-width="0.9"/>
<line x1="675.0" y1="783.3" x2="677.6" y2="783.3" stroke="#ff0000" stroke-width="0.9"/>
<line x1="675.0" y1="780.1" x2="677.6" y2="780.1" stroke="#ff0000" stroke-width="0.9"/>
<circle cx="557.7" cy="788.5" r="1.4" fill="#ff0000"/>
<circle cx="597.2" cy="784.3" r="1.4" fill="#ff0000"/>
<circle cx="636.8" cy="785.4" r="1.4" fill="#ff0000"/>
<circle cx="676.3" cy="781.7" r="1.4" fill="#ff0000"/>
<line x1="565.9" y1="716.6" x2="575.8" y2="716.6" stroke="#000" stroke-width="1.4"/>
<circle cx="570.9" cy="716.6" r="1.4" fill="#000"/>
<text x="579.0" y="719.1" font-size="6.9" stroke="#111" stroke-width="0.08">vector</text>
<line x1="565.9" y1="726.0" x2="575.8" y2="726.0" stroke="#ff0000" stroke-width="1.4"/>
<circle cx="570.9" cy="726.0" r="1.4" fill="#ff0000"/>
<text x="579.0" y="728.5" font-size="6.9" stroke="#111" stroke-width="0.08">hsa-mir-590</text>
<line x1="565.9" y1="735.2" x2="575.8" y2="735.2" stroke="#1a1aff" stroke-width="1.4"/>
<circle cx="570.9" cy="735.2" r="1.4" fill="#1a1aff"/>
<text x="579.0" y="737.7" font-size="6.9" stroke="#111" stroke-width="0.08">hsa-mir-590-mutant</text>
<text x="519.5" y="841.4" font-size="11" fill="#000" font-weight="bold">q</text>
<text x="614.3" y="826.5" font-size="7" text-anchor="middle" stroke="#111" stroke-width="0.08">GSC3565</text>
<line x1="555.2" y1="832.9" x2="555.2" y2="916.4" stroke="#231f20" stroke-width="1.1"/>
<line x1="555.2" y1="915.8" x2="679.3" y2="915.8" stroke="#231f20" stroke-width="1.6"/>
<line x1="553.2" y1="915.8" x2="555.2" y2="915.8" stroke="#231f20" stroke-width="1"/>
<text x="552.4" y="918.3" font-size="7" text-anchor="end" stroke="#111" stroke-width="0.08">0</text>
<line x1="553.2" y1="888.3" x2="555.2" y2="888.3" stroke="#231f20" stroke-width="1"/>
<text x="552.4" y="890.8" font-size="7" text-anchor="end" stroke="#111" stroke-width="0.08">5</text>
<line x1="553.2" y1="860.9" x2="555.2" y2="860.9" stroke="#231f20" stroke-width="1"/>
<text x="552.4" y="863.4" font-size="7" text-anchor="end" stroke="#111" stroke-width="0.08">10</text>
<line x1="553.2" y1="833.4" x2="555.2" y2="833.4" stroke="#231f20" stroke-width="1"/>
<text x="552.4" y="835.9" font-size="7" text-anchor="end" stroke="#111" stroke-width="0.08">15</text>
<line x1="555.2" y1="915.8" x2="555.2" y2="917.8" stroke="#231f20" stroke-width="1"/>
<text x="555.2" y="927.2" font-size="7" text-anchor="middle" stroke="#111" stroke-width="0.08">0</text>
<line x1="596.6" y1="915.8" x2="596.6" y2="917.8" stroke="#231f20" stroke-width="1"/>
<text x="596.6" y="927.2" font-size="7" text-anchor="middle" stroke="#111" stroke-width="0.08">2</text>
<line x1="637.9" y1="915.8" x2="637.9" y2="917.8" stroke="#231f20" stroke-width="1"/>
<text x="637.9" y="927.2" font-size="7" text-anchor="middle" stroke="#111" stroke-width="0.08">4</text>
<line x1="679.3" y1="915.8" x2="679.3" y2="917.8" stroke="#231f20" stroke-width="1"/>
<text x="679.3" y="927.2" font-size="7" text-anchor="middle" stroke="#111" stroke-width="0.08">6</text>
<text x="617.2" y="935.4" font-size="7" text-anchor="middle" stroke="#111" stroke-width="0.08">Time (Days)</text>
<text x="543.5" y="875.8" font-size="7" text-anchor="middle" stroke="#111" stroke-width="0.08" transform="rotate(-90 543.5 875.8)">Normalized cell viability</text>
<path d="M555.2,910.3 L596.6,905.9 L637.9,892.7 L679.3,862.0" fill="none" stroke="#000" stroke-width="1.4"/>
<line x1="637.9" y1="896.6" x2="637.9" y2="889.4" stroke="#000" stroke-width="0.9"/>
<line x1="636.6" y1="896.6" x2="639.2" y2="896.6" stroke="#000" stroke-width="0.9"/>
<line x1="636.6" y1="889.4" x2="639.2" y2="889.4" stroke="#000" stroke-width="0.9"/>
<line x1="679.3" y1="870.8" x2="679.3" y2="855.4" stroke="#000" stroke-width="0.9"/>
<line x1="678.0" y1="870.8" x2="680.6" y2="870.8" stroke="#000" stroke-width="0.9"/>
<line x1="678.0" y1="855.4" x2="680.6" y2="855.4" stroke="#000" stroke-width="0.9"/>
<circle cx="555.2" cy="910.3" r="1.4" fill="#000"/>
<circle cx="596.6" cy="905.9" r="1.4" fill="#000"/>
<circle cx="637.9" cy="892.7" r="1.4" fill="#000"/>
<circle cx="679.3" cy="862.0" r="1.4" fill="#000"/>
<path d="M555.2,910.3 L596.6,903.2 L637.9,889.4 L679.3,855.9" fill="none" stroke="#1a1aff" stroke-width="1.4"/>
<line x1="679.3" y1="859.8" x2="679.3" y2="852.1" stroke="#1a1aff" stroke-width="0.9"/>
<line x1="678.0" y1="859.8" x2="680.6" y2="859.8" stroke="#1a1aff" stroke-width="0.9"/>
<line x1="678.0" y1="852.1" x2="680.6" y2="852.1" stroke="#1a1aff" stroke-width="0.9"/>
<circle cx="555.2" cy="910.3" r="1.4" fill="#1a1aff"/>
<circle cx="596.6" cy="903.2" r="1.4" fill="#1a1aff"/>
<circle cx="637.9" cy="889.4" r="1.4" fill="#1a1aff"/>
<circle cx="679.3" cy="855.9" r="1.4" fill="#1a1aff"/>
<path d="M555.2,910.3 L596.6,911.4 L637.9,910.0 L679.3,907.0" fill="none" stroke="#ff0000" stroke-width="1.4"/>
<line x1="679.3" y1="909.2" x2="679.3" y2="904.8" stroke="#ff0000" stroke-width="0.9"/>
<line x1="678.0" y1="909.2" x2="680.6" y2="909.2" stroke="#ff0000" stroke-width="0.9"/>
<line x1="678.0" y1="904.8" x2="680.6" y2="904.8" stroke="#ff0000" stroke-width="0.9"/>
<circle cx="555.2" cy="910.3" r="1.4" fill="#ff0000"/>
<circle cx="596.6" cy="911.4" r="1.4" fill="#ff0000"/>
<circle cx="637.9" cy="910.0" r="1.4" fill="#ff0000"/>
<circle cx="679.3" cy="907.0" r="1.4" fill="#ff0000"/>
<line x1="563.4" y1="835.6" x2="573.3" y2="835.6" stroke="#000" stroke-width="1.4"/>
<circle cx="568.4" cy="835.6" r="1.4" fill="#000"/>
<text x="577.5" y="838.1" font-size="6.9" stroke="#111" stroke-width="0.08">vector</text>
<line x1="563.4" y1="845.2" x2="573.3" y2="845.2" stroke="#ff0000" stroke-width="1.4"/>
<circle cx="568.4" cy="845.2" r="1.4" fill="#ff0000"/>
<text x="577.5" y="847.7" font-size="6.9" stroke="#111" stroke-width="0.08">hsa-mir-590</text>
<line x1="563.4" y1="855.2" x2="573.3" y2="855.2" stroke="#1a1aff" stroke-width="1.4"/>
<circle cx="568.4" cy="855.2" r="1.4" fill="#1a1aff"/>
<text x="577.5" y="857.7" font-size="6.9" stroke="#111" stroke-width="0.08">hsa-mir-590-mutant</text>
</svg></body></html>
